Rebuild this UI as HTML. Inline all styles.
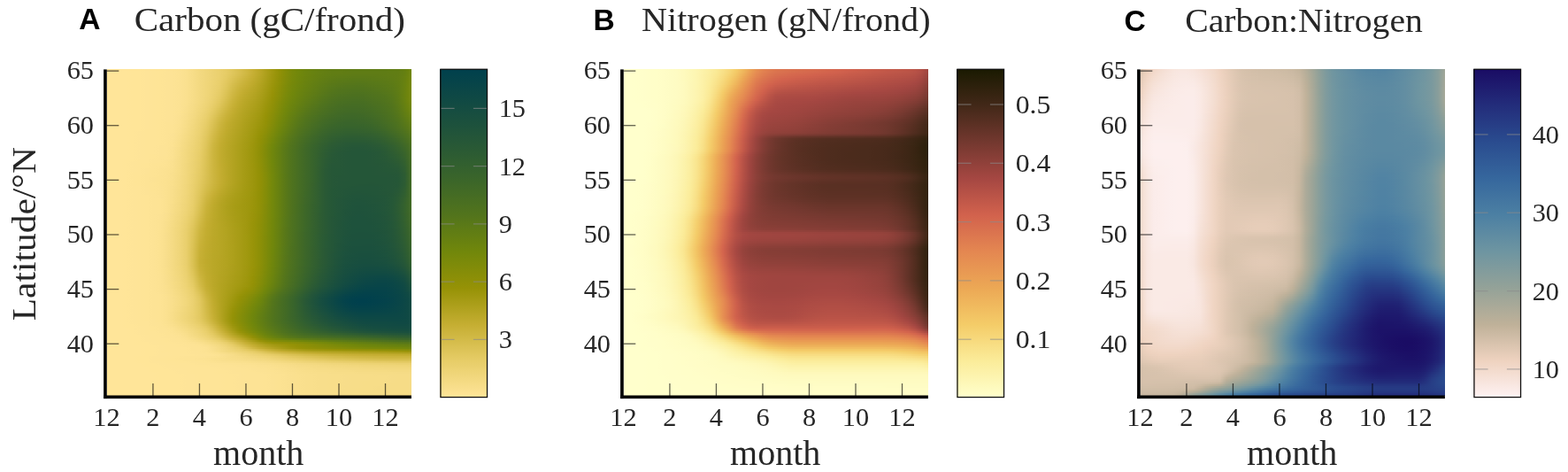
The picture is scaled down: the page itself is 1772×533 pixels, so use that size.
<!DOCTYPE html>
<html><head><meta charset="utf-8"><title>Carbon, Nitrogen and Carbon:Nitrogen by latitude and month</title>
<style>
html,body{margin:0;padding:0;background:#fff}
#fig{position:relative;width:1772px;height:533px;overflow:hidden;background:#fff}
.hm{position:absolute;overflow:hidden}
.hm div{position:absolute;left:0;right:0}
.cb{position:absolute;top:78px;width:53.5px;height:371px}
svg{position:absolute;left:0;top:0}
text.s{font-family:"Liberation Serif",serif;fill:#262626}
text.b{font-family:"Liberation Sans",sans-serif;font-weight:bold;fill:#000}
.tk{fill:#000;fill-opacity:.62}
.ck{fill:#8a8a8a;fill-opacity:.62}
</style></head><body><div id="fig">
<div class="hm" style="left:120.50px;top:78.40px;width:344.40px;height:368.40px"><div style="top:0px;height:2.5px;background:linear-gradient(90deg,#ffe599,#ffe599,#ffe599,#ffe599,#ffe598,#ffe598,#fee498,#fee497,#fee496,#fde396,#fde395,#fce293,#fae08f,#f7dd88,#f3d981,#f0d67b,#edd375,#ead06e,#e6cc66,#dfc65c,#d8bf50,#d0b843,#c7b035,#bca829,#aea01c,#a0980f,#929107,#848d08,#78890a,#71870b,#6c840e,#688210,#658012,#637e13,#617d14,#617d14,#607c14,#5f7c15,#5f7c15,#5f7c15,#5f7c15,#5f7c15,#5f7c15,#607d14,#617d14,#658011,#72870b)"></div><div style="top:2px;height:2.5px;background:linear-gradient(90deg,#ffe599,#ffe599,#ffe599,#ffe599,#ffe598,#ffe598,#fee498,#fee497,#fee496,#fde396,#fde395,#fce293,#fae08f,#f7dd88,#f3d981,#f0d67b,#edd375,#ead06e,#e6cc66,#dfc65c,#d8bf50,#d0b843,#c7b035,#bca829,#aea01c,#a0980f,#929107,#848d08,#78890a,#71870b,#6c840e,#688210,#658012,#637e13,#617d14,#617d14,#607c14,#5f7c15,#5f7c15,#5f7c15,#5f7c15,#5f7c15,#5f7c15,#607d14,#617d14,#658011,#72870b)"></div><div style="top:4px;height:2.5px;background:linear-gradient(90deg,#ffe599,#ffe599,#ffe599,#ffe599,#ffe598,#ffe598,#fee498,#fee497,#fee496,#fde396,#fde395,#fce293,#fae08f,#f7dd88,#f3d981,#f0d67b,#edd375,#ead06e,#e6cc66,#dfc65c,#d8bf50,#d0b843,#c7b035,#bca829,#aea01c,#a0980f,#929107,#848d08,#78890a,#71870b,#6c840e,#688210,#658012,#637e13,#617d14,#617d14,#607c14,#5f7c15,#5f7c15,#5f7c15,#5f7c15,#5f7c15,#5f7c15,#607d14,#617d14,#658011,#72870b)"></div><div style="top:6px;height:2.5px;background:linear-gradient(90deg,#ffe599,#ffe599,#ffe599,#ffe599,#ffe598,#ffe598,#fee498,#fee497,#fee496,#fde396,#fde395,#fce293,#fae08f,#f7dd88,#f3d981,#f0d67b,#edd375,#ead06e,#e5cb65,#dec55a,#d6be4e,#ceb741,#c6af34,#bba828,#ada01c,#9f970e,#919107,#848d08,#78890a,#70870b,#6c840e,#688110,#647f12,#627e13,#607d14,#5f7c15,#5e7c15,#5e7b16,#5d7b16,#5d7b16,#5e7b16,#5e7b15,#5f7c15,#607c15,#617d14,#668011,#73880b)"></div><div style="top:8px;height:2.5px;background:linear-gradient(90deg,#ffe599,#ffe599,#ffe599,#ffe599,#ffe598,#ffe598,#fee498,#fee497,#fee496,#fde396,#fde395,#fce293,#fae08f,#f7dd88,#f3d981,#f0d67b,#edd375,#ead06e,#e4cb64,#ddc457,#d5bc4b,#cdb53e,#c5ae32,#b9a727,#ac9f1b,#9e970e,#919007,#838c09,#77890a,#70860c,#6b830e,#678110,#647f12,#617d14,#5f7c15,#5e7b16,#5d7b16,#5c7a17,#5c7a17,#5c7a17,#5c7a16,#5d7b16,#5e7b16,#5f7c15,#617d14,#678111,#74880b)"></div><div style="top:10px;height:2.5px;background:linear-gradient(90deg,#ffe599,#ffe599,#ffe599,#ffe599,#ffe598,#ffe598,#fee498,#fee497,#fee496,#fde396,#fde395,#fce293,#fae08f,#f7dd88,#f3d981,#f0d67b,#edd374,#ead06d,#e4ca63,#dbc255,#d3bb48,#cbb43c,#c3ad30,#b8a626,#ab9f1a,#9e970d,#909007,#838c09,#77890a,#70860c,#6b830e,#678111,#637e13,#607c14,#5e7b16,#5c7a17,#5b7a17,#5a7917,#5a7918,#5a7918,#5b7a17,#5c7a17,#5d7b16,#5e7c15,#617d14,#678110,#75880a)"></div><div style="top:12px;height:2.5px;background:linear-gradient(90deg,#ffe599,#ffe599,#ffe599,#ffe599,#ffe598,#ffe598,#fee498,#fee497,#fee496,#fde396,#fde395,#fce293,#fae08f,#f7dd88,#f3d981,#f0d67b,#edd374,#e9cf6d,#e3c961,#dac153,#d1b945,#cab23a,#c2ac2f,#b7a625,#aa9e19,#9d960c,#8f9007,#828c09,#76890a,#6f860c,#6a830f,#668011,#627e13,#5f7c15,#5c7a16,#5a7917,#597918,#587818,#587819,#597818,#5a7918,#5b7917,#5c7a17,#5e7b16,#617d14,#688110,#76880a)"></div><div style="top:14px;height:2.5px;background:linear-gradient(90deg,#ffe599,#ffe599,#ffe599,#ffe599,#ffe598,#ffe598,#fee498,#fee497,#fee496,#fde396,#fde395,#fce293,#fae08f,#f7dd88,#f3d981,#f0d67a,#edd374,#e9cf6c,#e2c860,#d8c051,#cfb843,#c8b137,#c0ab2d,#b6a524,#a99e18,#9c960c,#8f9007,#818c09,#76880a,#6f850c,#69820f,#658012,#617d14,#5e7b16,#5b7917,#597818,#587719,#577719,#56771a,#577719,#587819,#597918,#5b7917,#5d7b16,#607d14,#688110,#77890a)"></div><div style="top:16px;height:2.5px;background:linear-gradient(90deg,#ffe599,#ffe599,#ffe599,#ffe599,#ffe598,#ffe598,#fee498,#fee497,#fee496,#fde396,#fde395,#fce293,#fae08f,#f7dd88,#f3d981,#f0d67a,#edd374,#e9cf6b,#e1c75e,#d7be4e,#ceb640,#c7b035,#bfaa2c,#b4a422,#a89d17,#9b950b,#8e9007,#808c09,#75880a,#6e850d,#698210,#647f12,#607d14,#5c7a16,#597818,#577719,#56761a,#55761a,#54761b,#55761a,#577719,#587819,#5a7918,#5c7a16,#607d14,#688210,#77890a)"></div><div style="top:18px;height:2.5px;background:linear-gradient(90deg,#ffe599,#ffe599,#ffe599,#ffe599,#ffe598,#ffe598,#fee498,#fee497,#fee496,#fde396,#fde395,#fce293,#fae08f,#f7dd88,#f3d981,#f0d67a,#ecd273,#e8ce6b,#e0c75d,#d5bd4c,#ccb53e,#c6ae33,#bda92a,#b3a321,#a79c16,#9a950a,#8d8f07,#7f8b09,#74880b,#6d850d,#688210,#637f12,#5f7c15,#5b7a17,#587819,#56761a,#54751b,#53751b,#53741c,#54751b,#56761a,#577719,#597818,#5b7a17,#607c14,#688210,#78890a)"></div><div style="top:20px;height:2.5px;background:linear-gradient(90deg,#ffe599,#ffe599,#ffe599,#ffe599,#ffe598,#ffe598,#fee498,#fee497,#fee496,#fde396,#fde395,#fce293,#fae08f,#f7dd88,#f3d981,#f0d67a,#ecd273,#e8ce6a,#dfc65b,#d4bc4a,#cbb33b,#c4ad31,#bba829,#b2a320,#a69c15,#999409,#8c8f07,#7e8b09,#74880b,#6d840d,#678110,#637e13,#5e7b15,#5a7918,#56771a,#54751b,#53741c,#52741c,#51741c,#52741c,#54751b,#56761a,#587819,#5a7917,#5f7c15,#698210,#78890a)"></div><div style="top:22px;height:2.5px;background:linear-gradient(90deg,#ffe599,#ffe599,#ffe599,#ffe599,#ffe598,#ffe598,#fee498,#fee497,#fee496,#fde396,#fde395,#fce293,#fae08f,#f7dd88,#f3d981,#f0d67a,#ecd272,#e7cd69,#dec55a,#d3bb48,#c9b239,#c2ac2f,#baa728,#b1a21f,#a59b14,#999408,#8b8f07,#7e8b09,#73880b,#6c840e,#668111,#627e13,#5d7b16,#597818,#55761a,#52741c,#51731d,#50731d,#50731d,#51731d,#53741c,#55761b,#577719,#5a7918,#5f7c15,#698210,#78890a)"></div><div style="top:24px;height:2.5px;background:linear-gradient(90deg,#ffe599,#ffe599,#ffe599,#ffe599,#ffe598,#ffe598,#fee498,#fee497,#fee496,#fde396,#fde395,#fce293,#fae08f,#f7dd88,#f3d981,#f0d67a,#ecd272,#e7cd68,#ddc458,#d1b946,#c8b137,#c0ab2e,#b9a726,#b0a11e,#a49b14,#989307,#8a8f08,#7d8a09,#72870b,#6b830e,#668011,#617d14,#5c7a17,#577719,#53751b,#51731d,#50731d,#4f721e,#4f721e,#50731d,#51741c,#53751b,#56761a,#597818,#5f7c15,#698210,#78890a)"></div><div style="top:26px;height:2.5px;background:linear-gradient(90deg,#ffe599,#ffe599,#ffe599,#ffe599,#ffe598,#ffe598,#fee498,#fee497,#fee496,#fde396,#fde395,#fce293,#fae08f,#f7dd88,#f3d981,#f0d67a,#ecd271,#e6cc67,#dcc356,#d0b844,#c7b035,#bfaa2c,#b7a625,#aea11d,#a39a13,#979207,#898e08,#7c8a0a,#71870b,#6a830f,#657f12,#607c14,#5b7917,#56761a,#52741c,#50731d,#4f721e,#4e711f,#4d711f,#4e721e,#50731d,#52741c,#55761b,#587819,#5e7c15,#698210,#78890a)"></div><div style="top:28px;height:2.5px;background:linear-gradient(90deg,#ffe599,#ffe599,#ffe599,#ffe599,#ffe598,#ffe598,#fee498,#fee497,#fee496,#fde396,#fde395,#fce293,#fae08f,#f7dd88,#f3d981,#f0d67a,#ebd171,#e5cc66,#dbc255,#cfb742,#c6af33,#bda92b,#b6a524,#ada01c,#a29912,#969206,#898e08,#7b8a0a,#70870b,#6a820f,#647f12,#5f7c15,#5a7918,#55761b,#51731d,#4e721e,#4d711f,#4c701f,#4c701f,#4d711f,#4f721e,#51731d,#53751b,#577719,#5e7b15,#69820f,#78890a)"></div><div style="top:30px;height:2.5px;background:linear-gradient(90deg,#ffe599,#ffe599,#ffe599,#ffe599,#ffe598,#ffe598,#fee498,#fee497,#fee496,#fde396,#fde395,#fce293,#fae08f,#f7dd88,#f3d981,#f0d679,#ebd170,#e5cb64,#dac153,#ceb640,#c4ae31,#bca92a,#b5a423,#ac9f1b,#a19911,#959206,#888e08,#7a8a0a,#70860c,#69820f,#637e13,#5e7b16,#587818,#53751b,#50721d,#4d711f,#4c7020,#4b7020,#4b6f20,#4c7020,#4e721e,#50731d,#52741c,#56771a,#5d7b16,#69820f,#78890a)"></div><div style="top:32px;height:2.5px;background:linear-gradient(90deg,#ffe599,#ffe599,#ffe599,#ffe599,#ffe598,#ffe598,#fee498,#fee497,#fee496,#fde396,#fde395,#fce293,#fae08f,#f7dd88,#f3d981,#efd579,#ebd16f,#e4ca63,#d9c051,#cdb53e,#c3ad30,#bba828,#b4a422,#ab9f1a,#a09810,#949106,#878d08,#79890a,#6f860c,#688110,#627e13,#5d7a16,#577719,#52741c,#4e721e,#4c7020,#4b6f20,#4a6f21,#4a6f21,#4b6f20,#4d711f,#4f721e,#51741c,#55761a,#5d7b16,#698210,#78890a)"></div><div style="top:34px;height:2.5px;background:linear-gradient(90deg,#ffe599,#ffe599,#ffe599,#ffe599,#ffe598,#ffe598,#fee498,#fee497,#fee496,#fde396,#fde395,#fce293,#fae08f,#f7dd88,#f3d981,#efd579,#ead06f,#e3c961,#d7bf4f,#cbb43c,#c2ac2f,#b9a727,#b2a321,#aa9e19,#9f980f,#939106,#868d08,#78890a,#6e850d,#678110,#617d14,#5b7a17,#56761a,#51731d,#4d711f,#4b6f20,#496f21,#496e22,#486e22,#4a6f21,#4c7020,#4e721e,#51731d,#54761b,#5c7a16,#688210,#78890a)"></div><div style="top:36px;height:2.5px;background:linear-gradient(90deg,#ffe599,#ffe599,#ffe599,#ffe599,#ffe598,#ffe598,#fee498,#fee497,#fee496,#fde396,#fde395,#fce293,#fae08f,#f7dd88,#f3d980,#efd578,#ead06d,#e2c85f,#d6bd4d,#cab33a,#c0ab2e,#b8a626,#b1a21f,#a99d18,#9e970e,#929107,#848d08,#77890a,#6d850d,#668011,#607c15,#5a7918,#54751b,#50731d,#4c7020,#496f21,#486e22,#476d22,#476d22,#486e22,#4b6f20,#4d711f,#50731d,#54751b,#5c7a17,#688110,#77890a)"></div><div style="top:38px;height:2.5px;background:linear-gradient(90deg,#ffe599,#ffe599,#ffe599,#ffe599,#ffe598,#ffe598,#fee498,#fee497,#fee496,#fde396,#fde395,#fce293,#fae08e,#f6dc88,#f3d980,#eed477,#e9cf6c,#e0c75d,#d4bc4a,#c9b238,#bfaa2c,#b7a625,#b0a11e,#a89d17,#9d960d,#919107,#838c09,#76880a,#6c840e,#658012,#5e7c15,#597818,#53751c,#4e721e,#4b6f20,#486e22,#476d22,#466d23,#466d23,#476d22,#4a6f21,#4c701f,#4f721e,#53741c,#5b7a17,#678110,#76880a)"></div><div style="top:40px;height:2.5px;background:linear-gradient(90deg,#ffe599,#ffe599,#ffe599,#ffe599,#ffe598,#ffe598,#fee498,#fee497,#fee496,#fde396,#fde395,#fce293,#fae08e,#f6dc87,#f2d87f,#eed476,#e8ce6a,#dfc55b,#d3bb48,#c8b136,#beaa2b,#b6a524,#afa11d,#a79c16,#9c960c,#909007,#828c09,#75880b,#6b830e,#647f12,#5d7b16,#577719,#51741c,#4d711f,#4a6f21,#476d22,#466c23,#456c24,#456c24,#466d23,#496e21,#4b7020,#4e721e,#52741c,#5a7918,#668011,#74880b)"></div><div style="top:42px;height:2.5px;background:linear-gradient(90deg,#ffe599,#ffe599,#ffe599,#ffe599,#ffe598,#ffe598,#fee498,#fee497,#fee496,#fde396,#fde395,#fce293,#f9df8e,#f6dc86,#f2d87e,#edd375,#e7cd68,#ddc458,#d1b945,#c7af35,#bda92a,#b5a423,#aea01c,#a69c15,#9b950b,#8f9007,#818c09,#73880b,#6a830f,#627e13,#5c7a17,#56761a,#50731d,#4c7020,#486e22,#466c23,#446b24,#446b24,#446b24,#456c23,#476d22,#4a6f21,#4d711f,#51731c,#597818,#658011,#73880b)"></div><div style="top:44px;height:2.5px;background:linear-gradient(90deg,#ffe599,#ffe599,#ffe599,#ffe599,#ffe598,#ffe598,#fee498,#fee497,#fee496,#fde396,#fde395,#fce293,#f9df8d,#f6dc86,#f1d77d,#edd373,#e6cc66,#dbc255,#d0b843,#c5ae33,#bba829,#b4a422,#ad9f1b,#a59b14,#9a950a,#8e9007,#808b09,#72870b,#69820f,#617d14,#5a7917,#54751b,#4f721e,#4b6f20,#476d22,#456c24,#436b25,#436a25,#436a25,#446b24,#466d23,#496f21,#4c711f,#50731d,#587819,#647f12,#71870b)"></div><div style="top:46px;height:2.5px;background:linear-gradient(90deg,#ffe599,#ffe599,#ffe599,#ffe599,#ffe598,#ffe598,#fee498,#fee497,#fee496,#fde396,#fde395,#fce292,#f9df8d,#f5db85,#f1d77c,#ecd272,#e5cb64,#d9c152,#ceb640,#c4ad31,#baa828,#b2a321,#ac9f1a,#a49a13,#999409,#8d8f07,#7e8b09,#71870b,#688110,#607c14,#597818,#52741c,#4e711f,#496f21,#466c23,#436b25,#426a25,#416a26,#426a26,#436b25,#456c23,#486e22,#4c7020,#50731d,#577719,#637e13,#6f860c)"></div><div style="top:48px;height:2.5px;background:linear-gradient(90deg,#ffe599,#ffe599,#ffe599,#ffe599,#ffe598,#ffe598,#fee498,#fee497,#fee496,#fde396,#fde395,#fce292,#f9df8c,#f5db84,#f0d67b,#ebd171,#e3ca62,#d8bf50,#ccb53e,#c3ad30,#b9a727,#b1a220,#aa9e19,#a39a12,#989308,#8b8f07,#7d8b09,#70860c,#668111,#5e7c15,#577719,#51731d,#4c701f,#486e22,#456c24,#426a25,#416926,#406926,#416926,#426a25,#446b24,#476d22,#4b6f20,#4f721e,#56771a,#617d14,#6e850d)"></div><div style="top:50px;height:2.5px;background:linear-gradient(90deg,#ffe599,#ffe599,#ffe599,#ffe599,#ffe598,#ffe598,#fee498,#fee497,#fee496,#fde396,#fde395,#fce292,#f8de8c,#f4da84,#f0d67a,#ead06f,#e2c860,#d6bd4d,#cbb33b,#c1ac2e,#b8a626,#b0a21f,#a99e18,#a29911,#979307,#8a8e08,#7c8a0a,#6f860c,#658011,#5d7b16,#56761a,#50731d,#4b7020,#476d23,#436b25,#416926,#3f6827,#3f6827,#3f6827,#416926,#436b25,#466d23,#4a6f21,#4e721e,#55761a,#607d14,#6c840e)"></div><div style="top:52px;height:2.5px;background:linear-gradient(90deg,#ffe599,#ffe599,#ffe599,#ffe599,#ffe598,#ffe598,#fee498,#fee497,#fee496,#fde396,#fde395,#fbe192,#f8de8b,#f4da83,#efd579,#ead06e,#e0c75d,#d4bc4a,#c9b239,#c0ab2d,#b7a625,#b0a11e,#a99d17,#a19910,#969206,#898e08,#7a8a0a,#6e850d,#647f12,#5c7a17,#54751b,#4e721e,#496f21,#456c23,#426a25,#406927,#3e6828,#3e6728,#3e6827,#406827,#426a25,#456c24,#496e21,#4d711f,#54751b,#5f7c15,#6a830f)"></div><div style="top:54px;height:2.5px;background:linear-gradient(90deg,#ffe599,#ffe599,#ffe599,#ffe599,#ffe598,#ffe598,#fee498,#fee497,#fee496,#fde396,#fde395,#fbe191,#f8de8b,#f4da82,#efd578,#e9cf6c,#dfc65b,#d2ba47,#c8b137,#bfaa2c,#b6a524,#afa11d,#a89c16,#a09810,#959206,#888e08,#79890a,#6d840d,#637e13,#5a7918,#53741c,#4d711f,#486e22,#446b24,#416926,#3e6827,#3d6728,#3d6728,#3d6728,#3e6827,#416926,#446b24,#486e22,#4c711f,#53741c,#5d7b16,#688210)"></div><div style="top:56px;height:2.5px;background:linear-gradient(90deg,#ffe599,#ffe599,#ffe599,#ffe599,#ffe598,#ffe598,#fee498,#fee497,#fee496,#fde396,#fde395,#fbe191,#f8de8a,#f3d981,#eed477,#e8ce6b,#dec459,#d1b945,#c7b035,#bda92b,#b6a524,#aea01c,#a79c16,#9f970f,#949206,#878d08,#78890a,#6c840e,#627e13,#597818,#51741c,#4c7020,#476d23,#426a25,#3f6827,#3d6728,#3c6629,#3b6629,#3c6629,#3d6728,#3f6827,#436a25,#476d23,#4b7020,#51741c,#5b7a17,#668111)"></div><div style="top:58px;height:2.5px;background:linear-gradient(90deg,#ffe599,#ffe599,#ffe599,#ffe599,#ffe598,#ffe598,#fee498,#fee497,#fee496,#fde396,#fde395,#fbe191,#f7dd89,#f3d980,#eed476,#e8ce69,#dcc357,#cfb843,#c6af33,#bca92a,#b5a423,#ada01c,#a69b15,#9e970e,#939106,#858d08,#76890a,#6b830e,#607d14,#577719,#50731d,#4b6f20,#456c23,#416926,#3e6828,#3c6629,#3a652a,#3a652a,#3b652a,#3c6629,#3e6828,#416a26,#466c23,#4b6f20,#50731d,#5a7918,#657f12)"></div><div style="top:60px;height:2.5px;background:linear-gradient(90deg,#ffe599,#ffe599,#ffe599,#ffe599,#ffe598,#ffe598,#fee498,#fee497,#fee496,#fde395,#fde395,#fbe191,#f7dd89,#f3d980,#edd375,#e7cd68,#dbc255,#ceb641,#c4ae31,#bba829,#b4a422,#ac9f1b,#a59b14,#9d960d,#939106,#848d08,#75880a,#6a820f,#5f7c15,#56771a,#4f721e,#496f21,#446b24,#406927,#3d6728,#3a652a,#39642b,#39642b,#3a652a,#3b652a,#3d6728,#406926,#456c24,#496f21,#4f721e,#587819,#637e13)"></div><div style="top:62px;height:2.5px;background:linear-gradient(90deg,#ffe599,#ffe599,#ffe599,#ffe599,#ffe598,#ffe598,#fee498,#fee497,#fee496,#fde395,#fde394,#fbe190,#f7dd88,#f2d87f,#edd374,#e6cc67,#dac153,#cdb53f,#c3ad30,#bba828,#b3a321,#ac9f1a,#a49b13,#9c960c,#929107,#838c09,#74880b,#698210,#5e7b15,#55761a,#4e721e,#486e22,#436b25,#3e6827,#3b6629,#39652a,#38642b,#38642b,#38642b,#39652a,#3b6629,#3f6827,#436b25,#486e22,#4e721e,#577719,#617d14)"></div><div style="top:64px;height:2.5px;background:linear-gradient(90deg,#ffe599,#ffe599,#ffe599,#ffe599,#ffe598,#ffe598,#fee498,#fee497,#fee496,#fde395,#fde394,#fbe190,#f7dd88,#f2d87e,#edd373,#e5cc65,#d9c052,#ccb53e,#c2ac30,#baa728,#b3a321,#ab9e1a,#a49a13,#9b950b,#919007,#828c09,#73870b,#678110,#5d7b16,#54751b,#4d711f,#476d22,#426a26,#3d6728,#3a652a,#38642b,#37632c,#37632c,#37632c,#38642b,#3a652a,#3d6728,#426a25,#476d22,#4d711f,#55761a,#607c15)"></div><div style="top:66px;height:2.5px;background:linear-gradient(90deg,#ffe599,#ffe599,#ffe599,#ffe599,#ffe598,#ffe598,#fee498,#fee497,#fee496,#fde395,#fde394,#fae090,#f6dc87,#f2d87e,#ecd273,#e5cb64,#d8bf50,#cbb43c,#c2ac2f,#b9a727,#b2a320,#aa9e19,#a39a12,#9a950a,#8f9007,#808c09,#71870b,#668011,#5c7a17,#52741c,#4c7020,#466c23,#406926,#3c6629,#39642b,#37632c,#35622d,#35622d,#36622d,#37632c,#38642b,#3c6629,#406926,#466c23,#4c7020,#53751b,#5e7b16)"></div><div style="top:68px;height:2.5px;background:linear-gradient(90deg,#ffe599,#ffe599,#ffe599,#ffe599,#ffe598,#ffe598,#fee497,#fee497,#fee496,#fde395,#fde394,#fae08f,#f6dc87,#f1d77d,#ecd272,#e4ca63,#d7be4f,#cbb33b,#c1ab2e,#b8a626,#b1a21f,#aa9e18,#a29911,#999409,#8e9007,#7f8b09,#70860c,#658012,#5a7917,#51731d,#4b6f20,#446c24,#3f6827,#3a652a,#37632c,#35622d,#34612e,#34612e,#34612e,#35622d,#37632c,#3a652a,#3e6827,#446b24,#4a6f21,#51731d,#5c7a17)"></div><div style="top:70px;height:2.5px;background:linear-gradient(90deg,#ffe599,#ffe599,#ffe599,#ffe599,#ffe598,#fee498,#fee497,#fee497,#fee496,#fde395,#fde394,#fae08f,#f6dc86,#f1d77c,#ecd271,#e3c962,#d6bd4d,#cab239,#c0ab2d,#b8a626,#b0a21f,#a99d18,#a19911,#989308,#8d8f07,#7d8b09,#6f850c,#647f12,#597818,#50731d,#496f21,#436b25,#3d6728,#39642b,#36622d,#34612e,#32602f,#32602f,#33602f,#34612e,#35622d,#38642b,#3c6629,#426a25,#486e22,#4f721e,#5a7918)"></div><div style="top:72px;height:2.5px;background:linear-gradient(90deg,#ffe599,#ffe599,#ffe599,#ffe599,#ffe598,#fee498,#fee497,#fee497,#fee496,#fde395,#fce294,#fae08e,#f5db85,#f1d77c,#ebd171,#e2c961,#d5bc4b,#c9b138,#bfaa2c,#b7a625,#b0a11e,#a89d17,#a19810,#979307,#8b8f07,#7b8a0a,#6d850d,#627e13,#587719,#4f721e,#486e22,#426a25,#3c6629,#38632c,#34612e,#32602f,#315f30,#315e30,#315f30,#325f2f,#33602e,#36622d,#3a652a,#406927,#466c23,#4d711f,#587719)"></div><div style="top:74px;height:2.5px;background:linear-gradient(90deg,#ffe599,#ffe599,#ffe599,#ffe599,#ffe598,#fee498,#fee497,#fee497,#fee496,#fde395,#fce294,#f9df8d,#f5db84,#f0d67b,#ebd170,#e2c85f,#d4bb49,#c8b137,#beaa2c,#b6a524,#afa11d,#a89d17,#a0980f,#969206,#898e08,#7a8a0a,#6c840e,#617d14,#56771a,#4e711f,#476d23,#406926,#3b652a,#36622c,#33602f,#315f30,#2f5e31,#2f5d31,#2f5d31,#305e30,#325f30,#34612e,#38642b,#3d6728,#446b24,#4b7020,#55761a)"></div><div style="top:76px;height:2.5px;background:linear-gradient(90deg,#ffe599,#ffe599,#ffe599,#ffe599,#ffe598,#fee498,#fee497,#fee497,#fee496,#fde395,#fce293,#f9df8d,#f5db84,#f0d67a,#ead06f,#e1c75e,#d3ba48,#c7b035,#bdaa2b,#b6a524,#aea11d,#a79c16,#9f980f,#959206,#888e08,#78890a,#6a830f,#5f7c15,#55761b,#4c701f,#456c23,#3f6827,#39642a,#35612d,#315f30,#2f5e31,#2e5c32,#2d5c32,#2d5c32,#2e5d32,#305e31,#32602f,#36622d,#3b6629,#426a26,#496f21,#53751b)"></div><div style="top:78px;height:2.5px;background:linear-gradient(90deg,#ffe599,#ffe599,#ffe599,#ffe599,#ffe598,#fee498,#fee497,#fee497,#fee496,#fde395,#fce293,#f9df8c,#f4da83,#f0d67a,#ead06e,#e0c75d,#d2ba46,#c6af34,#bda92a,#b5a523,#aea01c,#a79c15,#9f970e,#949106,#868d08,#76890a,#69820f,#5e7b15,#53751b,#4b7020,#446b24,#3e6728,#38642b,#34602e,#305e30,#2e5c32,#2c5b33,#2b5b33,#2c5b33,#2c5c33,#2e5d32,#305e30,#34612e,#39642b,#3f6827,#476d22,#51731d)"></div><div style="top:80px;height:2.5px;background:linear-gradient(90deg,#ffe599,#ffe599,#ffe599,#ffe599,#ffe598,#fee498,#fee497,#fee497,#fee496,#fde395,#fce293,#f8de8c,#f4da82,#efd579,#ead06e,#dfc65c,#d1b945,#c6af33,#bca92a,#b5a423,#ada01c,#a69c15,#9e970e,#939106,#858d08,#75880a,#688110,#5d7b16,#52741c,#4a6f21,#436b25,#3c6729,#37632c,#32602f,#2f5d31,#2c5b33,#2b5a34,#2a5a34,#2a5a34,#2b5a34,#2c5b33,#2e5d32,#325f2f,#37632c,#3d6728,#456c24,#4f721d)"></div><div style="top:82px;height:2.5px;background:linear-gradient(90deg,#ffe599,#ffe599,#ffe599,#ffe599,#ffe598,#fee498,#fee497,#fee497,#fee496,#fde395,#fce292,#f8de8b,#f3d981,#efd578,#e9cf6d,#dfc55b,#d0b843,#c5ae32,#bca829,#b4a422,#ada01b,#a59b15,#9e960d,#939106,#848d08,#74880b,#678111,#5b7a17,#51731d,#496e21,#426a25,#3b6629,#36622d,#315f30,#2d5c32,#2b5a34,#295935,#285935,#285935,#295935,#2a5a34,#2d5c33,#305e30,#35612d,#3b652a,#436b25,#4e711e)"></div><div style="top:84px;height:2.5px;background:linear-gradient(90deg,#ffe599,#ffe599,#ffe599,#ffe599,#ffe598,#fee498,#fee497,#fee497,#fee496,#fde395,#fce292,#f8de8a,#f3d981,#efd578,#e9cf6c,#dec55a,#cfb742,#c4ae31,#bba829,#b4a422,#ac9f1b,#a59b14,#9d960d,#929107,#828c09,#72870b,#668011,#5a7917,#50731d,#486e22,#416926,#3a652a,#35612d,#305e30,#2c5b33,#2a5a35,#285836,#275836,#275836,#285836,#295935,#2b5a34,#2e5d31,#33602e,#39642b,#416926,#4c701f)"></div><div style="top:86px;height:2.5px;background:linear-gradient(90deg,#ffe599,#ffe599,#ffe599,#ffe599,#ffe598,#fee498,#fee497,#fee497,#fde396,#fde395,#fce292,#f8de8a,#f3d980,#eed477,#e9cf6c,#dec459,#ceb741,#c4ad31,#bba828,#b3a321,#ac9f1a,#a59b14,#9d960c,#919107,#818c09,#71870b,#658012,#597918,#4f721d,#486d22,#406926,#39652a,#34612e,#2f5d31,#2b5a34,#295935,#275836,#265737,#265737,#265737,#285836,#2a5935,#2d5c33,#315f30,#37632c,#3f6827,#4b7020)"></div><div style="top:88px;height:2.5px;background:linear-gradient(90deg,#ffe599,#ffe599,#ffe599,#ffe599,#ffe598,#fee498,#fee497,#fee497,#fde396,#fde395,#fbe192,#f7dd89,#f3d980,#eed476,#e9cf6b,#ddc458,#ceb640,#c3ad30,#baa828,#b3a321,#ac9f1a,#a49b14,#9c960c,#919007,#808c09,#70870b,#647f12,#597818,#4f721e,#476d22,#3f6827,#39642b,#33602e,#2e5d32,#2a5a34,#285836,#265737,#255637,#255638,#265737,#275737,#285935,#2b5b33,#305e31,#35622d,#3d6728,#4a6f21)"></div><div style="top:90px;height:2.5px;background:linear-gradient(90deg,#ffe599,#ffe599,#ffe599,#ffe599,#ffe598,#fee498,#fee497,#fee497,#fde396,#fde395,#fbe191,#f7dd89,#f2d87f,#eed476,#e8ce6b,#ddc357,#ceb640,#c3ad30,#baa828,#b3a321,#ab9f1a,#a49a13,#9c960c,#919007,#808b09,#70860c,#647f12,#587819,#4e721e,#466d23,#3f6827,#38642b,#33602f,#2d5c32,#295935,#275836,#265737,#255638,#245638,#255638,#265737,#275836,#2a5a34,#2f5d31,#34612e,#3c6629,#496e21)"></div><div style="top:92px;height:2.5px;background:linear-gradient(90deg,#ffe599,#ffe599,#ffe599,#ffe599,#ffe598,#fee498,#fee497,#fee497,#fde396,#fde395,#fbe191,#f7dd88,#f2d87f,#eed475,#e8ce6a,#dcc357,#cdb63f,#c3ad30,#baa728,#b3a321,#ab9f1a,#a49a13,#9c960c,#909007,#808b09,#70860c,#647f12,#587819,#4e721e,#466d23,#3f6827,#38642b,#32602f,#2d5c33,#295935,#275737,#255637,#245638,#245638,#245638,#255737,#275737,#295935,#2e5c32,#33602f,#3a652a,#486e22)"></div><div style="top:94px;height:2.5px;background:linear-gradient(90deg,#ffe599,#ffe599,#ffe599,#ffe599,#ffe598,#fee498,#fee497,#fee497,#fde396,#fde395,#fbe191,#f7dd88,#f2d87e,#edd375,#e8ce69,#dcc356,#cdb63f,#c3ad30,#baa728,#b3a321,#ab9f1a,#a49a13,#9c960c,#909007,#808b09,#70860c,#637f12,#587819,#4e721e,#466d23,#3f6827,#38642b,#325f2f,#2c5b33,#285936,#265737,#255638,#245638,#245638,#245638,#255638,#265737,#295935,#2d5c33,#325f2f,#39642b,#486d22)"></div><div style="top:96px;height:2.5px;background:linear-gradient(90deg,#ffe599,#ffe599,#ffe599,#ffe599,#ffe598,#fee498,#fee497,#fee496,#fde396,#fde395,#fbe191,#f7dd88,#f2d87e,#edd375,#e7cd69,#dcc356,#cdb63f,#c3ad30,#baa728,#b3a321,#ab9f1a,#a49a13,#9c960c,#909007,#808b09,#70860c,#647f12,#587819,#4e721e,#466d23,#3f6827,#38642b,#325f2f,#2c5b33,#285836,#265737,#255638,#245638,#245638,#245638,#255638,#265737,#285935,#2c5b33,#305e30,#38632b,#476d22)"></div><div style="top:98px;height:2.5px;background:linear-gradient(90deg,#ffe599,#ffe599,#ffe599,#ffe599,#ffe598,#fee498,#fee497,#fee496,#fde395,#fde394,#fbe190,#f6dc88,#f2d87e,#edd374,#e7cd68,#dbc255,#cdb63f,#c3ad30,#baa728,#b3a321,#ab9f1a,#a49a13,#9c960c,#919007,#808b09,#70860c,#647f12,#587819,#4e721e,#466d23,#3f6827,#38642b,#325f2f,#2c5b33,#285836,#265737,#255638,#245638,#245638,#245638,#255638,#265737,#285836,#2b5b34,#2f5e31,#37632c,#466d23)"></div><div style="top:100px;height:2.5px;background:linear-gradient(90deg,#ffe599,#ffe599,#ffe599,#ffe599,#ffe598,#fee498,#fee497,#fee496,#fde395,#fde394,#fbe190,#f6dc87,#f2d87e,#edd374,#e7cd68,#dbc255,#cdb63f,#c3ad30,#baa828,#b3a321,#ab9f1a,#a49a13,#9c960c,#919007,#808c09,#70860c,#647f12,#587819,#4e721e,#466d23,#3f6827,#38642b,#315f30,#2b5b34,#275836,#265737,#255638,#245638,#245638,#245638,#255638,#265737,#275836,#2a5a34,#2e5d32,#36622d,#466d23)"></div><div style="top:102px;height:2.5px;background:linear-gradient(90deg,#ffe599,#ffe599,#ffe599,#ffe598,#ffe598,#fee497,#fee497,#fde396,#fde395,#fce294,#fae090,#f6dc87,#f2d87e,#edd373,#e7cd67,#dbc255,#ceb640,#c3ad30,#baa828,#b3a321,#ab9f1a,#a49a13,#9c960c,#919107,#818c09,#70870b,#647f12,#587819,#4e721e,#466d23,#3f6827,#38642b,#315f30,#2b5a34,#275836,#265737,#255638,#245638,#245638,#245638,#255638,#255737,#275836,#2a5935,#2d5c32,#34612e,#466c23)"></div><div style="top:104px;height:2.5px;background:linear-gradient(90deg,#ffe599,#ffe599,#ffe599,#ffe598,#fee498,#fee497,#fee497,#fde396,#fde395,#fce293,#fae08f,#f6dc87,#f2d87e,#ecd273,#e6cc67,#dbc255,#ceb640,#c3ad31,#baa828,#b3a321,#ab9f1a,#a49a13,#9c960c,#919107,#818c09,#70870b,#647f12,#587819,#4e721e,#466d23,#3f6827,#38642b,#315f30,#2b5a34,#275836,#265737,#255638,#245638,#245638,#245638,#255638,#255737,#275737,#295935,#2c5b33,#33602e,#456c24)"></div><div style="top:106px;height:2.5px;background:linear-gradient(90deg,#ffe599,#ffe599,#ffe599,#ffe598,#fee498,#fee497,#fee496,#fde395,#fde394,#fce293,#fae08f,#f6dc87,#f1d77d,#ecd273,#e6cc67,#dbc254,#ceb640,#c4ad31,#bba828,#b3a321,#ab9f1a,#a49a13,#9d960c,#929107,#818c09,#71870b,#647f12,#587819,#4e721e,#466d23,#3f6827,#38642b,#315f30,#2a5a34,#275737,#265737,#255638,#245638,#245638,#245638,#255638,#255637,#265737,#285836,#2b5a34,#32602f,#456c24)"></div><div style="top:108px;height:2.5px;background:linear-gradient(90deg,#ffe599,#ffe599,#ffe599,#ffe598,#fee498,#fee497,#fee496,#fde395,#fde394,#fce293,#fae08f,#f6dc87,#f1d77d,#ecd272,#e6cc66,#dac254,#ceb640,#c4ad31,#bba828,#b3a321,#ab9f1a,#a49a13,#9d960c,#929107,#828c09,#71870b,#647f12,#587819,#4e721e,#466d23,#3f6827,#38642b,#315f30,#2a5a34,#265737,#265737,#255638,#245638,#245638,#245638,#255638,#255638,#265737,#275836,#2a5a35,#315f30,#446b24)"></div><div style="top:110px;height:2.5px;background:linear-gradient(90deg,#ffe599,#ffe599,#ffe599,#ffe598,#fee498,#fee497,#fee496,#fde395,#fce294,#fce292,#fae08f,#f6dc86,#f1d77d,#ecd272,#e6cc66,#dac154,#ceb640,#c4ae31,#bba829,#b3a321,#ab9f1a,#a49a13,#9d960c,#929106,#828c09,#71870b,#657f12,#587819,#4e721e,#466d23,#3f6827,#38642b,#315e30,#2a5a35,#265737,#265737,#255638,#245638,#245638,#245638,#245638,#255638,#265737,#275836,#295935,#305e30,#446b24)"></div><div style="top:112px;height:2.5px;background:linear-gradient(90deg,#ffe599,#ffe599,#ffe599,#ffe598,#fee498,#fee497,#fde396,#fde395,#fce293,#fbe192,#fae08e,#f6dc86,#f1d77d,#ecd272,#e5cb65,#dac154,#ceb640,#c5ae32,#bba829,#b3a321,#ab9f1a,#a49a13,#9d960d,#939106,#838c09,#72870b,#657f12,#587819,#4e721e,#466d23,#3f6827,#38642b,#315e30,#295935,#265737,#255737,#255638,#245638,#245638,#245638,#245638,#255638,#255737,#265737,#285836,#2f5e31,#446b24)"></div><div style="top:114px;height:2.5px;background:linear-gradient(90deg,#ffe599,#ffe599,#ffe599,#ffe598,#fee498,#fee497,#fde396,#fde394,#fce293,#fbe191,#fae08e,#f6dc86,#f1d77d,#ecd272,#e5cb65,#dac153,#ceb640,#c5ae32,#bba829,#b3a321,#ab9f1a,#a49a13,#9d960d,#939106,#838c09,#72870b,#658012,#587819,#4e721e,#466d23,#3f6827,#38642b,#305e30,#295935,#265737,#255737,#255638,#245638,#245638,#245638,#245638,#255638,#255737,#265737,#275836,#2f5d31,#436b25)"></div><div style="top:116px;height:2.5px;background:linear-gradient(90deg,#ffe599,#ffe599,#ffe599,#ffe598,#fee497,#fee497,#fde396,#fde394,#fce293,#fbe191,#f9df8e,#f6dc86,#f1d77d,#ecd271,#e5cb64,#dac153,#ceb640,#c5ae32,#bba829,#b3a321,#ab9f1a,#a49a13,#9d960d,#939106,#848d08,#73870b,#658012,#587819,#4e721e,#466d23,#3f6827,#38642b,#305e30,#295935,#265737,#255737,#255638,#245638,#245638,#245638,#245638,#255638,#255638,#255737,#275737,#2e5c32,#436b25)"></div><div style="top:118px;height:2.5px;background:linear-gradient(90deg,#ffe599,#ffe599,#ffe599,#ffe598,#fee497,#fee497,#fde395,#fde394,#fce293,#fbe191,#f9df8d,#f6dc86,#f1d77d,#ebd171,#e4cb64,#dac153,#ceb641,#c5ae32,#bba829,#b3a321,#ab9f1a,#a49a13,#9d960d,#949106,#848d08,#73880b,#658011,#587818,#4e721e,#466d23,#3f6827,#38642b,#305e30,#295935,#265737,#255737,#255638,#245638,#245638,#245638,#245638,#255638,#255638,#255637,#265737,#2d5c32,#436b25)"></div><div style="top:120px;height:2.5px;background:linear-gradient(90deg,#ffe599,#ffe599,#ffe599,#ffe598,#fee497,#fee496,#fde395,#fde394,#fce292,#fbe191,#f9df8d,#f5db85,#f1d77c,#ebd171,#e4ca63,#d9c152,#ceb641,#c5ae32,#bca829,#b3a321,#ab9f1a,#a49a13,#9d960d,#949106,#848d08,#73880b,#658011,#587818,#4e721e,#466d23,#3f6827,#38642b,#305e30,#295935,#265737,#255637,#255638,#245638,#245638,#245638,#245638,#245638,#255638,#255638,#265737,#2d5c33,#436b25)"></div><div style="top:122px;height:2.5px;background:linear-gradient(90deg,#ffe599,#ffe599,#ffe599,#ffe598,#fee497,#fee496,#fde395,#fce294,#fce292,#fbe191,#f9df8d,#f5db85,#f1d77c,#ebd170,#e4ca63,#d9c052,#ceb641,#c5ae33,#bca829,#b3a321,#ab9f1a,#a49a13,#9d960d,#949106,#858d08,#73880b,#658011,#587818,#4e721e,#466d23,#3f6827,#38642b,#305e30,#295935,#265737,#255638,#255638,#245638,#245638,#245638,#245638,#245638,#245638,#255638,#255737,#2d5c33,#436b25)"></div><div style="top:124px;height:2.5px;background:linear-gradient(90deg,#ffe599,#ffe599,#ffe599,#ffe598,#fee497,#fee496,#fde395,#fce294,#fce292,#fbe190,#f9df8d,#f5db85,#f1d77c,#ebd170,#e3ca62,#d9c051,#ceb641,#c5ae33,#bca829,#b3a321,#ab9f1a,#a49a13,#9d960d,#949106,#858d08,#73880b,#668011,#597818,#4e721e,#466d23,#3f6827,#38642b,#305e30,#295935,#265737,#255638,#255638,#245638,#245638,#245638,#245638,#245638,#245638,#255638,#255737,#2d5c33,#436a25)"></div><div style="top:126px;height:2.5px;background:linear-gradient(90deg,#ffe599,#ffe599,#ffe599,#ffe598,#fee497,#fee496,#fde395,#fce294,#fce292,#fbe190,#f9df8c,#f5db85,#f1d77c,#ebd170,#e3c961,#d8c051,#ceb640,#c5ae32,#bba829,#b3a321,#ab9e1a,#a49a13,#9d960d,#949106,#858d08,#73880b,#668011,#597818,#4e721e,#466d23,#3f6827,#38642b,#305e30,#295935,#265737,#255638,#245638,#245638,#245638,#245638,#245638,#245638,#245638,#255638,#255737,#2d5c33,#436a25)"></div><div style="top:128px;height:2.5px;background:linear-gradient(90deg,#ffe599,#ffe599,#ffe599,#ffe598,#fee497,#fee496,#fde395,#fde394,#fce292,#fbe190,#f9df8c,#f5db85,#f1d77c,#ebd16f,#e2c961,#d8bf50,#ceb640,#c5ae32,#bba829,#b3a321,#ab9e19,#a49a13,#9d960d,#949106,#858d08,#73880b,#668011,#597818,#4e721e,#466d23,#3f6827,#38632b,#305e31,#295935,#265737,#255638,#245638,#245638,#245638,#245638,#245538,#245638,#245638,#255638,#265737,#2d5c32,#436b25)"></div><div style="top:130px;height:2.5px;background:linear-gradient(90deg,#ffe599,#ffe599,#ffe599,#ffe598,#fee497,#fee496,#fde395,#fde394,#fce292,#fbe190,#f9df8c,#f5db84,#f0d67b,#ead06f,#e2c860,#d7be4e,#cdb53f,#c4ad31,#baa828,#b2a320,#aa9e19,#a39a13,#9d960d,#949106,#858d08,#73880b,#668011,#597818,#4e721e,#466d23,#3f6827,#38632b,#305e31,#295935,#265737,#255638,#245638,#245638,#245538,#235538,#235538,#245538,#245638,#255638,#265737,#2d5c32,#436b25)"></div><div style="top:132px;height:2.5px;background:linear-gradient(90deg,#ffe599,#ffe599,#ffe599,#ffe598,#fee497,#fee497,#fde395,#fde394,#fce293,#fbe190,#f8de8c,#f5db84,#f0d67b,#ead06e,#e1c85f,#d6bd4d,#ccb53d,#c3ad30,#b9a727,#b1a220,#aa9e19,#a39a12,#9d960d,#949106,#848d08,#73880b,#668011,#597818,#4e721e,#466d23,#3f6827,#38632c,#305e31,#295935,#265737,#245638,#245638,#235538,#235539,#235539,#235539,#235539,#245638,#255638,#265737,#2e5d32,#436b25)"></div><div style="top:134px;height:2.5px;background:linear-gradient(90deg,#ffe599,#ffe599,#ffe599,#ffe598,#fee497,#fee497,#fde396,#fde394,#fce293,#fbe190,#f8de8b,#f5db84,#f0d67b,#ead06e,#e1c75e,#d5bd4b,#cbb43c,#c2ac2f,#b8a626,#b0a21f,#a99e18,#a39a12,#9d960c,#949106,#848d08,#73880b,#668011,#597818,#4e721e,#466d23,#3f6827,#38632c,#305e31,#295935,#255737,#245638,#245538,#235539,#235539,#235539,#235539,#235539,#245638,#255638,#275836,#2f5d31,#436b25)"></div><div style="top:136px;height:2.5px;background:linear-gradient(90deg,#ffe599,#ffe599,#ffe599,#ffe598,#fee498,#fee497,#fde396,#fde394,#fce293,#fbe190,#f8de8b,#f4da83,#f0d67a,#ead06e,#e0c75d,#d4bc4a,#cab33a,#c0ab2d,#b7a625,#afa11e,#a99d18,#a39912,#9d960c,#949106,#848d08,#73880b,#668011,#597818,#4e721e,#466d23,#3f6827,#37632c,#305e31,#295935,#255737,#245638,#235539,#235539,#225539,#225539,#235539,#235539,#245638,#255638,#275836,#305e31,#436b25)"></div><div style="top:138px;height:2.5px;background:linear-gradient(90deg,#ffe599,#ffe599,#ffe599,#ffe598,#fee498,#fee497,#fde396,#fde395,#fce293,#fbe190,#f8de8b,#f4da83,#f0d67a,#ead06d,#dfc65c,#d3bb48,#c9b138,#bfaa2c,#b6a524,#aea11d,#a89d17,#a29911,#9c960c,#939106,#848d08,#73880b,#668011,#597818,#4e721e,#466d23,#3e6827,#37632c,#305e31,#295935,#255737,#245638,#235539,#225539,#225439,#225539,#225539,#235539,#245538,#255638,#285836,#305e30,#436b25)"></div><div style="top:140px;height:2.5px;background:linear-gradient(90deg,#ffe599,#ffe599,#ffe599,#ffe598,#fee498,#fee497,#fde396,#fde395,#fce293,#fbe190,#f8de8b,#f4da83,#f0d67a,#e9cf6d,#dfc65b,#d2b946,#c8b036,#bda92b,#b5a423,#ada01c,#a79c16,#a29911,#9c960c,#939106,#848d08,#73880b,#668011,#597818,#4e721e,#466c23,#3e6827,#37632c,#305e31,#295935,#255737,#245638,#235539,#225439,#22543a,#225439,#225539,#235539,#245538,#255637,#295935,#315f30,#436b25)"></div><div style="top:142px;height:2.5px;background:linear-gradient(90deg,#ffe599,#ffe599,#ffe599,#ffe598,#fee498,#fee497,#fee496,#fde395,#fce294,#fbe190,#f8de8b,#f4da83,#efd579,#e9cf6c,#dec55a,#d0b844,#c6af34,#bca829,#b3a321,#ac9f1b,#a79c16,#a19911,#9c960c,#939106,#848d08,#73880b,#668011,#597818,#4e721e,#466c23,#3e6828,#37632c,#305e31,#295935,#255737,#245638,#225539,#21543a,#21543a,#21543a,#225439,#225539,#235538,#255637,#295935,#325f2f,#436b25)"></div><div style="top:144px;height:2.5px;background:linear-gradient(90deg,#ffe599,#ffe599,#ffe599,#ffe598,#fee498,#fee497,#fee496,#fde395,#fce294,#fbe190,#f8de8a,#f4da82,#efd579,#e9cf6c,#ddc459,#cfb742,#c5ae32,#baa828,#b2a320,#ab9f1a,#a69c15,#a19910,#9c950b,#939106,#848d08,#73880b,#668011,#597818,#4e721e,#466c23,#3e6728,#37632c,#305e31,#295935,#255737,#245538,#225539,#21543a,#21543a,#21543a,#21543a,#225539,#235539,#255737,#2a5a34,#33602f,#436b25)"></div><div style="top:146px;height:2.5px;background:linear-gradient(90deg,#ffe599,#ffe599,#ffe599,#ffe598,#fee498,#fee497,#fee496,#fde395,#fde394,#fbe190,#f8de8a,#f4da82,#efd578,#e9cf6c,#ddc458,#ceb640,#c3ad31,#b9a727,#b1a21f,#ab9e19,#a69b15,#a19810,#9c950b,#939106,#848d08,#73880b,#668011,#597818,#4e721e,#466c23,#3e6728,#37632c,#305e31,#295935,#255737,#235539,#225439,#21543a,#20533a,#21543a,#21543a,#225439,#235539,#255737,#2a5a34,#34612e,#436b25)"></div><div style="top:148px;height:2.5px;background:linear-gradient(90deg,#ffe599,#ffe599,#ffe599,#ffe598,#fee498,#fee497,#fee496,#fde395,#fde394,#fbe190,#f8de8a,#f4da82,#efd578,#e8ce6b,#dcc357,#cdb53f,#c2ac2f,#b8a626,#b0a11e,#aa9e18,#a59b14,#a19810,#9b950b,#929106,#848d08,#73880b,#668011,#597818,#4e711e,#466c23,#3e6728,#37632c,#305e31,#295935,#255737,#235539,#21543a,#20533a,#20533b,#20533a,#21543a,#225439,#235539,#255737,#2b5a34,#34612e,#436b25)"></div><div style="top:150px;height:2.5px;background:linear-gradient(90deg,#ffe599,#ffe599,#ffe599,#ffe598,#fee498,#fee497,#fee496,#fde395,#fde394,#fbe190,#f8de8a,#f3d981,#efd578,#e8ce6b,#dbc256,#ccb43d,#c1ab2e,#b7a525,#afa11e,#a99d18,#a59b14,#a09810,#9b950b,#929107,#848d08,#73880b,#668011,#597818,#4e711e,#466c23,#3e6728,#36632c,#305e31,#295935,#255737,#235539,#21543a,#20533b,#1f533b,#20533b,#21543a,#22543a,#235539,#255737,#2b5b34,#35612d,#436b25)"></div><div style="top:152px;height:2.5px;background:linear-gradient(90deg,#ffe599,#ffe599,#ffe599,#ffe598,#fee498,#fee497,#fee496,#fde395,#fde394,#fbe190,#f7dd89,#f3d981,#eed477,#e8ce6a,#dbc254,#cbb33c,#c0ab2d,#b6a524,#afa11d,#a99d17,#a49b13,#a09810,#9b950b,#929107,#838c09,#73880b,#668011,#597818,#4e711e,#456c23,#3d6728,#36622c,#305e31,#295935,#255737,#235539,#21543a,#20533b,#1f533b,#20533b,#20533a,#21543a,#235539,#255737,#2c5b33,#35622d,#436b25)"></div><div style="top:154px;height:2.5px;background:linear-gradient(90deg,#ffe599,#ffe599,#ffe599,#ffe598,#fee498,#fee497,#fee496,#fde395,#fde394,#fbe190,#f7dd89,#f3d981,#eed477,#e8ce69,#dac153,#cab33a,#bfab2d,#b6a524,#aea01d,#a89d17,#a49a13,#a09810,#9b950a,#929107,#838c09,#73880b,#668011,#597818,#4e711e,#456c23,#3d6728,#36622c,#2f5e31,#295935,#255737,#235539,#21543a,#1f533b,#1f523b,#1f533b,#20533a,#21543a,#235539,#255737,#2c5b33,#35622d,#436b25)"></div><div style="top:156px;height:2.5px;background:linear-gradient(90deg,#ffe599,#ffe599,#ffe599,#ffe598,#fee498,#fee497,#fee496,#fde395,#fde394,#fbe190,#f7dd89,#f3d980,#eed476,#e7cd69,#d9c052,#cab239,#bfaa2c,#b6a524,#aea01d,#a89d17,#a49a13,#a09810,#9b950a,#929107,#838c09,#73880b,#668011,#597818,#4e711e,#456c23,#3d6728,#36622c,#2f5e31,#295935,#255737,#235539,#21543a,#1f533b,#1f523b,#1f533b,#20533b,#21543a,#235539,#255737,#2c5b33,#35622d,#436b25)"></div><div style="top:158px;height:2.5px;background:linear-gradient(90deg,#ffe599,#ffe599,#ffe599,#ffe598,#fee498,#fee497,#fee496,#fde395,#fde394,#fbe190,#f7dd88,#f3d980,#eed476,#e7cd68,#d8c051,#c9b238,#beaa2c,#b6a524,#aea11d,#a99d17,#a49b13,#a09810,#9a950a,#929107,#838c09,#73880b,#668011,#597818,#4e711e,#456c23,#3d6728,#36622d,#2f5e31,#295935,#255737,#235539,#20533a,#1f533b,#1f523b,#1f533b,#20533b,#21543a,#235539,#255737,#2c5b33,#35622d,#436b25)"></div><div style="top:160px;height:2.5px;background:linear-gradient(90deg,#ffe599,#ffe599,#ffe599,#ffe598,#fee498,#fee497,#fee496,#fde395,#fde394,#fbe190,#f7dd88,#f2d87f,#edd375,#e6cc67,#d8bf4f,#c9b138,#beaa2c,#b6a524,#afa11d,#a99d18,#a49b13,#a09810,#9a950a,#919107,#838c09,#73880b,#668011,#597818,#4e711e,#456c23,#3d6728,#36622d,#2f5e31,#295935,#255737,#235539,#20533a,#1f523b,#1e523b,#1f523b,#20533b,#21543a,#225539,#255737,#2c5b33,#35622d,#436b25)"></div><div style="top:162px;height:2.5px;background:linear-gradient(90deg,#ffe599,#ffe599,#ffe599,#ffe598,#fee498,#fee497,#fee496,#fde395,#fde394,#fae090,#f6dc88,#f2d87f,#edd374,#e6cc66,#d7be4e,#c8b137,#beaa2b,#b6a524,#afa11d,#a99d18,#a59b14,#a09810,#9a940a,#919107,#838c09,#73880b,#668011,#597818,#4e711e,#456c24,#3d6728,#36622d,#2f5d31,#295935,#255737,#225539,#20533a,#1f523b,#1e523b,#1f523b,#1f533b,#20543a,#225539,#255737,#2b5b33,#35612d,#436a25)"></div><div style="top:164px;height:2.5px;background:linear-gradient(90deg,#ffe599,#ffe599,#ffe599,#ffe598,#fee498,#fee497,#fee496,#fde395,#fce294,#fae08f,#f6dc87,#f2d87e,#edd373,#e5cb65,#d6bd4d,#c7b036,#beaa2b,#b6a524,#afa11e,#a99d18,#a59b14,#a09810,#9a940a,#919007,#828c09,#73880b,#668011,#597818,#4e711f,#456c24,#3d6728,#36622d,#2f5d31,#295935,#255737,#225539,#20533a,#1f523b,#1e523c,#1f523b,#1f533b,#20533a,#225539,#255637,#2b5b34,#35612d,#426a25)"></div><div style="top:166px;height:2.5px;background:linear-gradient(90deg,#ffe599,#ffe599,#ffe599,#ffe598,#fee498,#fee497,#fee496,#fde395,#fce294,#fae08f,#f6dc86,#f1d77d,#ecd272,#e4ca63,#d5bc4b,#c7b035,#beaa2b,#b6a524,#b0a11e,#aa9e18,#a59b14,#a09810,#9a940a,#919007,#828c09,#73880b,#668011,#587818,#4e711f,#456c24,#3d6728,#36622d,#2f5d31,#295935,#255637,#225539,#20533b,#1e523b,#1e523c,#1e523b,#1f533b,#20533a,#225439,#255638,#2b5b34,#34612e,#426a25)"></div><div style="top:168px;height:2.5px;background:linear-gradient(90deg,#ffe599,#ffe599,#ffe599,#ffe598,#fee498,#fee497,#fee496,#fde395,#fce294,#fae08e,#f6dc86,#f1d77d,#ecd271,#e3c962,#d4bb49,#c6af34,#bda92b,#b6a524,#b0a11e,#aa9e19,#a59b14,#a09810,#9a9409,#909007,#828c09,#73870b,#658011,#587819,#4e711f,#456c24,#3d6728,#36622d,#2f5d31,#295935,#255638,#225539,#20533b,#1e523b,#1e523c,#1e523b,#1f523b,#20533b,#225439,#255638,#2b5a34,#34612e,#426a26)"></div><div style="top:170px;height:2.5px;background:linear-gradient(90deg,#ffe599,#ffe599,#ffe599,#ffe598,#fee498,#fee497,#fee496,#fde395,#fce293,#fae08e,#f5db85,#f1d77c,#ebd171,#e2c960,#d3bb48,#c6af34,#bda92b,#b6a524,#b0a21f,#aa9e19,#a69b15,#a19810,#9a9409,#909007,#828c09,#72870b,#658011,#587819,#4d711f,#456c24,#3d6728,#36622d,#2f5d31,#295935,#255638,#225439,#20533b,#1e523c,#1e523c,#1e523c,#1f523b,#20533b,#22543a,#255638,#2b5a34,#34612e,#416926)"></div><div style="top:172px;height:2.5px;background:linear-gradient(90deg,#ffe599,#ffe599,#ffe599,#ffe598,#fee498,#fee497,#fee496,#fde395,#fce293,#f9df8d,#f5db85,#f0d67b,#ebd170,#e1c85f,#d2ba46,#c6ae33,#bda92b,#b7a525,#b1a21f,#ab9e19,#a69b15,#a19810,#999409,#909007,#828c09,#72870b,#658011,#587819,#4d711f,#456c24,#3d6728,#36622d,#2f5d31,#295935,#255638,#225439,#1f533b,#1e523c,#1e523c,#1e523c,#1e523b,#20533b,#21543a,#245638,#2a5a34,#33602e,#416926)"></div><div style="top:174px;height:2.5px;background:linear-gradient(90deg,#ffe599,#ffe599,#ffe599,#ffe598,#fee498,#fee497,#fee496,#fde395,#fce293,#f9df8d,#f5db84,#f0d67b,#ead06f,#e1c75e,#d1b945,#c5ae32,#bda92a,#b7a625,#b1a21f,#ab9f1a,#a69c15,#a19810,#999409,#8f9007,#818c09,#72870b,#658012,#587819,#4d711f,#456c24,#3d6728,#36622d,#2f5d31,#295935,#255638,#225439,#1f533b,#1e523c,#1e523c,#1e523c,#1e523b,#1f533b,#21543a,#245638,#2a5a34,#33602f,#406926)"></div><div style="top:176px;height:2.5px;background:linear-gradient(90deg,#ffe599,#ffe599,#ffe599,#ffe598,#fee498,#fee497,#fee496,#fde395,#fce293,#f9df8d,#f5db84,#f0d67a,#ead06e,#e0c65c,#d0b843,#c5ae32,#bda92a,#b7a625,#b1a220,#ac9f1a,#a69c15,#a19810,#999409,#8f9007,#818c09,#72870b,#658012,#587819,#4d711f,#456c24,#3d6728,#36622d,#2f5d31,#295935,#255638,#225439,#1f533b,#1e523c,#1e523c,#1e523c,#1e523c,#1f533b,#21543a,#245638,#2a5a34,#32602f,#406827)"></div><div style="top:178px;height:2.5px;background:linear-gradient(90deg,#ffe599,#ffe599,#ffe599,#ffe598,#fee498,#fee497,#fee496,#fde395,#fce293,#f9df8c,#f4da83,#f0d67a,#ead06e,#dfc65b,#cfb742,#c4ad31,#bda92a,#b7a625,#b2a320,#ac9f1a,#a79c15,#a19810,#999409,#8f9007,#818c09,#72870b,#658012,#587719,#4d711f,#456c24,#3d6729,#36622d,#2f5d31,#295935,#255638,#22543a,#1f533b,#1e523c,#1e523c,#1e523c,#1e523c,#1f533b,#21543a,#245638,#2a5a35,#325f2f,#3f6827)"></div><div style="top:180px;height:2.5px;background:linear-gradient(90deg,#ffe599,#ffe599,#ffe599,#ffe598,#fee498,#fee497,#fee496,#fde395,#fce293,#f9df8c,#f4da83,#f0d679,#e9cf6d,#dec55a,#ceb641,#c4ad31,#bca92a,#b7a625,#b2a320,#ac9f1b,#a79c16,#a19810,#999409,#8f9007,#818c09,#72870b,#657f12,#577719,#4d711f,#456c24,#3d6729,#35622d,#2f5d31,#295935,#255638,#22543a,#1f533b,#1e523c,#1d523c,#1e523c,#1e523c,#1f523b,#21543a,#245538,#295935,#315f30,#3e6827)"></div><div style="top:182px;height:2.5px;background:linear-gradient(90deg,#ffe599,#ffe599,#ffe599,#ffe598,#fee498,#fee497,#fee496,#fde395,#fce292,#f9df8c,#f4da83,#efd579,#e9cf6d,#dec559,#cdb63f,#c3ad30,#bca92a,#b7a625,#b2a320,#ac9f1b,#a79c16,#a19810,#999409,#8f9007,#818c09,#71870b,#657f12,#577719,#4d711f,#446c24,#3c6729,#35622d,#2f5d31,#295935,#255638,#21543a,#1f523b,#1d523c,#1d523c,#1d523c,#1e523c,#1f523b,#20533a,#235539,#295935,#315f30,#3e6728)"></div><div style="top:184px;height:2.5px;background:linear-gradient(90deg,#ffe599,#ffe599,#ffe599,#ffe598,#fee498,#fee497,#fee496,#fde395,#fce292,#f8de8c,#f4da83,#efd579,#e9cf6c,#ddc458,#cdb53e,#c3ad30,#bca92a,#b7a625,#b2a320,#ac9f1b,#a79c16,#a19810,#999409,#8f9007,#808c09,#71870b,#647f12,#577719,#4d711f,#446b24,#3c6629,#35622d,#2e5d31,#295935,#255638,#21543a,#1f523b,#1d523c,#1d513c,#1d513c,#1d523c,#1e523b,#20533a,#235539,#295935,#315e30,#3d6728)"></div><div style="top:186px;height:2.5px;background:linear-gradient(90deg,#ffe599,#ffe599,#ffe599,#ffe598,#fee498,#fee497,#fee496,#fde395,#fce292,#f8de8c,#f4da83,#efd579,#e9cf6c,#ddc458,#ccb53d,#c3ad30,#bca92a,#b7a625,#b2a321,#ad9f1b,#a79c16,#a19910,#999409,#8f9007,#808c09,#71870b,#647f12,#577719,#4d711f,#446b24,#3c6629,#35622d,#2e5d32,#285935,#245638,#21543a,#1f523b,#1d513c,#1d513c,#1d513c,#1d513c,#1e523c,#20533b,#235539,#285935,#305e30,#3d6728)"></div><div style="top:188px;height:2.5px;background:linear-gradient(90deg,#ffe599,#ffe599,#ffe599,#ffe598,#fee498,#fee497,#fee496,#fde395,#fce292,#f8de8c,#f4da83,#efd579,#e9cf6c,#dcc357,#ccb43d,#c2ac2f,#bca929,#b7a625,#b2a321,#ad9f1b,#a79c16,#a19910,#999409,#8e9007,#808b09,#71870b,#647f12,#577719,#4d711f,#446b24,#3c6629,#35622d,#2e5d32,#285935,#245638,#21543a,#1e523b,#1d513c,#1d513c,#1d513c,#1d513c,#1e523c,#20533b,#235539,#285836,#305e31,#3c6629)"></div><div style="top:190px;height:2.5px;background:linear-gradient(90deg,#ffe599,#ffe599,#ffe599,#ffe598,#fee498,#fee497,#fee496,#fde395,#fce292,#f8de8c,#f4da83,#efd579,#e9cf6c,#dcc357,#cbb43c,#c2ac2f,#bca829,#b7a625,#b2a321,#ad9f1b,#a79c16,#a19910,#999409,#8e9007,#808b09,#71870b,#647f12,#577719,#4d711f,#446b24,#3c6629,#35622d,#2e5d32,#285935,#245638,#21543a,#1e523c,#1d513c,#1d513c,#1d513c,#1d513c,#1e523c,#1f533b,#225539,#285836,#2f5e31,#3c6629)"></div><div style="top:192px;height:2.5px;background:linear-gradient(90deg,#ffe599,#ffe599,#ffe599,#ffe598,#fee498,#fee497,#fee496,#fde395,#fce292,#f8de8c,#f4da83,#efd579,#e9cf6c,#dcc356,#cbb33b,#c2ac2f,#bca829,#b7a625,#b2a321,#ad9f1b,#a79c16,#a19910,#999409,#8e9007,#808b09,#71870b,#647f12,#577719,#4d711f,#446b24,#3c6629,#35622d,#2e5d32,#285935,#245638,#21543a,#1e523c,#1d513c,#1c513d,#1c513d,#1c513d,#1d523c,#1f533b,#225439,#275836,#2f5d31,#3b6629)"></div><div style="top:194px;height:2.5px;background:linear-gradient(90deg,#ffe599,#ffe599,#ffe599,#ffe598,#fee498,#fee497,#fee496,#fde395,#fce292,#f8de8c,#f4da83,#efd579,#e9cf6c,#dbc356,#cab33a,#c1ac2e,#bba829,#b7a625,#b2a320,#ad9f1b,#a79c16,#a19910,#999409,#8e9007,#808b09,#71870b,#647f12,#577719,#4d711f,#446b24,#3c6629,#35622d,#2e5d32,#285936,#245638,#21543a,#1e523c,#1c513d,#1c513d,#1c513d,#1c513d,#1d513c,#1f523b,#225439,#275836,#2e5d32,#3b652a)"></div><div style="top:196px;height:2.5px;background:linear-gradient(90deg,#ffe599,#ffe599,#ffe599,#ffe598,#fee498,#fee497,#fee496,#fde395,#fce292,#f8de8c,#f4da83,#efd579,#e9cf6c,#dbc255,#cab239,#c1ac2e,#bba829,#b7a625,#b2a320,#ad9f1b,#a79c16,#a19910,#999409,#8e9007,#808b09,#71870b,#647f12,#577719,#4c711f,#446b24,#3c6629,#35622d,#2e5d32,#285936,#245638,#20533a,#1e523c,#1c513d,#1c513d,#1c513d,#1c513d,#1d513c,#1f523b,#21543a,#275737,#2e5d32,#3a652a)"></div><div style="top:198px;height:2.5px;background:linear-gradient(90deg,#ffe599,#ffe599,#ffe599,#ffe598,#fee498,#fee497,#fee496,#fde395,#fce292,#f8de8c,#f4da83,#efd579,#e9cf6c,#dbc255,#c9b238,#c1ab2e,#bba829,#b7a625,#b2a320,#ada01b,#a79c16,#a19910,#999409,#8e9007,#808b09,#71870b,#647f12,#577719,#4c711f,#446b24,#3c6629,#35622d,#2e5d32,#285936,#245638,#20533a,#1d523c,#1c513d,#1c513d,#1c503d,#1c503d,#1d513c,#1e523c,#21543a,#265737,#2d5c32,#3a652a)"></div><div style="top:200px;height:2.5px;background:linear-gradient(90deg,#ffe599,#ffe599,#ffe599,#ffe598,#fee498,#fee497,#fee496,#fde395,#fce292,#f8de8c,#f4da83,#efd579,#e9cf6c,#dbc254,#c9b138,#c0ab2e,#bba829,#b7a625,#b2a320,#ada01b,#a79c16,#a19910,#999409,#8e9007,#808b09,#71870b,#647f12,#56771a,#4c701f,#446b24,#3c6629,#35612d,#2e5d32,#285936,#245638,#20533a,#1d513c,#1c503d,#1b503d,#1b503d,#1b503d,#1c513d,#1e523c,#21543a,#265737,#2d5c33,#39642b)"></div><div style="top:202px;height:2.5px;background:linear-gradient(90deg,#ffe599,#ffe599,#ffe599,#ffe598,#fee498,#fee497,#fee496,#fde395,#fce292,#f8de8c,#f4da83,#efd579,#e9cf6c,#dac154,#c8b137,#c0ab2d,#bba828,#b7a625,#b2a320,#ada01b,#a79c16,#a19910,#999409,#8e9007,#808b09,#70870b,#637f12,#56771a,#4c701f,#446b24,#3c6629,#35612d,#2e5d32,#285836,#245638,#20533b,#1d513c,#1b503d,#1b503d,#1b503d,#1b503d,#1c513d,#1d523c,#20533a,#255638,#2c5b33,#38642b)"></div><div style="top:204px;height:2.5px;background:linear-gradient(90deg,#ffe599,#ffe599,#ffe599,#ffe598,#fee498,#fee497,#fee496,#fde395,#fce292,#f8de8c,#f4da83,#efd579,#e9cf6c,#dac154,#c8b036,#c0ab2d,#bba828,#b7a625,#b2a320,#ada01b,#a79c16,#a19910,#999409,#8e9007,#7f8b09,#70870b,#637f12,#56771a,#4c701f,#446b24,#3c6629,#35612d,#2e5d32,#285836,#245638,#20533b,#1d513c,#1b503d,#1b503d,#1b503e,#1b503e,#1c503d,#1d513c,#20533b,#255638,#2c5b33,#38642b)"></div><div style="top:206px;height:2.5px;background:linear-gradient(90deg,#ffe599,#ffe599,#ffe599,#ffe598,#fee498,#fee497,#fee496,#fde395,#fce292,#f8de8c,#f4da83,#efd579,#e9cf6c,#dac153,#c7b036,#c0ab2d,#bba828,#b7a625,#b2a320,#ada01b,#a79c16,#a19910,#999409,#8e9007,#7f8b09,#70870b,#637f13,#56771a,#4c701f,#446b24,#3c6629,#35612d,#2e5d32,#285836,#245538,#1f533b,#1c513d,#1b503d,#1a503e,#1a503e,#1a503e,#1b503d,#1d513c,#1f533b,#245638,#2b5b34,#37632c)"></div><div style="top:208px;height:2.5px;background:linear-gradient(90deg,#ffe599,#ffe599,#ffe599,#ffe598,#fee498,#fee497,#fee496,#fde395,#fce292,#f8de8c,#f4da83,#efd579,#e9cf6c,#dac153,#c7b035,#bfab2d,#baa828,#b7a625,#b2a320,#ada01b,#a79c16,#a19910,#999409,#8e9007,#7f8b09,#70860b,#637f13,#56771a,#4c701f,#446b24,#3c6629,#35612d,#2e5d32,#285836,#235539,#1f533b,#1c513d,#1b503e,#1a4f3e,#1a4f3e,#1a4f3e,#1b503d,#1c513d,#1f533b,#235539,#2a5a34,#37632c)"></div><div style="top:210px;height:2.5px;background:linear-gradient(90deg,#ffe599,#ffe599,#ffe599,#ffe598,#fee498,#fee497,#fee496,#fde395,#fce292,#f8de8c,#f4da83,#efd579,#e9cf6c,#dac153,#c7b035,#bfab2d,#baa828,#b7a525,#b2a320,#ada01b,#a79c16,#a19910,#999409,#8e9007,#7f8b09,#70860c,#637e13,#56761a,#4c701f,#446b24,#3c6629,#35612d,#2e5d32,#285836,#235539,#1f533b,#1c503d,#1a503e,#1a4f3e,#194f3e,#1a4f3e,#1a503e,#1c513d,#1e523b,#235539,#2a5a35,#36622d)"></div><div style="top:212px;height:2.5px;background:linear-gradient(90deg,#ffe599,#ffe599,#ffe599,#ffe598,#fee498,#fee497,#fee496,#fde395,#fce292,#f8de8c,#f4da83,#efd579,#e9cf6d,#dac153,#c7af34,#bfab2d,#baa828,#b7a525,#b2a320,#ada01b,#a79c16,#a19910,#999409,#8e9007,#7f8b09,#70860c,#637e13,#56761a,#4c7020,#446b24,#3c6629,#35612d,#2e5d32,#285836,#235539,#1f523b,#1b503d,#1a4f3e,#194f3e,#194f3f,#194f3e,#1a4f3e,#1b503d,#1e523c,#225539,#295935,#35622d)"></div><div style="top:214px;height:2.5px;background:linear-gradient(90deg,#ffe599,#ffe599,#ffe599,#ffe598,#fee498,#fee497,#fee496,#fde395,#fce292,#f8de8c,#f4da83,#efd579,#e9cf6d,#d9c153,#c6af34,#bfaa2c,#baa828,#b7a524,#b2a320,#ada01b,#a79c16,#a19910,#999409,#8e9007,#7f8b09,#70860c,#637e13,#56761a,#4c7020,#436b24,#3b6629,#35612e,#2e5c32,#285836,#235539,#1e523b,#1b503d,#1a4f3e,#194f3f,#194e3f,#194f3f,#1a4f3e,#1b503e,#1d513c,#21543a,#285936,#34612e)"></div><div style="top:216px;height:2.5px;background:linear-gradient(90deg,#ffe599,#ffe599,#ffe599,#ffe598,#fee498,#fee497,#fee496,#fde395,#fce292,#f8de8c,#f4da83,#efd579,#e9cf6d,#d9c152,#c6af34,#bfaa2c,#baa828,#b6a524,#b2a320,#ada01b,#a79c16,#a19910,#999409,#8e9007,#7f8b09,#70860c,#627e13,#56761a,#4c7020,#436b25,#3b6629,#34612e,#2e5c32,#285836,#235539,#1e523c,#1b503e,#194f3e,#184e3f,#184e3f,#184e3f,#194f3f,#1a4f3e,#1d513c,#21543a,#275836,#34612e)"></div><div style="top:218px;height:2.5px;background:linear-gradient(90deg,#ffe599,#ffe599,#ffe599,#ffe598,#fee498,#fee497,#fee496,#fde395,#fce292,#f8de8c,#f4da83,#efd579,#e9cf6d,#dac153,#c6af34,#bfaa2c,#baa828,#b6a524,#b2a320,#ada01b,#a79c16,#a19910,#999409,#8e9007,#7f8b09,#6f860c,#627e13,#55761a,#4c7020,#436b25,#3b6629,#34612e,#2e5c32,#285836,#235539,#1e523c,#1a503e,#194f3f,#184e3f,#174e3f,#184e3f,#184e3f,#194f3e,#1c513d,#20533b,#265737,#33602f)"></div><div style="top:220px;height:2.5px;background:linear-gradient(90deg,#ffe599,#ffe599,#ffe599,#ffe598,#fee498,#fee497,#fee496,#fde395,#fce292,#f8de8c,#f4da83,#efd579,#e9cf6d,#dac153,#c7b035,#bfab2d,#baa828,#b6a524,#b2a320,#ad9f1b,#a79c16,#a19910,#999409,#8e9007,#7e8b09,#6f860c,#627e13,#55761a,#4b7020,#436b25,#3b6629,#34612e,#2d5c32,#275836,#225539,#1d523c,#1a4f3e,#184e3f,#174e40,#174d40,#174d40,#184e3f,#184e3f,#1b503e,#1f523b,#255638,#315f30)"></div><div style="top:222px;height:2.5px;background:linear-gradient(90deg,#ffe599,#ffe599,#ffe599,#ffe598,#fee498,#fee497,#fee496,#fde395,#fce292,#f8de8c,#f4da83,#f0d679,#ead06d,#dac154,#c7b036,#bfab2d,#baa828,#b6a524,#b2a320,#ac9f1b,#a79c16,#a19810,#999409,#8e8f07,#7e8b09,#6f860c,#627e13,#55761a,#4b7020,#436a25,#3b652a,#34612e,#2d5c32,#275836,#225439,#1d513c,#194f3e,#184e3f,#174d40,#164d40,#164d40,#164d40,#174e40,#194f3e,#1d513c,#245538,#305e30)"></div><div style="top:224px;height:2.5px;background:linear-gradient(90deg,#ffe599,#ffe599,#ffe599,#ffe598,#fee498,#fee497,#fee496,#fde395,#fce292,#f9df8c,#f4da83,#f0d67a,#ead06e,#dbc255,#c8b137,#c0ab2d,#baa828,#b6a524,#b2a220,#ac9f1b,#a79c16,#a19810,#999408,#8d8f07,#7e8b09,#6e850c,#617d14,#54761b,#4b7020,#426a25,#3a652a,#33602e,#2d5c33,#275737,#21543a,#1d513c,#194f3f,#174e40,#164d40,#154c41,#154c41,#154c41,#164d40,#184e3f,#1b503d,#225439,#2e5d31)"></div><div style="top:226px;height:2.5px;background:linear-gradient(90deg,#ffe599,#ffe599,#ffe599,#ffe598,#fee498,#fee497,#fee496,#fde395,#fce292,#f9df8c,#f4da83,#f0d67a,#ead06e,#dcc356,#c9b138,#c0ab2d,#baa828,#b6a524,#b1a220,#ac9f1b,#a79c16,#a09810,#989308,#8d8f07,#7d8b09,#6e850d,#617d14,#54751b,#4b6f20,#426a25,#3a652a,#33602f,#2c5b33,#265737,#21543a,#1c513d,#184e3f,#174d40,#154c41,#144c41,#144b42,#144c42,#144c41,#164d40,#1a4f3e,#20533b,#2d5c33)"></div><div style="top:228px;height:2.5px;background:linear-gradient(90deg,#ffe599,#ffe599,#ffe599,#ffe598,#fee498,#fee497,#fee496,#fde395,#fce292,#f9df8c,#f5db84,#f0d67b,#ead06f,#ddc458,#cab23a,#c0ab2e,#baa828,#b5a523,#b1a21f,#ac9f1a,#a69c15,#a09810,#989308,#8c8f07,#7c8a09,#6e850d,#617d14,#54751b,#4a6f21,#426a25,#3a652a,#32602f,#2c5b33,#265737,#20533a,#1c503d,#184e3f,#164d40,#144c41,#134b42,#124b42,#124b42,#134b42,#154c41,#184e3f,#1e523c,#2b5a34)"></div><div style="top:230px;height:2.5px;background:linear-gradient(90deg,#ffe599,#ffe599,#ffe599,#ffe598,#fee498,#fee497,#fee496,#fde395,#fce293,#f9df8c,#f5db84,#f0d67b,#ebd16f,#dec55a,#cbb33b,#c1ab2e,#baa828,#b5a523,#b1a21f,#ab9f1a,#a69c15,#a0980f,#979307,#8c8f07,#7c8a0a,#6d850d,#607d14,#53751b,#4a6f21,#416a26,#39642b,#325f2f,#2b5a34,#255638,#20533b,#1b503d,#174e3f,#154c41,#134b42,#124a43,#114a43,#114a43,#114a43,#134b42,#164d40,#1c513d,#295935)"></div><div style="top:232px;height:2.5px;background:linear-gradient(90deg,#ffe599,#ffe599,#ffe599,#ffe598,#fee498,#fee497,#fee496,#fde395,#fce293,#f9df8d,#f5db84,#f1d77b,#ebd170,#dfc65b,#ccb43d,#c1ac2f,#bba828,#b5a423,#b0a21f,#ab9e19,#a69b15,#9f980f,#979307,#8b8f08,#7b8a0a,#6d840d,#5f7c15,#53741c,#496f21,#416926,#39642b,#315f30,#2a5a34,#245638,#1f533b,#1a503e,#174d40,#144c41,#124a43,#104a43,#104944,#0f4944,#0f4944,#114a43,#144c41,#1a4f3e,#275836)"></div><div style="top:234px;height:2.5px;background:linear-gradient(90deg,#ffe599,#ffe599,#ffe599,#ffe598,#fee498,#fee497,#fee496,#fde395,#fce293,#f9df8d,#f5db85,#f1d77c,#ebd171,#e0c75d,#cdb63f,#c2ac2f,#bba828,#b5a423,#b0a11e,#aa9e19,#a59b14,#9f970e,#969206,#8a8e08,#7a8a0a,#6c840e,#5f7c15,#52741c,#496e21,#406926,#38642b,#315e30,#2a5935,#245638,#1f523b,#1a4f3e,#164d40,#134b42,#114a43,#0f4944,#0e4845,#0e4845,#0e4845,#0f4944,#124b42,#184e3f,#255737)"></div><div style="top:236px;height:2.5px;background:linear-gradient(90deg,#ffe599,#ffe599,#ffe599,#ffe598,#fee498,#fee497,#fee496,#fde395,#fce293,#f9df8d,#f5db85,#f1d77d,#ecd271,#e1c85f,#cfb741,#c2ac30,#bba828,#b5a423,#b0a11e,#aa9e19,#a59b14,#9f970e,#969206,#898e08,#798a0a,#6b840e,#5e7b15,#52741c,#486e22,#406927,#37632c,#305e31,#295935,#235539,#1e523c,#194f3e,#154c41,#124b42,#104944,#0e4845,#0d4845,#0c4746,#0c4746,#0e4845,#114a43,#164d40,#235539)"></div><div style="top:238px;height:2.5px;background:linear-gradient(90deg,#ffe599,#ffe599,#ffe599,#ffe598,#fee498,#fee497,#fee496,#fde395,#fce293,#f9df8d,#f5db86,#f1d77d,#ecd272,#e2c961,#d0b843,#c3ad30,#bba829,#b5a423,#afa11e,#a99d18,#a49a13,#9e970e,#959206,#888e08,#79890a,#6b830f,#5e7b16,#51731d,#486e22,#3f6827,#37632c,#2f5d31,#285836,#225539,#1d513c,#184e3f,#154c41,#124a43,#0f4944,#0d4746,#0c4746,#0b4647,#0b4647,#0c4746,#0f4944,#154c41,#22543a)"></div><div style="top:240px;height:2.5px;background:linear-gradient(90deg,#ffe599,#ffe599,#ffe599,#ffe598,#fee498,#fee497,#fee496,#fde395,#fce293,#f9df8d,#f6dc86,#f2d87e,#ecd273,#e3ca62,#d1b945,#c4ad31,#bba829,#b4a423,#afa11d,#a99d18,#a49a13,#9d960d,#959206,#888e08,#78890a,#6a830f,#5d7b16,#50731d,#476d22,#3e6827,#36622d,#2e5d32,#275836,#21543a,#1c513d,#184e3f,#144c42,#114a43,#0e4845,#0c4746,#0b4647,#0a4647,#0a4647,#0b4647,#0e4845,#134b42,#20533b)"></div><div style="top:242px;height:2.5px;background:linear-gradient(90deg,#ffe599,#ffe599,#ffe599,#ffe598,#fee498,#fee497,#fee496,#fde395,#fce293,#f9df8e,#f6dc86,#f2d87e,#edd374,#e4cb64,#d2ba47,#c4ae31,#bba829,#b4a422,#aea01d,#a89d17,#a39a12,#9d960c,#949106,#878d08,#77890a,#69820f,#5c7a17,#50731d,#476d23,#3e6728,#35622d,#2d5c32,#265737,#21543a,#1b503d,#174d40,#134b42,#104944,#0d4746,#0b4647,#0a4647,#094548,#094548,#0a4647,#0d4845,#124a43,#1e523b)"></div><div style="top:244px;height:2.5px;background:linear-gradient(90deg,#ffe599,#ffe599,#ffe599,#ffe598,#fee498,#fee497,#fee496,#fde395,#fce293,#fae08e,#f6dc87,#f2d87f,#edd374,#e5cc65,#d4bb49,#c5ae32,#bba829,#b4a422,#aea01c,#a89c16,#a29911,#9c960c,#939106,#858d08,#75880a,#688110,#5b7917,#4f721e,#466c23,#3d6728,#34612e,#2c5b33,#255737,#20533b,#1a503e,#164d40,#124a43,#0e4845,#0b4746,#094548,#094548,#084548,#084548,#0a4647,#0c4746,#114a43,#1d513c)"></div><div style="top:246px;height:2.5px;background:linear-gradient(90deg,#ffe599,#ffe599,#ffe599,#ffe598,#fee498,#fee497,#fee496,#fde395,#fce293,#fae08e,#f6dc87,#f2d87f,#eed475,#e7cd67,#d5bd4c,#c6af34,#bca929,#b4a422,#ada01c,#a79c16,#a19810,#9a940a,#919107,#838c09,#73880b,#668011,#597818,#4e711f,#446c24,#3b6629,#33602f,#2b5a34,#245638,#1e523c,#194f3f,#144c41,#104944,#0d4746,#0a4647,#084548,#074449,#074449,#074449,#094548,#0c4746,#104944,#1b503d)"></div><div style="top:248px;height:2.5px;background:linear-gradient(90deg,#ffe599,#ffe599,#ffe599,#ffe598,#fee498,#fee497,#fee496,#fde395,#fce293,#fae08f,#f7dd88,#f3d980,#eed477,#e8ce69,#d7bf4f,#c7b036,#bca92a,#b4a422,#ada01b,#a69b15,#9f970f,#989307,#8f9007,#818c09,#71870b,#637f12,#56771a,#4c7020,#436a25,#39652a,#315f30,#295935,#225439,#1c513d,#174e40,#124b42,#0e4845,#0b4647,#084548,#074449,#064449,#064449,#074449,#084548,#0b4647,#104944,#194f3e)"></div><div style="top:250px;height:2.5px;background:linear-gradient(90deg,#ffe599,#ffe599,#ffe599,#ffe598,#fee498,#fee497,#fee496,#fde395,#fce293,#fae08f,#f7dd89,#f3d981,#efd578,#e8ce6b,#dac153,#c9b238,#bda92b,#b4a422,#ac9f1b,#a59b14,#9d960d,#959206,#8c8f07,#7e8b09,#6e850d,#617d14,#54751b,#4a6f21,#416926,#38632c,#2f5d31,#275836,#20533a,#1a503e,#154c41,#104944,#0c4746,#094548,#064449,#05434a,#05434a,#05434a,#06434a,#084449,#0a4647,#0f4944,#174e40)"></div><div style="top:252px;height:2.5px;background:linear-gradient(90deg,#ffe599,#ffe599,#ffe599,#ffe598,#fee498,#fee497,#fee496,#fde395,#fce294,#fae090,#f7dd8a,#f4da82,#efd579,#e9cf6d,#dcc356,#cab33b,#beaa2b,#b4a422,#ac9f1a,#a49a13,#9b950b,#929107,#898e08,#7b8a0a,#6c840e,#5e7b16,#51731d,#486e22,#3f6827,#36622d,#2d5c32,#255638,#1e523c,#184e3f,#134b42,#0e4845,#0a4647,#064449,#04434a,#04424b,#04424b,#04434a,#05434a,#074449,#0a4647,#0e4845,#154c41)"></div><div style="top:254px;height:2.5px;background:linear-gradient(90deg,#ffe599,#ffe599,#ffe599,#ffe598,#fee498,#fee497,#fee496,#fde395,#fde394,#fbe190,#f8de8a,#f4da83,#f0d67a,#ead06e,#dec459,#ccb43d,#bfaa2c,#b4a422,#ab9f1a,#a29912,#999408,#909007,#858d08,#78890a,#69820f,#5b7917,#4f721e,#466c23,#3d6728,#34612e,#2b5b34,#235539,#1c513d,#164d40,#114a43,#0c4746,#084449,#05434a,#03424b,#03414c,#03424b,#04424b,#05434a,#074449,#094548,#0d4845,#144b42)"></div><div style="top:256px;height:2.5px;background:linear-gradient(90deg,#ffe599,#ffe599,#ffe599,#ffe598,#fee498,#fee497,#fee496,#fde395,#fde394,#fbe191,#f8de8b,#f5db84,#f0d67b,#ebd16f,#dfc65c,#cdb63f,#c0ab2d,#b4a422,#ab9e19,#a19910,#969206,#8d8f07,#828c09,#75880a,#678111,#587819,#4d711f,#446b24,#3b6629,#32602f,#2a5a35,#225439,#1b503e,#154c41,#0f4944,#0a4647,#06434a,#03424b,#02414c,#02414c,#02414c,#03424b,#04434a,#064449,#094548,#0d4845,#124b42)"></div><div style="top:258px;height:2.5px;background:linear-gradient(90deg,#ffe599,#ffe599,#ffe599,#ffe598,#fee498,#fee497,#fee496,#fde395,#fde394,#fbe191,#f8de8b,#f5db84,#f1d77c,#ebd170,#e1c75e,#cfb742,#c0ab2e,#b4a422,#aa9e19,#a0980f,#959206,#8b8f08,#7f8b09,#72870b,#657f12,#56771a,#4c7020,#436b25,#3a652a,#315f30,#285935,#21543a,#194f3e,#134b42,#0e4845,#094548,#05434a,#02414c,#01404d,#01404d,#02414c,#03424b,#04424b,#06434a,#094548,#0d4746,#114a43)"></div><div style="top:260px;height:2.5px;background:linear-gradient(90deg,#ffe599,#ffe599,#ffe599,#ffe598,#fee498,#fee497,#fee496,#fde395,#fde394,#fbe191,#f8de8c,#f5db84,#f1d77c,#ebd171,#e1c85f,#d0b843,#c1ac2e,#b4a422,#aa9e18,#9f970e,#939106,#898e08,#7d8b09,#70870b,#637e13,#55761a,#4b7020,#426a25,#39652a,#315e30,#285836,#20533a,#194f3f,#134b42,#0e4845,#084548,#04424b,#01414c,#00404d,#00404d,#01414c,#03414c,#04424b,#06434a,#094548,#0c4746,#114a43)"></div><div style="top:262px;height:2.5px;background:linear-gradient(90deg,#ffe599,#ffe599,#ffe599,#ffe598,#fee498,#fee497,#fee496,#fde395,#fde394,#fbe191,#f8de8c,#f5db84,#f1d77c,#ebd171,#e2c860,#d1b945,#c2ac2f,#b4a422,#a99d18,#9e970d,#929107,#878d08,#7b8a0a,#6f860c,#627e13,#54751b,#4b6f20,#426a25,#39652a,#315e30,#285836,#20533a,#194f3f,#134b42,#0e4845,#084548,#04424b,#01414c,#00404d,#00404d,#01414c,#03414c,#04424b,#06434a,#094548,#0c4746,#114a43)"></div><div style="top:264px;height:2.5px;background:linear-gradient(90deg,#ffe599,#ffe599,#ffe599,#ffe598,#fee498,#fee497,#fee496,#fde395,#fde394,#fbe191,#f8de8b,#f5db84,#f1d77c,#ebd171,#e2c860,#d1b946,#c2ad30,#b5a423,#a99d17,#9c960c,#909007,#858d08,#79890a,#6d850d,#617d14,#54751b,#4a6f20,#426a25,#39652a,#315f30,#285836,#20533a,#194f3e,#134b42,#0e4845,#094548,#05434a,#02414c,#01404d,#01414c,#02414c,#03424b,#04434a,#064449,#094548,#0d4746,#114a43)"></div><div style="top:266px;height:2.5px;background:linear-gradient(90deg,#ffe599,#ffe599,#ffe599,#ffe598,#fee498,#fee497,#fee496,#fde395,#fde394,#fbe191,#f8de8b,#f5db84,#f1d77c,#ebd170,#e2c860,#d2ba46,#c3ad30,#b5a423,#a89d17,#9b950b,#8f9007,#838c09,#77890a,#6c840e,#607c15,#53751b,#4a6f20,#426a25,#39652a,#315f30,#285936,#21543a,#1a4f3e,#144c41,#0f4944,#0a4647,#06434a,#03424b,#02414c,#02414c,#03424b,#04424b,#05434a,#074449,#094548,#0d4746,#114a43)"></div><div style="top:268px;height:2.5px;background:linear-gradient(90deg,#ffe599,#ffe599,#ffe599,#ffe598,#fee498,#fee497,#fee496,#fde395,#fde394,#fbe191,#f8de8b,#f4da83,#f0d67b,#ebd170,#e2c960,#d2ba47,#c4ad31,#b5a423,#a79c16,#9a9409,#8d8f07,#818c09,#75880a,#6a830f,#5f7c15,#53741c,#4a6f21,#426a25,#39652a,#315f30,#295935,#21543a,#1b503e,#154c41,#104944,#0b4647,#074449,#04424b,#03424b,#03424b,#04424b,#05434a,#06434a,#074449,#0a4647,#0d4746,#114a43)"></div><div style="top:270px;height:2.5px;background:linear-gradient(90deg,#ffe599,#ffe599,#ffe599,#ffe598,#fee498,#fee497,#fee496,#fde395,#fde394,#fbe191,#f8de8a,#f4da83,#f0d67a,#ebd170,#e2c960,#d3bb48,#c4ae31,#b5a423,#a79c16,#989308,#8c8f07,#808b09,#74880b,#698210,#5e7b16,#52741c,#4a6f21,#426a25,#3a652a,#315f30,#295935,#225439,#1c503d,#164d40,#114a43,#0c4746,#094548,#06434a,#05434a,#04434a,#05434a,#06434a,#074449,#084548,#0a4647,#0d4746,#114a43)"></div><div style="top:272px;height:2.5px;background:linear-gradient(90deg,#ffe599,#ffe599,#ffe599,#ffe598,#fee498,#fee497,#fee496,#fde395,#fde394,#fbe190,#f8de8a,#f4da82,#f0d67a,#ebd170,#e2c961,#d3bb49,#c5ae32,#b5a523,#a69c15,#979307,#8a8f08,#7e8b09,#72870b,#688110,#5d7b16,#52741c,#4a6f21,#426a25,#3a652a,#325f2f,#2a5a34,#235539,#1d513c,#174e40,#124b42,#0e4845,#0a4647,#084449,#064449,#064449,#074449,#074449,#084548,#094548,#0b4647,#0d4845,#114a43)"></div><div style="top:274px;height:2.5px;background:linear-gradient(90deg,#ffe599,#ffe599,#ffe599,#ffe598,#fee498,#fee497,#fee496,#fde395,#fde394,#fbe190,#f7dd89,#f3d981,#efd579,#ebd16f,#e2c961,#d4bb49,#c5ae33,#b6a524,#a69b15,#969206,#898e08,#7d8a09,#71870b,#668111,#5c7a16,#52741c,#4a6f21,#426a25,#3a652a,#32602f,#2b5a34,#245638,#1e523c,#194f3f,#144c41,#104944,#0c4746,#0a4647,#084548,#084548,#084548,#094548,#094548,#0a4647,#0b4746,#0d4845,#114a43)"></div><div style="top:276px;height:2.5px;background:linear-gradient(90deg,#ffe599,#ffe599,#ffe599,#ffe598,#fee498,#fee497,#fee496,#fde395,#fde394,#fbe190,#f7dd89,#f3d981,#efd579,#ebd16f,#e3c961,#d4bc4a,#c6af34,#b6a524,#a59b14,#959206,#888e08,#7c8a0a,#70860c,#668011,#5b7a17,#52741c,#4a6f21,#426a25,#3a652a,#33602f,#2b5b33,#255638,#1f533b,#1a503e,#164d41,#114a43,#0e4845,#0c4746,#0a4647,#0a4647,#0a4647,#0a4647,#0b4647,#0b4746,#0c4746,#0e4845,#114a43)"></div><div style="top:278px;height:2.5px;background:linear-gradient(90deg,#ffe599,#ffe599,#ffe599,#ffe598,#fee498,#fee497,#fee496,#fde395,#fde394,#fbe190,#f7dd89,#f3d980,#efd578,#ead06f,#e3c961,#d5bd4b,#c7b035,#b6a524,#a59b14,#949206,#878e08,#7b8a0a,#6f860c,#658012,#5b7a17,#51741c,#4a6f21,#426a25,#3a652a,#33602e,#2c5b33,#265737,#21543a,#1c503d,#174e40,#134b42,#104944,#0e4845,#0c4746,#0c4746,#0c4746,#0c4746,#0c4746,#0c4746,#0d4746,#0e4845,#114a43)"></div><div style="top:280px;height:2.5px;background:linear-gradient(90deg,#ffe599,#ffe599,#ffe599,#ffe598,#fee498,#fee497,#fee496,#fde395,#fde394,#fbe190,#f7dd89,#f3d980,#efd578,#ead06f,#e3c962,#d6bd4d,#c8b036,#b7a625,#a59b14,#949106,#878e08,#7b8a0a,#6f860c,#657f12,#5b7917,#51741c,#4a6f21,#426a25,#3b652a,#34612e,#2d5c32,#275836,#225439,#1d513c,#194f3f,#154c41,#124b42,#104944,#0e4845,#0d4845,#0d4845,#0d4845,#0d4845,#0d4845,#0d4845,#0e4845,#114a43)"></div><div style="top:282px;height:2.5px;background:linear-gradient(90deg,#ffe599,#ffe599,#ffe599,#ffe598,#fee498,#fee497,#fee496,#fde396,#fde394,#fbe190,#f7dd89,#f3d981,#efd579,#ebd16f,#e4ca63,#d7bf4f,#c9b238,#b8a626,#a59b14,#949206,#878e08,#7b8a0a,#6f860c,#658012,#5b7a17,#51741c,#4a6f21,#426a25,#3b6629,#35612e,#2e5d32,#285936,#235539,#1f523b,#1b503e,#174d40,#144c41,#124a43,#104944,#0f4944,#0f4944,#0f4845,#0f4845,#0e4845,#0e4845,#0f4944,#114a43)"></div><div style="top:284px;height:2.5px;background:linear-gradient(90deg,#ffe599,#ffe599,#ffe599,#ffe598,#fee498,#fee497,#fee497,#fde396,#fde394,#fbe191,#f8de8a,#f4da82,#f0d67a,#ebd171,#e5cb65,#d9c152,#cbb43c,#baa828,#a79c16,#969206,#888e08,#7b8a0a,#6f860c,#658011,#5c7a17,#52741c,#4a6f20,#436b25,#3c6629,#35622d,#2f5e31,#2a5a35,#255638,#20533a,#1c513d,#194f3f,#164d40,#144b42,#124a43,#104a43,#104944,#104944,#104944,#0f4944,#0f4944,#0f4944,#114a43)"></div><div style="top:286px;height:2.5px;background:linear-gradient(90deg,#ffe599,#ffe599,#ffe599,#ffe598,#fee498,#fee497,#fee497,#fde396,#fde395,#fbe191,#f8de8c,#f5db84,#f1d77c,#ecd273,#e7cd68,#dcc357,#ceb641,#bda92b,#aa9e19,#989308,#8a8e08,#7d8a09,#70870b,#668011,#5d7a16,#53751b,#4b7020,#446b24,#3d6728,#37632c,#315f30,#2b5b34,#275737,#225539,#1e523b,#1b503d,#184e3f,#164d40,#134b42,#124a43,#124a43,#114a43,#114a43,#114a43,#104944,#104944,#124a43)"></div><div style="top:288px;height:2.5px;background:linear-gradient(90deg,#ffe599,#ffe599,#ffe599,#ffe598,#ffe598,#fee497,#fee497,#fde396,#fde395,#fce292,#f9df8d,#f6dc86,#f2d87f,#eed476,#e9cf6c,#dfc65c,#d2ba46,#c1ac2f,#aea01c,#9b950b,#8c8f07,#7e8b09,#72870b,#678110,#5e7b16,#54751b,#4d711f,#466c23,#3f6827,#38642b,#33602f,#2d5c32,#295935,#245638,#20533a,#1d513c,#1a503e,#184e3f,#154d41,#144c41,#134b42,#134b42,#124b42,#124a43,#114a43,#114a43,#134b42)"></div><div style="top:290px;height:2.5px;background:linear-gradient(90deg,#ffe599,#ffe599,#ffe599,#ffe598,#ffe598,#fee498,#fee497,#fee496,#fde395,#fce293,#fae08f,#f7dd89,#f3d981,#efd579,#ebd16f,#e3c961,#d5bd4c,#c6af33,#b2a320,#9f970e,#8f9007,#818c09,#73880b,#69820f,#5f7c15,#56771a,#4e721e,#476d22,#406926,#3a652a,#35612e,#305e31,#2b5b34,#275836,#235539,#20533b,#1d513c,#1a503e,#184e3f,#164d40,#154c41,#144c41,#144b42,#134b42,#134b42,#134b42,#144b42)"></div><div style="top:292px;height:2.5px;background:linear-gradient(90deg,#ffe599,#ffe599,#ffe599,#ffe599,#ffe598,#fee498,#fee497,#fee496,#fde395,#fde394,#fbe191,#f8de8b,#f5db84,#f1d77c,#ecd273,#e6cc66,#d9c052,#c9b239,#b7a625,#a39a12,#919107,#838c09,#76880a,#6b830f,#617d14,#587819,#50731d,#496e21,#436a25,#3c6629,#37632c,#32602f,#2e5c32,#2a5a35,#265737,#235539,#20533b,#1d513c,#1b503e,#194f3f,#174e40,#164d40,#164d40,#154c41,#154c41,#144c41,#154c41)"></div><div style="top:294px;height:2.5px;background:linear-gradient(90deg,#ffe599,#ffe599,#ffe599,#ffe599,#ffe598,#fee498,#fee497,#fee496,#fde396,#fde395,#fce292,#f9df8d,#f6dc86,#f2d87f,#eed476,#e8ce6a,#dcc357,#cdb53e,#bba829,#a79c16,#949206,#868d08,#78890a,#6c840d,#637e13,#5a7918,#52741c,#4b7020,#456c24,#3f6827,#39652a,#35622d,#315f30,#2d5c32,#295935,#265737,#235539,#21543a,#1e523c,#1c513d,#1a4f3e,#194f3e,#184e3f,#174e3f,#174d40,#164d40,#164d40)"></div><div style="top:296px;height:2.5px;background:linear-gradient(90deg,#ffe599,#ffe599,#ffe599,#ffe599,#ffe598,#fee498,#fee497,#fee497,#fde396,#fde395,#fce293,#fae08f,#f7dd89,#f3d981,#efd578,#ead06d,#e0c65c,#d1b945,#c1ab2e,#ada01b,#9a940a,#8a8f08,#7c8a09,#70860c,#668011,#5d7b16,#54751b,#4d711f,#476d22,#426a25,#3d6728,#39642b,#35622d,#325f2f,#2e5d32,#2b5b33,#295935,#265737,#235539,#21543a,#1f533b,#1e523c,#1d513c,#1c513d,#1b503d,#1a503e,#1a4f3e)"></div><div style="top:298px;height:2.5px;background:linear-gradient(90deg,#ffe599,#ffe599,#ffe599,#ffe599,#ffe598,#fee498,#fee497,#fee497,#fee496,#fde395,#fde394,#fbe191,#f8de8b,#f4da83,#f0d67b,#ebd170,#e3c961,#d5bd4c,#c7b035,#b4a422,#a29911,#929107,#848d08,#75880a,#69820f,#607d14,#587819,#51731d,#4b7020,#466d23,#426a25,#3e6827,#3b652a,#38632b,#35622d,#33602f,#305e30,#2e5d32,#2c5b33,#295935,#285836,#265737,#255638,#235539,#225539,#21543a,#20533a)"></div><div style="top:300px;height:2.5px;background:linear-gradient(90deg,#ffe599,#ffe599,#ffe599,#ffe599,#ffe598,#ffe598,#fee498,#fee497,#fee496,#fde396,#fde395,#fce293,#f9df8d,#f5db85,#f1d77d,#edd374,#e6cc67,#dac154,#ccb43d,#bca92a,#ac9f1a,#9b950b,#8c8f07,#7c8a0a,#6e850c,#658011,#5d7b16,#56761a,#50731d,#4c7020,#486e22,#456c24,#426a25,#406927,#3d6728,#3b662a,#39642b,#37632c,#35612d,#33602e,#315f30,#305e31,#2e5c32,#2c5b33,#2b5a34,#2a5a35,#295935)"></div><div style="top:302px;height:2.5px;background:linear-gradient(90deg,#ffe599,#ffe599,#ffe599,#ffe599,#ffe598,#ffe598,#fee498,#fee497,#fee497,#fde396,#fde395,#fce294,#fae08f,#f7dd88,#f3d980,#efd578,#e9cf6c,#dfc65c,#d2ba46,#c5ae32,#b5a523,#a59b14,#949106,#838c09,#75880b,#6b830e,#637f13,#5c7a16,#577719,#52741c,#4f721e,#4d711f,#4b6f20,#496e21,#476d23,#446c24,#426a25,#406926,#3f6827,#3d6729,#3a652a,#38642b,#37632c,#35612d,#33602e,#325f2f,#315f30)"></div><div style="top:304px;height:2.5px;background:linear-gradient(90deg,#ffe599,#ffe599,#ffe599,#ffe599,#ffe598,#ffe598,#fee498,#fee497,#fee497,#fee496,#fde396,#fde394,#fbe191,#f8de8c,#f5db85,#f1d77d,#ecd273,#e6cc66,#d9c052,#cdb53e,#c0ab2d,#afa11e,#9f970e,#8d8f07,#808b09,#76880a,#6f850c,#69820f,#647f12,#607d14,#5d7b16,#5a7918,#577719,#55761b,#52741c,#50731d,#4e711f,#4c7020,#4a6f21,#486e22,#466c23,#446b24,#416a26,#3f6827,#3e6728,#3c6629,#3b6629)"></div><div style="top:306px;height:2.5px;background:linear-gradient(90deg,#ffe599,#ffe599,#ffe599,#ffe599,#ffe599,#ffe598,#fee498,#fee498,#fee497,#fee496,#fde396,#fde395,#fce293,#fae08f,#f8de8a,#f4da83,#f0d67a,#ebd16f,#e1c85f,#d5bd4c,#c9b239,#baa728,#aa9e19,#9a9409,#8d8f07,#858d08,#808b09,#7b8a0a,#77890a,#72870b,#6e850c,#6b830e,#688110,#657f12,#617d14,#5e7c15,#5b7a17,#597818,#56771a,#54751b,#51741c,#4f721e,#4d711f,#4c7020,#4a6f21,#496e21,#486e22)"></div><div style="top:308px;height:2.5px;background:linear-gradient(90deg,#ffe599,#ffe599,#ffe599,#ffe599,#ffe599,#ffe598,#ffe598,#fee498,#fee497,#fee497,#fee496,#fde396,#fde394,#fce293,#fae08f,#f7dd88,#f3d980,#efd578,#e8ce6b,#dec55a,#d1b946,#c5ae32,#b6a524,#a89d17,#9c960c,#949206,#909007,#8d8f07,#898e08,#858d08,#818c09,#7c8a09,#78890a,#74880b,#70860c,#6c840e,#69820f,#678111,#647f12,#627e13,#5f7c15,#5d7b16,#5b7917,#597818,#577719,#56761a,#55761a)"></div><div style="top:310px;height:2.5px;background:linear-gradient(90deg,#ffe599,#ffe599,#ffe599,#ffe599,#ffe599,#ffe598,#ffe598,#fee498,#fee497,#fee497,#fee497,#fee496,#fde395,#fde395,#fce292,#f9df8d,#f6dc86,#f2d87e,#ecd273,#e5cb65,#d9c052,#ccb53e,#c1ac2e,#b5a423,#aa9e19,#a29912,#9d960d,#999409,#949206,#909007,#8c8f07,#888e08,#838c09,#7f8b09,#7b8a0a,#77890a,#74880b,#71870b,#6e850c,#6c840e,#6a830f,#688210,#668011,#658012,#637f12,#627e13,#617d14)"></div><div style="top:312px;height:2.5px;background:linear-gradient(90deg,#ffe599,#ffe599,#ffe599,#ffe599,#ffe599,#ffe599,#ffe598,#ffe598,#fee498,#fee497,#fee497,#fee496,#fde396,#fde395,#fde394,#fbe191,#f8de8b,#f4da82,#efd579,#e9cf6d,#e0c75d,#d4bc4a,#c9b138,#bda92b,#b3a321,#ab9e19,#a49a13,#9e970d,#989308,#939106,#8f9007,#8b8f07,#888e08,#848d08,#818c09,#7e8b09,#7a8a0a,#77890a,#75880a,#72870b,#70870b,#6f860c,#6e850d,#6d840d,#6b840e,#6a830f,#698210)"></div><div style="top:314px;height:2.5px;background:linear-gradient(90deg,#ffe599,#ffe599,#ffe599,#ffe599,#ffe599,#ffe599,#ffe598,#ffe598,#fee498,#fee497,#fee497,#fee497,#fee496,#fde395,#fde395,#fce293,#f9df8d,#f5db85,#f1d77d,#ecd273,#e6cd67,#dcc356,#d0b844,#c6af34,#bda92a,#b3a321,#ab9e19,#a39a12,#9c960c,#979207,#939106,#909007,#8d8f07,#8a8e08,#878e08,#858d08,#828c09,#7f8b09,#7d8b09,#7b8a0a,#79890a,#78890a,#77890a,#76880a,#75880a,#73880b,#71870b)"></div><div style="top:316px;height:2.5px;background:linear-gradient(90deg,#ffe599,#ffe599,#ffe599,#ffe599,#ffe599,#ffe599,#ffe598,#ffe598,#fee498,#fee497,#fee497,#fee497,#fee496,#fde395,#fde395,#fce293,#f9df8e,#f6dc86,#f2d87f,#eed477,#ead06e,#e4ca63,#dcc356,#d3bb48,#cbb33b,#c2ad30,#baa727,#b2a321,#ac9f1b,#a79c16,#a29911,#9f970e,#9c960c,#9a9409,#989307,#969206,#949106,#929107,#919007,#8f9007,#8e9007,#8d8f07,#8b8f07,#8a8e08,#898e08,#878e08,#858d08)"></div><div style="top:318px;height:2.5px;background:linear-gradient(90deg,#ffe599,#ffe599,#ffe599,#ffe599,#ffe599,#ffe599,#ffe598,#ffe598,#fee498,#fee497,#fee497,#fee497,#fee496,#fde396,#fde395,#fce293,#fae08f,#f7dd88,#f3d981,#f1d77b,#edd375,#ead06e,#e6cc66,#dfc55b,#d7be4e,#d0b843,#cab239,#c5ae32,#bfab2d,#baa828,#b6a524,#b3a321,#b0a21f,#aea11d,#ada01c,#ac9f1a,#aa9e19,#a99d18,#a79c16,#a69b15,#a59b14,#a39a12,#a29911,#a0980f,#9e970e,#9c960c,#9a940a)"></div><div style="top:320px;height:2.5px;background:linear-gradient(90deg,#ffe599,#ffe599,#ffe599,#ffe599,#ffe599,#ffe599,#ffe598,#ffe598,#fee498,#fee498,#fee497,#fee497,#fee496,#fde396,#fde395,#fde394,#fce292,#fae08e,#f7dd89,#f5db84,#f2d87e,#efd578,#ecd271,#e8ce6a,#e2c961,#ddc458,#d8bf50,#d4bb49,#d0b843,#ccb53d,#c9b239,#c7b035,#c4ae31,#c2ac2f,#c0ab2d,#beaa2c,#bda92a,#bba829,#baa728,#b9a727,#b8a626,#b7a525,#b6a524,#b5a423,#b4a422,#b3a321,#b2a220)"></div><div style="top:322px;height:2.5px;background:linear-gradient(90deg,#ffe599,#ffe599,#ffe599,#ffe599,#ffe599,#ffe599,#ffe598,#ffe598,#fee498,#fee498,#fee497,#fee497,#fee497,#fee496,#fde396,#fde395,#fde394,#fbe192,#f9df8e,#f7dd89,#f4da83,#f2d87e,#efd579,#edd374,#ead06e,#e7cd69,#e3ca62,#dfc65c,#dbc256,#d8c051,#d5bd4c,#d3bb48,#d1b944,#ceb741,#cdb53e,#cbb43c,#cab23a,#c9b138,#c8b036,#c7b035,#c6af34,#c6ae33,#c5ae32,#c4ae31,#c4ad31,#c3ad30,#c3ad30)"></div><div style="top:324px;height:2.5px;background:linear-gradient(90deg,#ffe599,#ffe599,#ffe599,#ffe599,#ffe599,#ffe598,#ffe598,#fee498,#fee498,#fee497,#fee497,#fee496,#fde396,#fde395,#fde395,#fce294,#fce292,#fbe190,#f9df8d,#f7dd89,#f6dc86,#f4da82,#f2d87e,#f0d67a,#eed476,#ecd271,#e9cf6c,#e6cc67,#e3c961,#e0c75d,#ddc459,#dbc255,#d9c051,#d6be4e,#d5bc4b,#d3bb48,#d1b946,#d0b844,#cfb742,#ceb641,#cdb63f,#cdb53e,#ccb43d,#cbb43c,#cbb43c,#cbb43c,#cbb43c)"></div><div style="top:326px;height:2.5px;background:linear-gradient(90deg,#ffe599,#ffe599,#ffe599,#ffe599,#ffe599,#ffe598,#ffe598,#fee498,#fee497,#fee497,#fee496,#fde396,#fde395,#fde395,#fce294,#fce292,#fbe190,#fae08e,#f9df8c,#f8de8a,#f7dd88,#f5db85,#f4da83,#f3d980,#f1d77d,#efd578,#edd374,#ead06f,#e8ce6b,#e6cc67,#e4ca63,#e2c860,#dfc65c,#ddc459,#dbc256,#dac153,#d8c051,#d7bf4f,#d6be4d,#d5bd4b,#d4bc4a,#d3bb48,#d2ba47,#d2ba46,#d2ba46,#d2ba46,#d2ba46)"></div><div style="top:328px;height:2.5px;background:linear-gradient(90deg,#ffe599,#ffe599,#ffe599,#ffe599,#ffe599,#ffe598,#ffe598,#fee498,#fee497,#fee497,#fee496,#fee496,#fde395,#fde395,#fde394,#fce293,#fbe191,#fae08f,#f9df8e,#f9df8c,#f8de8b,#f7dd89,#f6dc88,#f5db85,#f4da83,#f3d980,#f1d77c,#efd578,#edd374,#ecd271,#ead06e,#e9cf6b,#e7cd69,#e6cc66,#e4ca63,#e2c961,#e1c85f,#e0c75d,#dfc65b,#dec559,#ddc458,#dcc357,#dbc255,#dbc255,#dbc254,#dac254,#dac254)"></div><div style="top:330px;height:2.5px;background:linear-gradient(90deg,#ffe599,#ffe599,#ffe599,#ffe599,#ffe599,#ffe598,#ffe598,#fee498,#fee498,#fee497,#fee497,#fee496,#fee496,#fde396,#fde395,#fde394,#fce293,#fbe192,#fbe191,#fbe190,#fae08f,#fae08e,#f9df8c,#f8de8b,#f7dd89,#f6dc87,#f5db84,#f3d981,#f2d87e,#f1d77b,#efd579,#eed477,#edd375,#ecd272,#ebd170,#ead06f,#e9cf6d,#e9cf6c,#e8ce6a,#e8ce69,#e7cd68,#e6cc67,#e6cc66,#e5cb65,#e5cb64,#e4cb64,#e4ca64)"></div><div style="top:332px;height:2.5px;background:linear-gradient(90deg,#ffe599,#ffe599,#ffe599,#ffe599,#ffe599,#ffe599,#ffe598,#ffe598,#fee498,#fee498,#fee497,#fee497,#fee497,#fee496,#fde396,#fde395,#fde395,#fde394,#fce294,#fce293,#fce292,#fbe191,#fbe190,#fae08f,#f9df8e,#f9df8c,#f8de8a,#f7dd88,#f6dc86,#f4da84,#f4da82,#f3d980,#f2d87e,#f1d77d,#f0d67b,#f0d67a,#efd578,#eed477,#eed476,#edd375,#edd374,#edd373,#ecd272,#ecd272,#ebd171,#ebd171,#ebd170)"></div><div style="top:334px;height:2.5px;background:linear-gradient(90deg,#ffe599,#ffe599,#ffe599,#ffe599,#ffe599,#ffe599,#ffe598,#ffe598,#ffe598,#fee498,#fee498,#fee497,#fee497,#fee497,#fee496,#fee496,#fde396,#fde395,#fde395,#fde394,#fce294,#fce293,#fce292,#fbe191,#fbe190,#fae08f,#f9df8d,#f8de8b,#f7dd89,#f6dc87,#f5db86,#f5db84,#f4da83,#f3d981,#f3d980,#f2d87f,#f2d87e,#f1d77d,#f1d77c,#f0d67b,#f0d67b,#f0d67a,#efd579,#efd579,#efd578,#efd577,#eed477)"></div><div style="top:336px;height:2.5px;background:linear-gradient(90deg,#ffe599,#ffe599,#ffe599,#ffe599,#ffe599,#ffe599,#ffe599,#ffe598,#ffe598,#fee498,#fee498,#fee497,#fee497,#fee497,#fee497,#fee496,#fee496,#fde396,#fde395,#fde395,#fde394,#fce294,#fce293,#fce292,#fbe191,#fbe190,#fae08e,#f9df8d,#f8de8b,#f7dd89,#f7dd88,#f6dc86,#f5db85,#f5db84,#f4da83,#f4da82,#f3d981,#f3d981,#f3d980,#f2d87f,#f2d87e,#f2d87e,#f1d77d,#f1d77d,#f1d77c,#f1d77c,#f1d77c)"></div><div style="top:338px;height:2.5px;background:linear-gradient(90deg,#ffe599,#ffe599,#ffe599,#ffe599,#ffe599,#ffe599,#ffe599,#ffe598,#ffe598,#ffe598,#fee498,#fee498,#fee497,#fee497,#fee497,#fee497,#fee496,#fee496,#fde396,#fde395,#fde395,#fde394,#fce294,#fce293,#fce292,#fbe191,#fae090,#fae08e,#f9df8d,#f8de8b,#f7dd89,#f7dd88,#f6dc87,#f6dc87,#f6dc86,#f5db85,#f5db84,#f4da84,#f4da83,#f4da82,#f4da82,#f3d981,#f3d981,#f3d980,#f3d980,#f3d980,#f3d980)"></div><div style="top:340px;height:2.5px;background:linear-gradient(90deg,#ffe599,#ffe599,#ffe599,#ffe599,#ffe599,#ffe599,#ffe599,#ffe598,#ffe598,#ffe598,#ffe598,#fee498,#fee498,#fee497,#fee497,#fee497,#fee497,#fee496,#fee496,#fde396,#fde395,#fde395,#fde394,#fce294,#fce293,#fce292,#fbe191,#fae08f,#f9df8e,#f9df8c,#f8de8b,#f8de8a,#f7dd89,#f7dd88,#f7dd88,#f6dc87,#f6dc87,#f6dc86,#f5db85,#f5db85,#f5db85,#f5db84,#f5db84,#f4da83,#f4da83,#f4da83,#f4da83)"></div><div style="top:342px;height:2.5px;background:linear-gradient(90deg,#ffe599,#ffe599,#ffe599,#ffe599,#ffe599,#ffe599,#ffe599,#ffe599,#ffe598,#ffe598,#ffe598,#fee498,#fee498,#fee497,#fee497,#fee497,#fee497,#fee496,#fee496,#fde396,#fde396,#fde395,#fde395,#fde394,#fce294,#fce293,#fbe192,#fbe190,#fae08f,#f9df8d,#f9df8c,#f8de8b,#f8de8a,#f8de8a,#f7dd89,#f7dd89,#f7dd88,#f7dd88,#f6dc87,#f6dc87,#f6dc87,#f6dc86,#f6dc86,#f6dc86,#f5db86,#f5db85,#f5db85)"></div><div style="top:344px;height:2.5px;background:linear-gradient(90deg,#ffe599,#ffe599,#ffe599,#ffe599,#ffe599,#ffe599,#ffe599,#ffe599,#ffe598,#ffe598,#ffe598,#ffe598,#fee498,#fee498,#fee497,#fee497,#fee497,#fee497,#fee496,#fee496,#fde396,#fde395,#fde395,#fde395,#fde394,#fce293,#fce292,#fbe191,#fae08f,#fae08e,#f9df8d,#f9df8c,#f8de8b,#f8de8b,#f8de8a,#f8de8a,#f7dd89,#f7dd89,#f7dd89,#f7dd88,#f7dd88,#f6dc88,#f6dc87,#f6dc87,#f6dc87,#f6dc87,#f6dc87)"></div><div style="top:346px;height:2.5px;background:linear-gradient(90deg,#ffe599,#ffe599,#ffe599,#ffe599,#ffe599,#ffe599,#ffe599,#ffe599,#ffe598,#ffe598,#ffe598,#ffe598,#fee498,#fee498,#fee497,#fee497,#fee497,#fee497,#fee496,#fee496,#fde396,#fde395,#fde395,#fde395,#fde394,#fce293,#fce292,#fbe191,#fae08f,#fae08e,#f9df8d,#f9df8c,#f8de8b,#f8de8b,#f8de8a,#f8de8a,#f7dd8a,#f7dd89,#f7dd89,#f7dd89,#f7dd88,#f7dd88,#f7dd88,#f6dc88,#f6dc87,#f6dc87,#f6dc87)"></div><div style="top:348px;height:2.5px;background:linear-gradient(90deg,#ffe599,#ffe599,#ffe599,#ffe599,#ffe599,#ffe599,#ffe599,#ffe599,#ffe598,#ffe598,#ffe598,#ffe598,#fee498,#fee498,#fee497,#fee497,#fee497,#fee497,#fee496,#fee496,#fde396,#fde395,#fde395,#fde395,#fde394,#fce293,#fce292,#fbe191,#fae08f,#fae08e,#f9df8d,#f9df8c,#f8de8b,#f8de8b,#f8de8a,#f8de8a,#f7dd8a,#f7dd89,#f7dd89,#f7dd89,#f7dd88,#f7dd88,#f7dd88,#f6dc88,#f6dc87,#f6dc87,#f6dc87)"></div><div style="top:350px;height:2.5px;background:linear-gradient(90deg,#ffe599,#ffe599,#ffe599,#ffe599,#ffe599,#ffe599,#ffe599,#ffe599,#ffe598,#ffe598,#ffe598,#ffe598,#fee498,#fee498,#fee497,#fee497,#fee497,#fee497,#fee496,#fee496,#fde396,#fde395,#fde395,#fde395,#fde394,#fce294,#fce292,#fbe191,#fae090,#fae08e,#f9df8d,#f9df8c,#f8de8b,#f8de8b,#f8de8a,#f8de8a,#f7dd8a,#f7dd89,#f7dd89,#f7dd89,#f7dd88,#f7dd88,#f7dd88,#f6dc88,#f6dc87,#f6dc87,#f6dc87)"></div><div style="top:352px;height:2.5px;background:linear-gradient(90deg,#ffe599,#ffe599,#ffe599,#ffe599,#ffe599,#ffe599,#ffe599,#ffe599,#ffe598,#ffe598,#ffe598,#ffe598,#fee498,#fee498,#fee497,#fee497,#fee497,#fee497,#fee496,#fee496,#fde396,#fde395,#fde395,#fde395,#fde394,#fce294,#fce292,#fbe191,#fae090,#fae08e,#f9df8d,#f9df8c,#f8de8b,#f8de8b,#f8de8a,#f8de8a,#f7dd8a,#f7dd89,#f7dd89,#f7dd88,#f7dd88,#f7dd88,#f7dd88,#f6dc88,#f6dc87,#f6dc87,#f6dc87)"></div><div style="top:354px;height:2.5px;background:linear-gradient(90deg,#ffe599,#ffe599,#ffe599,#ffe599,#ffe599,#ffe599,#ffe599,#ffe599,#ffe598,#ffe598,#ffe598,#ffe598,#fee498,#fee498,#fee497,#fee497,#fee497,#fee497,#fee496,#fee496,#fde396,#fde395,#fde395,#fde395,#fde394,#fce294,#fce292,#fbe191,#fae090,#fae08e,#f9df8d,#f9df8c,#f8de8b,#f8de8b,#f8de8a,#f8de8a,#f7dd8a,#f7dd89,#f7dd89,#f7dd88,#f7dd88,#f7dd88,#f7dd88,#f6dc87,#f6dc87,#f6dc87,#f6dc87)"></div><div style="top:356px;height:2.5px;background:linear-gradient(90deg,#ffe599,#ffe599,#ffe599,#ffe599,#ffe599,#ffe599,#ffe599,#ffe599,#ffe598,#ffe598,#ffe598,#ffe598,#fee498,#fee498,#fee497,#fee497,#fee497,#fee497,#fee496,#fee496,#fde396,#fde395,#fde395,#fde395,#fde394,#fce294,#fce292,#fbe191,#fae090,#fae08e,#f9df8d,#f9df8c,#f8de8b,#f8de8b,#f8de8a,#f8de8a,#f7dd8a,#f7dd89,#f7dd89,#f7dd88,#f7dd88,#f7dd88,#f6dc88,#f6dc87,#f6dc87,#f6dc87,#f6dc87)"></div><div style="top:358px;height:2.5px;background:linear-gradient(90deg,#ffe599,#ffe599,#ffe599,#ffe599,#ffe599,#ffe599,#ffe599,#ffe599,#ffe598,#ffe598,#ffe598,#ffe598,#fee498,#fee498,#fee497,#fee497,#fee497,#fee497,#fee496,#fee496,#fde396,#fde395,#fde395,#fde395,#fde394,#fce294,#fce292,#fbe191,#fae090,#fae08e,#f9df8d,#f9df8c,#f8de8b,#f8de8b,#f8de8a,#f8de8a,#f7dd89,#f7dd89,#f7dd89,#f7dd88,#f7dd88,#f6dc88,#f6dc87,#f6dc87,#f6dc87,#f6dc87,#f6dc87)"></div><div style="top:360px;height:2.5px;background:linear-gradient(90deg,#ffe599,#ffe599,#ffe599,#ffe599,#ffe599,#ffe599,#ffe599,#ffe599,#ffe598,#ffe598,#ffe598,#ffe598,#fee498,#fee498,#fee497,#fee497,#fee497,#fee497,#fee496,#fee496,#fde396,#fde395,#fde395,#fde395,#fde394,#fce294,#fce292,#fbe191,#fae090,#fae08e,#f9df8d,#f9df8c,#f8de8b,#f8de8b,#f8de8a,#f8de8a,#f7dd89,#f7dd89,#f7dd88,#f7dd88,#f7dd88,#f6dc87,#f6dc87,#f6dc87,#f6dc87,#f6dc87,#f6dc87)"></div><div style="top:362px;height:2.5px;background:linear-gradient(90deg,#ffe599,#ffe599,#ffe599,#ffe599,#ffe599,#ffe599,#ffe599,#ffe599,#ffe598,#ffe598,#ffe598,#ffe598,#fee498,#fee498,#fee497,#fee497,#fee497,#fee497,#fee496,#fee496,#fde396,#fde395,#fde395,#fde395,#fde394,#fce294,#fce292,#fbe191,#fae090,#fae08e,#f9df8d,#f9df8c,#f8de8b,#f8de8b,#f8de8a,#f8de8a,#f7dd89,#f7dd89,#f7dd88,#f7dd88,#f6dc87,#f6dc87,#f6dc87,#f6dc87,#f6dc86,#f6dc86,#f6dc86)"></div><div style="top:364px;height:2.5px;background:linear-gradient(90deg,#ffe599,#ffe599,#ffe599,#ffe599,#ffe599,#ffe599,#ffe599,#ffe599,#ffe598,#ffe598,#ffe598,#ffe598,#fee498,#fee498,#fee497,#fee497,#fee497,#fee497,#fee496,#fee496,#fde396,#fde395,#fde395,#fde395,#fde394,#fce294,#fce292,#fbe191,#fae090,#fae08e,#f9df8d,#f9df8c,#f8de8b,#f8de8b,#f8de8a,#f7dd8a,#f7dd89,#f7dd89,#f7dd88,#f6dc88,#f6dc87,#f6dc87,#f6dc86,#f6dc86,#f6dc86,#f6dc86,#f5db86)"></div><div style="top:366px;height:2.5px;background:linear-gradient(90deg,#ffe599,#ffe599,#ffe599,#ffe599,#ffe599,#ffe599,#ffe599,#ffe599,#ffe598,#ffe598,#ffe598,#ffe598,#fee498,#fee498,#fee497,#fee497,#fee497,#fee497,#fee496,#fee496,#fde396,#fde395,#fde395,#fde395,#fde394,#fce294,#fce292,#fbe191,#fae090,#fae08e,#f9df8d,#f9df8c,#f8de8b,#f8de8b,#f8de8a,#f7dd89,#f7dd89,#f7dd88,#f7dd88,#f6dc87,#f6dc87,#f6dc86,#f6dc86,#f6dc86,#f5db85,#f5db85,#f5db85)"></div><div style="top:368px;height:0.9px;background:linear-gradient(90deg,#ffe599,#ffe599,#ffe599,#ffe599,#ffe599,#ffe599,#ffe599,#ffe599,#ffe598,#ffe598,#ffe598,#ffe598,#fee498,#fee498,#fee497,#fee497,#fee497,#fee497,#fee496,#fee496,#fde396,#fde395,#fde395,#fde395,#fde394,#fce294,#fce292,#fbe191,#fae090,#fae08e,#f9df8d,#f9df8c,#f8de8b,#f8de8b,#f8de8a,#f7dd89,#f7dd89,#f7dd88,#f6dc87,#f6dc87,#f6dc86,#f6dc86,#f5db85,#f5db85,#f5db85,#f5db84,#f5db84)"></div></div>
<div class="hm" style="left:704.50px;top:78.40px;width:344.40px;height:368.40px"><div style="top:0px;height:2.5px;background:linear-gradient(90deg,#ffffcc,#ffffcc,#ffffcb,#fffecb,#fffec9,#fffec8,#fffdc7,#fefcc5,#fefbc3,#fefabe,#fdf8b8,#fdf5b2,#fcf2aa,#fceea0,#fae996,#f9e189,#f7d87a,#f4cc68,#f0b95e,#eba555,#e69152,#e38451,#df7c50,#dc764f,#da734f,#d9714f,#d86f4e,#d76d4e,#d76c4e,#d66a4e,#d5684e,#d4664d,#d3644d,#d2624d,#d0614d,#ce5f4c,#cb5e4b,#c95d4b,#c75b4a,#c45a4a,#c25949,#c15849,#bf5748,#bd5548,#b95347,#b14e45,#a04540)"></div><div style="top:2px;height:2.5px;background:linear-gradient(90deg,#ffffcc,#ffffcc,#ffffcb,#fffecb,#fffec9,#fffec8,#fffdc7,#fefcc5,#fefbc3,#fefabe,#fdf8b8,#fdf5b2,#fcf2a9,#fbeea0,#fae995,#f8e088,#f6d678,#f4ca67,#efb75d,#eba254,#e68f52,#e28251,#de7a50,#db744f,#d9714f,#d86f4e,#d76d4e,#d66b4e,#d6694e,#d5684e,#d4664d,#d3644d,#d2624d,#d0614d,#ce5f4c,#cc5e4b,#c95d4b,#c75b4a,#c55a4a,#c35949,#c05749,#bf5748,#bd5648,#bb5447,#b85247,#b04d45,#9e453f)"></div><div style="top:4px;height:2.5px;background:linear-gradient(90deg,#ffffcc,#ffffcc,#ffffcb,#fffecb,#fffec9,#fffec8,#fffdc7,#fefcc5,#fefbc3,#fefabe,#fdf8b8,#fdf5b1,#fcf2a9,#fbee9f,#fae893,#f8df86,#f6d575,#f3c765,#eeb35b,#ea9e54,#e58b52,#e07f50,#dc774f,#d9714f,#d86e4e,#d76b4e,#d6694e,#d5684e,#d4664d,#d3644d,#d2634d,#d1614d,#cf604c,#cd5f4c,#ca5d4b,#c85c4b,#c65b4a,#c45a4a,#c25849,#c05749,#be5648,#bc5548,#ba5447,#b85347,#b55146,#ad4c44,#9b443e)"></div><div style="top:6px;height:2.5px;background:linear-gradient(90deg,#ffffcc,#ffffcc,#ffffcb,#fffecb,#fffec9,#fffec8,#fffdc7,#fefcc5,#fefbc3,#fefabe,#fdf8b8,#fdf5b1,#fcf1a8,#fbed9e,#fae792,#f8de83,#f5d372,#f2c464,#eeaf59,#e99b53,#e48851,#df7c50,#db744f,#d86e4e,#d66b4e,#d5684e,#d4664d,#d3644d,#d2634d,#d1614d,#cf604c,#cd5f4c,#cb5e4b,#c95d4b,#c75b4a,#c55a4a,#c35949,#c15849,#bf5748,#bd5548,#bb5447,#b95347,#b85247,#b65146,#b24f45,#aa4a43,#98433d)"></div><div style="top:8px;height:2.5px;background:linear-gradient(90deg,#ffffcc,#ffffcc,#ffffcb,#fffecb,#fffec9,#fffec8,#fffdc7,#fefcc5,#fefbc3,#fefabe,#fdf8b8,#fdf5b1,#fcf1a8,#fbed9d,#fae690,#f8dc81,#f5d06f,#f1c162,#edab57,#e89753,#e38551,#dd794f,#d9714f,#d66b4e,#d5674e,#d3654d,#d2634d,#d1614d,#cf604c,#cd5f4c,#cb5e4b,#c95d4b,#c75c4a,#c65b4a,#c4594a,#c25849,#c05749,#be5648,#bc5548,#ba5447,#b85347,#b75246,#b55146,#b34f45,#b04d45,#a84943,#95423c)"></div><div style="top:10px;height:2.5px;background:linear-gradient(90deg,#ffffcc,#ffffcc,#ffffcb,#fffecb,#fffec9,#fffec8,#fffdc7,#fefcc5,#fefbc3,#fefabe,#fdf8b8,#fdf5b1,#fcf1a8,#fbed9c,#f9e58f,#f7db7f,#f5ce6c,#f1be60,#eca855,#e79453,#e18150,#dc764f,#d86e4e,#d5684e,#d3644d,#d2624d,#cf604c,#cd5f4c,#cb5e4b,#c95d4b,#c75c4a,#c65b4a,#c45a4a,#c25949,#c15849,#bf5648,#bd5548,#bb5447,#b95347,#b75246,#b65146,#b45046,#b24f45,#b04e45,#ad4c44,#a54742,#92413b)"></div><div style="top:12px;height:2.5px;background:linear-gradient(90deg,#ffffcc,#ffffcc,#ffffcb,#fffecb,#fffec9,#fffec8,#fffdc7,#fefcc5,#fefbc3,#fefabe,#fdf8b8,#fdf5b1,#fcf1a7,#fbec9b,#f9e48d,#f7d97c,#f4cc68,#f0ba5f,#eba555,#e69152,#e07e50,#da734f,#d66b4e,#d3654d,#d1614d,#ce604c,#cb5e4b,#c95d4b,#c75c4a,#c65b4a,#c4594a,#c25849,#c15849,#bf5748,#bd5648,#bc5548,#ba5447,#b85347,#b75246,#b55046,#b34f45,#b14e45,#b04d45,#ad4c44,#aa4a43,#a24641,#8f4039)"></div><div style="top:14px;height:2.5px;background:linear-gradient(90deg,#ffffcc,#ffffcc,#ffffcb,#fffecb,#fffec9,#fffec8,#fffdc7,#fefcc5,#fefbc3,#fefabf,#fdf7b8,#fdf5b1,#fcf1a7,#fbec9a,#f9e38b,#f6d77a,#f3c967,#efb75d,#eaa154,#e68e52,#de7b50,#d9704f,#d5684e,#d1624d,#cd5f4c,#ca5d4b,#c85c4a,#c65b4a,#c45a4a,#c25849,#c05749,#bf5648,#bd5648,#bc5548,#ba5447,#b95347,#b75246,#b55146,#b45046,#b24f45,#b04e45,#af4d44,#ad4c44,#ab4a43,#a74843,#9f4540,#8c3f38)"></div><div style="top:16px;height:2.5px;background:linear-gradient(90deg,#ffffcc,#ffffcc,#ffffcb,#fffecb,#fffec9,#fffec8,#fffdc7,#fefcc5,#fefbc3,#fefabf,#fdf7b8,#fdf5b1,#fcf1a7,#fbec99,#f9e28a,#f6d677,#f3c765,#efb45b,#ea9e54,#e58b51,#dd784f,#d76d4e,#d3644d,#cd5f4c,#c95d4b,#c65b4a,#c45a4a,#c25849,#c05749,#bf5648,#bd5548,#bb5447,#ba5447,#b85347,#b75246,#b55146,#b45046,#b34f45,#b14e45,#af4d45,#ae4c44,#ac4b44,#aa4a43,#a84943,#a44742,#9b443e,#893e37)"></div><div style="top:18px;height:2.5px;background:linear-gradient(90deg,#ffffcc,#ffffcc,#ffffcb,#fffecb,#fffec9,#fffec8,#fffdc7,#fefcc5,#fefbc3,#fefabf,#fdf7b8,#fdf5b0,#fcf1a6,#fbeb98,#f8e088,#f6d474,#f2c363,#eeb059,#e99c53,#e48851,#dc764f,#d66a4e,#d1614d,#c95d4b,#c55a4a,#c25949,#c05749,#be5648,#bd5548,#bb5447,#ba5347,#b85247,#b75246,#b55146,#b45046,#b24f45,#b14e45,#b04d45,#ae4d44,#ad4c44,#ab4b43,#a94a43,#a84943,#a54742,#a14641,#98433d,#863e36)"></div><div style="top:20px;height:2.5px;background:linear-gradient(90deg,#ffffcc,#ffffcc,#ffffcb,#fffecb,#fffec9,#fffec8,#fffdc7,#fefcc5,#fefbc3,#fefabf,#fdf7b8,#fdf5b0,#fcf1a6,#fbea98,#f8df86,#f5d271,#f1c062,#edad57,#e89953,#e38651,#da734f,#d5684e,#cd5f4c,#c45a4a,#c15849,#be5648,#bc5548,#bb5447,#b95347,#b85247,#b65146,#b55046,#b35045,#b24f45,#b04e45,#af4d44,#ae4c44,#ad4c44,#ac4b44,#aa4a43,#a94943,#a74842,#a54742,#a24641,#9e453f,#95423c,#833d35)"></div><div style="top:22px;height:2.5px;background:linear-gradient(90deg,#ffffcc,#ffffcc,#ffffcb,#fffecb,#fffec9,#fffec8,#fffdc7,#fefcc5,#fefbc3,#fefabf,#fdf7b8,#fdf4b0,#fcf1a6,#fbea97,#f8de84,#f5d06e,#f1bc60,#eca955,#e89653,#e28351,#d9714f,#d3654d,#c95c4b,#c05749,#bc5548,#ba5347,#b85347,#b75246,#b65146,#b55046,#b34f45,#b24f45,#b04e45,#ae4d44,#ad4c44,#ac4b44,#ab4b43,#aa4a43,#a94943,#a84943,#a64842,#a44742,#a24641,#9f4540,#9b443e,#92413b,#803c34)"></div><div style="top:24px;height:2.5px;background:linear-gradient(90deg,#ffffcc,#ffffcc,#ffffcb,#fffecb,#fffec9,#fffec8,#fffdc7,#fefcc5,#fefbc3,#fefabf,#fdf7b8,#fdf4b0,#fcf0a6,#faea96,#f8dd82,#f4cd6a,#f0b95e,#eba555,#e79353,#e18150,#d86e4e,#d2624d,#c55a4a,#bb5447,#b75247,#b65146,#b45046,#b45046,#b34f45,#b14e45,#b04e45,#ae4d44,#ad4c44,#ab4b44,#aa4a43,#a94943,#a84943,#a74843,#a64842,#a54742,#a34741,#a14641,#9f4540,#9c443f,#97433d,#8f403a,#7e3b33)"></div><div style="top:26px;height:2.5px;background:linear-gradient(90deg,#ffffcc,#ffffcc,#ffffcb,#fffecb,#fffec9,#fffec8,#fffdc7,#fefcc5,#fefbc3,#fefabf,#fdf7b8,#fdf4b0,#fcf0a6,#fae995,#f7dc80,#f4cb68,#efb55c,#eba254,#e69152,#e07e50,#d76c4e,#cf604c,#c15849,#b75246,#b35045,#b24f45,#b14e45,#b04e45,#af4d45,#ae4d44,#ad4c44,#ab4b44,#aa4a43,#a84943,#a74842,#a64742,#a54742,#a44742,#a34641,#a24641,#a14640,#9f4540,#9c443f,#99433d,#94423c,#8c3f38,#7b3a32)"></div><div style="top:28px;height:2.5px;background:linear-gradient(90deg,#ffffcc,#ffffcc,#ffffcb,#fffecb,#fffec9,#fffec8,#fffdc7,#fefcc5,#fefbc3,#fefabf,#fdf7b8,#fdf4b0,#fcf0a5,#fae895,#f7da7e,#f3c966,#eeb25a,#ea9f54,#e68e52,#df7c50,#d66a4e,#cc5e4b,#bd5548,#b34f45,#b04d45,#ae4d44,#ae4c44,#ad4c44,#ad4c44,#ac4b44,#aa4a43,#a94943,#a74842,#a54742,#a44742,#a34641,#a24641,#a14641,#a04640,#9f4540,#9e453f,#9c443f,#99433d,#95423c,#91413a,#883e37,#783a31)"></div><div style="top:30px;height:2.5px;background:linear-gradient(90deg,#ffffcc,#ffffcc,#ffffcb,#fffecb,#fffec9,#fffec8,#fffdc7,#fefcc5,#fefbc3,#fefabf,#fdf7b8,#fdf4b0,#fcf0a5,#fae894,#f7d97c,#f3c765,#edaf59,#e99c54,#e58c52,#dd7950,#d5674e,#c85c4b,#ba5347,#af4d45,#ad4c44,#ac4b44,#ab4b43,#ab4a43,#aa4a43,#a94943,#a84943,#a64842,#a44742,#a24641,#a14640,#a04540,#9f4540,#9f4540,#9e453f,#9d443f,#9b443e,#99433d,#96433c,#92413b,#8d4039,#853d36,#753930)"></div><div style="top:32px;height:2.5px;background:linear-gradient(90deg,#ffffcc,#ffffcc,#ffffcb,#fffecb,#fffec9,#fffec8,#fffdc7,#fefcc5,#fefbc3,#fefabf,#fdf7b8,#fdf4af,#fcf0a5,#fae792,#f7d87a,#f2c564,#edac57,#e99a53,#e48951,#dc764f,#d3654d,#c55a4a,#b75246,#ad4c44,#ab4a43,#aa4a43,#a94943,#a84943,#a84943,#a74842,#a54742,#a44741,#a24641,#a04540,#9e453f,#9d453f,#9d443f,#9c443f,#9b443e,#9a443e,#98433d,#96433c,#93423b,#8f403a,#8a3f38,#813c34,#72382e)"></div><div style="top:34px;height:2.5px;background:linear-gradient(90deg,#ffffcc,#ffffcc,#ffffcb,#fffecb,#fffeca,#fffec8,#fffdc7,#fefcc5,#fefbc2,#fefabe,#fdf7b8,#fdf4af,#fcf0a4,#fae691,#f6d678,#f2c363,#ecaa56,#e89753,#e38651,#da734f,#d2624d,#c25849,#b45046,#ab4b44,#a94943,#a84943,#a74843,#a74842,#a64842,#a54742,#a34641,#a14641,#9f4540,#9d453f,#9c443f,#9b443e,#9a443e,#9a443e,#99433d,#98433d,#96423c,#93423b,#90413a,#8b3f38,#863e36,#7d3b33,#6e372d)"></div><div style="top:36px;height:2.5px;background:linear-gradient(90deg,#ffffcc,#ffffcc,#ffffcb,#ffffcb,#fffeca,#fffec8,#fffdc7,#fefcc5,#fefbc2,#fefabe,#fdf7b7,#fdf4ae,#fcefa3,#fae590,#f6d576,#f2c162,#eca855,#e79553,#e28351,#d96f4e,#cd5f4c,#be5648,#b24f45,#aa4a43,#a84943,#a74842,#a64842,#a54742,#a44742,#a34641,#a14641,#9f4540,#9d453f,#9b443e,#9a443e,#99433d,#98433d,#97433d,#96433c,#95423c,#93423b,#90413a,#8c4039,#883e37,#823c35,#793a31,#6b352b)"></div><div style="top:38px;height:2.5px;background:linear-gradient(90deg,#ffffcc,#ffffcc,#ffffcc,#ffffcb,#fffeca,#fffec9,#fffdc7,#fefcc4,#fefbc2,#fefabe,#fdf7b7,#fdf3ad,#fcefa1,#f9e48e,#f6d474,#f1bf61,#eca755,#e79352,#e07f50,#d76c4e,#c95d4b,#ba5447,#af4d44,#a84943,#a64842,#a54742,#a54742,#a44741,#a24641,#a14640,#9f4540,#9d453f,#9b443e,#9a443e,#98433d,#97433d,#96433c,#95423c,#94423c,#93423b,#91413a,#8d4039,#893f37,#843d35,#7e3b33,#743830,#673429)"></div><div style="top:40px;height:2.5px;background:linear-gradient(90deg,#ffffcc,#ffffcc,#ffffcc,#ffffcb,#fffeca,#fffec9,#fffdc7,#fefcc4,#fefbc1,#fef9bd,#fdf7b6,#fcf3ac,#fbeea0,#f9e38c,#f5d372,#f1be60,#eba555,#e69152,#df7c50,#d5684e,#c55a4a,#b75246,#ad4c44,#a74843,#a54742,#a44742,#a34641,#a24641,#a14640,#9f4540,#9d453f,#9b443e,#9a443e,#98433d,#97433d,#95423c,#94423c,#93423b,#92413b,#90413a,#8e4039,#8a3f38,#863e36,#803c34,#793a31,#70372e,#633327)"></div><div style="top:42px;height:2.5px;background:linear-gradient(90deg,#ffffcc,#ffffcc,#ffffcc,#ffffcb,#fffeca,#fffec9,#fffdc7,#fefcc4,#fefbc1,#fef9bc,#fdf6b5,#fcf2ab,#fbee9e,#f9e28b,#f5d170,#f0bc60,#eba454,#e68f52,#dd784f,#d3644d,#c05749,#b34f45,#ab4a43,#a64842,#a44742,#a34641,#a24641,#a14640,#9f4540,#9d453f,#9c443e,#9a443e,#98433d,#96433c,#95423c,#94423b,#93413b,#91413b,#90413a,#8e4039,#8b3f38,#873e37,#823d35,#7c3b33,#753930,#6b362b,#5f3126)"></div><div style="top:44px;height:2.5px;background:linear-gradient(90deg,#ffffcc,#ffffcc,#ffffcc,#ffffcc,#fffecb,#fffec9,#fffdc7,#fefcc4,#fefbc1,#fef9bc,#fdf6b4,#fcf2aa,#fbed9c,#f9e189,#f5d06e,#f0ba5f,#eba354,#e58d52,#db754f,#d0614c,#bc5548,#b04d45,#a94943,#a54742,#a34641,#a24641,#a14640,#9f4540,#9e453f,#9c443e,#9a443e,#98433d,#96433c,#95423c,#93423b,#92413b,#91413a,#8f413a,#8e4039,#8c3f38,#893f37,#843d36,#7f3c34,#793a31,#71372e,#673429,#5b3024)"></div><div style="top:46px;height:2.5px;background:linear-gradient(90deg,#ffffcc,#ffffcc,#ffffcc,#ffffcc,#ffffcb,#fffec9,#fffdc7,#fefcc4,#fefac0,#fef9bb,#fdf6b3,#fcf1a8,#fbec9a,#f8e087,#f5cf6c,#f0b95e,#eaa154,#e58b51,#da724f,#cc5e4b,#b85347,#ad4c44,#a74842,#a44742,#a24641,#a14640,#a04540,#9e453f,#9c443f,#9a443e,#98433d,#96433c,#94423c,#93423b,#91413b,#90413a,#8f403a,#8d4039,#8c3f38,#8a3f38,#863e36,#813c34,#7c3b32,#753930,#6d362c,#633327,#572f22)"></div><div style="top:48px;height:2.5px;background:linear-gradient(90deg,#ffffcc,#ffffcc,#ffffcc,#ffffcc,#ffffcb,#fffec9,#fffdc7,#fefcc4,#fefac0,#fef8bb,#fdf5b2,#fcf1a7,#fbeb99,#f8df85,#f4cd6a,#efb75d,#eaa054,#e58951,#d9704e,#c85c4b,#b55146,#aa4a43,#a54742,#a34641,#a14641,#a04540,#9e4540,#9d443f,#9a443e,#98433d,#96433c,#94423c,#92413b,#91413a,#90413a,#8e4039,#8d4039,#8b3f38,#893f38,#873e37,#833d35,#7e3b33,#793a31,#71372e,#69352a,#5f3126,#532e20)"></div><div style="top:50px;height:2.5px;background:linear-gradient(90deg,#ffffcc,#ffffcc,#ffffcc,#ffffcc,#ffffcb,#fffec9,#fffdc7,#fefcc3,#fefabf,#fef8ba,#fdf5b1,#fcf1a6,#fbea98,#f8dd83,#f4cc68,#efb65c,#ea9e54,#e48751,#d86d4e,#c65b4a,#b34f45,#a84943,#a34641,#a14641,#a04540,#9f4540,#9d453f,#9b443e,#99433d,#97433d,#94423c,#92413b,#91413a,#8f403a,#8e4039,#8c4039,#8b3f38,#893f37,#873e37,#843d36,#813c34,#7b3b32,#753930,#6e362d,#663429,#5c3024,#502d1f)"></div><div style="top:52px;height:2.5px;background:linear-gradient(90deg,#ffffcc,#ffffcc,#ffffcc,#ffffcc,#ffffcb,#fffec9,#fffdc7,#fefcc3,#fefabf,#fef8ba,#fdf5b1,#fcf0a5,#faea96,#f8dc82,#f4cb67,#efb45b,#e99d54,#e38651,#d76c4e,#c45949,#b14e45,#a64842,#a24641,#a04540,#9e4540,#9d453f,#9c443e,#9a443e,#97433d,#95423c,#92413b,#90413a,#8e4039,#8d4039,#8b3f38,#8a3f38,#883e37,#863e36,#843d35,#813c34,#7d3b33,#783a31,#72382f,#6b352b,#623327,#582f22,#4d2c1d)"></div><div style="top:54px;height:2.5px;background:linear-gradient(90deg,#ffffcc,#ffffcc,#ffffcc,#ffffcc,#ffffcb,#fffec9,#fffdc7,#fefcc3,#fefabf,#fdf8b9,#fdf4b0,#fcf0a4,#fae995,#f7db80,#f3c967,#eeb25b,#e99b53,#e28451,#d66a4e,#c25849,#b04d45,#a54742,#a04640,#9e4540,#9d453f,#9c443e,#9a443e,#98433d,#95423c,#93413b,#90413a,#8e4039,#8c3f38,#8a3f38,#883e37,#873e37,#853d36,#833d35,#813c34,#7e3b33,#7a3a32,#753830,#6f372d,#68342a,#5f3226,#552e21,#4a2b1c)"></div><div style="top:56px;height:2.5px;background:linear-gradient(90deg,#ffffcc,#ffffcc,#ffffcc,#ffffcc,#ffffcb,#fffec9,#fffdc6,#fefbc3,#fefabe,#fdf8b9,#fdf4af,#fcf0a4,#fae894,#f7da7e,#f3c866,#eeb15a,#e99a53,#e28250,#d5684e,#c05749,#ae4d44,#a44742,#9f4540,#9d453f,#9c443e,#9a443e,#99433d,#96433c,#93423b,#91413a,#8e4039,#8b3f38,#893f37,#873e37,#863e36,#843d35,#823c35,#7f3c34,#7d3b33,#7a3a32,#763930,#71372e,#6b352b,#643328,#5c3124,#522d20,#472a1a)"></div><div style="top:58px;height:2.5px;background:linear-gradient(90deg,#ffffcc,#ffffcc,#ffffcc,#ffffcc,#ffffcb,#fffec9,#fffdc6,#fefbc3,#fefabe,#fdf7b8,#fdf4af,#fcefa3,#fae893,#f7d97c,#f3c665,#eeaf59,#e89853,#e18150,#d4674e,#bf5648,#ad4c44,#a34641,#9e453f,#9c443f,#9a443e,#99433d,#97433d,#95423c,#92413b,#8f403a,#8c3f38,#893f37,#873e37,#853d36,#833d35,#813c34,#7f3c33,#7c3b33,#7a3a32,#763930,#72382f,#6e362d,#68342a,#623227,#593023,#4f2c1e,#442919)"></div><div style="top:60px;height:2.5px;background:linear-gradient(90deg,#ffffcc,#ffffcc,#ffffcc,#ffffcc,#fffecb,#fffec9,#fffdc6,#fefbc2,#fefabe,#fdf7b8,#fdf4ae,#fcefa2,#fae792,#f7d87b,#f2c564,#edae58,#e89753,#e07f50,#d4664d,#bd5648,#ac4b44,#a14641,#9c443f,#9a443e,#99433d,#97433d,#95423c,#93423b,#90413a,#8d4039,#8a3f38,#873e37,#853d36,#833d35,#803c34,#7e3b33,#7c3b33,#7a3a32,#773931,#74382f,#70372e,#6b352b,#663429,#5f3126,#572f22,#4d2c1d,#422818)"></div><div style="top:62px;height:2.5px;background:linear-gradient(90deg,#ffffcc,#ffffcc,#ffffcc,#ffffcc,#fffecb,#fffec9,#fefdc6,#fefbc2,#fefabe,#fdf7b7,#fdf3ad,#fcefa1,#fae691,#f6d779,#f2c464,#edad57,#e89653,#df7e50,#d3644d,#bc5548,#ab4a43,#a04540,#9b443e,#99433d,#97433d,#96423c,#94423b,#91413a,#8e4039,#8b3f38,#883e37,#853d36,#833d35,#813c34,#7f3c34,#7d3b33,#7b3a32,#783a31,#763930,#73382f,#6f372d,#6a352b,#643328,#5d3125,#552e21,#4b2b1c,#402717)"></div><div style="top:64px;height:2.5px;background:linear-gradient(90deg,#ffffcc,#ffffcc,#ffffcc,#ffffcc,#fffecb,#fffec8,#fefdc6,#fefbc2,#fef9bd,#fdf7b7,#fdf3ad,#fceea1,#fae690,#f6d678,#f2c263,#edab57,#e79453,#df7c50,#d3634d,#bb5447,#a94a43,#9e4540,#99443e,#97433d,#96423c,#94423c,#92413b,#90413a,#8d4039,#8a3f38,#873e37,#843d35,#823c35,#803c34,#7e3b33,#7c3b32,#7a3a32,#783a31,#763930,#73382f,#6f372d,#69352a,#633328,#5c3024,#542e20,#4a2b1c,#3f2717)"></div><div style="top:66px;height:2.5px;background:linear-gradient(90deg,#ffffcc,#ffffcc,#ffffcc,#ffffcc,#fffeca,#fffec8,#fefcc5,#fefbc2,#fef9bd,#fdf7b6,#fcf3ac,#fbeea0,#fae58f,#f6d576,#f2c162,#ecaa56,#e79352,#de7b50,#d2624d,#ba5347,#a84943,#9d453f,#98433d,#96423c,#94423c,#93413b,#91413a,#8e4039,#8b3f38,#893e37,#863e36,#833d35,#813c34,#7f3c34,#7e3b33,#7c3b32,#7a3a32,#783931,#763930,#73382f,#6f372d,#69352a,#633327,#5b3024,#532d20,#492a1b,#3f2716)"></div><div style="top:68px;height:2.5px;background:linear-gradient(90deg,#ffffcc,#ffffcc,#ffffcc,#ffffcc,#fffeca,#fffec8,#fefcc5,#fefbc1,#fef9bd,#fdf7b6,#fcf3ac,#fbee9f,#f9e58e,#f6d475,#f1c062,#eca956,#e79252,#de7a50,#d1614d,#b85347,#a74842,#9c443e,#96433c,#94423c,#92413b,#91413a,#8f403a,#8d4039,#8a3f38,#883e37,#853d36,#823d35,#803c34,#7f3c33,#7d3b33,#7b3b32,#7a3a32,#783931,#763930,#73382f,#6e372d,#69352a,#623227,#5a3023,#522d1f,#482a1b,#3e2716)"></div><div style="top:70px;height:2.5px;background:linear-gradient(90deg,#ffffcc,#ffffcc,#ffffcc,#ffffcc,#fffeca,#fffdc8,#fefcc5,#fefbc1,#fef9bd,#fdf6b5,#fcf3ab,#fbee9e,#f9e48e,#f6d374,#f1bf61,#eca855,#e69152,#dd794f,#cf604c,#b75246,#a64742,#9a443e,#94423c,#92413b,#90413a,#8f4039,#8d4039,#8b3f38,#883e37,#863e36,#833d35,#813c34,#7f3c34,#7e3b33,#7c3b33,#7b3a32,#793a31,#783931,#753930,#73382f,#6e372d,#68342a,#613227,#593023,#512d1f,#472a1a,#3e2615)"></div><div style="top:72px;height:2.5px;background:linear-gradient(90deg,#ffffcc,#ffffcc,#ffffcc,#ffffcc,#fffeca,#fffdc8,#fefcc5,#fefbc1,#fef9bc,#fdf6b5,#fcf2ab,#fbed9e,#f9e38d,#f5d372,#f1be61,#eca755,#e69052,#dc774f,#ce604c,#b55146,#a34741,#97433d,#90413a,#8d4039,#8b3f38,#893f38,#883e37,#863e36,#833d35,#813c34,#7f3c34,#7d3b33,#7c3b32,#7a3a32,#793a31,#783931,#763930,#753930,#73382f,#71372e,#6c362c,#663429,#5f3126,#572f22,#4e2c1e,#452919,#3c2614)"></div><div style="top:74px;height:2.5px;background:linear-gradient(90deg,#ffffcc,#ffffcc,#ffffcc,#ffffcc,#fffeca,#fffdc8,#fefcc5,#fefbc1,#fef9bc,#fdf6b4,#fcf2aa,#fbed9d,#f9e38b,#f5d271,#f1bd60,#eba555,#e68f52,#dc764f,#cc5f4c,#b45046,#a04540,#91413a,#883e37,#823d35,#7e3b33,#7b3a32,#783a31,#763930,#74382f,#72382f,#70372e,#6f372d,#6d362c,#6c362c,#6b352b,#6a352b,#69352a,#68342a,#673429,#653328,#613227,#5c3124,#562f21,#4f2c1e,#472a1a,#3f2716,#382412)"></div><div style="top:76px;height:2.5px;background:linear-gradient(90deg,#ffffcc,#ffffcc,#ffffcc,#ffffcc,#fffeca,#fffdc8,#fefcc4,#fefbc1,#fef9bc,#fdf6b4,#fcf2a9,#fbed9c,#f9e28a,#f5d16f,#f0bc5f,#eba455,#e68d52,#db744f,#cb5e4b,#b24f45,#9c443f,#8a3f38,#7e3b33,#753930,#6f372d,#6b352b,#673429,#643328,#623327,#603226,#5f3125,#5d3125,#5c3124,#5b3024,#5b3024,#5a3023,#593023,#582f22,#572f22,#562f21,#542e20,#502d1e,#4b2b1c,#46291a,#402717,#392513,#32230f)"></div><div style="top:78px;height:2.5px;background:linear-gradient(90deg,#ffffcc,#ffffcc,#ffffcc,#ffffcc,#fffeca,#fffdc7,#fefcc4,#fefbc0,#fef9bc,#fdf6b4,#fcf2a9,#fbed9b,#f9e189,#f5d06e,#f0bb5f,#eba354,#e58c52,#da734f,#c95d4b,#b04e45,#99443e,#863e36,#783a31,#6e362d,#673429,#613226,#5d3124,#5a3023,#572f22,#552e21,#542e20,#522d20,#522d1f,#512d1f,#502d1f,#502c1e,#4f2c1e,#4e2c1e,#4e2c1d,#4d2b1d,#4b2b1c,#482a1b,#452919,#402717,#3c2614,#362411,#2f210d)"></div><div style="top:80px;height:2.5px;background:linear-gradient(90deg,#ffffcc,#ffffcc,#ffffcc,#ffffcc,#fffeca,#fffdc7,#fefcc4,#fefbc0,#fef9bb,#fdf6b3,#fcf1a8,#fbec9b,#f9e189,#f5cf6d,#f0ba5e,#eba354,#e58c52,#da724f,#c85c4b,#af4d45,#99433d,#853d36,#773931,#6d362c,#663429,#603226,#5b3024,#582f22,#562e21,#542e20,#522d20,#512d1f,#502d1f,#4f2c1e,#4f2c1e,#4e2c1e,#4d2c1d,#4d2c1d,#4c2b1d,#4b2b1c,#492a1b,#46291a,#432819,#3f2716,#3a2514,#342310,#2d210c)"></div><div style="top:82px;height:2.5px;background:linear-gradient(90deg,#ffffcc,#ffffcc,#ffffcc,#ffffcc,#fffeca,#fffdc7,#fefcc4,#fefbc0,#fef9bb,#fdf6b3,#fcf1a8,#fbec9b,#f9e188,#f5cf6d,#f0b95e,#eba254,#e58b52,#da724f,#c85c4b,#af4d44,#98433d,#853d36,#773930,#6c362c,#653328,#5f3126,#5a3023,#572f22,#552e21,#532e20,#512d1f,#502d1f,#4f2c1e,#4e2c1e,#4e2c1d,#4d2c1d,#4c2b1d,#4c2b1d,#4b2b1c,#4a2b1c,#482a1b,#45291a,#422818,#3e2716,#392513,#33230f,#2c200b)"></div><div style="top:84px;height:2.5px;background:linear-gradient(90deg,#ffffcc,#ffffcc,#ffffcc,#ffffcc,#fffeca,#fffdc7,#fefcc4,#fefac0,#fef9bb,#fdf5b3,#fcf1a8,#fbec9a,#f8e088,#f5cf6c,#f0b95e,#eaa254,#e58b51,#d9714f,#c75c4a,#ae4d44,#98433d,#843d36,#773930,#6c362c,#653328,#5e3125,#5a3023,#572f22,#542e21,#522d20,#502d1f,#4f2c1e,#4e2c1e,#4d2c1d,#4d2c1d,#4c2b1d,#4c2b1c,#4b2b1c,#4a2b1c,#492a1b,#472a1a,#452919,#412818,#3e2716,#392513,#32220f,#2b200b)"></div><div style="top:86px;height:2.5px;background:linear-gradient(90deg,#ffffcc,#ffffcc,#ffffcc,#ffffcc,#fffeca,#fffdc7,#fefcc4,#fefac0,#fef9bb,#fdf5b3,#fcf1a8,#fbec9a,#f8e087,#f5ce6c,#f0b95e,#eaa154,#e58a51,#d9714f,#c75b4a,#ae4c44,#97433d,#843d36,#763930,#6c362c,#643328,#5e3125,#593023,#562f21,#542e20,#522d1f,#502d1f,#4f2c1e,#4e2c1d,#4d2c1d,#4c2b1d,#4c2b1c,#4b2b1c,#4a2b1c,#4a2a1c,#482a1b,#472a1a,#442919,#412817,#3d2615,#382512,#31220f,#2a200a)"></div><div style="top:88px;height:2.5px;background:linear-gradient(90deg,#ffffcc,#ffffcc,#ffffcc,#ffffcc,#fffeca,#fffdc7,#fefcc4,#fefac0,#fef8bb,#fdf5b3,#fcf1a7,#fbec9a,#f8e087,#f4ce6b,#f0b85d,#eaa154,#e58a51,#d9704f,#c65b4a,#ad4c44,#97433d,#843d35,#763930,#6c362b,#643328,#5e3125,#593023,#562e21,#532e20,#512d1f,#502c1e,#4e2c1e,#4d2c1d,#4d2b1d,#4c2b1d,#4b2b1c,#4b2b1c,#4a2b1c,#492a1b,#482a1b,#46291a,#442919,#412817,#3d2615,#382412,#31220e,#2a200a)"></div><div style="top:90px;height:2.5px;background:linear-gradient(90deg,#ffffcc,#ffffcc,#ffffcc,#ffffcc,#fffeca,#fffdc7,#fefcc4,#fefac0,#fef8bb,#fdf5b2,#fcf1a7,#fbeb99,#f8df86,#f4cd6a,#efb75d,#eaa054,#e48951,#d86f4e,#c55a4a,#ac4b44,#96433c,#833d35,#753930,#6b352b,#643328,#5e3125,#593023,#562e21,#532e20,#512d1f,#502c1e,#4e2c1e,#4d2c1d,#4c2b1d,#4c2b1d,#4b2b1c,#4a2b1c,#4a2b1c,#492a1b,#482a1b,#46291a,#442919,#412817,#3d2615,#382412,#31220e,#2a200a)"></div><div style="top:92px;height:2.5px;background:linear-gradient(90deg,#ffffcc,#ffffcc,#ffffcc,#ffffcb,#fffeca,#fffdc7,#fefcc3,#fefabf,#fef8ba,#fdf5b1,#fcf0a6,#fbea97,#f8dd83,#f4cb68,#efb55c,#ea9e54,#e48751,#d76d4e,#c35949,#aa4a43,#94423c,#823c35,#743830,#6a352b,#633328,#5e3125,#593023,#562e21,#532e20,#512d1f,#502c1e,#4e2c1e,#4d2c1d,#4c2b1d,#4c2b1c,#4b2b1c,#4a2b1c,#4a2b1c,#492a1b,#482a1b,#46291a,#442819,#412717,#3d2615,#382412,#31220e,#2a200a)"></div><div style="top:94px;height:2.5px;background:linear-gradient(90deg,#ffffcc,#ffffcc,#ffffcc,#ffffcb,#fffec9,#fffdc6,#fefcc3,#fefabf,#fdf8b9,#fdf4b0,#fcf0a4,#fae995,#f7db80,#f3c866,#eeb25a,#e99b53,#e28351,#d6694e,#bf5748,#a74843,#91413b,#803c34,#73382f,#6a352b,#633327,#5e3125,#593023,#562f21,#532e20,#512d1f,#502c1e,#4e2c1e,#4d2c1d,#4c2b1d,#4b2b1c,#4b2b1c,#4a2b1c,#4a2b1c,#492a1b,#482a1b,#46291a,#432819,#412717,#3d2615,#382412,#31220e,#2b200b)"></div><div style="top:96px;height:2.5px;background:linear-gradient(90deg,#ffffcc,#ffffcc,#ffffcc,#ffffcb,#fffec9,#fffdc6,#fefbc2,#fefabe,#fdf7b8,#fdf4ae,#fcefa2,#fae792,#f7d97c,#f3c565,#edae58,#e89753,#e07f50,#d4664d,#bc5548,#a44742,#8f4039,#7e3b33,#72382e,#69352a,#633327,#5e3125,#593023,#562f21,#542e20,#512d1f,#502c1e,#4e2c1e,#4d2c1d,#4c2b1d,#4b2b1c,#4b2b1c,#4a2b1c,#4a2b1c,#492a1b,#482a1b,#46291a,#432819,#402717,#3d2615,#382512,#32220f,#2b200b)"></div><div style="top:98px;height:2.5px;background:linear-gradient(90deg,#ffffcc,#ffffcc,#ffffcc,#ffffcb,#fffec9,#fefdc5,#fefbc2,#fef9bd,#fdf7b7,#fdf3ad,#fcefa1,#fae690,#f6d779,#f2c363,#edac57,#e79553,#df7d50,#d3634d,#b95347,#a24641,#8d4039,#7d3b33,#71372e,#68352a,#623327,#5e3125,#5a3023,#562f22,#542e20,#522d1f,#502c1e,#4e2c1e,#4d2c1d,#4c2b1d,#4b2b1c,#4b2b1c,#4a2b1c,#4a2b1c,#492a1b,#482a1b,#46291a,#432819,#402717,#3d2615,#382512,#32220f,#2c200b)"></div><div style="top:100px;height:2.5px;background:linear-gradient(90deg,#ffffcc,#ffffcc,#ffffcc,#ffffcb,#fffec9,#fefcc5,#fefbc2,#fef9bd,#fdf7b7,#fcf3ad,#fceea0,#fae58f,#f6d678,#f2c263,#edab57,#e79453,#df7c50,#d2624d,#b85247,#a14640,#8c4039,#7c3b33,#71372e,#68352a,#623327,#5e3125,#5a3023,#572f22,#542e20,#522d1f,#502c1e,#4e2c1e,#4d2c1d,#4c2b1d,#4b2b1c,#4b2b1c,#4a2b1c,#4a2b1c,#492a1b,#482a1b,#46291a,#432819,#402717,#3d2615,#382512,#32230f,#2c200b)"></div><div style="top:102px;height:2.5px;background:linear-gradient(90deg,#ffffcc,#ffffcc,#ffffcc,#ffffcb,#fffec9,#fefcc5,#fefbc2,#fef9bd,#fdf7b7,#fcf3ad,#fbeea0,#f9e58f,#f6d678,#f2c263,#edab56,#e79453,#de7c50,#d2624d,#b85247,#a04640,#8c3f38,#7c3b33,#71372e,#68352a,#623327,#5e3125,#5a3023,#572f22,#542e21,#522d1f,#502c1e,#4e2c1e,#4d2c1d,#4c2b1d,#4c2b1d,#4b2b1c,#4b2b1c,#4a2b1c,#492a1b,#482a1b,#46291a,#442919,#412817,#3d2615,#392513,#33230f,#2d200c)"></div><div style="top:104px;height:2.5px;background:linear-gradient(90deg,#ffffcc,#ffffcc,#ffffcc,#ffffcb,#fffec9,#fefcc5,#fefbc2,#fef9bd,#fdf7b7,#fcf3ac,#fbeea0,#f9e58f,#f6d678,#f2c263,#edab56,#e79453,#de7b50,#d2624d,#b85247,#a04640,#8c3f38,#7c3b33,#71372e,#69352a,#633327,#5e3125,#5a3023,#572f22,#552e21,#522d20,#502d1f,#4f2c1e,#4d2c1d,#4d2b1d,#4c2b1d,#4b2b1c,#4b2b1c,#4a2b1c,#4a2a1c,#492a1b,#472a1a,#442919,#412817,#3d2615,#392513,#33230f,#2d210c)"></div><div style="top:106px;height:2.5px;background:linear-gradient(90deg,#ffffcc,#ffffcc,#ffffcc,#ffffcb,#fffec9,#fefcc5,#fefbc2,#fef9bd,#fdf7b7,#fcf3ac,#fbeea0,#f9e58f,#f6d677,#f2c263,#edaa56,#e79453,#de7b50,#d2624d,#b75247,#a04640,#8c3f38,#7c3b33,#71372e,#69352a,#633327,#5e3125,#5b3024,#582f22,#552e21,#532e20,#512d1f,#4f2c1e,#4e2c1e,#4d2c1d,#4d2b1d,#4c2b1d,#4c2b1d,#4b2b1c,#4a2b1c,#492a1b,#482a1b,#452919,#422818,#3e2716,#392513,#342310,#2d210c)"></div><div style="top:108px;height:2.5px;background:linear-gradient(90deg,#ffffcc,#ffffcc,#ffffcc,#ffffcb,#fffec9,#fefcc5,#fefbc2,#fef9bd,#fdf7b6,#fcf3ac,#fbeea0,#f9e58f,#f6d677,#f2c263,#edaa56,#e79453,#de7b50,#d2624d,#b75246,#a04540,#8b3f38,#7c3b33,#71372e,#69352a,#633328,#5f3126,#5b3024,#582f22,#562e21,#542e20,#522d1f,#502d1f,#4f2c1e,#4e2c1e,#4e2c1d,#4d2c1d,#4c2b1d,#4c2b1d,#4b2b1c,#4a2b1c,#482a1b,#46291a,#422818,#3f2716,#3a2513,#342310,#2e210c)"></div><div style="top:110px;height:2.5px;background:linear-gradient(90deg,#ffffcc,#ffffcc,#ffffcc,#ffffcb,#fffec8,#fefcc5,#fefbc2,#fef9bd,#fdf7b6,#fcf3ac,#fbeea0,#f9e58f,#f6d677,#f2c262,#ecaa56,#e79353,#de7b50,#d1624d,#b75246,#a04540,#8b3f38,#7c3b33,#71372e,#69352a,#643328,#5f3226,#5c3024,#593023,#572f22,#542e21,#522d20,#512d1f,#502d1e,#4f2c1e,#4e2c1e,#4e2c1e,#4d2c1d,#4d2c1d,#4c2b1d,#4b2b1c,#492a1b,#47291a,#432819,#3f2717,#3b2514,#352310,#2e210d)"></div><div style="top:112px;height:2.5px;background:linear-gradient(90deg,#ffffcc,#ffffcc,#ffffcc,#ffffcb,#fffec8,#fefcc5,#fefbc2,#fef9bd,#fdf7b6,#fcf3ac,#fbeea0,#f9e58e,#f6d577,#f2c162,#ecaa56,#e79352,#de7b50,#d1614d,#b75246,#a04540,#8b3f38,#7c3b33,#71372e,#6a352b,#643328,#603226,#5d3125,#5a3023,#582f22,#552e21,#532e20,#522d1f,#512d1f,#502d1f,#502c1e,#4f2c1e,#4f2c1e,#4e2c1e,#4d2c1d,#4c2b1d,#4b2b1c,#482a1b,#442919,#402717,#3b2614,#352411,#2f210d)"></div><div style="top:114px;height:2.5px;background:linear-gradient(90deg,#ffffcc,#ffffcc,#ffffcc,#ffffcb,#fffec8,#fefcc5,#fefbc2,#fef9bd,#fdf7b6,#fcf3ac,#fbeea0,#f9e48e,#f6d576,#f2c162,#ecaa56,#e79352,#de7a50,#d1614d,#b75246,#9f4540,#8c3f38,#7d3b33,#72382f,#6b352b,#663429,#623327,#5f3226,#5c3124,#5a3023,#582f22,#562f22,#552e21,#542e20,#532e20,#522d20,#522d1f,#512d1f,#512d1f,#502d1f,#4f2c1e,#4d2c1d,#4b2b1c,#472a1a,#432818,#3e2615,#372412,#30220d)"></div><div style="top:116px;height:2.5px;background:linear-gradient(90deg,#ffffcc,#ffffcc,#ffffcc,#ffffcb,#fffec8,#fefcc5,#fefbc2,#fef9bd,#fdf7b6,#fcf3ac,#fbee9f,#f9e48e,#f6d576,#f1c162,#eca956,#e79352,#de7a50,#d0614d,#b65146,#9f4540,#8c3f38,#7e3b33,#74382f,#6e362c,#69352a,#663429,#633327,#603226,#5e3125,#5c3124,#5b3024,#593023,#582f22,#572f22,#572f22,#562f22,#562f21,#552e21,#552e21,#542e20,#522d20,#4f2c1e,#4c2b1d,#472a1a,#412817,#392513,#31220e)"></div><div style="top:118px;height:2.5px;background:linear-gradient(90deg,#ffffcc,#ffffcc,#ffffcb,#ffffcb,#fffec8,#fefcc5,#fefbc1,#fef9bd,#fdf7b6,#fcf3ac,#fbee9f,#f9e48e,#f6d575,#f1c062,#eca955,#e79252,#dd7a50,#d0614d,#b65146,#9f4540,#8c4039,#7f3c33,#763930,#70372e,#6c362c,#69352a,#673429,#653328,#623327,#613226,#5f3126,#5e3125,#5d3125,#5c3124,#5c3024,#5b3024,#5b3024,#5a3023,#593023,#582f23,#572f22,#542e20,#502d1f,#4c2b1d,#452919,#3c2614,#33230f)"></div><div style="top:120px;height:2.5px;background:linear-gradient(90deg,#ffffcc,#ffffcc,#ffffcb,#ffffcb,#fffec8,#fefcc5,#fefbc1,#fef9bd,#fdf7b6,#fcf3ab,#fbee9f,#f9e48d,#f6d475,#f1c062,#eca855,#e79252,#dd7950,#cf604c,#b65146,#9f4540,#8c4039,#7f3c34,#773931,#72382f,#6f372d,#6c362c,#6a352b,#68342a,#663429,#643328,#623327,#613226,#603226,#5f3226,#5f3126,#5e3125,#5e3125,#5d3125,#5d3125,#5c3024,#5a3023,#572f22,#542e20,#4f2c1e,#472a1b,#3e2616,#342310)"></div><div style="top:122px;height:2.5px;background:linear-gradient(90deg,#ffffcc,#ffffcc,#ffffcb,#ffffcb,#fffec8,#fefcc5,#fefbc1,#fef9bd,#fdf6b6,#fcf3ab,#fbee9f,#f9e48d,#f6d474,#f1bf61,#eca855,#e69152,#dd794f,#cf604c,#b55146,#9f4540,#8c4039,#803c34,#783931,#72382f,#6f372d,#6d362c,#6a352b,#68342a,#663429,#653328,#633327,#623227,#613226,#603226,#603226,#5f3226,#5f3126,#5e3125,#5e3125,#5d3125,#5b3024,#582f22,#552e21,#502d1f,#482a1b,#3e2716,#342310)"></div><div style="top:124px;height:2.5px;background:linear-gradient(90deg,#ffffcc,#ffffcc,#ffffcb,#fffecb,#fffec8,#fefcc5,#fefbc1,#fef9bc,#fdf6b5,#fcf2ab,#fbee9e,#f9e38c,#f6d374,#f1bf61,#eca755,#e69152,#dd784f,#ce604c,#b55046,#9e453f,#8c3f38,#7f3c34,#773930,#71372e,#6e362d,#6b352b,#69352a,#673429,#653328,#633327,#613227,#603226,#5f3226,#5f3126,#5e3125,#5e3125,#5e3125,#5d3125,#5d3124,#5c3024,#5a3023,#572f22,#532e20,#4e2c1e,#472a1a,#3d2615,#332310)"></div><div style="top:126px;height:2.5px;background:linear-gradient(90deg,#ffffcc,#ffffcc,#ffffcb,#fffecb,#fffec8,#fefcc5,#fefbc1,#fef9bc,#fdf6b5,#fcf2ab,#fbed9e,#f9e38c,#f5d373,#f1be61,#eca755,#e69052,#dc774f,#cd5f4c,#b45046,#9d453f,#8b3f38,#7e3b33,#753930,#6f372d,#6c362c,#69352a,#663429,#643328,#623227,#603226,#5e3125,#5d3125,#5d3125,#5c3124,#5c3124,#5c3024,#5c3024,#5b3024,#5b3024,#5a3023,#592f23,#552e21,#512d1f,#4c2b1d,#442919,#3c2614,#32230f)"></div><div style="top:128px;height:2.5px;background:linear-gradient(90deg,#ffffcc,#ffffcc,#ffffcb,#fffecb,#fffdc8,#fefcc5,#fefbc1,#fef9bc,#fdf6b5,#fcf2aa,#fbed9d,#f9e28b,#f5d272,#f1bd60,#eca655,#e68f52,#dc764f,#cc5f4c,#b34f45,#9c443f,#8a3f38,#7c3b33,#73382f,#6e362c,#6a352b,#663429,#643328,#613227,#5f3126,#5d3125,#5c3024,#5b3024,#5a3023,#5a3023,#5a3023,#5a3023,#5a3023,#593023,#593023,#593023,#572f22,#542e20,#4f2c1e,#492a1b,#422818,#3a2513,#32220f)"></div><div style="top:130px;height:2.5px;background:linear-gradient(90deg,#ffffcc,#ffffcc,#ffffcb,#fffeca,#fffdc8,#fefcc4,#fefbc1,#fef9bc,#fdf6b5,#fcf2aa,#fbed9d,#f9e28a,#f5d271,#f1bd60,#eba555,#e68e52,#db754f,#cc5e4b,#b24f45,#9b443e,#893f37,#7c3b32,#73382f,#6d362c,#69352a,#653429,#633327,#603226,#5e3125,#5c3024,#5a3023,#593023,#593023,#592f23,#592f23,#592f23,#592f23,#592f23,#582f23,#582f23,#572f22,#532d20,#4e2c1e,#482a1b,#412817,#392513,#31220e)"></div><div style="top:132px;height:2.5px;background:linear-gradient(90deg,#ffffcc,#ffffcc,#ffffcb,#fffeca,#fffdc8,#fefcc4,#fefbc1,#fef9bc,#fdf6b4,#fcf2a9,#fbed9c,#f9e28a,#f5d170,#f0bc60,#eba455,#e68e52,#db754f,#cb5e4b,#b14e45,#9b443e,#883e37,#7b3b32,#73382f,#6d362c,#69352a,#653429,#633327,#603226,#5e3125,#5c3124,#5a3023,#593023,#593023,#593023,#592f23,#592f23,#592f23,#592f23,#592f23,#592f23,#572f22,#532e20,#4e2c1e,#482a1b,#412817,#392513,#31220e)"></div><div style="top:134px;height:2.5px;background:linear-gradient(90deg,#ffffcc,#ffffcc,#ffffcb,#fffeca,#fffdc8,#fefcc4,#fefbc1,#fef9bb,#fdf6b4,#fcf2a9,#fbed9c,#f9e189,#f5d06f,#f0bb5f,#eba454,#e58d52,#db744f,#ca5d4b,#b14e45,#9a443e,#883e37,#7b3a32,#73382f,#6d362c,#69352a,#663429,#633328,#613226,#5e3125,#5c3124,#5b3024,#5a3023,#5a3023,#593023,#593023,#593023,#593023,#593023,#593023,#592f23,#572f22,#532e20,#4f2c1e,#482a1b,#412817,#392513,#31220e)"></div><div style="top:136px;height:2.5px;background:linear-gradient(90deg,#ffffcc,#ffffcc,#ffffcb,#fffeca,#fffdc8,#fefcc4,#fefbc0,#fef9bb,#fdf6b4,#fcf2a9,#fbed9b,#f9e188,#f5d06e,#f0ba5f,#eba354,#e58c52,#da734f,#c95c4b,#b04d45,#99433e,#873e37,#7b3a32,#73382f,#6d362c,#69352a,#663429,#643328,#613227,#5f3126,#5d3125,#5b3024,#5a3023,#5a3023,#5a3023,#5a3023,#5a3023,#5a3023,#5a3023,#5a3023,#5a3023,#582f22,#542e20,#4f2c1e,#492a1b,#412818,#3a2513,#31220e)"></div><div style="top:138px;height:2.5px;background:linear-gradient(90deg,#ffffcc,#ffffcc,#ffffcb,#fffeca,#fffdc8,#fefcc4,#fefbc0,#fef9bb,#fdf6b3,#fcf1a8,#fbec9b,#f8e087,#f5cf6d,#f0b95e,#eba254,#e58b52,#da724f,#c85c4b,#af4d44,#99433d,#873e37,#7b3a32,#73382f,#6d362c,#6a352b,#673429,#643328,#623227,#5f3226,#5e3125,#5c3124,#5b3024,#5b3024,#5b3024,#5b3024,#5b3024,#5b3024,#5b3024,#5a3023,#5a3023,#592f23,#552e21,#502d1f,#4a2b1c,#422818,#3a2513,#31220e)"></div><div style="top:140px;height:2.5px;background:linear-gradient(90deg,#ffffcc,#ffffcc,#ffffcb,#fffeca,#fffdc7,#fefcc4,#fefbc0,#fef8bb,#fdf5b3,#fcf1a8,#fbec9a,#f8e087,#f5ce6c,#f0b95e,#eaa154,#e58a51,#d9714f,#c75b4a,#ae4d44,#98433d,#863e36,#7b3a32,#73382f,#6e362d,#6a352b,#67342a,#653328,#633327,#603226,#5f3125,#5d3125,#5c3124,#5c3024,#5c3024,#5c3024,#5c3024,#5c3024,#5b3024,#5b3024,#5b3024,#5a3023,#562e21,#512d1f,#4b2b1c,#432818,#3a2514,#31220e)"></div><div style="top:142px;height:2.5px;background:linear-gradient(90deg,#ffffcc,#ffffcc,#ffffcb,#fffeca,#fffdc7,#fefcc4,#fefac0,#fef8bb,#fdf5b3,#fcf1a7,#fbec9a,#f8df86,#f4ce6b,#f0b85d,#eaa154,#e58a51,#d9704f,#c65b4a,#ae4c44,#97433d,#863e36,#7b3a32,#73382f,#6e362d,#6b352b,#68342a,#663429,#633328,#613227,#603226,#5e3125,#5d3125,#5d3125,#5d3125,#5d3125,#5d3124,#5d3124,#5c3124,#5c3124,#5c3124,#5b3024,#572f22,#522d20,#4c2b1d,#432819,#3b2514,#31220e)"></div><div style="top:144px;height:2.5px;background:linear-gradient(90deg,#ffffcc,#ffffcc,#ffffcb,#fffeca,#fffdc7,#fefcc4,#fefac0,#fef8ba,#fdf5b2,#fcf1a7,#fbec99,#f8df85,#f4cd6a,#efb75d,#eaa054,#e48951,#d96f4e,#c55a4a,#ad4c44,#97433d,#863e36,#7b3a32,#74382f,#6f372d,#6c362c,#69352a,#673429,#653328,#623327,#613226,#5f3226,#5e3125,#5e3125,#5e3125,#5e3125,#5e3125,#5e3125,#5e3125,#5e3125,#5e3125,#5c3124,#582f22,#532e20,#4d2b1d,#442919,#3b2614,#31220e)"></div><div style="top:146px;height:2.5px;background:linear-gradient(90deg,#ffffcc,#ffffcc,#ffffcb,#fffeca,#fffdc7,#fefcc4,#fefac0,#fef8ba,#fdf5b2,#fcf1a7,#fbeb99,#f8de85,#f4cd69,#efb75d,#ea9f54,#e48851,#d86f4e,#c55a4a,#ac4b44,#97433d,#873e36,#7c3b32,#743830,#70372e,#6d362c,#6b352b,#68352a,#663429,#643328,#623327,#613227,#603226,#603226,#603226,#603226,#603226,#603226,#603226,#603226,#5f3226,#5e3125,#5a3023,#552e21,#4e2c1e,#452919,#3b2614,#31220e)"></div><div style="top:148px;height:2.5px;background:linear-gradient(90deg,#ffffcc,#ffffcc,#ffffcb,#fffeca,#fffdc7,#fefcc3,#fefac0,#fef8ba,#fdf5b2,#fcf1a6,#fbeb98,#f8de84,#f4cc68,#efb65c,#ea9f54,#e48851,#d86e4e,#c45a4a,#ac4b44,#97433d,#873e37,#7c3b33,#763930,#72382e,#6f372d,#6d362c,#6a352b,#68342a,#663429,#643328,#633328,#623227,#623227,#623227,#623227,#623227,#623227,#623227,#623227,#623227,#603226,#5c3024,#562f22,#4f2c1e,#46291a,#3c2614,#31220e)"></div><div style="top:150px;height:2.5px;background:linear-gradient(90deg,#ffffcc,#ffffcc,#ffffcb,#fffeca,#fffdc7,#fefcc3,#fefac0,#fef8ba,#fdf5b1,#fcf1a6,#fbeb98,#f8de83,#f4cc68,#efb55c,#ea9e54,#e48751,#d86e4e,#c35949,#ab4b44,#96433c,#873e37,#7d3b33,#773931,#73382f,#71372e,#6f372d,#6d362c,#6a352b,#68352a,#673429,#653429,#643328,#643328,#643328,#643328,#643328,#643328,#643328,#643328,#643328,#633327,#5e3125,#582f22,#512d1f,#472a1a,#3c2615,#31220e)"></div><div style="top:152px;height:2.5px;background:linear-gradient(90deg,#ffffcc,#ffffcc,#ffffcb,#fffeca,#fffdc7,#fefcc3,#fefabf,#fef8ba,#fdf5b1,#fcf0a6,#fbea97,#f8dd83,#f4cb67,#efb55c,#e99d54,#e48651,#d76d4e,#c35949,#ab4b43,#96433c,#873e37,#7e3b33,#783a31,#753930,#73382f,#71372e,#6f372d,#6d362c,#6b352b,#69352a,#68342a,#673429,#673429,#673429,#673429,#673429,#673429,#673429,#673429,#673429,#653328,#603226,#5a3023,#522d20,#482a1b,#3d2615,#31220e)"></div><div style="top:154px;height:2.5px;background:linear-gradient(90deg,#ffffcc,#ffffcc,#ffffcb,#fffeca,#fffdc7,#fefcc3,#fefabf,#fef8ba,#fdf5b1,#fcf0a5,#fbea97,#f8dd82,#f4ca67,#efb45b,#e99d54,#e38551,#d76c4e,#c25849,#aa4a43,#96423c,#883e37,#7f3c34,#7a3a32,#773930,#743830,#73382f,#71372e,#6f372d,#6d362c,#6b352b,#6a352b,#69352a,#69352a,#69352a,#69352a,#69352a,#69352a,#69352a,#69352a,#69352a,#673429,#623227,#5c3024,#542e20,#492a1b,#3d2615,#31220e)"></div><div style="top:156px;height:2.5px;background:linear-gradient(90deg,#ffffcc,#ffffcc,#ffffcb,#fffeca,#fffdc7,#fefcc3,#fefabf,#fdf8b9,#fdf4b0,#fcf0a4,#fae996,#f7dc81,#f3c967,#eeb35b,#e99c53,#e38451,#d66b4e,#c05749,#a94a43,#95423c,#883e37,#803c34,#7b3a32,#783a31,#763930,#743830,#73382f,#71372e,#6f372d,#6d362c,#6c362c,#6b352b,#6b352b,#6b352b,#6b352b,#6b352b,#6b352b,#6b352b,#6b352b,#6b352b,#69352a,#643328,#5e3125,#552e21,#4b2b1c,#3e2616,#31220e)"></div><div style="top:158px;height:2.5px;background:linear-gradient(90deg,#ffffcc,#ffffcc,#ffffcb,#fffec9,#fffdc6,#fefbc3,#fefabf,#fdf8b9,#fdf4b0,#fcf0a3,#fae995,#f7db7f,#f3c866,#eeb15a,#e99a53,#e28250,#d5694e,#bf5648,#a84943,#95423c,#883e37,#803c34,#7c3b32,#793a31,#773931,#763930,#743830,#73382f,#71372e,#6f372d,#6e362d,#6d362c,#6d362c,#6d362c,#6d362c,#6d362c,#6d362c,#6d362c,#6d362c,#6c362c,#6a352b,#653429,#5f3226,#572f22,#4c2b1d,#3f2716,#32220f)"></div><div style="top:160px;height:2.5px;background:linear-gradient(90deg,#ffffcc,#ffffcc,#fffecb,#fffec9,#fffdc6,#fefbc2,#fefabe,#fdf7b8,#fdf4af,#fcefa2,#fae793,#f7d97d,#f3c665,#eeaf59,#e89853,#e18050,#d4674e,#bd5548,#a64842,#94423c,#883e37,#813c34,#7d3b33,#7b3a32,#793a31,#773931,#763930,#743830,#73382f,#71382e,#70372e,#70372d,#6f372d,#6f372d,#6f372d,#6f372d,#6f372d,#6f372d,#6e362d,#6e362d,#6c362c,#673429,#613226,#592f23,#4e2c1d,#402717,#32230f)"></div><div style="top:162px;height:2.5px;background:linear-gradient(90deg,#ffffcc,#ffffcc,#fffeca,#fffec9,#fffdc6,#fefbc2,#fefabe,#fdf7b7,#fdf3ad,#fcefa1,#fae691,#f7d77a,#f2c464,#edad57,#e89653,#df7d50,#d3644d,#ba5447,#a44742,#93423b,#883e37,#823c35,#7e3b33,#7c3b32,#7a3a32,#793a31,#783931,#763930,#753930,#74382f,#73382f,#72382e,#71372e,#71372e,#71372e,#71372e,#71372e,#70372e,#70372e,#70372d,#6d362c,#68352a,#623327,#5a3023,#4f2c1e,#412817,#33230f)"></div><div style="top:164px;height:2.5px;background:linear-gradient(90deg,#ffffcc,#ffffcb,#fffeca,#fffec9,#fefdc6,#fefbc2,#fef9bd,#fdf7b6,#fcf3ac,#fbeea0,#f9e58f,#f6d677,#f2c262,#ecaa56,#e79353,#de7b50,#d2624d,#b85247,#a24641,#92413b,#883e37,#823d35,#7f3c34,#7d3b33,#7c3b32,#7b3a32,#793a31,#783a31,#773930,#763930,#753930,#74382f,#74382f,#73382f,#73382f,#73382f,#72382f,#72382f,#72382e,#71372e,#6f372d,#6a352b,#643328,#5c3124,#512d1f,#422818,#342310)"></div><div style="top:166px;height:2.5px;background:linear-gradient(90deg,#ffffcc,#ffffcb,#fffeca,#fffec8,#fefcc5,#fefbc1,#fef9bd,#fdf6b6,#fcf3ab,#fbee9e,#f9e38d,#f6d475,#f1bf61,#eca855,#e69152,#dd784f,#cf604c,#b65146,#a04640,#92413b,#883e37,#833d35,#803c34,#7e3b33,#7d3b33,#7c3b32,#7b3a32,#7a3a32,#793a31,#783931,#773931,#763930,#763930,#753930,#753930,#753930,#743830,#74382f,#73382f,#73382f,#70372e,#6c362b,#663429,#5e3125,#522d20,#432819,#352311)"></div><div style="top:168px;height:2.5px;background:linear-gradient(90deg,#ffffcc,#ffffcb,#fffeca,#fffec8,#fefcc5,#fefbc1,#fef9bc,#fdf6b5,#fcf2aa,#fbed9d,#f9e28b,#f5d372,#f1be60,#eca655,#e68f52,#dc764f,#cd5f4c,#b45046,#9f4540,#91413a,#893f37,#843d35,#813c34,#803c34,#7f3b33,#7e3b33,#7d3b33,#7c3b32,#7b3a32,#7a3a32,#793a31,#783a31,#783931,#783931,#773931,#773930,#763930,#763930,#753930,#743830,#72382e,#6d362c,#673429,#5f3226,#542e20,#452919,#362411)"></div><div style="top:170px;height:2.5px;background:linear-gradient(90deg,#ffffcc,#ffffcb,#fffeca,#fffdc8,#fefcc5,#fefbc1,#fef9bc,#fdf6b4,#fcf2aa,#fbed9c,#f9e189,#f5d170,#f0bc60,#eba555,#e68e52,#db744f,#cb5e4b,#b34f45,#9e453f,#91413a,#893f37,#853d36,#823d35,#813c34,#803c34,#7f3c34,#7f3c33,#7e3b33,#7d3b33,#7c3b32,#7b3a32,#7b3a32,#7a3a32,#7a3a32,#793a31,#793a31,#783a31,#783931,#773931,#763930,#74382f,#6f372d,#69352a,#613226,#552e21,#46291a,#372412)"></div><div style="top:172px;height:2.5px;background:linear-gradient(90deg,#ffffcc,#ffffcb,#fffeca,#fffdc8,#fefcc5,#fefbc0,#fef9bb,#fdf6b4,#fcf2a9,#fbed9c,#f9e188,#f5d16f,#f0bb5f,#eba454,#e58d52,#da734f,#ca5d4b,#b24f45,#9e453f,#91413a,#893f38,#863e36,#843d35,#833d35,#823c35,#813c34,#803c34,#803c34,#7f3c34,#7e3b33,#7d3b33,#7d3b33,#7c3b32,#7c3b32,#7b3a32,#7b3a32,#7a3a32,#7a3a32,#793a31,#783931,#753930,#70372e,#6a352b,#623227,#562f21,#472a1a,#372412)"></div><div style="top:174px;height:2.5px;background:linear-gradient(90deg,#ffffcc,#ffffcb,#fffeca,#fffdc8,#fefcc5,#fefbc0,#fef9bb,#fdf6b4,#fcf2a9,#fbec9b,#f8e088,#f5d06e,#f0ba5f,#eba354,#e58c52,#da734f,#c95d4b,#b14e45,#9e453f,#91413a,#8a3f38,#873e37,#853d36,#843d35,#833d35,#833d35,#823d35,#813c34,#813c34,#803c34,#7f3c34,#7e3b33,#7e3b33,#7d3b33,#7d3b33,#7c3b33,#7c3b32,#7b3b32,#7b3a32,#7a3a32,#773930,#71382e,#6b352b,#633327,#572f22,#472a1b,#382512)"></div><div style="top:176px;height:2.5px;background:linear-gradient(90deg,#ffffcc,#ffffcb,#fffeca,#fffdc8,#fefcc4,#fefbc0,#fef9bb,#fdf6b3,#fcf1a8,#fbec9b,#f8e087,#f5cf6d,#f0ba5e,#eba254,#e58c52,#da724f,#c85c4b,#b14e45,#9e453f,#92413b,#8c3f38,#883e37,#873e36,#863e36,#853d36,#843d36,#843d35,#833d35,#823d35,#823c35,#813c34,#803c34,#803c34,#7f3c34,#7f3b33,#7e3b33,#7e3b33,#7d3b33,#7c3b33,#7b3b32,#783a31,#73382f,#6c362c,#633328,#582f22,#482a1b,#392513)"></div><div style="top:178px;height:2.5px;background:linear-gradient(90deg,#ffffcc,#ffffcb,#fffeca,#fffdc8,#fefcc4,#fefac0,#fef8bb,#fdf6b3,#fcf1a8,#fbec9a,#f8e086,#f5cf6d,#f0b95e,#eaa254,#e58b51,#d9714f,#c85c4b,#b04e45,#9f4540,#93423b,#8d4039,#8a3f38,#893f37,#883e37,#873e37,#873e36,#863e36,#853e36,#853d36,#843d35,#833d35,#823d35,#823c35,#813c34,#813c34,#803c34,#803c34,#7f3c34,#7f3c33,#7e3b33,#7b3a32,#753930,#6e362d,#643328,#582f23,#492a1b,#392513)"></div><div style="top:180px;height:2.5px;background:linear-gradient(90deg,#ffffcc,#ffffcb,#fffeca,#fffdc7,#fefcc4,#fefac0,#fef8bb,#fdf5b3,#fcf1a8,#fbec9a,#f8df86,#f4ce6c,#f0b85e,#eaa154,#e58a51,#d9714f,#c75c4a,#b04e45,#9f4540,#95423c,#90413a,#8d4039,#8c3f38,#8b3f38,#8b3f38,#8a3f38,#8a3f38,#893f37,#883e37,#873e37,#863e36,#863e36,#853d36,#853d36,#843d36,#843d35,#833d35,#833d35,#823d35,#813c34,#7e3b33,#783931,#70372e,#663429,#5a3023,#4a2b1c,#3a2514)"></div><div style="top:182px;height:2.5px;background:linear-gradient(90deg,#ffffcc,#ffffcb,#fffec9,#fffdc7,#fefcc4,#fefac0,#fef8ba,#fdf5b2,#fcf1a7,#fbec99,#f8de85,#f4cd6a,#efb85d,#eaa054,#e58951,#d9704e,#c75b4a,#b14e45,#a24641,#9a443e,#97433d,#95423c,#94423b,#93423b,#93423b,#93413b,#92413b,#91413b,#91413a,#90413a,#8f403a,#8e4039,#8e4039,#8d4039,#8d4039,#8d4039,#8c4039,#8c3f38,#8b3f38,#8a3f38,#863e36,#803c34,#783931,#6d362c,#603226,#4e2c1e,#3c2614)"></div><div style="top:184px;height:2.5px;background:linear-gradient(90deg,#ffffcc,#ffffcb,#fffec9,#fffdc7,#fefcc4,#fefac0,#fef8ba,#fdf5b2,#fcf1a6,#fbeb99,#f8de84,#f4cd69,#efb65d,#ea9f54,#e48851,#d86f4e,#c65b4a,#b24f45,#a64842,#a14640,#9e4540,#9d453f,#9d453f,#9c443f,#9c443f,#9c443e,#9b443e,#9b443e,#9a443e,#99433d,#98433d,#98433d,#97433d,#97433d,#96433c,#96423c,#95423c,#95423c,#94423c,#93423b,#90413a,#893e37,#803c34,#753830,#663429,#522d20,#3d2615)"></div><div style="top:186px;height:2.5px;background:linear-gradient(90deg,#ffffcc,#ffffcb,#fffec9,#fffdc7,#fefcc4,#fefabf,#fef8ba,#fdf5b1,#fcf1a6,#fbeb98,#f8dd83,#f4cc68,#efb55c,#ea9e54,#e48751,#d86e4e,#c65b4a,#b34f45,#a84943,#a34641,#a14641,#a04640,#a04540,#9f4540,#9f4540,#9f4540,#9e453f,#9e453f,#9d453f,#9c443f,#9b443e,#9b443e,#9a443e,#9a443e,#99433e,#99433d,#98433d,#98433d,#97433d,#96433c,#93423b,#8b3f38,#833d35,#773931,#68342a,#532e20,#3d2615)"></div><div style="top:188px;height:2.5px;background:linear-gradient(90deg,#ffffcc,#ffffcb,#fffec9,#fffdc7,#fefcc4,#fefabf,#fef8ba,#fdf5b1,#fcf0a5,#fbea97,#f8dc82,#f4cb67,#efb45c,#e99d54,#e48651,#d76d4e,#c55a4a,#b24f45,#a74843,#a24641,#a04640,#9f4540,#9f4540,#9e4540,#9e453f,#9e453f,#9d453f,#9d453f,#9c443f,#9b443e,#9a443e,#9a443e,#99433e,#99433d,#98433d,#98433d,#98433d,#97433d,#96433c,#95423c,#92413b,#8b3f38,#823c35,#763930,#673429,#532d20,#3d2615)"></div><div style="top:190px;height:2.5px;background:linear-gradient(90deg,#ffffcc,#ffffcb,#fffec9,#fffdc7,#fefcc3,#fefabf,#fdf8b9,#fdf5b1,#fcf0a5,#fbea97,#f7dc81,#f4ca67,#efb35b,#e99c54,#e38551,#d76c4e,#c35949,#b14e45,#a64742,#a14640,#9f4540,#9d453f,#9d453f,#9d453f,#9c443f,#9c443f,#9c443e,#9b443e,#9a443e,#99443e,#99433d,#98433d,#97433d,#97433d,#97433d,#96433c,#96423c,#95423c,#95423c,#93423b,#90413a,#893f37,#803c34,#753830,#653328,#512d1f,#3b2614)"></div><div style="top:192px;height:2.5px;background:linear-gradient(90deg,#ffffcc,#ffffcb,#fffec9,#fffdc7,#fefcc3,#fefabf,#fdf8b9,#fdf4b0,#fcf0a4,#fae996,#f7db80,#f3c966,#eeb25a,#e99b53,#e28451,#d66a4e,#c25949,#af4d45,#a44742,#9f4540,#9d443f,#9c443e,#9b443e,#9b443e,#9a443e,#9a443e,#9a443e,#99433d,#98433d,#97433d,#97433d,#96423c,#95423c,#95423c,#95423c,#94423c,#94423b,#93423b,#93413b,#91413b,#8e4039,#873e37,#7e3b33,#72382f,#633328,#4f2c1e,#3a2513)"></div><div style="top:194px;height:2.5px;background:linear-gradient(90deg,#ffffcc,#ffffcb,#fffec9,#fffdc6,#fefcc3,#fefabf,#fdf8b9,#fdf4b0,#fcf0a4,#fae995,#f7da7e,#f3c866,#eeb15a,#e99a53,#e28251,#d6694e,#c15849,#ae4c44,#a24641,#9c443f,#9a443e,#99433d,#98433d,#98433d,#97433d,#97433d,#96433c,#96423c,#95423c,#94423c,#93423b,#93423b,#92413b,#92413b,#91413b,#91413a,#91413a,#90413a,#8f403a,#8e4039,#8b3f38,#843d35,#7b3a32,#6f372d,#603226,#4c2b1d,#382512)"></div><div style="top:196px;height:2.5px;background:linear-gradient(90deg,#ffffcc,#ffffcb,#fffec9,#fffdc6,#fefcc3,#fefabe,#fdf7b8,#fdf4af,#fcefa3,#fae894,#f7d97d,#f3c765,#eeb059,#e89953,#e18150,#d5684e,#bf5748,#ac4b44,#9f4540,#99433d,#96423c,#94423c,#94423b,#93423b,#93423b,#92413b,#92413b,#91413b,#90413a,#90413a,#8f403a,#8e4039,#8e4039,#8d4039,#8d4039,#8c4039,#8c4039,#8b3f38,#8b3f38,#8a3f38,#863e36,#7f3c34,#763930,#6b352b,#5c3024,#492a1b,#362411)"></div><div style="top:198px;height:2.5px;background:linear-gradient(90deg,#ffffcc,#fffecb,#fffec9,#fffdc6,#fefbc3,#fefabe,#fdf7b8,#fdf4ae,#fcefa2,#fae893,#f7d97c,#f3c565,#edaf58,#e89853,#e08050,#d4664d,#bd5648,#aa4a43,#9c443f,#95423c,#92413b,#90413a,#8f403a,#8e4039,#8e4039,#8e4039,#8d4039,#8c4039,#8c3f38,#8b3f38,#8a3f38,#893f37,#893f37,#883e37,#883e37,#873e37,#873e37,#873e36,#863e36,#853d36,#813c34,#7a3a32,#71372e,#663429,#572f22,#452919,#332310)"></div><div style="top:200px;height:2.5px;background:linear-gradient(90deg,#ffffcc,#fffecb,#fffec9,#fffdc6,#fefbc2,#fefabe,#fdf7b7,#fdf4ae,#fcefa1,#fae792,#f7d87a,#f2c464,#edad58,#e89653,#e07e50,#d4654d,#bc5548,#a84943,#99433d,#91413b,#8e4039,#8c3f38,#8b3f38,#8a3f38,#893f38,#893f37,#883e37,#883e37,#873e37,#863e36,#853e36,#853d36,#843d36,#843d35,#833d35,#833d35,#823d35,#823c35,#813c34,#803c34,#7d3b33,#753930,#6d362c,#623227,#532e20,#412817,#31220e)"></div><div style="top:202px;height:2.5px;background:linear-gradient(90deg,#ffffcc,#fffecb,#fffec8,#fffdc6,#fefbc2,#fefabe,#fdf7b7,#fdf3ae,#fcefa1,#fae792,#f6d779,#f2c464,#edad57,#e89653,#df7d50,#d3644d,#bb5447,#a74842,#97433d,#8f403a,#8b3f38,#893e37,#873e37,#873e36,#863e36,#863e36,#853d36,#843d36,#843d35,#833d35,#823c35,#813c34,#813c34,#803c34,#803c34,#7f3c34,#7f3c34,#7e3b33,#7e3b33,#7d3b33,#793a31,#72382f,#6a352b,#5e3125,#502d1f,#3f2716,#2f210d)"></div><div style="top:204px;height:2.5px;background:linear-gradient(90deg,#ffffcc,#fffecb,#fffec8,#fffdc6,#fefbc2,#fefabe,#fdf7b7,#fdf3ad,#fcefa1,#fae691,#f6d779,#f2c363,#edac57,#e79553,#df7d50,#d3644d,#ba5447,#a64842,#96433c,#8e4039,#8a3f38,#873e37,#863e36,#853d36,#853d36,#843d36,#843d35,#833d35,#823d35,#813c34,#813c34,#803c34,#7f3c34,#7f3c34,#7e3b33,#7e3b33,#7e3b33,#7d3b33,#7c3b33,#7b3a32,#783931,#71372e,#68342a,#5d3125,#4f2c1e,#3e2716,#2f210d)"></div><div style="top:206px;height:2.5px;background:linear-gradient(90deg,#ffffcc,#fffecb,#fffec8,#fffdc6,#fefbc2,#fefabe,#fdf7b7,#fdf3ae,#fcefa1,#fae792,#f6d779,#f2c464,#edad57,#e89653,#df7d50,#d3644d,#bb5447,#a64842,#96433c,#8e4039,#8a3f38,#883e37,#863e36,#863e36,#853d36,#853d36,#843d35,#833d35,#833d35,#823c35,#813c34,#803c34,#803c34,#7f3c34,#7f3c34,#7e3b33,#7e3b33,#7d3b33,#7d3b33,#7c3b32,#783a31,#71372e,#69352a,#5d3125,#4f2c1e,#3e2716,#2f210d)"></div><div style="top:208px;height:2.5px;background:linear-gradient(90deg,#ffffcc,#fffecb,#fffec8,#fffdc6,#fefbc2,#fefabe,#fdf7b7,#fdf4ae,#fcefa1,#fae792,#f7d87a,#f2c464,#edad58,#e89653,#e07e50,#d4654d,#bb5447,#a74842,#97433d,#8f403a,#8b3f38,#893e37,#873e37,#873e36,#863e36,#863e36,#853d36,#843d36,#843d35,#833d35,#823c35,#813c34,#813c34,#803c34,#803c34,#7f3c34,#7f3c34,#7f3b33,#7e3b33,#7d3b33,#793a31,#72382f,#69352a,#5e3125,#4f2c1e,#3e2716,#2f210d)"></div><div style="top:210px;height:2.5px;background:linear-gradient(90deg,#ffffcc,#fffecb,#fffec9,#fffdc6,#fefbc3,#fefabe,#fdf7b8,#fdf4ae,#fcefa2,#fae893,#f7d87b,#f2c564,#edae58,#e89753,#e07f50,#d4664d,#bd5548,#a84943,#98433d,#90413a,#8c4039,#8a3f38,#893f37,#883e37,#883e37,#873e37,#873e36,#863e36,#853d36,#843d36,#833d35,#833d35,#823d35,#823c35,#813c34,#813c34,#813c34,#803c34,#7f3c34,#7e3b33,#7b3a32,#73382f,#6b352b,#5f3126,#502d1f,#3e2716,#2f210d)"></div><div style="top:212px;height:2.5px;background:linear-gradient(90deg,#ffffcc,#ffffcb,#fffec9,#fffdc6,#fefcc3,#fefabe,#fdf7b8,#fdf4af,#fcefa3,#fae894,#f7d97d,#f3c665,#eeb059,#e89953,#e18150,#d5684e,#be5648,#a94a43,#9a443e,#92413b,#8e4039,#8c3f38,#8b3f38,#8a3f38,#893f38,#893f37,#883e37,#883e37,#873e37,#863e36,#853d36,#853d36,#843d35,#843d35,#833d35,#833d35,#823d35,#823c35,#813c34,#803c34,#7d3b33,#753930,#6c362c,#603226,#512d1f,#3f2716,#2f210d)"></div><div style="top:214px;height:2.5px;background:linear-gradient(90deg,#ffffcc,#ffffcb,#fffec9,#fffdc6,#fefcc3,#fefabf,#fdf8b9,#fdf4b0,#fcf0a4,#fae995,#f7da7e,#f3c866,#eeb15a,#e99a53,#e28250,#d5694e,#c05748,#ab4a43,#9b443e,#93423b,#8f413a,#8d4039,#8c4039,#8c3f38,#8b3f38,#8b3f38,#8a3f38,#8a3f38,#893f37,#883e37,#873e37,#873e36,#863e36,#863e36,#853d36,#853d36,#843d36,#843d35,#833d35,#823d35,#7f3b33,#763930,#6d362c,#613227,#512d1f,#3f2716,#2f210d)"></div><div style="top:216px;height:2.5px;background:linear-gradient(90deg,#ffffcc,#ffffcb,#fffec9,#fffdc7,#fefcc3,#fefabf,#fdf8b9,#fdf4b0,#fcf0a4,#fae996,#f7db7f,#f3c966,#eeb25a,#e99b53,#e28451,#d66a4e,#c15849,#ac4b44,#9d453f,#95423c,#91413a,#8f403a,#8e4039,#8e4039,#8d4039,#8d4039,#8c4039,#8c3f38,#8b3f38,#8a3f38,#893f37,#883e37,#883e37,#883e37,#873e37,#873e36,#863e36,#863e36,#853d36,#843d35,#803c34,#783931,#6e362d,#613227,#522d1f,#3f2716,#2f210d)"></div><div style="top:218px;height:2.5px;background:linear-gradient(90deg,#ffffcc,#ffffcb,#fffec9,#fffdc7,#fefcc3,#fefabf,#fef8b9,#fdf5b1,#fcf0a5,#fbea97,#f7dc81,#f4ca67,#efb45b,#e99c54,#e38551,#d76b4e,#c25949,#ad4c44,#9e453f,#96433c,#93423b,#91413a,#90413a,#8f413a,#8f403a,#8f4039,#8e4039,#8d4039,#8d4039,#8c3f38,#8b3f38,#8a3f38,#8a3f38,#893f38,#893f37,#893e37,#883e37,#873e37,#873e36,#863e36,#813c34,#793a31,#6f372d,#613227,#522d1f,#3f2716,#2f210d)"></div><div style="top:220px;height:2.5px;background:linear-gradient(90deg,#ffffcc,#ffffcb,#fffec9,#fffdc7,#fefcc4,#fefabf,#fef8ba,#fdf5b1,#fcf0a6,#fbeb98,#f8dd82,#f4cb68,#efb55c,#e99d54,#e48651,#d76d4e,#c45949,#af4d44,#a04540,#98433d,#95423c,#93423b,#92413b,#92413b,#91413a,#91413a,#90413a,#90413a,#8f403a,#8e4039,#8d4039,#8d4039,#8c4039,#8c3f38,#8b3f38,#8b3f38,#8a3f38,#893f38,#893e37,#873e37,#833d35,#793a31,#6f372d,#613227,#522d1f,#3f2716,#2f210d)"></div><div style="top:222px;height:2.5px;background:linear-gradient(90deg,#ffffcc,#ffffcb,#fffec9,#fffdc7,#fefcc4,#fefac0,#fef8ba,#fdf5b2,#fcf1a6,#fbeb99,#f8de83,#f4cc69,#efb65c,#ea9f54,#e48851,#d86e4e,#c55a4a,#b04e45,#a24641,#9a443e,#97433d,#95423c,#94423c,#94423c,#94423b,#93423b,#93423b,#92413b,#91413b,#91413a,#90413a,#8f413a,#8f403a,#8f4039,#8e4039,#8d4039,#8d4039,#8c3f38,#8a3f38,#893f37,#843d35,#7a3a32,#6f372d,#613227,#522d1f,#3f2716,#2f210d)"></div><div style="top:224px;height:2.5px;background:linear-gradient(90deg,#ffffcc,#ffffcb,#fffec9,#fffdc7,#fefcc4,#fefac0,#fef8ba,#fdf5b2,#fcf1a7,#fbec99,#f8de85,#f4ce6a,#efb85d,#eaa054,#e58951,#d9704e,#c75b4a,#b24f45,#a44741,#9c443f,#99433e,#98433d,#97433d,#97433c,#96433c,#96423c,#95423c,#95423c,#94423c,#93423b,#93423b,#92413b,#92413b,#91413b,#91413a,#90413a,#8f403a,#8e4039,#8c4039,#8a3f38,#853d36,#7b3a32,#70372d,#613227,#522d1f,#3f2716,#2f210d)"></div><div style="top:226px;height:2.5px;background:linear-gradient(90deg,#ffffcc,#ffffcb,#fffeca,#fffdc8,#fefcc4,#fefac0,#fef8bb,#fdf5b3,#fcf1a8,#fbec9a,#f8df86,#f5cf6c,#f0b95e,#eaa254,#e58b51,#d9714f,#c95c4b,#b35045,#a54742,#9e4540,#9b443e,#9a443e,#99443e,#99433d,#99433d,#98433d,#98433d,#97433d,#97433d,#96433c,#96423c,#95423c,#95423c,#94423c,#94423b,#93423b,#92413b,#90413a,#8e4039,#8c4039,#863e36,#7c3b32,#70372d,#613227,#512d1f,#3f2717,#30220d)"></div><div style="top:228px;height:2.5px;background:linear-gradient(90deg,#ffffcc,#ffffcb,#fffeca,#fffdc8,#fefcc5,#fefbc0,#fef9bb,#fdf6b4,#fcf2a9,#fbec9b,#f8e088,#f5d06e,#f0ba5f,#eba354,#e58c52,#da734f,#ca5d4b,#b55046,#a74842,#a04640,#9e453f,#9c443f,#9c443e,#9b443e,#9b443e,#9b443e,#9a443e,#9a443e,#99433e,#99433d,#98433d,#98433d,#98433d,#97433d,#97433c,#95423c,#94423c,#92413b,#90413a,#8e4039,#873e37,#7c3b33,#70372e,#613227,#512d1f,#3f2717,#30220e)"></div><div style="top:230px;height:2.5px;background:linear-gradient(90deg,#ffffcc,#ffffcb,#fffeca,#fffdc8,#fefcc5,#fefbc1,#fef9bc,#fdf6b4,#fcf2a9,#fbed9c,#f9e189,#f5d170,#f0bc5f,#eba455,#e68d52,#db744f,#cc5e4b,#b65146,#a94943,#a24641,#9f4540,#9e453f,#9e453f,#9d453f,#9d453f,#9d443f,#9c443f,#9c443f,#9c443e,#9b443e,#9b443e,#9b443e,#9a443e,#9a443e,#99433d,#98433d,#96433c,#94423c,#92413b,#8f403a,#883e37,#7d3b33,#70372e,#613227,#512d1f,#402717,#30220e)"></div><div style="top:232px;height:2.5px;background:linear-gradient(90deg,#ffffcc,#ffffcb,#fffeca,#fffdc8,#fefcc5,#fefbc1,#fef9bc,#fdf6b5,#fcf2aa,#fbed9d,#f9e28a,#f5d271,#f1bd60,#eba555,#e68f52,#dc764f,#cd5f4c,#b85247,#aa4a43,#a44741,#a14640,#a04540,#9f4540,#9f4540,#9e453f,#9e453f,#9e453f,#9e453f,#9d453f,#9d453f,#9d453f,#9d453f,#9d443f,#9c443f,#9b443e,#9a443e,#98433d,#96423c,#94423b,#91413a,#8a3f38,#7e3b33,#71372e,#613227,#512d1f,#402717,#31220e)"></div><div style="top:234px;height:2.5px;background:linear-gradient(90deg,#ffffcc,#ffffcb,#fffeca,#fffec8,#fefcc5,#fefbc1,#fef9bc,#fdf6b5,#fcf2ab,#fbed9e,#f9e38b,#f6d373,#f1be61,#eca755,#e69052,#dc774f,#cf604c,#b95347,#ab4a43,#a44742,#a24641,#a04640,#a04540,#9f4540,#9f4540,#9f4540,#9f4540,#9f4540,#9f4540,#9f4540,#9f4540,#9f4540,#9e453f,#9e453f,#9d453f,#9b443e,#99443e,#97433d,#95423c,#92413b,#8b3f38,#7f3b33,#71372e,#613227,#512d1f,#402717,#31220e)"></div><div style="top:236px;height:2.5px;background:linear-gradient(90deg,#ffffcc,#ffffcb,#fffeca,#fffec8,#fefcc5,#fefbc1,#fef9bd,#fdf6b6,#fcf3ab,#fbee9e,#f9e38c,#f6d474,#f1bf61,#eca855,#e69152,#dd784f,#d0614d,#ba5347,#ab4b44,#a54742,#a24641,#a04640,#a04540,#9f4540,#9f4540,#9f4540,#9f4540,#9f4540,#9f4540,#a04540,#a04540,#a04540,#9f4540,#9f4540,#9e453f,#9d443f,#9b443e,#98433d,#96433c,#93413b,#8b3f38,#7f3c34,#72382e,#623227,#512d1f,#402717,#32220f)"></div><div style="top:238px;height:2.5px;background:linear-gradient(90deg,#ffffcc,#ffffcb,#fffeca,#fffec8,#fefcc5,#fefbc1,#fef9bd,#fdf7b6,#fcf3ac,#fbee9f,#f9e48d,#f6d576,#f1c062,#eca955,#e79252,#dd7950,#d1624d,#bb5447,#ac4b44,#a54742,#a24641,#a14640,#a04540,#9f4540,#9f4540,#9f4540,#a04540,#a04540,#a04540,#a04640,#a04640,#a04640,#a04640,#a04540,#9f4540,#9d453f,#9b443e,#99433e,#97433d,#93423b,#8c4039,#803c34,#73382f,#623327,#522d1f,#402717,#32220f)"></div><div style="top:240px;height:2.5px;background:linear-gradient(90deg,#ffffcc,#ffffcb,#fffeca,#fffec9,#fefdc5,#fefbc1,#fef9bd,#fdf7b6,#fcf3ac,#fbee9f,#f9e58e,#f6d577,#f2c162,#ecaa56,#e79352,#de7a50,#d2624d,#bb5447,#ac4b44,#a54742,#a24641,#a14640,#a04540,#a04540,#9f4540,#9f4540,#a04540,#a04540,#a04640,#a14640,#a14640,#a14641,#a14640,#a04640,#9f4540,#9e453f,#9c443f,#9a443e,#97433d,#94423c,#8d4039,#813c34,#74382f,#643328,#532e20,#412818,#32230f)"></div><div style="top:242px;height:2.5px;background:linear-gradient(90deg,#ffffcc,#ffffcc,#fffeca,#fffec9,#fefdc6,#fefbc2,#fef9bd,#fdf7b7,#fcf3ad,#fbeea0,#f9e58f,#f6d678,#f2c263,#edab56,#e79453,#de7b50,#d3634d,#bc5548,#ad4c44,#a54742,#a24641,#a14640,#a04540,#a04540,#9f4540,#a04540,#a04540,#a04640,#a14640,#a14641,#a14641,#a24641,#a24641,#a14640,#a04540,#9f4540,#9d443f,#9a443e,#98433d,#95423c,#8e4039,#823d35,#753930,#653429,#552e21,#422818,#33230f)"></div><div style="top:244px;height:2.5px;background:linear-gradient(90deg,#ffffcc,#ffffcc,#fffeca,#fffec9,#fefdc6,#fefbc2,#fef9bd,#fdf7b7,#fdf3ad,#fceea0,#fae690,#f6d779,#f2c363,#edab57,#e79553,#df7c50,#d3644d,#bd5548,#ad4c44,#a64742,#a24641,#a14640,#a04540,#a04540,#9f4540,#a04540,#a04540,#a04640,#a14641,#a24641,#a24641,#a24641,#a24641,#a14641,#a14640,#9f4540,#9d453f,#9b443e,#99433d,#95423c,#8f4039,#833d35,#773930,#673429,#562f22,#432819,#332310)"></div><div style="top:246px;height:2.5px;background:linear-gradient(90deg,#ffffcc,#ffffcc,#fffeca,#fffec9,#fffdc6,#fefbc2,#fefabe,#fdf7b7,#fdf3ae,#fcefa1,#fae691,#f7d87a,#f2c464,#edad57,#e89653,#df7d50,#d3654d,#be5648,#ae4c44,#a64742,#a24641,#a14640,#a04540,#a04540,#9f4540,#a04540,#a04640,#a14640,#a24641,#a24641,#a34641,#a34641,#a34641,#a24641,#a14641,#a04540,#9e453f,#9c443e,#99443e,#96433c,#8f413a,#853d36,#783a31,#69352a,#582f22,#452919,#342310)"></div><div style="top:248px;height:2.5px;background:linear-gradient(90deg,#ffffcc,#ffffcc,#fffecb,#fffec9,#fffdc6,#fefbc2,#fefabe,#fdf7b8,#fdf4ae,#fcefa2,#fae792,#f7d87b,#f2c564,#edae58,#e89753,#e07f50,#d4664d,#bf5648,#ae4d44,#a64842,#a24641,#a14640,#a04540,#a04540,#a04540,#a04540,#a04640,#a14641,#a24641,#a34641,#a44741,#a44742,#a44742,#a34641,#a24641,#a14640,#9f4540,#9d453f,#9a443e,#97433d,#91413a,#863e36,#7a3a32,#6b352b,#5a3023,#46291a,#342310)"></div><div style="top:250px;height:2.5px;background:linear-gradient(90deg,#ffffcc,#ffffcc,#fffecb,#fffec9,#fffdc6,#fefbc2,#fefabe,#fdf7b8,#fdf4af,#fcefa2,#fae893,#f7d97d,#f3c665,#eeaf59,#e89853,#e18150,#d5684e,#c05749,#af4d44,#a74842,#a34641,#a14641,#a04640,#a04540,#a04540,#a04640,#a14640,#a24641,#a34641,#a44742,#a54742,#a54742,#a54742,#a44742,#a34741,#a24641,#a04640,#9e453f,#9c443e,#98433d,#92413b,#883e37,#7c3b32,#6d362c,#5c3024,#482a1b,#352411)"></div><div style="top:252px;height:2.5px;background:linear-gradient(90deg,#ffffcc,#ffffcc,#ffffcb,#fffec9,#fffdc7,#fefbc3,#fefabf,#fdf8b9,#fdf4b0,#fcf0a3,#fae894,#f7da7e,#f3c766,#eeb15a,#e99a53,#e28351,#d66a4e,#c25849,#b04e45,#a84943,#a44741,#a24641,#a14641,#a14640,#a14640,#a14641,#a24641,#a34641,#a44742,#a54742,#a64742,#a64842,#a64842,#a64742,#a54742,#a34741,#a14641,#9f4540,#9d453f,#9a443e,#94423b,#8a3f38,#7e3b33,#70372d,#5e3125,#492a1b,#362411)"></div><div style="top:254px;height:2.5px;background:linear-gradient(90deg,#ffffcc,#ffffcc,#ffffcb,#fffeca,#fffdc7,#fefcc3,#fefabf,#fef8b9,#fdf5b1,#fcf0a4,#fae995,#f7db80,#f3c966,#eeb25a,#e99b53,#e38551,#d76c4e,#c45a4a,#b24f45,#a94943,#a54742,#a34641,#a24641,#a24641,#a24641,#a24641,#a34641,#a44742,#a54742,#a64842,#a74842,#a74843,#a74843,#a74842,#a64842,#a54742,#a34641,#a14641,#9f4540,#9c443f,#96423c,#8c4039,#813c34,#72382f,#613226,#4b2b1c,#372411)"></div><div style="top:256px;height:2.5px;background:linear-gradient(90deg,#ffffcc,#ffffcc,#ffffcb,#fffeca,#fffdc7,#fefcc3,#fefac0,#fef8ba,#fdf5b2,#fcf0a5,#fbea97,#f8dc82,#f4ca67,#efb45b,#e99d54,#e48851,#d86f4e,#c65b4a,#b35045,#aa4a43,#a64742,#a44742,#a34641,#a34641,#a34641,#a34741,#a44742,#a54742,#a74842,#a84943,#a84943,#a94943,#a94943,#a84943,#a84943,#a64842,#a54742,#a34641,#a14640,#9e453f,#98433d,#8f403a,#843d35,#753930,#643328,#4d2c1d,#382412)"></div><div style="top:258px;height:2.5px;background:linear-gradient(90deg,#ffffcc,#ffffcc,#ffffcb,#fffeca,#fffdc7,#fefcc4,#fefac0,#fef8bb,#fdf5b2,#fcf1a6,#fbeb98,#f8de83,#f4cc68,#efb55c,#ea9f54,#e58a51,#d9714f,#c95c4b,#b55046,#ab4b43,#a74842,#a54742,#a44742,#a44742,#a44742,#a54742,#a64742,#a74842,#a84943,#a94943,#aa4a43,#aa4a43,#aa4a43,#aa4a43,#a94943,#a84943,#a64842,#a54742,#a34641,#a04640,#9a443e,#91413b,#873e37,#793a31,#663429,#4f2c1e,#392513)"></div><div style="top:260px;height:2.5px;background:linear-gradient(90deg,#ffffcc,#ffffcc,#ffffcb,#fffeca,#fffdc8,#fefcc4,#fefbc0,#fef9bb,#fdf6b3,#fcf1a7,#fbec99,#f8df85,#f4cd6a,#efb75d,#eaa154,#e58c52,#da734f,#cb5e4b,#b65146,#ac4b44,#a84943,#a64842,#a64742,#a54742,#a54742,#a64842,#a74842,#a84943,#a94a43,#aa4a43,#ab4b44,#ac4b44,#ac4b44,#ab4b44,#ab4a43,#aa4a43,#a84943,#a74842,#a54742,#a24641,#9d453f,#94423c,#8a3f38,#7c3b32,#69352a,#522d1f,#3a2513)"></div><div style="top:262px;height:2.5px;background:linear-gradient(90deg,#ffffcc,#ffffcc,#ffffcb,#fffeca,#fffdc8,#fefcc4,#fefbc1,#fef9bc,#fdf6b4,#fcf1a8,#fbec9b,#f8e087,#f5cf6c,#f0b95e,#eba254,#e58d52,#db744f,#cc5f4c,#b85247,#ad4c44,#a94943,#a74843,#a74842,#a64842,#a74842,#a74843,#a84943,#a94943,#ab4a43,#ac4b44,#ad4c44,#ad4c44,#ad4c44,#ad4c44,#ac4b44,#ab4b44,#aa4a43,#a84943,#a74842,#a44742,#9f4540,#97433d,#8d4039,#7f3c34,#6c362c,#542e21,#3b2614)"></div><div style="top:264px;height:2.5px;background:linear-gradient(90deg,#ffffcc,#ffffcc,#ffffcb,#fffeca,#fffdc8,#fefcc4,#fefbc1,#fef9bc,#fdf6b4,#fcf2a9,#fbed9c,#f9e189,#f5d06f,#f0bb5f,#eba455,#e68e52,#db754f,#cd5f4c,#b95347,#af4d44,#aa4a43,#a84943,#a84943,#a74843,#a74843,#a84943,#a94943,#aa4a43,#ac4b44,#ad4c44,#ae4c44,#af4d44,#af4d44,#ae4d44,#ae4c44,#ad4c44,#ab4b44,#aa4a43,#a94943,#a64842,#a24641,#9a443e,#90413a,#823d35,#6f372d,#572f22,#3c2615)"></div><div style="top:266px;height:2.5px;background:linear-gradient(90deg,#ffffcc,#ffffcc,#ffffcb,#fffeca,#fffdc8,#fefcc4,#fefbc1,#fef9bc,#fdf6b4,#fcf2aa,#fbed9d,#f9e28b,#f5d271,#f1bd60,#eba555,#e68e52,#dc764f,#ce604c,#ba5447,#b04d45,#ab4b43,#a94a43,#a94943,#a84943,#a84943,#a94943,#aa4a43,#ab4b44,#ad4c44,#ae4d44,#af4d45,#b04e45,#b04e45,#b04d45,#af4d44,#ae4d44,#ad4c44,#ac4b44,#aa4a43,#a84943,#a44742,#9c443f,#92413b,#853d36,#72382f,#5a3023,#3e2716)"></div><div style="top:268px;height:2.5px;background:linear-gradient(90deg,#ffffcc,#ffffcc,#ffffcb,#fffeca,#fffdc8,#fefcc4,#fefbc1,#fef9bc,#fdf6b5,#fcf2ab,#fbee9e,#f9e38c,#f6d373,#f1bf61,#eca755,#e68e52,#dc764f,#ce604c,#bb5447,#b14e45,#ac4b44,#aa4a43,#a94a43,#a94943,#a94943,#aa4a43,#ab4a43,#ac4b44,#ae4c44,#af4d45,#b14e45,#b14e45,#b14e45,#b14e45,#b04e45,#b04d45,#ae4d44,#ad4c44,#ac4b44,#aa4a43,#a64842,#9e4540,#95423c,#883e37,#763930,#5d3125,#402717)"></div><div style="top:270px;height:2.5px;background:linear-gradient(90deg,#ffffcc,#ffffcc,#ffffcb,#fffeca,#fffdc7,#fefcc4,#fefac0,#fef9bb,#fdf6b5,#fcf3ab,#fbee9f,#f9e58e,#f6d576,#f2c162,#eca755,#e68e52,#dc764f,#ce604c,#bc5548,#b14e45,#ac4b44,#ab4a43,#aa4a43,#a94a43,#a94a43,#aa4a43,#ab4b44,#ad4c44,#af4d44,#b04e45,#b24f45,#b24f45,#b24f45,#b24f45,#b24f45,#b14e45,#b04e45,#af4d44,#ae4c44,#ac4b44,#a84943,#a14640,#97433d,#8a3f38,#793a31,#603226,#442919)"></div><div style="top:272px;height:2.5px;background:linear-gradient(90deg,#ffffcc,#ffffcc,#ffffcb,#fffec9,#fffdc6,#fefcc3,#fefabf,#fef8bb,#fdf6b5,#fcf3ac,#fceea1,#fae690,#f6d779,#f2c363,#eca855,#e68f52,#dc764f,#cf604c,#bd5548,#b24f45,#ad4c44,#ab4b44,#aa4a43,#aa4a43,#aa4a43,#ab4a43,#ac4b44,#ae4c44,#b04d45,#b14e45,#b34f45,#b45046,#b35046,#b35045,#b34f45,#b24f45,#b14e45,#b04e45,#af4d44,#ae4c44,#aa4a43,#a34641,#99443e,#8d4039,#7c3b32,#643328,#492a1b)"></div><div style="top:274px;height:2.5px;background:linear-gradient(90deg,#ffffcc,#ffffcc,#fffeca,#fffec9,#fffdc6,#fefbc2,#fefabe,#fef8ba,#fdf6b5,#fcf3ac,#fcefa2,#fae793,#f7d87b,#f3c564,#ecaa56,#e68f52,#dc764f,#cf604c,#bd5648,#b34f45,#ae4c44,#ac4b44,#ab4a43,#aa4a43,#aa4a43,#ab4b44,#ad4c44,#af4d44,#b14e45,#b24f45,#b45046,#b55046,#b55046,#b55046,#b45046,#b45046,#b34f45,#b24f45,#b14e45,#af4d45,#ac4b44,#a64742,#9c443f,#90413a,#7f3c34,#69352a,#4f2c1e)"></div><div style="top:276px;height:2.5px;background:linear-gradient(90deg,#ffffcc,#ffffcc,#fffeca,#fffec8,#fefcc5,#fefbc2,#fefabe,#fef8b9,#fdf6b5,#fdf3ad,#fcefa3,#fae895,#f7da7e,#f3c866,#edab57,#e68f52,#dc764f,#cf604c,#be5648,#b45046,#af4d44,#ad4c44,#ac4b44,#ab4b43,#ab4b43,#ac4b44,#ae4c44,#b04d45,#b24f45,#b45046,#b55146,#b65146,#b65146,#b65146,#b65146,#b55146,#b45046,#b45046,#b34f45,#b24f45,#af4d44,#a84943,#9f4540,#93423b,#833d35,#6d362c,#542e20)"></div><div style="top:278px;height:2.5px;background:linear-gradient(90deg,#ffffcc,#ffffcc,#fffeca,#fffdc8,#fefcc5,#fefbc2,#fefabe,#fef8b9,#fdf6b5,#fdf4ae,#fcf0a4,#fbea96,#f7dc81,#f4ca67,#edad57,#e68f52,#dc764f,#cf604c,#c05748,#b55146,#b04e45,#ae4c44,#ad4c44,#ac4b44,#ac4b44,#ad4c44,#af4d44,#b14e45,#b35045,#b55146,#b75246,#b85247,#b85247,#b85247,#b75247,#b75246,#b65146,#b65146,#b55146,#b45046,#b14e45,#ab4b43,#a24641,#96433c,#873e37,#72382e,#592f23)"></div><div style="top:280px;height:2.5px;background:linear-gradient(90deg,#ffffcc,#ffffcc,#fffeca,#fffdc8,#fefcc5,#fefbc2,#fefabe,#fef8ba,#fdf6b5,#fdf4af,#fcf0a5,#fbeb98,#f8de84,#f4cd69,#eeaf59,#e69052,#dc774f,#d1614d,#c25849,#b75246,#b24f45,#b04d45,#ae4d44,#ae4c44,#ae4c44,#af4d44,#b14e45,#b34f45,#b55146,#b75246,#b95347,#ba5347,#ba5347,#ba5347,#ba5347,#b95347,#b95347,#b85347,#b85247,#b75246,#b45046,#ae4d44,#a64742,#9b443e,#8c3f38,#763930,#5d3125)"></div><div style="top:282px;height:2.5px;background:linear-gradient(90deg,#ffffcc,#ffffcc,#fffeca,#fffec8,#fefdc6,#fefbc2,#fefabf,#fef8bb,#fdf7b6,#fdf4b0,#fcf1a7,#fbec9a,#f8e087,#f5d06e,#eeb35b,#e79453,#de7b50,#d3644d,#c55a4a,#ba5447,#b45046,#b34f45,#b24f45,#b14e45,#b14e45,#b24f45,#b45046,#b65146,#b85247,#ba5347,#bb5447,#bc5548,#bc5548,#bc5548,#bc5548,#bc5548,#bb5447,#bb5447,#ba5447,#ba5447,#b85247,#b24f45,#aa4a43,#9f4540,#90413a,#7a3a32,#603226)"></div><div style="top:284px;height:2.5px;background:linear-gradient(90deg,#ffffcc,#ffffcc,#fffeca,#fffec9,#fffdc6,#fefcc3,#fefac0,#fef9bc,#fdf7b8,#fdf5b2,#fcf1a8,#fbed9b,#f9e189,#f5d272,#f0b85d,#e89953,#e18150,#d5684e,#c85c4b,#bd5648,#b85247,#b75246,#b65146,#b55146,#b55146,#b65146,#b85247,#b95347,#bb5447,#bd5548,#be5648,#bf5648,#bf5648,#bf5648,#bf5648,#bf5648,#bf5648,#be5648,#be5648,#bd5648,#bb5447,#b65146,#ae4c44,#a54742,#95423c,#7f3c34,#643328)"></div><div style="top:286px;height:2.5px;background:linear-gradient(90deg,#ffffcc,#ffffcc,#fffecb,#fffec9,#fffdc7,#fefcc4,#fefbc1,#fefabe,#fef8ba,#fdf6b3,#fcf2a9,#fbed9d,#f9e38c,#f6d577,#f1bd60,#eaa054,#e48751,#d76d4e,#cd5f4c,#c25849,#bc5548,#bb5447,#bb5447,#bb5447,#bb5447,#bb5447,#bc5548,#be5648,#bf5648,#c05749,#c15849,#c25849,#c25849,#c25849,#c25849,#c25849,#c25849,#c25849,#c25849,#c15849,#c05749,#bb5447,#b35045,#aa4a43,#9b443e,#843d36,#68342a)"></div><div style="top:288px;height:2.5px;background:linear-gradient(90deg,#ffffcc,#ffffcc,#ffffcb,#fffec9,#fffdc8,#fefcc5,#fefbc3,#fefabf,#fef9bc,#fdf6b5,#fcf2ab,#fbee9f,#fae590,#f7d97c,#f2c363,#eca755,#e68e52,#da734f,#d2634d,#c75b4a,#c15849,#c15849,#c15849,#c15849,#c15849,#c15849,#c25849,#c25949,#c35949,#c45a4a,#c55a4a,#c55a4a,#c55a4a,#c65b4a,#c65b4a,#c65b4a,#c65b4a,#c65b4a,#c65b4a,#c65b4a,#c55a4a,#c05749,#b95347,#b04e45,#a24641,#8a3f38,#6c362c)"></div><div style="top:290px;height:2.5px;background:linear-gradient(90deg,#ffffcc,#ffffcc,#ffffcb,#fffeca,#fffec8,#fffdc6,#fefcc4,#fefbc1,#fefabe,#fdf7b7,#fcf3ac,#fcefa1,#fae893,#f7dc81,#f3c966,#edae58,#e79553,#dd794f,#d5684e,#cd5f4c,#c75b4a,#c75b4a,#c75b4a,#c75b4a,#c75b4a,#c75b4a,#c75c4a,#c85c4a,#c85c4b,#c85c4b,#c95d4b,#c95d4b,#ca5d4b,#ca5d4b,#ca5d4b,#cb5e4b,#cb5e4b,#cb5e4b,#cb5e4b,#cb5e4b,#ca5d4b,#c65b4a,#bf5748,#b75246,#a94943,#91413b,#72382f)"></div><div style="top:292px;height:2.5px;background:linear-gradient(90deg,#ffffcc,#ffffcc,#ffffcb,#fffeca,#fffec9,#fffdc7,#fefcc5,#fefbc2,#fefabf,#fdf8b9,#fdf4af,#fcf0a4,#fbea97,#f8df86,#f4ce6b,#efb65c,#e99c54,#e18250,#d9704f,#d4654d,#d0614c,#cf604c,#cf604c,#cf604c,#ce604c,#ce604c,#ce604c,#ce604c,#ce604c,#ce604c,#cf604c,#cf604c,#cf604c,#d0614c,#d0614d,#d1614d,#d1614d,#d1624d,#d1624d,#d2624d,#d1614d,#cd5f4c,#c75b4a,#bf5748,#b14e45,#9b443e,#7c3b32)"></div><div style="top:294px;height:2.5px;background:linear-gradient(90deg,#ffffcc,#ffffcc,#ffffcb,#fffeca,#fffec9,#fffdc7,#fefdc6,#fefcc3,#fefbc1,#fef9bb,#fdf5b3,#fcf1a8,#fbed9c,#f9e38c,#f6d373,#f1bf61,#eca655,#e68e52,#e07e50,#da724f,#d76c4e,#d66a4e,#d5684e,#d5674e,#d4674e,#d4674e,#d4664d,#d4664d,#d4664d,#d4664d,#d4664d,#d4674d,#d4674e,#d5674e,#d5674e,#d5684e,#d5684e,#d5684e,#d5694e,#d5694e,#d5684e,#d3654d,#d0614d,#c95d4b,#bc5548,#a94943,#8c4039)"></div><div style="top:296px;height:2.5px;background:linear-gradient(90deg,#ffffcc,#ffffcc,#ffffcb,#fffecb,#fffeca,#fffec8,#fffdc6,#fefcc4,#fefbc2,#fefabe,#fdf7b7,#fdf3ad,#fcefa1,#fae792,#f7d97c,#f3c866,#eeb25a,#e99d54,#e68e52,#e28251,#de7a50,#db754f,#da724f,#d9714f,#d9704f,#d9704e,#d86f4e,#d86f4e,#d86f4e,#d86f4e,#d86f4e,#d86f4e,#d96f4e,#d9704e,#d9704f,#d9704f,#d9704f,#d9714f,#d9714f,#d9714f,#d9704f,#d86d4e,#d6694e,#d3644d,#c95d4b,#b75246,#a04540)"></div><div style="top:298px;height:2.5px;background:linear-gradient(90deg,#ffffcc,#ffffcc,#ffffcb,#ffffcb,#fffeca,#fffec9,#fffdc7,#fefdc6,#fefcc4,#fefbc1,#fef8bb,#fdf5b1,#fcf1a7,#fbeb98,#f8df85,#f5d06f,#f1be61,#edac57,#e99e54,#e79252,#e58a51,#e28250,#df7d50,#de7b50,#de7a50,#dd794f,#dd794f,#dd794f,#dd794f,#dd794f,#dd794f,#dd794f,#dd794f,#dd794f,#dd794f,#dd7950,#dd7950,#dd7950,#dd7950,#dd7a50,#dd794f,#dc764f,#da734f,#d86e4e,#d4664d,#c75b4a,#b35046)"></div><div style="top:300px;height:2.5px;background:linear-gradient(90deg,#ffffcc,#ffffcc,#ffffcc,#ffffcb,#fffeca,#fffec9,#fffdc8,#fffdc6,#fefcc5,#fefbc2,#fefabe,#fdf6b5,#fcf3ac,#fbee9e,#f9e48d,#f7d87a,#f3ca67,#f0ba5f,#edac57,#eaa054,#e89753,#e68e52,#e48851,#e38651,#e28451,#e28351,#e28250,#e28250,#e28250,#e28250,#e28250,#e28250,#e28250,#e28250,#e28250,#e28250,#e28250,#e28250,#e28250,#e28251,#e18250,#e07f50,#df7c50,#dd784f,#d9714f,#d4664d,#c65b4a)"></div><div style="top:302px;height:2.5px;background:linear-gradient(90deg,#ffffcc,#ffffcc,#ffffcc,#ffffcb,#fffeca,#fffec9,#fffec8,#fffdc7,#fefcc5,#fefcc3,#fefac0,#fdf8b8,#fdf4af,#fcf0a3,#fae894,#f8de84,#f5d271,#f2c564,#f0b85e,#edac57,#eaa254,#e89853,#e79152,#e68f52,#e58d52,#e58b51,#e58b51,#e58a51,#e58a51,#e58a51,#e58a51,#e58a51,#e58a51,#e58a51,#e58a51,#e58a51,#e58a51,#e58a51,#e58a51,#e58a51,#e58a51,#e48851,#e38551,#e18150,#de7b50,#d9714f,#d3644d)"></div><div style="top:304px;height:2.5px;background:linear-gradient(90deg,#ffffcc,#ffffcc,#ffffcc,#ffffcb,#fffeca,#fffeca,#fffec8,#fffdc7,#fefdc6,#fefcc4,#fefbc1,#fef9bb,#fdf5b3,#fcf1a8,#fbec9b,#f9e48d,#f7d97c,#f5ce6c,#f2c363,#efb75d,#edac57,#eaa254,#e99b53,#e89753,#e79553,#e79352,#e79252,#e79252,#e79252,#e79252,#e79252,#e79252,#e79252,#e79252,#e79252,#e79252,#e79252,#e79252,#e79252,#e79252,#e79152,#e69052,#e68d52,#e58a51,#e38551,#de7b50,#d9704e)"></div><div style="top:306px;height:2.5px;background:linear-gradient(90deg,#ffffcc,#ffffcc,#ffffcc,#ffffcb,#fffeca,#fffeca,#fffec9,#fffdc7,#fffdc6,#fefcc4,#fefbc2,#fef9bd,#fdf7b6,#fcf3ac,#fcefa1,#fae995,#f8e087,#f6d678,#f4cc68,#f2c162,#efb75d,#edac57,#eba454,#eaa054,#e99d54,#e99b53,#e99a53,#e99a53,#e99a53,#e99a53,#e99a53,#e99a53,#e99a53,#e99a53,#e99a53,#e99a53,#e99a53,#e99a53,#e99a53,#e99a53,#e89953,#e89853,#e89653,#e79352,#e68e52,#e38551,#de7a50)"></div><div style="top:308px;height:2.5px;background:linear-gradient(90deg,#ffffcc,#ffffcc,#ffffcc,#ffffcb,#fffecb,#fffeca,#fffec9,#fffdc8,#fffdc6,#fefcc5,#fefbc3,#fefabf,#fdf8b9,#fdf5b1,#fcf1a7,#fbed9d,#fae690,#f8dd83,#f6d475,#f4cb67,#f1c162,#efb65c,#edae58,#eca956,#eba555,#eba354,#eaa254,#eaa254,#eaa254,#eaa254,#eaa254,#eaa254,#eaa254,#eaa254,#eaa254,#eaa254,#eaa254,#eaa254,#eaa254,#eaa254,#eaa154,#eaa054,#ea9e54,#e99b53,#e89653,#e68e52,#e38451)"></div><div style="top:310px;height:2.5px;background:linear-gradient(90deg,#ffffcc,#ffffcc,#ffffcc,#ffffcb,#fffecb,#fffeca,#fffec9,#fffdc8,#fffdc6,#fefcc5,#fefcc3,#fefbc1,#fef9bc,#fdf6b4,#fcf3ac,#fcf0a3,#fbeb98,#f9e38c,#f7db7f,#f5d272,#f4ca67,#f1bf61,#efb75d,#eeb25b,#edae58,#edab57,#ecaa56,#ecaa56,#ecaa56,#ecaa56,#ecaa56,#ecaa56,#ecaa56,#ecaa56,#ecaa56,#ecaa56,#ecaa56,#ecaa56,#ecaa56,#ecaa56,#eca956,#eca855,#eca655,#eba454,#ea9f54,#e89853,#e68e52)"></div><div style="top:312px;height:2.5px;background:linear-gradient(90deg,#ffffcc,#ffffcc,#ffffcc,#ffffcb,#fffecb,#fffeca,#fffec9,#fffdc8,#fffdc7,#fefdc5,#fefcc4,#fefbc2,#fefabe,#fdf7b8,#fdf5b1,#fcf2a9,#fbee9e,#fae894,#f9e188,#f7d97c,#f5d170,#f3c966,#f2c162,#f0bc5f,#efb75d,#efb45b,#eeb35b,#eeb35b,#eeb35b,#eeb35b,#eeb35b,#eeb35b,#eeb35b,#eeb35b,#eeb35b,#eeb35b,#eeb35b,#eeb35b,#eeb35b,#eeb35b,#eeb25a,#eeb15a,#eeaf59,#edad57,#eca855,#eaa154,#e89853)"></div><div style="top:314px;height:2.5px;background:linear-gradient(90deg,#ffffcc,#ffffcc,#ffffcc,#ffffcb,#ffffcb,#fffeca,#fffec9,#fffec8,#fffdc7,#fffdc6,#fefcc5,#fefcc3,#fefac0,#fef9bb,#fdf6b5,#fdf3ad,#fcf0a4,#fbec9a,#fae690,#f8df86,#f7d87b,#f5d170,#f4ca67,#f3c665,#f2c162,#f1be61,#f1bd60,#f1bd60,#f1bd60,#f1bd60,#f1bd60,#f1bd60,#f1bd60,#f1bd60,#f1bd60,#f1bd60,#f1bd60,#f1bd60,#f1bd60,#f1bd60,#f0bc60,#f0bb5f,#f0b95e,#efb65c,#eeb25a,#edab57,#eba454)"></div><div style="top:316px;height:2.5px;background:linear-gradient(90deg,#ffffcc,#ffffcc,#ffffcc,#ffffcb,#ffffcb,#fffeca,#fffeca,#fffec9,#fffdc8,#fffdc7,#fefdc5,#fefcc4,#fefbc1,#fefabe,#fdf8b9,#fdf5b2,#fcf2a9,#fbeea0,#fbea97,#f9e48e,#f8df85,#f7d97c,#f6d373,#f5cf6d,#f4cb68,#f3c866,#f3c765,#f3c765,#f3c765,#f3c765,#f3c765,#f3c765,#f3c765,#f3c765,#f3c765,#f3c765,#f3c765,#f3c765,#f3c765,#f3c765,#f3c665,#f2c564,#f2c363,#f1c062,#f0bc60,#efb65d,#eeb059)"></div><div style="top:318px;height:2.5px;background:linear-gradient(90deg,#ffffcc,#ffffcc,#ffffcc,#ffffcb,#ffffcb,#fffecb,#fffeca,#fffec9,#fffec8,#fffdc7,#fffdc6,#fefcc5,#fefcc3,#fefbc1,#fef9bc,#fdf6b5,#fdf3ad,#fcf0a5,#fbed9e,#fae996,#f9e48e,#f8e087,#f7db80,#f6d779,#f6d474,#f5d170,#f5d06e,#f5d06e,#f5d06e,#f5d06e,#f5d06e,#f5d06e,#f5d06e,#f5d06e,#f5d06e,#f5d06e,#f5d06e,#f5d06e,#f5d06e,#f5d06e,#f5d06e,#f4ce6c,#f4cc68,#f3c967,#f3c665,#f2c162,#f1bd60)"></div><div style="top:320px;height:2.5px;background:linear-gradient(90deg,#ffffcc,#ffffcc,#ffffcc,#ffffcc,#ffffcb,#ffffcb,#fffeca,#fffec9,#fffec9,#fffdc8,#fffdc7,#fefdc5,#fefcc4,#fefbc2,#fefabf,#fdf8b8,#fdf5b1,#fcf2aa,#fcf0a3,#fbed9d,#faea96,#fae691,#f9e28b,#f8de85,#f7db7f,#f7d97c,#f7d77a,#f7d77a,#f7d77a,#f7d77a,#f7d77a,#f7d77a,#f7d77a,#f7d77a,#f7d77a,#f7d77a,#f7d77a,#f7d77a,#f7d77a,#f7d77a,#f6d779,#f6d677,#f6d474,#f5d170,#f5ce6c,#f4cb68,#f3c866)"></div><div style="top:322px;height:2.5px;background:linear-gradient(90deg,#ffffcc,#ffffcc,#ffffcc,#ffffcc,#ffffcb,#ffffcb,#fffeca,#fffeca,#fffec9,#fffdc8,#fffdc7,#fffdc6,#fefcc5,#fefcc3,#fefbc0,#fef8bb,#fdf6b4,#fdf4ae,#fcf2a9,#fcefa3,#fbed9e,#fbeb99,#fae893,#f9e48e,#f9e189,#f8de85,#f8dd83,#f8dd83,#f8dd83,#f8dd83,#f8dd83,#f8dd83,#f8dd83,#f8dd83,#f8dd83,#f8dd83,#f8dd83,#f8dd83,#f8dd83,#f8dd83,#f8dd83,#f7dc81,#f7da7e,#f7d87b,#f6d577,#f5d372,#f5d06e)"></div><div style="top:324px;height:2.5px;background:linear-gradient(90deg,#ffffcc,#ffffcc,#ffffcc,#ffffcc,#ffffcb,#ffffcb,#fffeca,#fffeca,#fffec9,#fffec8,#fffdc7,#fffdc6,#fefcc5,#fefcc4,#fefbc1,#fef9bd,#fdf7b7,#fdf5b2,#fdf4ae,#fcf2a9,#fcf0a4,#fbeea0,#fbed9b,#fae996,#fae691,#f9e48d,#f9e38b,#f9e38b,#f9e38b,#f9e38b,#f9e38b,#f9e38b,#f9e38b,#f9e38b,#f9e38b,#f9e38b,#f9e38b,#f9e38b,#f9e38b,#f9e38b,#f9e28b,#f9e189,#f8e087,#f8de84,#f8dc81,#f7da7d,#f6d779)"></div><div style="top:326px;height:2.5px;background:linear-gradient(90deg,#ffffcc,#ffffcc,#ffffcc,#ffffcc,#ffffcb,#ffffcb,#fffeca,#fffeca,#fffec9,#fffec8,#fffdc7,#fffdc6,#fefcc5,#fefcc4,#fefbc2,#fefabf,#fef8bb,#fdf7b7,#fdf5b3,#fdf4af,#fcf2ab,#fcf1a7,#fcefa3,#fbed9d,#fbeb98,#fae894,#fae793,#fae792,#fae792,#fae792,#fae792,#fae792,#fae792,#fae792,#fae792,#fae792,#fae792,#fae792,#fae792,#fae792,#fae792,#fae691,#fae58f,#f9e48d,#f9e28b,#f8e088,#f8dd82)"></div><div style="top:328px;height:2.5px;background:linear-gradient(90deg,#ffffcc,#ffffcc,#ffffcc,#ffffcc,#ffffcb,#ffffcb,#fffeca,#fffeca,#fffec9,#fffec8,#fffdc7,#fffdc7,#fefdc6,#fefcc5,#fefcc3,#fefbc0,#fefabe,#fef8bb,#fdf7b8,#fdf6b4,#fdf5b1,#fdf4ae,#fcf2a9,#fcf0a4,#fbee9f,#fbec9b,#fbeb99,#fbeb99,#fbeb99,#fbeb99,#fbeb99,#fbeb99,#fbeb99,#fbeb99,#fbeb99,#fbeb99,#fbeb99,#fbeb99,#fbeb99,#fbeb99,#fbeb99,#fbeb98,#fbea97,#fae996,#fae894,#fae791,#f9e28b)"></div><div style="top:330px;height:2.5px;background:linear-gradient(90deg,#ffffcc,#ffffcc,#ffffcc,#ffffcc,#ffffcb,#ffffcb,#fffeca,#fffeca,#fffec9,#fffec8,#fffdc8,#fffdc7,#fffdc6,#fefcc5,#fefcc4,#fefbc2,#fefac0,#fefabe,#fef9bc,#fdf8b9,#fdf7b6,#fdf6b3,#fdf4af,#fcf2aa,#fcf0a5,#fcefa1,#fbee9f,#fbee9f,#fbee9f,#fbee9f,#fbee9f,#fbee9f,#fbee9f,#fbee9f,#fbee9f,#fbee9f,#fbee9f,#fbee9f,#fbee9f,#fbee9f,#fbee9f,#fbee9f,#fbee9e,#fbed9d,#fbed9d,#fbec9a,#fae893)"></div><div style="top:332px;height:2.5px;background:linear-gradient(90deg,#ffffcc,#ffffcc,#ffffcc,#ffffcc,#ffffcb,#ffffcb,#fffeca,#fffeca,#fffec9,#fffec8,#fffdc8,#fffdc7,#fffdc6,#fefcc5,#fefcc4,#fefcc3,#fefbc2,#fefbc0,#fefabe,#fef9bc,#fef8ba,#fdf7b7,#fdf6b4,#fdf4af,#fcf2aa,#fcf1a6,#fcf0a4,#fcf0a4,#fcf0a4,#fcf0a4,#fcf0a4,#fcf0a4,#fcf0a4,#fcf0a4,#fcf0a4,#fcf0a4,#fcf0a4,#fcf0a4,#fcf0a4,#fcf0a4,#fcf0a4,#fcf0a4,#fcf0a4,#fcf0a4,#fcf0a4,#fcefa1,#fbec9a)"></div><div style="top:334px;height:2.5px;background:linear-gradient(90deg,#ffffcc,#ffffcc,#ffffcc,#ffffcc,#ffffcb,#ffffcb,#fffeca,#fffeca,#fffec9,#fffec9,#fffdc8,#fffdc7,#fffdc6,#fefdc6,#fefcc5,#fefcc4,#fefcc3,#fefbc2,#fefbc0,#fefabe,#fef9bc,#fef8ba,#fdf7b7,#fdf5b3,#fdf4ae,#fcf2ab,#fcf2a9,#fcf2a9,#fcf2a9,#fcf2a9,#fcf2a9,#fcf2a9,#fcf2a9,#fcf2a9,#fcf2a9,#fcf2a9,#fcf2a9,#fcf2a9,#fcf2a9,#fcf2a9,#fcf2a9,#fcf2a9,#fcf2a9,#fcf2a9,#fcf2a9,#fcf1a7,#fcefa1)"></div><div style="top:336px;height:2.5px;background:linear-gradient(90deg,#ffffcc,#ffffcc,#ffffcc,#ffffcc,#ffffcb,#ffffcb,#fffeca,#fffeca,#fffec9,#fffec9,#fffec8,#fffdc7,#fffdc7,#fffdc6,#fefcc5,#fefcc4,#fefcc4,#fefbc3,#fefbc1,#fefac0,#fefabe,#fef9bc,#fef8ba,#fdf7b6,#fdf5b2,#fdf4af,#fdf4ae,#fdf4ae,#fdf4ae,#fdf4ae,#fdf4ae,#fdf4ae,#fdf4ae,#fdf4ae,#fdf4ae,#fdf4ae,#fdf4ae,#fdf4ae,#fdf4ae,#fdf4ae,#fdf4ae,#fdf4ae,#fdf4ae,#fdf4ae,#fdf4ae,#fcf3ad,#fcf1a7)"></div><div style="top:338px;height:2.5px;background:linear-gradient(90deg,#ffffcc,#ffffcc,#ffffcc,#ffffcc,#ffffcb,#ffffcb,#fffeca,#fffeca,#fffec9,#fffec9,#fffec8,#fffdc8,#fffdc7,#fffdc6,#fefdc6,#fefcc5,#fefcc4,#fefcc3,#fefbc2,#fefbc1,#fefac0,#fefabe,#fef9bc,#fdf8b9,#fdf7b6,#fdf6b3,#fdf5b2,#fdf5b2,#fdf5b2,#fdf5b2,#fdf5b2,#fdf5b2,#fdf5b2,#fdf5b2,#fdf5b2,#fdf5b2,#fdf5b2,#fdf5b2,#fdf5b2,#fdf5b2,#fdf5b2,#fdf5b2,#fdf5b3,#fdf5b3,#fdf5b3,#fdf5b2,#fdf4ae)"></div><div style="top:340px;height:2.5px;background:linear-gradient(90deg,#ffffcc,#ffffcc,#ffffcc,#ffffcc,#ffffcb,#ffffcb,#fffecb,#fffeca,#fffeca,#fffec9,#fffec9,#fffdc8,#fffdc7,#fffdc7,#fffdc6,#fefcc5,#fefcc5,#fefcc4,#fefcc3,#fefbc2,#fefbc1,#fefac0,#fefabe,#fef9bc,#fdf8b9,#fdf7b7,#fdf7b6,#fdf7b6,#fdf7b6,#fdf7b6,#fdf7b6,#fdf7b6,#fdf7b6,#fdf7b6,#fdf7b6,#fdf7b6,#fdf7b6,#fdf7b6,#fdf7b6,#fdf7b7,#fdf7b7,#fdf7b7,#fdf7b7,#fdf7b7,#fdf7b7,#fdf7b6,#fdf6b4)"></div><div style="top:342px;height:2.5px;background:linear-gradient(90deg,#ffffcc,#ffffcc,#ffffcc,#ffffcc,#ffffcb,#ffffcb,#fffecb,#fffeca,#fffeca,#fffec9,#fffec9,#fffec8,#fffdc8,#fffdc7,#fffdc6,#fffdc6,#fefcc5,#fefcc4,#fefcc4,#fefcc3,#fefbc2,#fefbc1,#fefac0,#fefabe,#fef9bc,#fef8bb,#fef8ba,#fef8ba,#fef8ba,#fef8ba,#fef8ba,#fef8ba,#fef8ba,#fef8ba,#fef8ba,#fef8ba,#fef8ba,#fef8ba,#fef8ba,#fef8ba,#fef8ba,#fef8ba,#fef8ba,#fef8ba,#fef8ba,#fef8ba,#fdf8b9)"></div><div style="top:344px;height:2.5px;background:linear-gradient(90deg,#ffffcc,#ffffcc,#ffffcc,#ffffcc,#ffffcb,#ffffcb,#fffecb,#fffeca,#fffeca,#fffec9,#fffec9,#fffec8,#fffdc8,#fffdc7,#fffdc7,#fffdc6,#fefdc6,#fefcc5,#fefcc4,#fefcc4,#fefcc3,#fefbc2,#fefbc1,#fefac0,#fefabe,#fef9bd,#fef9bd,#fef9bd,#fef9bd,#fef9bd,#fef9bd,#fef9bd,#fef9bd,#fef9bd,#fef9bd,#fef9bd,#fef9bd,#fef9bd,#fef9bd,#fef9bd,#fef9bd,#fef9bd,#fef9bd,#fef9bd,#fef9bd,#fef9bd,#fef9bd)"></div><div style="top:346px;height:2.5px;background:linear-gradient(90deg,#ffffcc,#ffffcc,#ffffcc,#ffffcc,#ffffcb,#ffffcb,#ffffcb,#fffeca,#fffeca,#fffeca,#fffec9,#fffec9,#fffec8,#fffdc8,#fffdc7,#fffdc7,#fffdc6,#fefcc5,#fefcc5,#fefcc4,#fefcc4,#fefcc3,#fefbc2,#fefbc1,#fefac0,#fefabf,#fefabf,#fefabf,#fefabf,#fefabf,#fefabf,#fefabf,#fefabf,#fefabf,#fefabf,#fefabf,#fefabf,#fefabf,#fefabf,#fefabf,#fefabf,#fefabf,#fefabf,#fefabf,#fefabf,#fefabf,#fefabf)"></div><div style="top:348px;height:2.5px;background:linear-gradient(90deg,#ffffcc,#ffffcc,#ffffcc,#ffffcc,#ffffcb,#ffffcb,#ffffcb,#fffeca,#fffeca,#fffeca,#fffec9,#fffec9,#fffec8,#fffdc8,#fffdc7,#fffdc7,#fffdc6,#fffdc6,#fefcc5,#fefcc5,#fefcc4,#fefcc4,#fefcc3,#fefbc2,#fefbc1,#fefbc0,#fefac0,#fefac0,#fefac0,#fefac0,#fefac0,#fefac0,#fefac0,#fefac0,#fefac0,#fefac0,#fefac0,#fefac0,#fefac0,#fefac0,#fefac0,#fefac0,#fefac0,#fefac0,#fefac0,#fefac0,#fefac0)"></div><div style="top:350px;height:2.5px;background:linear-gradient(90deg,#ffffcc,#ffffcc,#ffffcc,#ffffcc,#ffffcb,#ffffcb,#ffffcb,#fffecb,#fffeca,#fffeca,#fffec9,#fffec9,#fffec9,#fffec8,#fffdc8,#fffdc7,#fffdc7,#fffdc6,#fffdc6,#fefdc6,#fefcc5,#fefcc5,#fefcc4,#fefcc3,#fefbc2,#fefbc2,#fefbc2,#fefbc2,#fefbc2,#fefbc1,#fefbc1,#fefbc1,#fefbc1,#fefbc1,#fefbc1,#fefbc1,#fefbc1,#fefbc1,#fefbc1,#fefbc1,#fefbc1,#fefbc1,#fefbc1,#fefbc1,#fefbc1,#fefbc1,#fefbc1)"></div><div style="top:352px;height:2.5px;background:linear-gradient(90deg,#ffffcc,#ffffcc,#ffffcc,#ffffcc,#ffffcb,#ffffcb,#ffffcb,#fffecb,#fffeca,#fffeca,#fffeca,#fffec9,#fffec9,#fffec9,#fffec8,#fffdc8,#fffdc7,#fffdc7,#fffdc7,#fffdc6,#fffdc6,#fefdc6,#fefcc5,#fefcc4,#fefcc4,#fefcc3,#fefcc3,#fefcc3,#fefcc3,#fefcc3,#fefbc3,#fefbc3,#fefbc3,#fefbc3,#fefbc3,#fefbc3,#fefbc3,#fefbc3,#fefbc2,#fefbc2,#fefbc2,#fefbc2,#fefbc2,#fefbc2,#fefbc2,#fefbc2,#fefbc2)"></div><div style="top:354px;height:2.5px;background:linear-gradient(90deg,#ffffcc,#ffffcc,#ffffcc,#ffffcc,#ffffcb,#ffffcb,#ffffcb,#fffecb,#fffeca,#fffeca,#fffeca,#fffec9,#fffec9,#fffec9,#fffec8,#fffdc8,#fffdc8,#fffdc7,#fffdc7,#fffdc7,#fffdc7,#fffdc6,#fffdc6,#fefcc5,#fefcc5,#fefcc4,#fefcc4,#fefcc4,#fefcc4,#fefcc4,#fefcc4,#fefcc4,#fefcc4,#fefcc4,#fefcc4,#fefcc4,#fefcc4,#fefcc4,#fefcc4,#fefcc4,#fefcc4,#fefcc3,#fefcc3,#fefcc3,#fefcc3,#fefcc3,#fefcc3)"></div><div style="top:356px;height:2.5px;background:linear-gradient(90deg,#ffffcc,#ffffcc,#ffffcc,#ffffcc,#ffffcb,#ffffcb,#ffffcb,#ffffcb,#fffeca,#fffeca,#fffeca,#fffeca,#fffec9,#fffec9,#fffec9,#fffec8,#fffec8,#fffdc8,#fffdc8,#fffdc7,#fffdc7,#fffdc7,#fffdc7,#fffdc6,#fffdc6,#fefdc5,#fefcc5,#fefcc5,#fefcc5,#fefcc5,#fefcc5,#fefcc5,#fefcc5,#fefcc5,#fefcc5,#fefcc5,#fefcc5,#fefcc5,#fefcc5,#fefcc5,#fefcc4,#fefcc4,#fefcc4,#fefcc4,#fefcc4,#fefcc4,#fefcc4)"></div><div style="top:358px;height:2.5px;background:linear-gradient(90deg,#ffffcc,#ffffcc,#ffffcc,#ffffcc,#ffffcb,#ffffcb,#ffffcb,#ffffcb,#fffecb,#fffeca,#fffeca,#fffeca,#fffeca,#fffec9,#fffec9,#fffec9,#fffec8,#fffec8,#fffdc8,#fffdc8,#fffdc8,#fffdc8,#fffdc7,#fffdc7,#fffdc7,#fffdc6,#fffdc6,#fffdc6,#fffdc6,#fffdc6,#fffdc6,#fffdc6,#fffdc6,#fffdc6,#fffdc6,#fefdc6,#fefdc6,#fefdc6,#fefdc6,#fefdc5,#fefcc5,#fefcc5,#fefcc5,#fefcc5,#fefcc5,#fefcc5,#fefcc5)"></div><div style="top:360px;height:2.5px;background:linear-gradient(90deg,#ffffcc,#ffffcc,#ffffcc,#ffffcc,#ffffcb,#ffffcb,#ffffcb,#ffffcb,#ffffcb,#fffeca,#fffeca,#fffeca,#fffeca,#fffeca,#fffec9,#fffec9,#fffec9,#fffec9,#fffec9,#fffec8,#fffec8,#fffec8,#fffec8,#fffdc8,#fffdc8,#fffdc7,#fffdc7,#fffdc7,#fffdc7,#fffdc7,#fffdc7,#fffdc7,#fffdc7,#fffdc7,#fffdc7,#fffdc7,#fffdc6,#fffdc6,#fffdc6,#fffdc6,#fffdc6,#fffdc6,#fffdc6,#fffdc6,#fffdc6,#fffdc6,#fffdc6)"></div><div style="top:362px;height:2.5px;background:linear-gradient(90deg,#ffffcc,#ffffcc,#ffffcc,#ffffcc,#ffffcb,#ffffcb,#ffffcb,#ffffcb,#ffffcb,#fffecb,#fffeca,#fffeca,#fffeca,#fffeca,#fffeca,#fffec9,#fffec9,#fffec9,#fffec9,#fffec9,#fffec9,#fffec9,#fffec9,#fffec8,#fffec8,#fffec8,#fffdc8,#fffdc8,#fffdc8,#fffdc8,#fffdc8,#fffdc8,#fffdc7,#fffdc7,#fffdc7,#fffdc7,#fffdc7,#fffdc7,#fffdc7,#fffdc7,#fffdc7,#fffdc7,#fffdc7,#fffdc7,#fffdc6,#fffdc6,#fffdc6)"></div><div style="top:364px;height:2.5px;background:linear-gradient(90deg,#ffffcc,#ffffcc,#ffffcc,#ffffcc,#ffffcb,#ffffcb,#ffffcb,#ffffcb,#ffffcb,#ffffcb,#fffecb,#fffeca,#fffeca,#fffeca,#fffeca,#fffeca,#fffeca,#fffec9,#fffec9,#fffec9,#fffec9,#fffec9,#fffec9,#fffec9,#fffec9,#fffec9,#fffec9,#fffec8,#fffec8,#fffec8,#fffec8,#fffec8,#fffdc8,#fffdc8,#fffdc8,#fffdc8,#fffdc8,#fffdc8,#fffdc8,#fffdc7,#fffdc7,#fffdc7,#fffdc7,#fffdc7,#fffdc7,#fffdc7,#fffdc7)"></div><div style="top:366px;height:2.5px;background:linear-gradient(90deg,#ffffcc,#ffffcc,#ffffcc,#ffffcc,#ffffcc,#ffffcb,#ffffcb,#ffffcb,#ffffcb,#ffffcb,#ffffcb,#fffecb,#fffeca,#fffeca,#fffeca,#fffeca,#fffeca,#fffeca,#fffeca,#fffeca,#fffeca,#fffeca,#fffeca,#fffec9,#fffec9,#fffec9,#fffec9,#fffec9,#fffec9,#fffec9,#fffec9,#fffec9,#fffec8,#fffec8,#fffec8,#fffec8,#fffec8,#fffdc8,#fffdc8,#fffdc8,#fffdc8,#fffdc8,#fffdc8,#fffdc7,#fffdc7,#fffdc7,#fffdc7)"></div><div style="top:368px;height:0.9px;background:linear-gradient(90deg,#ffffcc,#ffffcc,#ffffcc,#ffffcc,#ffffcc,#ffffcb,#ffffcb,#ffffcb,#ffffcb,#ffffcb,#ffffcb,#ffffcb,#fffecb,#fffeca,#fffeca,#fffeca,#fffeca,#fffeca,#fffeca,#fffeca,#fffeca,#fffeca,#fffeca,#fffeca,#fffeca,#fffec9,#fffec9,#fffec9,#fffec9,#fffec9,#fffec9,#fffec9,#fffec9,#fffec9,#fffec9,#fffec8,#fffec8,#fffec8,#fffec8,#fffec8,#fffdc8,#fffdc8,#fffdc8,#fffdc8,#fffdc8,#fffdc7,#fffdc7)"></div></div>
<div class="hm" style="left:1288.50px;top:78.40px;width:344.40px;height:368.40px"><div style="top:0px;height:2.5px;background:linear-gradient(90deg,#dec7b2,#ecd1be,#f2d8c9,#f4ddd1,#f6e1d8,#f8e5dd,#f8e7e0,#f8e7e0,#f8e5dd,#f6e1d7,#f4ddd1,#f2d9ca,#efd3c1,#e7cdba,#dfc8b3,#d8c3ae,#d5c0ab,#d3bfa9,#d1bea8,#d0bda7,#cfbda6,#cebca5,#cdbba4,#cab9a2,#c4b59d,#b5ad99,#a3a798,#8ea099,#7d9a9e,#7096a0,#6a92a1,#658fa2,#5f8ca2,#5a89a2,#5787a2,#5586a2,#5485a3,#5485a3,#5887a2,#5c8aa2,#618da2,#6590a2,#6b93a1,#7196a0,#79999e,#889e9b,#a0a698)"></div><div style="top:2px;height:2.5px;background:linear-gradient(90deg,#dfc8b3,#edd2bf,#f2d9ca,#f4ded2,#f6e2d8,#f8e5de,#f9e7e1,#f9e7e1,#f8e5de,#f6e2d8,#f4ded2,#f2dacb,#efd4c1,#e8ceba,#e0c8b4,#d9c3ae,#d5c1ab,#d3bfa9,#d2bea8,#d1bea7,#d0bda7,#cfbca6,#cdbba5,#cbb9a3,#c5b59e,#b6ae99,#a3a798,#8fa099,#7d9a9d,#7096a0,#6a92a1,#658fa2,#608ca2,#5a89a2,#5787a2,#5686a2,#5585a2,#5586a2,#5888a2,#5d8aa2,#618da2,#6690a1,#6b93a1,#7196a0,#79999e,#889e9b,#a1a698)"></div><div style="top:4px;height:2.5px;background:linear-gradient(90deg,#e1c9b4,#efd3c0,#f3dacc,#f5dfd4,#f7e3da,#f8e6df,#f9e7e2,#f9e7e2,#f8e6df,#f7e3da,#f5ded3,#f2dacc,#f0d4c2,#e8ceba,#e0c9b4,#d9c4ae,#d6c1ab,#d4c0aa,#d2bfa9,#d2bea8,#d1bea7,#d0bda7,#cebca5,#ccbaa4,#c6b69f,#b7ae99,#a4a898,#8fa099,#7d9a9d,#7196a0,#6a93a1,#658fa2,#608ca2,#5b89a2,#5888a2,#5787a2,#5686a2,#5686a2,#5988a2,#5d8ba2,#618da2,#6690a1,#6c93a1,#7196a0,#7a999e,#889e9b,#a2a798)"></div><div style="top:6px;height:2.5px;background:linear-gradient(90deg,#e2cab6,#f0d4c2,#f3dcce,#f5e0d5,#f7e3db,#f8e6df,#f9e8e2,#f9e8e3,#f8e7e0,#f7e3db,#f5dfd4,#f3dbcc,#f0d5c3,#e9cebb,#e1c9b4,#dac4af,#d6c1ac,#d4c0aa,#d3bfa9,#d2bfa9,#d2bea8,#d1bea7,#cfbda6,#cdbba5,#c8b7a0,#b8af99,#a5a898,#90a099,#7e9a9d,#7196a0,#6a93a1,#6590a2,#618da2,#5c8aa2,#5988a2,#5787a2,#5686a2,#5787a2,#5a88a2,#5d8ba2,#618da2,#6690a1,#6c94a1,#7296a0,#7a999e,#889e9b,#a3a798)"></div><div style="top:8px;height:2.5px;background:linear-gradient(90deg,#e4cbb7,#f0d5c4,#f4ddd0,#f6e1d7,#f7e4dc,#f9e7e0,#f9e8e3,#f9e9e3,#f9e7e1,#f7e4dc,#f5e0d5,#f3dbcd,#f0d5c3,#e9cfbb,#e1c9b5,#dac4af,#d7c2ac,#d5c1ab,#d4c0aa,#d3bfa9,#d2bfa9,#d2bea8,#d0bda7,#cebca5,#c9b8a1,#b9af99,#a5a898,#90a199,#7e9a9d,#7196a0,#6a93a1,#6690a1,#618da2,#5d8aa2,#5a89a2,#5888a2,#5787a2,#5887a2,#5a89a2,#5e8ba2,#628da2,#6791a1,#6c94a1,#7296a0,#7a999e,#889e9b,#a4a898)"></div><div style="top:10px;height:2.5px;background:linear-gradient(90deg,#e5ccb8,#f1d6c6,#f4ded2,#f6e2d8,#f8e5dd,#f9e7e1,#fae9e4,#fae9e4,#f9e8e3,#f8e5dd,#f5e0d6,#f3dbce,#f0d5c4,#e9cfbb,#e1c9b5,#dac4af,#d7c2ad,#d5c1ab,#d4c0aa,#d4c0aa,#d3bfa9,#d2bfa9,#d1bea8,#cfbda6,#cab9a2,#baaf99,#a6a898,#90a199,#7e9b9d,#7296a0,#6b93a1,#6690a1,#618da2,#5d8ba2,#5b89a2,#5988a2,#5888a2,#5888a2,#5b89a2,#5e8ba2,#628ea2,#6791a1,#6d94a1,#7296a0,#7a999e,#889e9b,#a5a898)"></div><div style="top:12px;height:2.5px;background:linear-gradient(90deg,#e7cdb9,#f1d7c7,#f5dfd3,#f6e2d9,#f8e5de,#f9e8e2,#fae9e5,#faeae5,#f9e9e4,#f8e5de,#f6e1d7,#f3dccf,#f0d6c4,#eacfbc,#e2cab5,#dbc5af,#d7c2ad,#d6c1ac,#d5c1ab,#d4c0aa,#d4c0aa,#d3bfa9,#d2bfa9,#d0bda7,#cbbaa3,#bbb099,#a7a998,#91a199,#7e9b9d,#7296a0,#6b93a1,#6690a1,#628ea2,#5e8ba2,#5c8aa2,#5a89a2,#5988a2,#5988a2,#5b8aa2,#5e8ba2,#628ea2,#6791a1,#6d94a1,#7296a0,#7a999e,#889e9b,#a5a898)"></div><div style="top:14px;height:2.5px;background:linear-gradient(90deg,#e8ceba,#f2d9c9,#f5e0d5,#f7e3db,#f8e6df,#f9e8e3,#faeae5,#faeae6,#fae9e5,#f8e6df,#f6e1d8,#f3dccf,#f0d6c5,#ead0bc,#e2cab5,#dbc5b0,#d8c3ad,#d6c2ac,#d6c1ab,#d5c1ab,#d5c0ab,#d4c0aa,#d3bfa9,#d1bea8,#ccbaa4,#bcb099,#a8a998,#91a199,#7f9b9d,#7296a0,#6b93a1,#6690a1,#628ea2,#5f8ca2,#5c8aa2,#5b89a2,#5a88a2,#5a89a2,#5c8aa2,#5f8ca2,#628ea2,#6891a1,#6d94a1,#7297a0,#7a999e,#889e9b,#a6a898)"></div><div style="top:16px;height:2.5px;background:linear-gradient(90deg,#e9cfbc,#f2dacb,#f6e1d7,#f7e4dc,#f8e7e0,#f9e9e4,#faeae6,#faeae7,#faeae6,#f9e7e0,#f6e2d8,#f4ddd0,#f1d6c5,#ead0bc,#e2cab6,#dbc5b0,#d8c3ad,#d7c2ac,#d6c1ac,#d6c1ab,#d5c1ab,#d5c0ab,#d4c0aa,#d2bfa9,#cdbba5,#bdb099,#a8a998,#91a199,#7f9b9d,#7297a0,#6b93a1,#6690a1,#638ea2,#5f8ca2,#5d8aa2,#5b89a2,#5a89a2,#5b89a2,#5c8aa2,#5f8ca2,#628ea2,#6891a1,#6d95a1,#7397a0,#7a999e,#889e9b,#a6a898)"></div><div style="top:18px;height:2.5px;background:linear-gradient(90deg,#ebd0bd,#f3dbcc,#f6e2d8,#f8e5dd,#f9e7e1,#fae9e4,#faeae6,#fbebe7,#faeae7,#f9e7e1,#f6e2d9,#f4ddd0,#f1d6c5,#ebd0bc,#e2cab6,#dbc5b0,#d9c3ae,#d7c2ad,#d7c2ac,#d6c1ac,#d6c1ac,#d5c1ab,#d5c0aa,#d3bfa9,#cebca5,#beb199,#a9a998,#92a199,#7f9b9d,#7397a0,#6b93a1,#6790a1,#638ea2,#608ca2,#5d8ba2,#5c8aa2,#5b89a2,#5b89a2,#5d8aa2,#5f8ca2,#638ea2,#6891a1,#6d95a1,#7397a0,#7a999e,#889e9b,#a6a898)"></div><div style="top:20px;height:2.5px;background:linear-gradient(90deg,#ecd1be,#f3dbce,#f7e3da,#f8e5de,#f9e8e2,#faeae5,#faebe7,#fbebe8,#fbebe7,#f9e8e2,#f7e3da,#f4ddd1,#f1d7c6,#ebd0bd,#e3cab6,#dcc5b0,#d9c3ae,#d8c2ad,#d7c2ad,#d7c2ac,#d6c2ac,#d6c1ac,#d5c1ab,#d4c0aa,#cfbca6,#beb199,#a9a998,#92a199,#7f9b9d,#7397a0,#6b93a1,#6790a1,#638ea2,#608da2,#5e8ba2,#5c8aa2,#5c8aa2,#5c8aa2,#5d8ba2,#5f8ca2,#638ea2,#6891a1,#6d95a1,#7397a0,#7a999e,#899e9b,#a7a998)"></div><div style="top:22px;height:2.5px;background:linear-gradient(90deg,#eed2bf,#f4dccf,#f7e3db,#f8e6df,#f9e8e3,#faeae6,#fbebe8,#fbece8,#fbebe8,#f9e8e3,#f7e3da,#f4ddd1,#f1d7c6,#ebd0bd,#e3cab6,#dcc5b0,#d9c3ae,#d8c3ad,#d7c2ad,#d7c2ad,#d7c2ac,#d6c2ac,#d6c1ab,#d5c0ab,#d0bda7,#bfb199,#aaaa99,#92a198,#809b9d,#7397a0,#6c94a1,#6791a1,#648fa2,#618da2,#5e8ba2,#5d8aa2,#5c8aa2,#5c8aa2,#5d8ba2,#5f8ca2,#638ea2,#6891a1,#6e95a1,#7397a0,#7a999e,#899e9b,#a7a998)"></div><div style="top:24px;height:2.5px;background:linear-gradient(90deg,#efd3c0,#f4ddd1,#f7e4dc,#f9e7e0,#f9e9e4,#faeae6,#fbebe8,#fbece9,#fbece9,#f9e9e3,#f7e3db,#f4ded1,#f1d7c6,#ebd0bd,#e3cab6,#dcc5b0,#d9c4ae,#d8c3ae,#d8c3ad,#d7c2ad,#d7c2ad,#d7c2ac,#d6c1ac,#d5c1ab,#d1bda7,#c0b19a,#aaaa99,#92a198,#809b9d,#7397a0,#6c94a1,#6791a1,#648fa2,#618da2,#5f8ca2,#5d8ba2,#5c8aa2,#5c8aa2,#5e8ba2,#608ca2,#638ea2,#6891a1,#6e95a1,#7397a0,#7a999e,#899e9b,#a7a998)"></div><div style="top:26px;height:2.5px;background:linear-gradient(90deg,#efd4c1,#f4ded2,#f8e5dd,#f9e7e1,#fae9e4,#faebe7,#fbebe8,#fbece9,#fbece9,#fae9e4,#f7e3db,#f4ded2,#f1d7c6,#ebd0bd,#e3cbb6,#dcc6b1,#d9c4ae,#d8c3ae,#d8c3ad,#d8c2ad,#d7c2ad,#d7c2ad,#d7c2ac,#d6c1ab,#d1bea8,#c0b29a,#aaaa99,#92a198,#809b9d,#7397a0,#6c94a1,#6791a1,#648fa2,#618da2,#5f8ca2,#5e8ba2,#5d8aa2,#5d8aa2,#5e8ba2,#608ca2,#638ea2,#6891a1,#6e95a1,#7397a0,#7a999e,#899e9b,#a7a998)"></div><div style="top:28px;height:2.5px;background:linear-gradient(90deg,#f0d5c3,#f5dfd4,#f8e6df,#f9e8e2,#fae9e5,#faebe7,#fbece9,#fbece9,#fbece9,#fae9e4,#f7e4db,#f4ded2,#f1d7c7,#ebd0bd,#e3cbb6,#dcc6b1,#d9c4ae,#d9c3ae,#d8c3ad,#d8c3ad,#d8c2ad,#d7c2ad,#d7c2ac,#d6c1ac,#d1bea8,#c1b29a,#abaa99,#92a198,#809b9d,#7397a0,#6c94a1,#6791a1,#648fa2,#628da2,#5f8ca2,#5e8ba2,#5d8aa2,#5d8aa2,#5e8ba2,#608ca2,#638ea2,#6891a1,#6e95a1,#7397a0,#7a999e,#899e9b,#a7a998)"></div><div style="top:30px;height:2.5px;background:linear-gradient(90deg,#f0d5c4,#f5e0d5,#f8e6e0,#f9e8e3,#faeae5,#fbebe7,#fbece9,#fbecea,#fbecea,#fae9e4,#f7e4db,#f4ded2,#f1d7c7,#ebd1bd,#e3cbb6,#dcc6b1,#d9c4af,#d9c3ae,#d8c3ad,#d8c3ad,#d8c3ad,#d7c2ad,#d7c2ac,#d6c1ac,#d2bea8,#c1b29a,#abaa99,#93a298,#809b9d,#7497a0,#6c94a1,#6791a1,#648fa2,#628da2,#608ca2,#5e8ba2,#5d8ba2,#5d8ba2,#5e8ba2,#608ca2,#638ea2,#6891a1,#6e95a1,#7397a0,#7a999e,#899e9b,#a7a998)"></div><div style="top:32px;height:2.5px;background:linear-gradient(90deg,#f1d6c5,#f5e0d6,#f9e7e1,#f9e9e4,#faeae6,#fbebe8,#fbece9,#fbecea,#fbecea,#fae9e4,#f7e4db,#f4ded2,#f1d7c7,#ecd1bd,#e3cbb6,#dcc6b1,#d9c4af,#d9c3ae,#d8c3ae,#d8c3ad,#d8c3ad,#d7c2ad,#d7c2ac,#d6c1ac,#d2bea8,#c1b29a,#abaa99,#93a298,#809b9d,#7497a0,#6c94a1,#6791a1,#648fa2,#628da2,#608ca2,#5e8ba2,#5d8ba2,#5d8ba2,#5e8ba2,#608ca2,#638ea2,#6891a1,#6e95a1,#7397a0,#7a999e,#899e9b,#a7a998)"></div><div style="top:34px;height:2.5px;background:linear-gradient(90deg,#f1d7c7,#f6e1d7,#f9e7e1,#fae9e4,#faeae6,#fbebe8,#fbece9,#fbecea,#fbecea,#fae9e4,#f7e4db,#f4ded2,#f1d7c7,#ebd0bd,#e3cbb6,#dcc6b1,#d9c4ae,#d9c3ae,#d8c3ad,#d8c3ad,#d8c3ad,#d7c2ad,#d7c2ac,#d6c1ac,#d2bea8,#c1b29a,#abaa99,#93a298,#809b9d,#7497a0,#6c94a1,#6791a1,#648fa2,#628da2,#608ca2,#5e8ba2,#5d8ba2,#5d8ba2,#5e8ba2,#608ca2,#638ea2,#6891a1,#6d95a1,#7397a0,#7a999e,#889e9b,#a7a998)"></div><div style="top:36px;height:2.5px;background:linear-gradient(90deg,#f1d8c8,#f6e2d8,#f9e8e2,#fae9e5,#faeae7,#fbebe8,#fbece9,#fbecea,#fbecea,#fae9e4,#f7e4db,#f4ded2,#f1d7c6,#ebd0bd,#e3cab6,#dcc5b0,#d9c4ae,#d9c3ae,#d8c3ad,#d8c3ad,#d8c2ad,#d7c2ad,#d7c2ac,#d6c1ac,#d2bea8,#c1b29a,#abaa99,#93a298,#809b9d,#7497a0,#6c94a1,#6791a1,#648fa2,#628da2,#5f8ca2,#5e8ba2,#5d8aa2,#5d8aa2,#5e8ba2,#608ca2,#638ea2,#6891a1,#6d95a1,#7296a0,#79999e,#889e9b,#a6a898)"></div><div style="top:38px;height:2.5px;background:linear-gradient(90deg,#f2d9c9,#f6e2d9,#f9e8e3,#faeae5,#faebe7,#fbebe8,#fbece9,#fbecea,#fbecea,#fae9e4,#f7e3db,#f4ded2,#f1d7c6,#ebd0bd,#e3cab6,#dbc5b0,#d9c3ae,#d8c3ae,#d8c3ad,#d8c2ad,#d8c2ad,#d7c2ad,#d7c2ac,#d6c1ac,#d2bea8,#c1b29a,#abaa99,#93a298,#809b9d,#7497a0,#6c94a1,#6791a1,#648fa2,#628da2,#5f8ca2,#5e8ba2,#5d8aa2,#5d8aa2,#5e8ba2,#608ca2,#638ea2,#6891a1,#6d94a1,#7296a0,#79999e,#879e9b,#a5a898)"></div><div style="top:40px;height:2.5px;background:linear-gradient(90deg,#f2dacb,#f7e3da,#f9e9e4,#faeae6,#fbebe7,#fbece8,#fbece9,#fbecea,#fbecea,#fae9e4,#f7e3db,#f4ded1,#f1d7c6,#ebd0bd,#e2cab6,#dbc5b0,#d9c3ae,#d8c3ad,#d8c3ad,#d8c2ad,#d7c2ad,#d7c2ad,#d7c2ac,#d6c1ac,#d2bea8,#c1b29a,#abaa99,#93a298,#809b9d,#7497a0,#6c94a1,#6791a1,#648fa2,#628da2,#5f8ca2,#5e8ba2,#5d8aa2,#5d8aa2,#5e8ba2,#5f8ca2,#628ea2,#6791a1,#6c94a1,#7196a0,#79999f,#879d9b,#a3a798)"></div><div style="top:42px;height:2.5px;background:linear-gradient(90deg,#f3dacc,#f7e3db,#fae9e4,#faeae6,#fbebe7,#fbece9,#fbece9,#fbecea,#fbecea,#fae9e4,#f7e3db,#f4ddd1,#f1d6c6,#ebd0bd,#e2cab6,#dbc5b0,#d8c3ae,#d8c3ad,#d8c2ad,#d7c2ad,#d7c2ad,#d7c2ad,#d7c2ac,#d6c1ac,#d2bea8,#c1b29a,#abaa99,#93a298,#809b9d,#7497a0,#6c94a1,#6791a1,#648fa2,#618da2,#5f8ca2,#5d8ba2,#5c8aa2,#5c8aa2,#5d8ba2,#5f8ca2,#628ea2,#6790a1,#6c94a1,#7196a0,#78989f,#869d9b,#a1a798)"></div><div style="top:44px;height:2.5px;background:linear-gradient(90deg,#f3dbcd,#f7e4dc,#fae9e5,#faeae6,#fbebe8,#fbece9,#fbece9,#fbecea,#fbecea,#fae9e4,#f7e3da,#f4ddd1,#f1d6c5,#ead0bc,#e2cab5,#dac4af,#d8c3ad,#d8c2ad,#d7c2ad,#d7c2ad,#d7c2ad,#d7c2ac,#d7c2ac,#d6c1ac,#d2bea8,#c1b29a,#abaa99,#93a298,#809b9d,#7497a0,#6c94a1,#6791a1,#648fa2,#618da2,#5f8ca2,#5d8ba2,#5c8aa2,#5c8aa2,#5d8ba2,#5f8ca2,#628da2,#6690a1,#6b93a1,#7096a1,#77989f,#859d9c,#9fa698)"></div><div style="top:46px;height:2.5px;background:linear-gradient(90deg,#f3dccf,#f8e5dd,#faeae6,#faebe7,#fbebe8,#fbece9,#fbece9,#fbecea,#fbecea,#fae9e4,#f7e3da,#f4ddd0,#f0d6c5,#ead0bc,#e2c9b5,#dac4af,#d8c2ad,#d7c2ad,#d7c2ad,#d7c2ac,#d7c2ac,#d7c2ac,#d7c2ac,#d6c1ac,#d2bea8,#c1b29a,#abaa99,#93a298,#809b9d,#7497a0,#6c94a1,#6791a1,#648fa2,#618da2,#5f8ca2,#5d8aa2,#5c8aa2,#5c8aa2,#5d8ba2,#5f8ca2,#618da2,#6690a1,#6a93a1,#6f95a1,#76989f,#849c9c,#9da598)"></div><div style="top:48px;height:2.5px;background:linear-gradient(90deg,#f4ddd0,#f8e5de,#faeae6,#fbebe7,#fbebe8,#fbece9,#fbece9,#fbecea,#fbecea,#fae9e4,#f7e3da,#f4ddd0,#f0d6c5,#eacfbc,#e1c9b5,#d9c4ae,#d7c2ad,#d7c2ac,#d7c2ac,#d7c2ac,#d7c2ac,#d7c2ac,#d6c2ac,#d6c1ac,#d2bea8,#c1b29a,#abaa99,#93a298,#809b9d,#7497a0,#6c94a1,#6791a1,#648fa2,#618da2,#5f8ca2,#5d8aa2,#5b8aa2,#5b8aa2,#5d8aa2,#5f8ba2,#618da2,#658fa2,#6992a1,#6e95a1,#76989f,#839c9c,#9aa498)"></div><div style="top:50px;height:2.5px;background:linear-gradient(90deg,#f4ddd1,#f8e6df,#faebe7,#fbebe8,#fbece8,#fbece9,#fbece9,#fbecea,#fbecea,#fae9e4,#f6e2d9,#f4dcd0,#f0d6c4,#e9cfbb,#e1c9b4,#d9c3ae,#d7c2ac,#d7c2ac,#d7c2ac,#d6c2ac,#d6c2ac,#d6c2ac,#d6c2ac,#d6c1ac,#d2bea8,#c1b29a,#abaa99,#93a298,#809b9d,#7497a0,#6c94a1,#6791a1,#648fa2,#618da2,#5e8ba2,#5c8aa2,#5b89a2,#5b89a2,#5c8aa2,#5e8ba2,#618da2,#648fa2,#6992a1,#6e95a1,#75979f,#829c9c,#98a398)"></div><div style="top:52px;height:2.5px;background:linear-gradient(90deg,#f4ded2,#f8e6df,#fbebe7,#fbebe8,#fbece9,#fbece9,#fbece9,#fbecea,#fbecea,#f9e9e4,#f6e2d9,#f3dccf,#f0d5c4,#e9cfbb,#e0c9b4,#d9c3ae,#d7c2ac,#d6c2ac,#d6c1ac,#d6c1ac,#d6c1ac,#d6c1ac,#d6c1ac,#d6c1ac,#d2bea8,#c1b29a,#abaa99,#93a298,#809b9d,#7497a0,#6c94a1,#6791a1,#648fa2,#618da2,#5e8ba2,#5c8aa2,#5b89a2,#5b89a2,#5c8aa2,#5e8ba2,#608da2,#648fa2,#6891a1,#6d94a1,#7497a0,#809b9d,#95a298)"></div><div style="top:54px;height:2.5px;background:linear-gradient(90deg,#f5dfd3,#f8e7e0,#fbebe8,#fbece8,#fbece9,#fbece9,#fbecea,#fbecea,#fbecea,#f9e9e4,#f6e2d9,#f3dccf,#f0d5c3,#e9cebb,#e0c8b4,#d8c3ad,#d6c1ac,#d6c1ac,#d6c1ac,#d6c1ac,#d6c1ac,#d6c1ac,#d6c1ac,#d6c1ac,#d2bea8,#c1b29a,#abaa99,#93a298,#809b9d,#7497a0,#6c94a1,#6791a1,#648fa2,#618da2,#5e8ba2,#5c8aa2,#5b89a2,#5b89a2,#5c8aa2,#5e8ba2,#608ca2,#638ea2,#6791a1,#6c94a1,#7397a0,#7f9b9d,#92a198)"></div><div style="top:56px;height:2.5px;background:linear-gradient(90deg,#f5dfd4,#f9e7e1,#fbece8,#fbece9,#fbece9,#fbece9,#fbecea,#fbecea,#fbecea,#f9e8e3,#f6e2d8,#f3dcce,#f0d5c3,#e8cebb,#e0c8b3,#d8c3ad,#d6c1ac,#d6c1ac,#d6c1ac,#d6c1ac,#d6c1ac,#d6c1ac,#d6c1ac,#d6c1ab,#d2bea8,#c1b29a,#abaa99,#93a298,#809b9d,#7497a0,#6c94a1,#6791a1,#648fa2,#618da2,#5e8ba2,#5c8aa2,#5a89a2,#5a89a2,#5c8aa2,#5d8ba2,#608ca2,#628ea2,#6690a1,#6b93a1,#7296a0,#7e9a9d,#90a199)"></div><div style="top:58px;height:2.5px;background:linear-gradient(90deg,#f5e0d5,#f9e7e2,#fbece9,#fbece9,#fbece9,#fbece9,#fbecea,#fbecea,#fbecea,#f9e8e3,#f6e2d8,#f3dbce,#f0d5c3,#e8ceba,#dfc8b3,#d8c2ad,#d6c1ac,#d6c1ab,#d6c1ab,#d6c1ab,#d6c1ab,#d6c1ac,#d6c1ac,#d6c1ab,#d2bea8,#c1b29a,#abaa99,#93a298,#809b9d,#7497a0,#6c94a1,#6791a1,#648fa2,#618da2,#5e8ba2,#5c8aa2,#5a89a2,#5a89a2,#5c8aa2,#5d8ba2,#5f8ca2,#628ea2,#6590a2,#6a93a1,#7196a0,#7d9a9e,#8ea099)"></div><div style="top:60px;height:2.5px;background:linear-gradient(90deg,#f6e1d6,#f9e8e2,#fbece9,#fbece9,#fbece9,#fbecea,#fbecea,#fbecea,#fbecea,#f9e8e3,#f6e1d8,#f3dbcd,#f0d4c2,#e8ceba,#dfc8b3,#d7c2ad,#d6c1ab,#d6c1ab,#d6c1ab,#d6c1ab,#d6c1ab,#d6c1ab,#d6c1ab,#d6c1ab,#d2bea8,#c1b29a,#abaa99,#93a298,#809b9d,#7497a0,#6c94a1,#6791a1,#648fa2,#618da2,#5e8ba2,#5b8aa2,#5a89a2,#5a89a2,#5b89a2,#5d8ba2,#5f8ca2,#618da2,#658fa2,#6a92a1,#7196a0,#7c9a9e,#8c9f9a)"></div><div style="top:62px;height:2.5px;background:linear-gradient(90deg,#f6e1d7,#f9e8e3,#fbecea,#fbecea,#fbecea,#fbecea,#fbecea,#fbecea,#fbecea,#f9e8e3,#f6e1d8,#f3dbcd,#f0d4c2,#e7ceba,#dfc7b3,#d7c2ad,#d6c1ab,#d6c1ab,#d6c1ab,#d6c1ab,#d6c1ab,#d6c1ab,#d6c1ab,#d6c1ab,#d2bea8,#c1b29a,#abaa99,#93a298,#809b9d,#7497a0,#6c94a1,#6791a1,#648fa2,#608da2,#5e8ba2,#5b89a2,#5a89a2,#5a89a2,#5b89a2,#5d8aa2,#5f8ba2,#618da2,#648fa2,#6992a1,#7096a1,#7b999e,#8a9f9a)"></div><div style="top:64px;height:2.5px;background:linear-gradient(90deg,#f6e2d8,#f9e9e4,#fbedea,#fbedea,#fbedea,#fbedea,#fbecea,#fbecea,#fbecea,#f9e8e3,#f6e1d7,#f3dbcd,#efd4c2,#e7cdb9,#dec7b2,#d7c2ad,#d6c1ab,#d6c1ab,#d6c1ab,#d6c1ab,#d6c1ab,#d5c1ab,#d5c1ab,#d5c1ab,#d2bea8,#c1b29a,#abaa99,#93a298,#809b9d,#7497a0,#6c94a1,#6791a1,#648fa2,#608da2,#5d8ba2,#5b89a2,#5a89a2,#5a89a2,#5b89a2,#5d8aa2,#5e8ba2,#618da2,#648fa2,#6892a1,#6f95a1,#7a999e,#899e9b)"></div><div style="top:66px;height:2.5px;background:linear-gradient(90deg,#f6e2d9,#fae9e4,#fcedeb,#fcedeb,#fbedea,#fbedea,#fbedea,#fbedea,#fbece9,#f9e8e2,#f6e1d7,#f3dbcc,#efd4c1,#e7cdb9,#dec7b2,#d7c2ad,#d6c1ab,#d6c1ab,#d6c1ab,#d6c1ab,#d6c1ab,#d5c1ab,#d5c1ab,#d5c1ab,#d2bea8,#c1b29a,#abaa99,#93a298,#809b9d,#7497a0,#6c94a1,#6791a1,#648fa2,#608ca2,#5d8ba2,#5b89a2,#5a89a2,#5a89a2,#5b89a2,#5c8aa2,#5e8ba2,#608ca2,#638ea2,#6891a1,#6e95a1,#79999f,#879e9b)"></div><div style="top:68px;height:2.5px;background:linear-gradient(90deg,#f7e3da,#fae9e5,#fcedeb,#fcedeb,#fcedeb,#fcedeb,#fcedeb,#fbedea,#fbece9,#f9e8e2,#f6e1d7,#f3dacc,#efd4c1,#e6cdb9,#dec7b2,#d7c2ad,#d6c1ac,#d6c1ab,#d6c1ab,#d6c1ab,#d5c1ab,#d5c1ab,#d5c1ab,#d5c1ab,#d2bea8,#c1b29a,#abaa99,#93a298,#809b9d,#7497a0,#6c94a1,#6791a1,#638ea2,#608ca2,#5d8ba2,#5b89a2,#5a89a2,#5a89a2,#5b89a2,#5c8aa2,#5e8ba2,#608ca2,#628ea2,#6791a1,#6e95a1,#77989f,#859d9c)"></div><div style="top:70px;height:2.5px;background:linear-gradient(90deg,#f7e3db,#faeae6,#fcedec,#fcedeb,#fcedeb,#fcedeb,#fcedeb,#fbedea,#fbece9,#f9e7e1,#f6e1d6,#f2dacc,#efd3c1,#e6cdb9,#ddc7b2,#d8c2ad,#d6c1ac,#d6c1ac,#d6c1ab,#d6c1ab,#d5c1ab,#d5c1ab,#d5c1ab,#d5c0ab,#d2bea8,#c1b29a,#abaa99,#93a298,#809b9d,#7397a0,#6c94a1,#6791a1,#638ea2,#608ca2,#5d8ba2,#5b89a2,#5a89a2,#5a89a2,#5b89a2,#5c8aa2,#5d8ba2,#5f8ca2,#628da2,#6690a1,#6d94a1,#76989f,#839c9c)"></div><div style="top:72px;height:2.5px;background:linear-gradient(90deg,#f7e4dc,#faeae6,#fceeec,#fceeec,#fceeec,#fcedec,#fcedeb,#fcedeb,#fbece9,#f9e7e1,#f5e0d6,#f2dacb,#efd3c0,#e6ccb8,#ddc6b1,#d8c3ad,#d6c1ac,#d6c1ac,#d6c1ab,#d6c1ab,#d5c1ab,#d5c1ab,#d5c1ab,#d4c0aa,#d1bea8,#c1b29a,#abaa99,#93a298,#809b9d,#7397a0,#6c94a1,#6790a1,#638ea2,#608ca2,#5d8ba2,#5b89a2,#5a89a2,#5a89a2,#5b89a2,#5c8aa2,#5d8ba2,#5f8ca2,#618da2,#6690a1,#6c94a1,#75979f,#819c9c)"></div><div style="top:74px;height:2.5px;background:linear-gradient(90deg,#f7e4dd,#faebe7,#fceeec,#fceeec,#fceeec,#fceeec,#fceeec,#fcedeb,#fbece8,#f8e7e0,#f5e0d6,#f2dacb,#efd3c0,#e5ccb8,#ddc6b1,#d8c3ad,#d6c2ac,#d6c1ac,#d6c1ac,#d6c1ab,#d5c1ab,#d5c1ab,#d5c0ab,#d4c0aa,#d1bea8,#c1b29a,#abaa99,#93a298,#809b9d,#7397a0,#6c94a1,#6690a1,#638ea2,#608ca2,#5d8ba2,#5b89a2,#5a89a2,#5a89a2,#5b89a2,#5c8aa2,#5d8aa2,#5e8ba2,#608da2,#658fa2,#6b93a1,#7397a0,#7f9b9d)"></div><div style="top:76px;height:2.5px;background:linear-gradient(90deg,#f8e5de,#fbebe7,#fceeed,#fceeed,#fceeed,#fceeec,#fceeec,#fcedeb,#fbebe8,#f8e6e0,#f5e0d5,#f2d9cb,#efd3c0,#e5ccb8,#ddc6b1,#d8c3ad,#d7c2ac,#d6c1ac,#d6c1ac,#d6c1ab,#d5c1ab,#d5c1ab,#d5c0ab,#d4c0aa,#d1bda7,#c1b29a,#abaa99,#93a298,#809b9d,#7397a0,#6b93a1,#6690a1,#638ea2,#608ca2,#5d8ba2,#5b89a2,#5a89a2,#5a89a2,#5b89a2,#5c8aa2,#5d8aa2,#5e8ba2,#608ca2,#648fa2,#6a93a1,#7296a0,#7d9a9d)"></div><div style="top:78px;height:2.5px;background:linear-gradient(90deg,#f8e5de,#fbebe8,#fceeed,#fceeed,#fceeed,#fceeed,#fceeed,#fceeec,#fbebe8,#f8e6df,#f5e0d5,#f2d9ca,#efd3c0,#e5ccb8,#dcc6b1,#d8c3ad,#d7c2ac,#d6c1ac,#d6c1ac,#d6c1ab,#d5c1ab,#d5c1ab,#d4c0aa,#d3bfaa,#d0bda7,#c1b29a,#abaa99,#93a298,#809b9d,#7397a0,#6b93a1,#6690a1,#628ea2,#5f8ca2,#5d8aa2,#5b89a2,#5a89a2,#5a89a2,#5b89a2,#5c8aa2,#5c8aa2,#5d8ba2,#5f8ca2,#638ea2,#6a92a1,#7196a0,#7b9a9e)"></div><div style="top:80px;height:2.5px;background:linear-gradient(90deg,#f8e6df,#fbece8,#fcefee,#fcefee,#fcefed,#fcefed,#fceeed,#fceeec,#fbebe7,#f8e6df,#f5e0d5,#f2d9ca,#eed3bf,#e4cbb7,#dcc6b1,#d8c3ae,#d7c2ac,#d6c2ac,#d6c1ac,#d6c1ab,#d5c1ab,#d5c1ab,#d4c0aa,#d3bfa9,#d0bda7,#c1b29a,#abaa99,#93a298,#809b9d,#7397a0,#6b93a1,#6590a2,#628ea2,#5f8ca2,#5d8aa2,#5b89a2,#5a89a2,#5a89a2,#5b89a2,#5b8aa2,#5c8aa2,#5d8ba2,#5f8ca2,#638ea2,#6992a1,#7096a1,#7a999e)"></div><div style="top:82px;height:2.5px;background:linear-gradient(90deg,#f8e6e0,#fbece9,#fcefee,#fcefee,#fcefee,#fcefee,#fcefee,#fceeed,#faebe7,#f8e5de,#f5dfd4,#f2d9c9,#eed2bf,#e4cbb7,#dcc5b0,#d8c3ae,#d7c2ad,#d6c2ac,#d6c1ac,#d6c1ab,#d5c1ab,#d5c1ab,#d4c0aa,#d3bfa9,#cfbda6,#c1b29a,#abaa99,#93a298,#809b9d,#7397a0,#6b93a1,#6590a2,#628ea2,#5f8ca2,#5d8aa2,#5b89a2,#5a89a2,#5a89a2,#5b89a2,#5b89a2,#5c8aa2,#5d8aa2,#5e8ba2,#628ea2,#6891a1,#6f95a1,#78999f)"></div><div style="top:84px;height:2.5px;background:linear-gradient(90deg,#f8e6e0,#fbece9,#fdefee,#fdefee,#fdefee,#fdefee,#fdefee,#fceeed,#faebe7,#f8e5de,#f5dfd4,#f2d9c9,#eed2bf,#e4cbb7,#dcc5b0,#d9c3ae,#d7c2ad,#d7c2ac,#d6c1ac,#d6c1ab,#d5c1ab,#d5c0ab,#d4c0aa,#d3bfa9,#cfbca6,#c1b29a,#abaa99,#93a298,#809b9d,#7397a0,#6b93a1,#658fa2,#628da2,#5f8ca2,#5d8aa2,#5b89a2,#5a89a2,#5a89a2,#5a89a2,#5b89a2,#5c8aa2,#5d8aa2,#5e8ba2,#628ea2,#6891a1,#6e95a1,#77989f)"></div><div style="top:86px;height:2.5px;background:linear-gradient(90deg,#f9e7e0,#fbece9,#fdefee,#fdefee,#fdefee,#fdefee,#fdefee,#fceeed,#faeae7,#f8e5dd,#f5dfd4,#f2d8c9,#eed2bf,#e3cbb7,#dbc5b0,#d9c3ae,#d7c2ad,#d7c2ac,#d6c1ac,#d6c1ab,#d5c1ab,#d5c0ab,#d4c0aa,#d2bfa9,#cfbca6,#c1b29a,#abaa99,#93a298,#809b9d,#7397a0,#6a93a1,#658fa2,#618da2,#5f8ca2,#5d8aa2,#5b89a2,#5a89a2,#5a89a2,#5a89a2,#5b89a2,#5c8aa2,#5c8aa2,#5e8ba2,#628da2,#6791a1,#6e95a1,#77989f)"></div><div style="top:88px;height:2.5px;background:linear-gradient(90deg,#f9e7e1,#fbece9,#fdefee,#fdefee,#fdefee,#fdefee,#fdefee,#fcefed,#faeae6,#f8e5dd,#f5dfd4,#f1d8c8,#edd2bf,#e3cbb6,#dbc5b0,#d9c3ae,#d7c2ad,#d7c2ac,#d6c1ac,#d6c1ab,#d5c1ab,#d5c0ab,#d4c0aa,#d2bfa9,#cebca5,#c1b29a,#abaa99,#93a298,#809b9d,#7397a0,#6a93a1,#648fa2,#618da2,#5f8ca2,#5c8aa2,#5b89a2,#5a89a2,#5a89a2,#5a89a2,#5b89a2,#5b8aa2,#5c8aa2,#5d8ba2,#618da2,#6791a1,#6e95a1,#76989f)"></div><div style="top:90px;height:2.5px;background:linear-gradient(90deg,#f9e7e1,#fbece9,#fdefee,#fdefee,#fdefee,#fdefee,#fdefee,#fcefed,#faeae6,#f8e5dd,#f5dfd3,#f1d8c8,#edd2be,#e3cab6,#dbc5b0,#d9c3ae,#d7c2ad,#d7c2ac,#d6c1ac,#d6c1ab,#d5c1ab,#d5c0ab,#d4c0aa,#d2bfa9,#cebca5,#c1b29a,#abaa99,#93a298,#809b9d,#7397a0,#6a93a1,#648fa2,#618da2,#5e8ba2,#5c8aa2,#5b89a2,#5a89a2,#5a89a2,#5a89a2,#5b89a2,#5b89a2,#5c8aa2,#5d8ba2,#618da2,#6791a1,#6d95a1,#76989f)"></div><div style="top:92px;height:2.5px;background:linear-gradient(90deg,#f9e7e0,#fbece9,#fdefee,#fdefee,#fdefee,#fdefee,#fdefee,#fcefee,#faeae7,#f8e5dd,#f5dfd3,#f1d8c8,#edd1be,#e2cab6,#dbc5b0,#d9c3ae,#d7c2ad,#d7c2ac,#d6c1ac,#d6c1ab,#d5c1ab,#d5c0ab,#d4c0aa,#d2bfa9,#cebba5,#c0b29a,#aaaa99,#92a198,#809b9d,#7397a0,#6a92a1,#648fa2,#618da2,#5e8ba2,#5c8aa2,#5b89a2,#5a89a2,#5a89a2,#5a89a2,#5a89a2,#5b89a2,#5c8aa2,#5e8ba2,#628da2,#6791a1,#6e95a1,#76989f)"></div><div style="top:94px;height:2.5px;background:linear-gradient(90deg,#f8e6e0,#fbece9,#fdefee,#fdefee,#fdefee,#fdefee,#fdefee,#fcefee,#faeae7,#f8e5dd,#f5dfd3,#f1d8c8,#ecd1be,#e2cab6,#dbc5b0,#d9c3ae,#d7c2ad,#d7c2ac,#d6c1ac,#d6c1ab,#d5c1ab,#d5c0aa,#d4c0aa,#d2bfa9,#cdbba5,#c0b199,#aaaa99,#92a198,#809b9d,#7397a0,#6a92a1,#648fa2,#618da2,#5e8ba2,#5c8aa2,#5a89a2,#5a88a2,#5a88a2,#5a88a2,#5a89a2,#5b89a2,#5c8aa2,#5e8ba2,#628da2,#6891a1,#6e95a1,#78989f)"></div><div style="top:96px;height:2.5px;background:linear-gradient(90deg,#f8e6df,#fbece8,#fdefee,#fdefee,#fdefee,#fdefee,#fdefee,#fcefee,#faebe7,#f8e5dd,#f5ded3,#f1d7c7,#ecd1bd,#e2cab5,#dbc5b0,#d9c3ae,#d7c2ad,#d6c2ac,#d6c1ac,#d6c1ab,#d5c1ab,#d4c0aa,#d3bfaa,#d2bfa9,#cdbba4,#bfb199,#a9a998,#92a199,#7f9b9d,#7297a0,#6992a1,#648fa2,#608da2,#5e8ba2,#5c8aa2,#5a89a2,#5988a2,#5988a2,#5988a2,#5a89a2,#5b89a2,#5c8aa2,#5e8ba2,#628ea2,#6891a1,#6f95a1,#79999e)"></div><div style="top:98px;height:2.5px;background:linear-gradient(90deg,#f8e5de,#fbebe8,#fcefee,#fdefee,#fdefee,#fdefee,#fdefee,#fcefee,#faebe7,#f8e5dd,#f5ded3,#f1d7c7,#ebd0bd,#e1c9b5,#dbc5af,#d8c3ae,#d7c2ad,#d6c2ac,#d6c1ac,#d5c1ab,#d5c1ab,#d4c0aa,#d3bfaa,#d2bea8,#ccbba4,#bdb099,#a8a998,#91a199,#7f9b9d,#7296a0,#6992a1,#638ea2,#608ca2,#5d8ba2,#5b8aa2,#5a89a2,#5988a2,#5988a2,#5988a2,#5a88a2,#5b89a2,#5d8aa2,#5f8ba2,#638ea2,#6992a1,#7096a0,#7b999e)"></div><div style="top:100px;height:2.5px;background:linear-gradient(90deg,#f7e4dd,#fbebe7,#fcefed,#fcefee,#fdefee,#fdefee,#fdefee,#fcefee,#fbebe7,#f8e5dd,#f4ded3,#f1d7c7,#ebd0bd,#e1c9b5,#dbc4af,#d8c3ae,#d7c2ac,#d6c1ac,#d6c1ab,#d5c1ab,#d5c0ab,#d4c0aa,#d3bfa9,#d2bea8,#ccbaa4,#bcb099,#a7a998,#90a199,#7e9b9d,#7296a0,#6992a1,#638ea2,#608ca2,#5d8ba2,#5b89a2,#5988a2,#5888a2,#5888a2,#5988a2,#5988a2,#5b89a2,#5d8aa2,#5f8ca2,#638ea2,#6a92a1,#7296a0,#7d9a9d)"></div><div style="top:102px;height:2.5px;background:linear-gradient(90deg,#f7e3db,#faeae6,#fceeed,#fcefed,#fcefee,#fdefee,#fdefee,#fdefee,#fbebe8,#f8e5dd,#f4ded2,#f1d7c6,#ebd0bc,#e1c9b4,#dac4af,#d8c3ad,#d7c2ac,#d6c1ac,#d6c1ab,#d5c1ab,#d5c0ab,#d4c0aa,#d3bfa9,#d2bea8,#ccbaa3,#baaf99,#a6a898,#8fa099,#7e9a9d,#7196a0,#6992a1,#638ea2,#608ca2,#5d8aa2,#5b89a2,#5988a2,#5887a2,#5887a2,#5888a2,#5988a2,#5b89a2,#5d8ba2,#608ca2,#648fa2,#6a93a1,#7397a0,#809b9d)"></div><div style="top:104px;height:2.5px;background:linear-gradient(90deg,#f7e3da,#faeae6,#fceeed,#fceeed,#fcefee,#fdefee,#fdefee,#fdefee,#fbebe8,#f8e5dd,#f4ded2,#f1d7c6,#ead0bc,#e0c9b4,#dac4af,#d8c3ad,#d7c2ac,#d6c1ac,#d5c1ab,#d5c1ab,#d5c0ab,#d4c0aa,#d3bfa9,#d2bea8,#cbbaa3,#b9af99,#a5a898,#8ea099,#7d9a9d,#7196a0,#6992a1,#638ea2,#5f8ca2,#5d8aa2,#5a89a2,#5888a2,#5787a2,#5787a2,#5887a2,#5988a2,#5b89a2,#5d8ba2,#608ca2,#658fa2,#6b93a1,#75979f,#839c9c)"></div><div style="top:106px;height:2.5px;background:linear-gradient(90deg,#f6e2d8,#fae9e5,#fceeec,#fceeed,#fcefee,#fdefee,#fdefee,#fdefee,#fbebe8,#f8e5dd,#f4ded2,#f1d7c6,#eacfbc,#e0c8b4,#dac4af,#d8c3ad,#d6c2ac,#d6c1ab,#d5c1ab,#d5c0ab,#d4c0aa,#d4c0aa,#d3bfa9,#d2bea8,#cbb9a2,#b7ae99,#a3a798,#8da09a,#7c9a9e,#7096a0,#6891a1,#638ea2,#5f8ca2,#5c8aa2,#5a89a2,#5887a2,#5686a2,#5686a2,#5787a2,#5988a2,#5b89a2,#5e8ba2,#618da2,#6690a1,#6c94a1,#76989f,#869d9b)"></div><div style="top:108px;height:2.5px;background:linear-gradient(90deg,#f6e1d6,#fae9e4,#fceeec,#fceeed,#fcefed,#fdefee,#fdefee,#fdefee,#fbece9,#f8e5dd,#f4ded2,#f1d6c6,#e9cfbb,#e0c8b4,#dac4af,#d8c2ad,#d6c1ac,#d5c1ab,#d5c1ab,#d5c0ab,#d4c0aa,#d4c0aa,#d3bfa9,#d2bea8,#cab9a2,#b5ae99,#a2a798,#8c9f9a,#7b9a9e,#7096a1,#6891a1,#638ea2,#5f8ca2,#5c8aa2,#5a88a2,#5787a2,#5686a2,#5686a2,#5787a2,#5888a2,#5b89a2,#5e8ba2,#618da2,#6690a1,#6d95a1,#78989f,#899e9b)"></div><div style="top:110px;height:2.5px;background:linear-gradient(90deg,#f5e0d5,#f9e8e3,#fcedeb,#fceeec,#fcefed,#fcefee,#fdefee,#fdefee,#fbece9,#f8e5dd,#f4ded2,#f1d6c5,#e9cfbb,#e0c8b3,#dac4af,#d7c2ad,#d6c1ac,#d5c1ab,#d5c0ab,#d5c0aa,#d4c0aa,#d4c0aa,#d3bfa9,#d2bea8,#cab9a2,#b3ad99,#a0a698,#8b9f9a,#7b999e,#6f95a1,#6891a1,#638ea2,#5f8ca2,#5c8aa2,#5988a2,#5787a2,#5586a2,#5586a2,#5686a2,#5888a2,#5b89a2,#5e8ba2,#628ea2,#6791a1,#6e95a1,#7a999e,#8b9f9a)"></div><div style="top:112px;height:2.5px;background:linear-gradient(90deg,#f5dfd3,#f9e8e2,#fcedeb,#fceeec,#fceeed,#fcefee,#fdefee,#fdefee,#fbece9,#f8e5dd,#f4ded2,#f1d6c5,#e9cebb,#dfc8b3,#dac4af,#d7c2ad,#d6c1ac,#d5c1ab,#d5c0ab,#d4c0aa,#d4c0aa,#d4c0aa,#d3bfa9,#d2bea8,#c9b8a1,#b2ac99,#9fa698,#8a9f9a,#7a999e,#6f95a1,#6891a1,#628ea2,#5f8ba2,#5b89a2,#5988a2,#5686a2,#5485a3,#5485a3,#5686a2,#5887a2,#5b89a2,#5e8ba2,#638ea2,#6891a1,#6f95a1,#7b9a9e,#8ea099)"></div><div style="top:114px;height:2.5px;background:linear-gradient(90deg,#f4ded2,#f9e7e1,#fcedeb,#fceeec,#fceeed,#fcefee,#fdefee,#fdefee,#fbecea,#f8e5dd,#f4ded2,#f0d6c5,#e8cebb,#dfc8b3,#dac4af,#d7c2ad,#d6c1ab,#d5c1ab,#d4c0aa,#d4c0aa,#d4c0aa,#d4c0aa,#d3bfa9,#d2bea8,#c9b8a1,#b0ac99,#9ea598,#8a9e9a,#79999e,#6e95a1,#6791a1,#628ea2,#5e8ba2,#5b89a2,#5888a2,#5686a2,#5485a3,#5485a3,#5586a2,#5887a2,#5b89a2,#5e8ba2,#638ea2,#6992a1,#7096a1,#7d9a9d,#91a199)"></div><div style="top:116px;height:2.5px;background:linear-gradient(90deg,#f4ddd1,#f9e7e1,#fbedea,#fceeec,#fceeed,#fcefee,#fdefee,#fdefee,#fbecea,#f8e5de,#f4ded2,#f0d6c5,#e8ceba,#dfc8b3,#dac4af,#d7c2ac,#d6c1ab,#d5c0ab,#d4c0aa,#d4c0aa,#d4c0aa,#d3bfaa,#d3bfa9,#d2bea8,#c9b8a1,#afab99,#9da598,#899e9b,#79999e,#6e95a1,#6791a1,#628ea2,#5e8ba2,#5b89a2,#5887a2,#5586a2,#5384a3,#5384a3,#5585a2,#5787a2,#5a89a2,#5f8ca2,#648fa2,#6992a1,#7196a0,#7e9a9d,#93a298)"></div><div style="top:118px;height:2.5px;background:linear-gradient(90deg,#f4ddd0,#f8e6e0,#fbedea,#fceeec,#fceeed,#fcefee,#fdefee,#fdefee,#fbedea,#f8e5de,#f4ded1,#f0d6c5,#e8ceba,#dfc7b3,#dac4af,#d7c2ac,#d5c1ab,#d5c0ab,#d4c0aa,#d4c0aa,#d4c0aa,#d3bfaa,#d3bfa9,#d2bea8,#c8b8a1,#aeab99,#9ca598,#889e9b,#78999f,#6d95a1,#6791a1,#628ea2,#5e8ba2,#5a89a2,#5887a2,#5585a2,#5284a3,#5284a3,#5485a3,#5787a2,#5a89a2,#5f8ca2,#648fa2,#6a92a1,#7296a0,#7f9b9d,#95a298)"></div><div style="top:120px;height:2.5px;background:linear-gradient(90deg,#f3dccf,#f8e6e0,#fbecea,#fcedeb,#fceeed,#fcefee,#fdefee,#fdefee,#fbedea,#f8e5de,#f4ded1,#f0d6c5,#e8ceba,#dfc7b3,#dac4af,#d7c2ac,#d5c1ab,#d5c0ab,#d4c0aa,#d4c0aa,#d4c0aa,#d3bfaa,#d3bfa9,#d2bea8,#c8b7a0,#adab99,#9ba598,#889e9b,#78989f,#6d95a1,#6791a1,#628da2,#5e8ba2,#5a89a2,#5787a2,#5485a3,#5284a3,#5284a3,#5485a3,#5787a2,#5a89a2,#5f8ca2,#648fa2,#6a93a1,#7296a0,#809b9d,#97a398)"></div><div style="top:122px;height:2.5px;background:linear-gradient(90deg,#f3dcce,#f8e6df,#fbecea,#fcedeb,#fceeed,#fcefee,#fdefee,#fdefee,#fbedea,#f8e5de,#f4ded1,#f0d6c5,#e7ceba,#dec7b3,#dac4af,#d7c2ac,#d5c1ab,#d5c0aa,#d4c0aa,#d4c0aa,#d4c0aa,#d3bfaa,#d3bfa9,#d2bea8,#c8b7a0,#acaa99,#9ba498,#879e9b,#78989f,#6d94a1,#6790a1,#628da2,#5d8ba2,#5a89a2,#5787a2,#5485a3,#5183a3,#5183a3,#5485a3,#5787a2,#5a89a2,#5f8ca2,#658fa2,#6a93a1,#7297a0,#809b9d,#98a398)"></div><div style="top:124px;height:2.5px;background:linear-gradient(90deg,#f3dcce,#f8e6df,#fbecea,#fcedeb,#fceeed,#fcefee,#fdefee,#fdefee,#fbedea,#f8e5de,#f4ded1,#f0d6c5,#e7ceba,#dec7b3,#dac4af,#d7c2ac,#d5c1ab,#d4c0aa,#d4c0aa,#d4c0aa,#d4c0aa,#d3bfaa,#d3bfa9,#d2bea8,#c8b7a0,#acaa99,#9ba498,#879e9b,#78989f,#6d94a1,#6690a1,#618da2,#5d8ba2,#5a88a2,#5787a2,#5485a3,#5183a3,#5183a3,#5385a3,#5686a2,#5a89a2,#5f8ca2,#658fa2,#6a93a1,#7397a0,#819b9d,#98a398)"></div><div style="top:126px;height:2.5px;background:linear-gradient(90deg,#f3dcce,#f8e6df,#fbecea,#fcedeb,#fceeed,#fcefee,#fdefee,#fdefee,#fbedea,#f8e5de,#f4ddd1,#f0d6c5,#e7ceba,#dec7b3,#dac4af,#d7c2ac,#d5c1ab,#d5c0ab,#d4c0aa,#d4c0aa,#d4c0aa,#d3bfaa,#d3bfa9,#d2bea8,#c8b7a0,#acaa99,#9ba498,#879e9b,#78989f,#6d94a1,#6690a1,#618da2,#5d8aa2,#5988a2,#5686a2,#5384a3,#5183a3,#5183a3,#5384a3,#5686a2,#5a89a2,#5f8ca2,#658fa2,#6a93a1,#7397a0,#819b9d,#98a398)"></div><div style="top:128px;height:2.5px;background:linear-gradient(90deg,#f3dcce,#f8e6df,#fbecea,#fcedeb,#fceeed,#fcefee,#fdefee,#fdefee,#fbedea,#f8e5de,#f4ddd1,#f0d6c5,#e8ceba,#dfc7b3,#dac4af,#d7c2ac,#d6c1ab,#d5c0ab,#d4c0aa,#d4c0aa,#d4c0aa,#d4c0aa,#d3bfa9,#d2bea8,#c7b7a0,#acaa99,#9ba498,#879e9b,#78989f,#6d94a1,#6690a1,#618da2,#5d8aa2,#5988a2,#5686a2,#5384a3,#5183a3,#5183a3,#5384a3,#5686a2,#5a89a2,#5f8ca2,#658fa2,#6a93a1,#7297a0,#819b9d,#98a398)"></div><div style="top:130px;height:2.5px;background:linear-gradient(90deg,#f3dcce,#f8e6df,#fbecea,#fcedeb,#fceeed,#fcefee,#fdefee,#fdefee,#fbedea,#f8e5de,#f4ddd1,#f0d6c5,#e8ceba,#dfc8b3,#dac4af,#d7c2ad,#d6c1ac,#d5c1ab,#d5c0ab,#d5c0ab,#d4c0aa,#d4c0aa,#d3c0aa,#d2bfa8,#c7b7a0,#acaa99,#9ba498,#879e9b,#78989f,#6d94a1,#6690a1,#618da2,#5d8aa2,#5988a2,#5686a2,#5384a3,#5083a3,#5083a3,#5384a3,#5686a2,#5a89a2,#5f8ca2,#648fa2,#6a93a1,#7296a0,#809b9d,#98a398)"></div><div style="top:132px;height:2.5px;background:linear-gradient(90deg,#f3dcce,#f8e6df,#fbecea,#fcedeb,#fceeed,#fcefee,#fdefee,#fdefee,#fbedea,#f8e5de,#f4ddd1,#f0d6c5,#e8ceba,#dfc8b3,#dbc5af,#d8c2ad,#d6c1ac,#d6c1ab,#d5c1ab,#d5c1ab,#d5c1ab,#d5c0ab,#d4c0aa,#d2bfa9,#c7b7a0,#acaa99,#9ba498,#879e9b,#78989f,#6d94a1,#6690a1,#618da2,#5c8aa2,#5988a2,#5686a2,#5384a3,#5083a3,#5083a3,#5284a3,#5686a2,#5a88a2,#5f8ca2,#648fa2,#6a93a1,#7296a0,#809b9d,#98a398)"></div><div style="top:134px;height:2.5px;background:linear-gradient(90deg,#f3dcce,#f8e6df,#fbecea,#fcedeb,#fceeed,#fcefee,#fdefee,#fdefee,#fbedea,#f8e5de,#f4ddd1,#f0d6c5,#e8ceba,#dfc8b3,#dbc5b0,#d8c3ad,#d7c2ac,#d6c1ac,#d6c1ac,#d6c1ab,#d6c1ab,#d6c1ab,#d5c0ab,#d2bfa9,#c7b79f,#acaa99,#9ba498,#879e9b,#78989f,#6d94a1,#6690a1,#618da2,#5c8aa2,#5988a2,#5686a2,#5384a3,#5083a3,#5082a3,#5284a3,#5686a2,#5a88a2,#5f8ca2,#648fa2,#6a93a1,#7296a0,#809b9d,#97a398)"></div><div style="top:136px;height:2.5px;background:linear-gradient(90deg,#f3dcce,#f8e6df,#fbecea,#fcedeb,#fceeed,#fcefee,#fdefee,#fdefee,#fbedea,#f8e5de,#f4ddd1,#f0d6c5,#e8ceba,#e0c8b4,#dcc5b0,#d9c3ae,#d7c2ad,#d7c2ac,#d7c2ac,#d6c2ac,#d6c2ac,#d6c2ac,#d5c1ab,#d3bfa9,#c7b79f,#acaa99,#9ba498,#879e9b,#78989f,#6d94a1,#6690a1,#608da2,#5c8aa2,#5988a2,#5686a2,#5284a3,#5082a3,#5082a3,#5284a3,#5586a2,#5988a2,#5e8ba2,#648fa2,#6a92a1,#7296a0,#809b9d,#97a398)"></div><div style="top:138px;height:2.5px;background:linear-gradient(90deg,#f3dcce,#f8e6df,#fbecea,#fcedeb,#fceeed,#fcefee,#fdefee,#fdefee,#fbedea,#f8e5de,#f4ddd1,#f0d6c5,#e8cebb,#e0c9b4,#dcc6b1,#d9c4ae,#d8c3ad,#d8c2ad,#d7c2ad,#d7c2ad,#d7c2ad,#d7c2ad,#d6c1ac,#d3bfa9,#c7b69f,#acaa99,#9ba498,#879e9b,#78989f,#6d94a1,#6690a1,#608da2,#5c8aa2,#5888a2,#5586a2,#5284a3,#5082a3,#5082a3,#5284a3,#5586a2,#5988a2,#5e8ba2,#648fa2,#6a92a1,#7296a0,#809b9d,#97a398)"></div><div style="top:140px;height:2.5px;background:linear-gradient(90deg,#f3dcce,#f8e6df,#fbecea,#fcedeb,#fceeed,#fcefee,#fdefee,#fdefee,#fbedea,#f8e5de,#f4ddd1,#f0d6c5,#e8cebb,#e1c9b4,#ddc6b1,#dac4af,#d9c3ae,#d8c3ae,#d8c3ad,#d8c3ad,#d8c3ad,#d8c3ad,#d7c2ac,#d3bfa9,#c7b69f,#acaa99,#9ba498,#879e9b,#78989f,#6d94a1,#6690a1,#608ca2,#5c8aa2,#5888a2,#5586a2,#5284a3,#5082a3,#5082a3,#5284a3,#5586a2,#5988a2,#5e8ba2,#648fa2,#6992a1,#7196a0,#7f9b9d,#97a398)"></div><div style="top:142px;height:2.5px;background:linear-gradient(90deg,#f3dcce,#f8e6df,#fbecea,#fcedeb,#fceeed,#fcefee,#fdefee,#fdefee,#fbedea,#f8e5de,#f4ddd1,#f0d6c5,#e9cebb,#e1c9b5,#ddc6b1,#dbc5af,#dac4af,#d9c4ae,#d9c3ae,#d9c3ae,#d9c3ae,#d9c4ae,#d8c2ad,#d3bfaa,#c7b69f,#acaa99,#9ba498,#879e9b,#78989f,#6d94a1,#6690a1,#608ca2,#5c8aa2,#5887a2,#5586a2,#5284a3,#5082a3,#4f82a3,#5284a3,#5586a2,#5988a2,#5e8ba2,#638ea2,#6992a1,#7196a0,#7f9b9d,#96a398)"></div><div style="top:144px;height:2.5px;background:linear-gradient(90deg,#f3dcce,#f8e6df,#fbecea,#fcedeb,#fceeed,#fcefee,#fdefee,#fdefee,#fbedea,#f8e5de,#f4ddd1,#f0d6c5,#e9cfbb,#e1c9b5,#dec7b2,#dbc5b0,#dac4af,#dac4af,#dac4af,#dac4af,#dac4af,#dac4af,#d8c3ae,#d4c0aa,#c6b69f,#acaa99,#9ba498,#879e9b,#78989f,#6d94a1,#6590a2,#608ca2,#5b89a2,#5887a2,#5585a2,#5284a3,#4f82a3,#4f82a3,#5283a3,#5585a2,#5988a2,#5e8ba2,#638ea2,#6992a1,#7196a0,#7f9b9d,#96a398)"></div><div style="top:146px;height:2.5px;background:linear-gradient(90deg,#f3dcce,#f8e6df,#fbecea,#fcedeb,#fceeed,#fcefee,#fdefee,#fdefee,#fbedea,#f8e5de,#f4ddd1,#f0d6c5,#e9cfbb,#e2cab5,#dec7b2,#dcc5b1,#dbc5b0,#dbc5b0,#dbc5af,#dbc5af,#dbc5b0,#dbc5b0,#d9c3ae,#d4c0aa,#c6b69f,#acaa99,#9ba498,#879e9b,#78989f,#6d94a1,#6590a2,#608ca2,#5b89a2,#5887a2,#5585a2,#5283a3,#4f82a3,#4f82a3,#5183a3,#5585a2,#5888a2,#5d8ba2,#638ea2,#6992a1,#7096a0,#7e9b9d,#96a398)"></div><div style="top:148px;height:2.5px;background:linear-gradient(90deg,#f3dcce,#f8e6df,#fbecea,#fcedeb,#fceeed,#fcefee,#fdefee,#fdefee,#fbedea,#f8e5de,#f4ddd1,#f0d6c5,#e9cfbb,#e2cab6,#dfc7b3,#ddc6b1,#dcc5b0,#dcc5b0,#dcc5b0,#dcc5b0,#dcc5b0,#dcc5b0,#dac4af,#d4c0aa,#c6b69f,#acaa99,#9ba498,#879e9b,#78989f,#6d94a1,#6590a2,#5f8ca2,#5b89a2,#5787a2,#5585a2,#5183a3,#4f82a3,#4f82a3,#5183a3,#5485a3,#5887a2,#5d8ba2,#638ea2,#6892a1,#7096a0,#7e9b9d,#95a298)"></div><div style="top:150px;height:2.5px;background:linear-gradient(90deg,#f3dcce,#f8e6df,#fbecea,#fcedeb,#fceeed,#fcefee,#fdefee,#fdefee,#fbedea,#f8e5de,#f4ddd1,#f0d6c5,#e9cfbb,#e2cab6,#dfc8b3,#ddc6b2,#ddc6b1,#dcc6b1,#dcc6b1,#dcc6b1,#dcc6b1,#ddc6b1,#dac4af,#d5c0ab,#c6b69f,#acaa99,#9ba498,#879e9b,#78989f,#6d94a1,#6590a2,#5f8ca2,#5b89a2,#5787a2,#5485a3,#5183a3,#4f82a3,#4f82a3,#5183a3,#5485a3,#5887a2,#5d8aa2,#628ea2,#6891a1,#7096a1,#7e9a9d,#95a298)"></div><div style="top:152px;height:2.5px;background:linear-gradient(90deg,#f3dcce,#f8e6df,#fbecea,#fcedeb,#fceeed,#fcefee,#fdefee,#fdefee,#fbedea,#f8e5de,#f4ddd1,#f0d6c5,#e9cfbb,#e3cab6,#e0c8b4,#dec7b2,#ddc6b2,#ddc6b2,#ddc6b2,#ddc6b2,#ddc6b2,#ddc7b2,#dbc5b0,#d5c1ab,#c6b69f,#acaa99,#9ba498,#879e9b,#78989f,#6d94a1,#658fa2,#5f8ca2,#5a89a2,#5787a2,#5485a3,#5183a3,#4f82a3,#4e82a3,#5183a3,#5485a3,#5887a2,#5c8aa2,#628ea2,#6891a1,#7096a1,#7e9a9d,#95a298)"></div><div style="top:154px;height:2.5px;background:linear-gradient(90deg,#f3dcce,#f8e6df,#fbecea,#fcedeb,#fceeed,#fcefee,#fdefee,#fdefee,#fbedea,#f8e5de,#f4ddd1,#f0d6c5,#e9cfbb,#e3cab6,#e0c8b4,#dec7b2,#dec7b2,#dec7b2,#dec7b2,#dec7b2,#dec7b2,#dec7b2,#dbc5b0,#d5c1ab,#c6b69f,#acaa99,#9ba498,#879e9b,#78989f,#6d94a1,#658fa2,#5f8ca2,#5a89a2,#5787a2,#5485a3,#5183a3,#4e81a3,#4e81a3,#5083a3,#5485a3,#5787a2,#5c8aa2,#628da2,#6791a1,#6f95a1,#7d9a9d,#94a298)"></div><div style="top:156px;height:2.5px;background:linear-gradient(90deg,#f3dcce,#f8e6df,#fbecea,#fcedeb,#fceeed,#fcefee,#fdefee,#fdefee,#fbedea,#f8e5de,#f4ddd1,#f0d6c5,#e9cfbb,#e3cab6,#e0c9b4,#dfc8b3,#dfc7b3,#dfc7b3,#dfc7b3,#dfc7b3,#dfc7b3,#dec7b3,#dcc5b0,#d5c1ab,#c6b69f,#acaa99,#9ba498,#879e9b,#78989f,#6d94a1,#658fa2,#5e8ba2,#5a89a2,#5686a2,#5385a3,#5083a3,#4e81a3,#4e81a3,#5082a3,#5384a3,#5787a2,#5c8aa2,#618da2,#6791a1,#6f95a1,#7d9a9d,#94a298)"></div><div style="top:158px;height:2.5px;background:linear-gradient(90deg,#f3dcce,#f8e6df,#fbecea,#fcedeb,#fceeed,#fcefee,#fdefee,#fdefee,#fbedea,#f8e5dd,#f4ddd1,#f0d6c5,#e9cfbb,#e3cab6,#e1c9b4,#dfc8b3,#dfc8b3,#dfc8b3,#dfc8b3,#dfc8b3,#dfc8b3,#dfc8b3,#dcc6b1,#d6c1ab,#c6b69f,#acaa99,#9ba498,#879e9b,#78989f,#6c94a1,#648fa2,#5e8ba2,#5988a2,#5686a2,#5384a3,#5082a3,#4d81a3,#4d81a3,#4f82a3,#5384a3,#5686a2,#5b89a2,#618da2,#6791a1,#6f95a1,#7d9a9d,#93a298)"></div><div style="top:160px;height:2.5px;background:linear-gradient(90deg,#f3dcce,#f8e6df,#fbecea,#fcedeb,#fceeed,#fcefee,#fdefee,#fdefee,#fbedea,#f8e5dd,#f4ddd1,#f0d6c5,#e9cfbb,#e3cab6,#e1c9b5,#e0c8b4,#e0c8b4,#e0c8b4,#e0c9b4,#e0c9b4,#e0c8b4,#dfc8b3,#dcc6b1,#d6c1ac,#c7b79f,#adab99,#9ba498,#879e9b,#77989f,#6c94a1,#648fa2,#5e8ba2,#5988a2,#5586a2,#5284a3,#4f82a3,#4c80a3,#4c80a3,#4f82a3,#5284a3,#5586a2,#5a89a2,#608ca2,#6690a1,#6e95a1,#7d9a9e,#93a298)"></div><div style="top:162px;height:2.5px;background:linear-gradient(90deg,#f3dcce,#f8e6df,#fbecea,#fcedeb,#fceeed,#fcefee,#fdefee,#fdefee,#fbedea,#f8e5dd,#f4ddd1,#f0d6c5,#e9cfbb,#e3cab6,#e1c9b5,#e0c9b4,#e1c9b4,#e1c9b5,#e1c9b5,#e1c9b5,#e1c9b4,#e0c8b4,#ddc6b1,#d6c2ac,#c7b7a0,#adab99,#9ba498,#879e9b,#77989f,#6c94a1,#648fa2,#5d8ba2,#5888a2,#5485a3,#5183a3,#4e81a3,#4c80a3,#4c80a3,#4e81a3,#5183a3,#5485a3,#5988a2,#5f8ca2,#6690a1,#6e95a1,#7c9a9e,#92a198)"></div><div style="top:164px;height:2.5px;background:linear-gradient(90deg,#f3dcce,#f8e6df,#fbecea,#fcedeb,#fceeed,#fcefee,#fdefee,#fdefee,#fbedea,#f7e4dd,#f4ddd0,#f0d6c5,#e9cfbb,#e3cab6,#e2c9b5,#e1c9b5,#e1c9b5,#e2cab5,#e2cab6,#e2cab5,#e1c9b5,#e0c9b4,#ddc6b1,#d7c2ac,#c8b7a0,#adab99,#9ba498,#879d9b,#77989f,#6c94a1,#638ea2,#5d8aa2,#5887a2,#5384a3,#5082a3,#4d80a3,#4b7fa3,#4b7fa3,#4c80a3,#5082a3,#5385a3,#5888a2,#5e8ba2,#6590a2,#6e95a1,#7c9a9e,#91a199)"></div><div style="top:166px;height:2.5px;background:linear-gradient(90deg,#f3dcce,#f8e6df,#fbecea,#fcedeb,#fceeed,#fcefee,#fdefee,#fdefee,#fbecea,#f7e4dc,#f4ddd0,#f0d6c5,#e9cfbb,#e3cab6,#e2cab5,#e2cab5,#e2cab6,#e3cab6,#e3cbb6,#e3cab6,#e2cab6,#e1c9b4,#ddc6b2,#d7c2ad,#c8b8a1,#aeab99,#9ba498,#869d9b,#76989f,#6b93a1,#638ea2,#5c8aa2,#5787a2,#5284a3,#4f82a3,#4c80a3,#4a7ea2,#4a7ea2,#4b7fa3,#4e81a3,#5284a3,#5787a2,#5d8ba2,#658fa2,#6e95a1,#7c9a9e,#91a199)"></div><div style="top:168px;height:2.5px;background:linear-gradient(90deg,#f3dcce,#f8e6df,#fbecea,#fcedeb,#fceeed,#fcefee,#fdefee,#fdefee,#fbecea,#f7e4dc,#f4ddd0,#f0d6c5,#e9cfbb,#e3cab6,#e2cab5,#e2cab6,#e3cab6,#e4cbb7,#e4cbb7,#e4cbb7,#e3cab6,#e1c9b5,#ddc7b2,#d8c2ad,#c9b8a1,#aeab99,#9ba498,#869d9b,#76989f,#6b93a1,#638ea2,#5c8aa2,#5686a2,#5183a3,#4d81a3,#4b7fa3,#497da2,#497da2,#4b7fa3,#4d81a3,#5183a3,#5686a2,#5c8aa2,#648fa2,#6d95a1,#7c9a9e,#90a199)"></div><div style="top:170px;height:2.5px;background:linear-gradient(90deg,#f3dcce,#f8e6df,#fbecea,#fcedeb,#fceeed,#fcefee,#fdefee,#fdefee,#fbecea,#f7e4db,#f4ddd0,#f0d6c5,#e9cfbb,#e3cab6,#e2cab6,#e3cab6,#e3cbb7,#e4cbb7,#e5ccb8,#e5ccb8,#e3cbb7,#e1c9b5,#dec7b2,#d8c3ad,#cab8a2,#aeab99,#9ba498,#869d9b,#75989f,#6b93a1,#628ea2,#5b89a2,#5586a2,#5082a3,#4c80a3,#4a7ea2,#497ca2,#487ca2,#4a7ea2,#4c80a3,#5082a3,#5586a2,#5b89a2,#638ea2,#6d94a1,#7b9a9e,#8fa099)"></div><div style="top:172px;height:2.5px;background:linear-gradient(90deg,#f3dcce,#f8e6df,#fbecea,#fcedeb,#fceeed,#fcefee,#fdefee,#fdefee,#fbecea,#f7e3db,#f4dcd0,#f0d6c5,#e9cfbb,#e3cab6,#e3cab6,#e3cbb6,#e4cbb7,#e5ccb8,#e5ccb8,#e5ccb8,#e4cbb7,#e2cab5,#dec7b2,#d8c3ad,#cab9a2,#afab99,#9ba498,#859d9b,#75979f,#6a93a1,#628ea2,#5b89a2,#5585a2,#4f82a3,#4b7fa3,#497da2,#487ba2,#487ba2,#497da2,#4b7fa3,#4f82a3,#5485a3,#5a89a2,#638ea2,#6d94a1,#7b999e,#8fa099)"></div><div style="top:174px;height:2.5px;background:linear-gradient(90deg,#f3dcce,#f8e6df,#fbecea,#fcedeb,#fceeed,#fcefee,#fdefee,#fdefee,#fbece9,#f7e3da,#f3dccf,#f0d6c5,#e9cfbb,#e3cab6,#e3cab6,#e3cbb7,#e5ccb7,#e6ccb8,#e6cdb9,#e6ccb9,#e4ccb7,#e2cab5,#dec7b2,#d8c3ae,#cbb9a2,#afab99,#9ba498,#859d9c,#75979f,#6a92a1,#628da2,#5a89a2,#5485a3,#4e81a3,#4b7ea3,#487ca2,#477aa2,#477aa2,#487ca2,#4a7ea3,#4e81a3,#5384a3,#5a88a2,#628ea2,#6c94a1,#7b999e,#8ea099)"></div><div style="top:176px;height:2.5px;background:linear-gradient(90deg,#f3dcce,#f8e6df,#fbecea,#fcedeb,#fceeed,#fcefee,#fdefee,#fdefee,#fbece9,#f7e3da,#f3dccf,#f0d6c5,#e9cfbb,#e3cab6,#e3cab6,#e4cbb7,#e5ccb8,#e6cdb9,#e6cdb9,#e6cdb9,#e5ccb8,#e2cab6,#dec7b2,#d9c3ae,#cbb9a3,#afac99,#9ba498,#859d9c,#75979f,#6a92a1,#618da2,#5a89a2,#5384a3,#4d81a3,#4a7ea2,#487ba2,#467aa1,#4679a1,#487ba2,#4a7da2,#4d80a3,#5284a3,#5988a2,#628da2,#6c94a1,#7a999e,#8ea099)"></div><div style="top:178px;height:2.5px;background:linear-gradient(90deg,#f3dcce,#f8e6df,#fbecea,#fcedeb,#fceeed,#fcefee,#fdefee,#fdefee,#fbece9,#f6e2d9,#f3dccf,#f0d6c5,#e9cfbb,#e3cab6,#e3cab6,#e4cbb7,#e5ccb8,#e6cdb9,#e7cdb9,#e6cdb9,#e5ccb8,#e2cab6,#dec7b2,#d9c3ae,#cbbaa3,#b0ac99,#9ba498,#859d9c,#74979f,#6992a1,#618da2,#5988a2,#5384a3,#4c80a3,#497da2,#477ba2,#4679a1,#4679a1,#477aa2,#497da2,#4c80a3,#5284a3,#5988a2,#618da2,#6c93a1,#7a999e,#8da09a)"></div><div style="top:180px;height:2.5px;background:linear-gradient(90deg,#f3dcce,#f8e6df,#fbecea,#fcedeb,#fceeed,#fcefee,#fdefee,#fdefee,#fbece9,#f6e2d9,#f3dcce,#f0d6c5,#e9cfbb,#e3cab6,#e3cab6,#e4cbb7,#e5ccb8,#e6cdb9,#e7cdb9,#e6cdb9,#e5ccb8,#e2cab6,#dec7b2,#d9c3ae,#cbbaa3,#b0ac99,#9ba498,#859d9c,#74979f,#6992a1,#618da2,#5988a2,#5284a3,#4c80a3,#497ca2,#477aa2,#4578a1,#4578a1,#477aa2,#497ca2,#4c7fa3,#5283a3,#5988a2,#618da2,#6b93a1,#7a999e,#8da09a)"></div><div style="top:182px;height:2.5px;background:linear-gradient(90deg,#f3dcce,#f8e6df,#fbecea,#fcedeb,#fceeec,#fcefed,#fcefee,#fdefee,#fbebe8,#f6e2d8,#f3dbce,#f0d6c4,#e8cebb,#e2cab6,#e2cab6,#e3cab6,#e4cbb7,#e5ccb8,#e5ccb8,#e5ccb8,#e4cbb7,#e1c9b5,#ddc6b2,#d8c3ad,#cbb9a3,#afab99,#9ba498,#849d9c,#74979f,#6992a1,#608da2,#5888a2,#5183a3,#4b7fa3,#487ca2,#467aa1,#4578a1,#4578a1,#467aa1,#487ca2,#4b7fa3,#5183a3,#5988a2,#618da2,#6b93a1,#79999e,#8da09a)"></div><div style="top:184px;height:2.5px;background:linear-gradient(90deg,#f3dcce,#f8e6df,#fbecea,#fcedeb,#fceeec,#fceeed,#fceeed,#fcefed,#fbebe7,#f6e1d7,#f3dbcd,#f0d5c4,#e8ceba,#e1c9b5,#e1c9b5,#e1c9b5,#e2c9b5,#e2cab5,#e2cab6,#e2cab5,#e1c9b4,#dfc7b3,#dbc5b0,#d7c2ac,#cab9a2,#aeab99,#9aa498,#849d9c,#74979f,#6992a1,#608ca2,#5887a2,#5183a3,#4b7fa3,#487ca2,#4679a1,#4578a1,#4578a1,#4679a1,#487ca2,#4b7fa3,#5183a3,#5988a2,#618da2,#6a93a1,#79999e,#8da09a)"></div><div style="top:186px;height:2.5px;background:linear-gradient(90deg,#f3dcce,#f8e6e0,#fbecea,#fcedeb,#fcedeb,#fceeec,#fceeec,#fceeec,#faeae7,#f6e1d7,#f3dacc,#f0d5c3,#e7cdba,#e1c9b4,#dfc8b3,#dfc7b3,#dfc8b3,#dfc8b3,#dfc8b3,#dfc7b3,#dec7b2,#dcc5b0,#d9c3ae,#d5c1ab,#c9b8a1,#adab99,#99a498,#849d9c,#75979f,#6992a1,#608ca2,#5887a2,#5183a3,#4b7fa3,#487ba2,#4679a1,#4477a1,#4477a1,#4679a1,#487ba2,#4b7fa3,#5183a3,#5988a2,#608da2,#6a92a1,#78989f,#8da09a)"></div><div style="top:188px;height:2.5px;background:linear-gradient(90deg,#f3dcce,#f8e6e0,#fbecea,#fbedea,#fcedeb,#fcedeb,#fcedeb,#fcedeb,#faeae6,#f5e0d6,#f2dacb,#efd4c2,#e6cdb9,#e0c8b4,#dec7b2,#ddc6b1,#dcc6b1,#dcc5b0,#dcc5b0,#dbc5b0,#dac4af,#d9c3ae,#d7c2ac,#d4c0aa,#c8b8a1,#adab99,#98a398,#849d9c,#75979f,#6992a1,#608ca2,#5787a2,#5083a3,#4b7ea3,#487ba2,#4679a1,#4477a1,#4477a1,#4579a1,#487ba2,#4b7ea3,#5183a3,#5988a2,#608da2,#6992a1,#78989f,#8da09a)"></div><div style="top:190px;height:2.5px;background:linear-gradient(90deg,#f3dcce,#f8e6e0,#fbecea,#fbedea,#fbedea,#fbedea,#fbedea,#fbedea,#fae9e5,#f5e0d5,#f2d9ca,#efd3c1,#e6ccb8,#dfc8b3,#ddc6b1,#dbc5b0,#dac4af,#dac4af,#d9c4ae,#d9c3ae,#d8c3ad,#d7c2ad,#d5c1ab,#d3bfa9,#c8b7a0,#acaa99,#97a398,#849d9c,#75979f,#6992a1,#5f8ca2,#5787a2,#4f82a3,#4a7ea3,#477ba2,#4578a1,#4477a1,#4477a1,#4578a1,#477ba2,#4a7ea3,#5183a3,#5988a2,#608ca2,#6992a1,#77989f,#8da09a)"></div><div style="top:192px;height:2.5px;background:linear-gradient(90deg,#f3dcce,#f8e6e0,#fbecea,#fbecea,#fbecea,#fbecea,#fbecea,#fbecea,#fae9e4,#f5dfd4,#f2d9ca,#efd3c0,#e5ccb8,#dec7b2,#dcc6b1,#dbc5af,#dac4af,#d9c3ae,#d9c3ae,#d8c3ad,#d7c2ad,#d6c2ac,#d5c0ab,#d3bfa9,#c8b7a0,#acaa99,#97a398,#849c9c,#75979f,#6992a1,#5f8ca2,#5686a2,#4f82a3,#4a7da2,#477aa2,#4578a1,#4376a1,#4376a1,#4578a1,#477aa2,#4a7ea2,#5183a3,#5988a2,#608ca2,#6992a1,#77989f,#8da09a)"></div><div style="top:194px;height:2.5px;background:linear-gradient(90deg,#f3dcce,#f8e6e0,#fbecea,#fbece9,#fbece9,#fbece9,#fbece9,#fbece9,#f9e9e4,#f5dfd4,#f2d9c9,#efd3c0,#e5ccb8,#dec7b2,#dcc5b0,#dbc5af,#dac4af,#d9c4ae,#d9c3ae,#d8c3ae,#d8c2ad,#d7c2ac,#d5c1ab,#d3bfa9,#c8b7a0,#acaa99,#97a398,#849c9c,#74979f,#6992a1,#5e8ba2,#5586a2,#4e81a3,#497da2,#4679a1,#4477a1,#4375a0,#4375a0,#4477a1,#4679a1,#4a7da2,#5183a3,#5988a2,#608ca2,#6892a1,#77989f,#8da09a)"></div><div style="top:196px;height:2.5px;background:linear-gradient(90deg,#f3dbce,#f8e6e0,#fbece9,#fbece9,#fbece9,#fbece9,#fbece9,#fbece9,#f9e8e3,#f5dfd3,#f2d8c9,#eed2bf,#e4cbb7,#ddc6b2,#dcc5b0,#dbc5b0,#dac4af,#dac4af,#d9c4ae,#d9c3ae,#d8c3ad,#d7c2ac,#d5c1ab,#d3bfa9,#c8b7a0,#acaa99,#97a398,#839c9c,#7497a0,#6891a1,#5d8ba2,#5485a3,#4d80a3,#487ca2,#4578a1,#4376a1,#4275a0,#4275a0,#4376a1,#4679a1,#497da2,#5083a3,#5888a2,#608ca2,#6891a1,#76989f,#8da09a)"></div><div style="top:198px;height:2.5px;background:linear-gradient(90deg,#f3dbce,#f8e6e0,#fbece9,#fbece9,#fbece8,#fbebe8,#fbebe8,#fbebe8,#f9e8e3,#f5ded3,#f1d8c8,#eed2bf,#e4cbb7,#ddc6b1,#dbc5b0,#dbc5b0,#dac4af,#dac4af,#dac4af,#dac4af,#d9c3ae,#d8c2ad,#d6c1ab,#d3bfa9,#c8b7a0,#acaa99,#97a398,#839c9c,#7497a0,#6791a1,#5c8aa2,#5284a3,#4b7fa3,#477aa2,#4477a1,#4275a0,#4173a0,#4173a0,#4275a0,#4578a1,#497ca2,#5082a3,#5887a2,#5f8ca2,#6891a1,#76989f,#8da09a)"></div><div style="top:200px;height:2.5px;background:linear-gradient(90deg,#f3dbcd,#f8e6e0,#fbece9,#fbebe8,#fbebe8,#fbebe8,#fbebe8,#fbebe8,#f9e8e2,#f4ded2,#f1d8c8,#edd2be,#e3cbb6,#dcc6b1,#dbc5b0,#dbc5b0,#dbc5b0,#dbc5b0,#dbc5b0,#dbc5b0,#dac4af,#d8c3ae,#d6c1ac,#d3bfa9,#c8b7a0,#acaa99,#97a398,#839c9c,#7397a0,#6590a2,#5a89a2,#5183a3,#4a7ea3,#4679a1,#4376a1,#4174a0,#4072a0,#4072a0,#4174a0,#4477a1,#487ca2,#4f82a3,#5887a2,#5f8ca2,#6891a1,#76989f,#8da09a)"></div><div style="top:202px;height:2.5px;background:linear-gradient(90deg,#f3dbcd,#f8e6e0,#fbebe8,#fbebe8,#fbebe7,#fbebe7,#fbebe7,#fbebe7,#f9e7e2,#f4ded2,#f1d7c7,#edd1be,#e2cab6,#dcc5b0,#dbc5b0,#dbc5b0,#dcc5b0,#dcc6b1,#dcc6b1,#dcc5b0,#dbc5b0,#d9c4ae,#d7c2ac,#d3bfa9,#c8b7a0,#acaa99,#97a398,#839c9c,#7296a0,#648fa2,#5887a2,#4f82a3,#497da2,#4477a1,#4274a0,#4072a0,#3f719f,#3f719f,#4073a0,#4376a1,#477ba2,#4e81a3,#5787a2,#5f8ca2,#6891a1,#76989f,#8d9f9a)"></div><div style="top:204px;height:2.5px;background:linear-gradient(90deg,#f3dacc,#f8e6e0,#fbebe8,#faebe7,#faebe7,#faebe7,#faebe7,#faebe7,#f9e7e1,#f4ded1,#f1d7c7,#ecd1be,#e2cab5,#dbc5b0,#dbc5b0,#dcc5b0,#dcc6b1,#ddc6b1,#ddc7b2,#ddc6b1,#dcc6b1,#dac4af,#d7c2ad,#d3bfaa,#c8b7a0,#adab99,#96a398,#829c9c,#7196a0,#628da2,#5686a2,#4d80a3,#487ba2,#4376a1,#4072a0,#3e719f,#3d6f9f,#3d6f9f,#3f719f,#4275a0,#477aa2,#4d81a3,#5686a2,#5f8ca2,#6891a1,#76989f,#8c9f9a)"></div><div style="top:206px;height:2.5px;background:linear-gradient(90deg,#f2dacb,#f8e6e0,#faebe7,#faeae7,#faeae6,#faeae6,#faeae6,#faeae6,#f9e7e1,#f4ddd1,#f1d7c6,#ecd1bd,#e2c9b5,#dbc5b0,#dbc5b0,#dcc5b0,#ddc6b1,#dec7b2,#dfc7b3,#dec7b2,#ddc6b1,#dbc5b0,#d8c3ad,#d4c0aa,#c8b8a0,#adab99,#96a398,#829c9c,#7096a1,#608ca2,#5485a3,#4b7fa3,#4679a1,#4174a0,#3e719f,#3d6f9f,#3c6e9f,#3c6e9f,#3e709f,#4173a0,#4679a1,#4c80a3,#5686a2,#5e8ba2,#6891a1,#76989f,#8c9f9a)"></div><div style="top:208px;height:2.5px;background:linear-gradient(90deg,#f2dacb,#f8e6e0,#faeae6,#faeae6,#faeae6,#faeae6,#faeae6,#faeae6,#f9e7e0,#f4ddd1,#f1d7c6,#ebd1bd,#e1c9b5,#dbc5af,#dbc5b0,#dcc6b1,#dec7b2,#dfc8b3,#e0c8b4,#dfc8b3,#dec7b2,#dcc5b0,#d8c3ae,#d4c0aa,#c8b8a1,#adab99,#96a398,#829c9c,#6f95a1,#5e8ba2,#5183a3,#4a7da2,#4578a1,#4072a0,#3d6f9f,#3b6d9e,#3a6c9e,#3a6c9e,#3c6e9f,#4072a0,#4578a1,#4b7fa3,#5585a2,#5e8ba2,#6891a1,#76989f,#8c9f9a)"></div><div style="top:210px;height:2.5px;background:linear-gradient(90deg,#f2d9ca,#f8e6e0,#faeae6,#faeae6,#faeae6,#faeae6,#faeae6,#faeae6,#f8e6e0,#f4ddd0,#f1d6c6,#ebd0bd,#e1c9b4,#dac4af,#dbc5b0,#dcc6b1,#dec7b2,#e0c8b4,#e1c9b4,#e0c9b4,#dfc8b3,#ddc6b1,#d9c3ae,#d4c0aa,#c8b8a1,#adab99,#96a398,#819c9c,#6d95a1,#5b8aa2,#4f82a3,#487ca2,#4376a1,#3e709f,#3b6d9e,#3a6b9e,#396a9e,#396a9e,#3b6c9e,#3f719f,#4477a1,#4a7ea2,#5485a3,#5e8ba2,#6891a1,#76989f,#8b9f9a)"></div><div style="top:212px;height:2.5px;background:linear-gradient(90deg,#f2d9ca,#f8e6e0,#faeae6,#faeae6,#faeae5,#faeae5,#faeae5,#faeae5,#f8e6e0,#f4ddd0,#f1d6c5,#ebd0bd,#e0c9b4,#dac4af,#dbc5af,#dcc6b1,#dfc7b3,#e1c9b4,#e2cab5,#e1c9b5,#e0c8b4,#ddc6b2,#d9c4ae,#d4c0aa,#c8b8a1,#adab99,#96a398,#819c9c,#6c94a1,#5988a2,#4d80a3,#477aa2,#4274a0,#3c6e9f,#396b9e,#38699e,#37689d,#37689d,#396b9e,#3d6f9f,#4376a1,#497da2,#5384a3,#5d8ba2,#6891a1,#76989f,#8b9f9a)"></div><div style="top:214px;height:2.5px;background:linear-gradient(90deg,#f2d9ca,#f8e6e0,#faeae5,#faeae5,#faeae5,#faeae5,#faeae5,#faeae5,#f8e6e0,#f4ddd0,#f1d6c5,#ebd0bd,#e0c9b4,#dac4af,#dbc5af,#ddc6b1,#dfc8b3,#e1c9b5,#e2cab6,#e2cab5,#e0c9b4,#dec7b2,#dac4af,#d4c0aa,#c9b8a1,#adab99,#96a398,#819b9d,#6b93a1,#5787a2,#4b7fa3,#4578a1,#4072a0,#3b6c9e,#37689d,#36679d,#36669d,#36679d,#38699d,#3c6e9f,#4274a0,#487ca2,#5283a3,#5d8ba2,#6891a1,#75989f,#8a9f9a)"></div><div style="top:216px;height:2.5px;background:linear-gradient(90deg,#f2d9ca,#f8e6e0,#faeae5,#faeae5,#faeae5,#faeae5,#faeae5,#faeae5,#f8e6e0,#f4ddd0,#f1d6c5,#ebd0bd,#e0c9b4,#dac4af,#dbc5af,#ddc6b1,#dfc8b3,#e1c9b5,#e2cab6,#e2cab6,#e1c9b4,#dec7b2,#dac4af,#d4c0aa,#c9b8a1,#aeab99,#96a398,#809b9d,#6992a1,#5586a2,#4a7da2,#4477a1,#3f719f,#396a9e,#36669d,#35659c,#35649c,#35659c,#36679d,#3a6c9e,#4173a0,#477ba2,#5083a3,#5d8aa2,#6891a1,#75979f,#8a9f9a)"></div><div style="top:218px;height:2.5px;background:linear-gradient(90deg,#f2d9ca,#f8e6e0,#faeae5,#faeae5,#faeae5,#faeae5,#faeae5,#faeae5,#f8e6e0,#f4ddd0,#f1d6c5,#ebd0bd,#e0c9b4,#dac4af,#dbc5af,#ddc6b1,#dfc8b3,#e1c9b5,#e2cab6,#e2cab6,#e1c9b4,#dec7b2,#dac4af,#d4c0aa,#c8b8a1,#adab99,#95a398,#7f9b9d,#6891a1,#5385a3,#487ca2,#4275a0,#3d6f9f,#37689d,#35649c,#34639b,#34629a,#34639b,#35659c,#396a9e,#3f72a0,#4679a1,#4f82a3,#5c8aa2,#6791a1,#75979f,#899e9b)"></div><div style="top:220px;height:2.5px;background:linear-gradient(90deg,#f2d9ca,#f8e6e0,#faeae5,#faeae5,#faeae5,#faeae5,#faeae5,#faeae5,#f8e6e0,#f4ddd0,#f1d6c5,#ebd0bd,#e1c9b4,#dac4af,#dbc5af,#dcc6b1,#dfc8b3,#e1c9b5,#e2cab5,#e2cab5,#e0c9b4,#dec7b2,#dac4af,#d4c0aa,#c8b7a0,#adab99,#95a298,#7e9a9d,#6690a1,#5183a3,#477aa2,#4173a0,#3b6d9e,#36669d,#34629a,#33609a,#336099,#336099,#34639b,#37689d,#3e709f,#4477a1,#4d81a3,#5a89a2,#6690a1,#7397a0,#889e9b)"></div><div style="top:222px;height:2.5px;background:linear-gradient(90deg,#f2d9ca,#f8e6e0,#faeae5,#faeae5,#faeae5,#faeae5,#faeae5,#faeae5,#f8e7e0,#f4ddd1,#f1d7c6,#ebd0bd,#e1c9b5,#dbc5af,#dbc5b0,#dcc6b1,#dec7b3,#e0c9b4,#e1c9b5,#e1c9b5,#e0c8b4,#ddc6b1,#d9c4ae,#d3bfa9,#c7b69f,#acaa99,#93a298,#7c9a9e,#648fa2,#4f82a3,#4579a1,#3f71a0,#396b9e,#35649b,#335f99,#325e98,#325d98,#325e98,#336099,#35669c,#3c6d9f,#4275a0,#4b7fa3,#5887a2,#648fa2,#7196a0,#859d9b)"></div><div style="top:224px;height:2.5px;background:linear-gradient(90deg,#f2d9ca,#f8e6e0,#faeae5,#faeae5,#faeae5,#faeae5,#faeae5,#faeae5,#f9e7e1,#f4ded1,#f1d7c6,#ecd1be,#e2cab5,#dbc5b0,#dbc5b0,#dcc6b1,#dec7b2,#e0c8b4,#e1c9b4,#e0c9b4,#dfc8b3,#ddc6b1,#d9c3ae,#d2bfa9,#c5b59e,#abaa99,#92a198,#7a999e,#628da2,#4d81a3,#4477a1,#3e709f,#38699d,#34619a,#315d98,#315b97,#305b97,#315b97,#325d98,#34639b,#396b9e,#4073a0,#497ca2,#5585a2,#618da2,#6e95a1,#829c9c)"></div><div style="top:226px;height:2.5px;background:linear-gradient(90deg,#f2d9ca,#f8e6e0,#faeae5,#faeae5,#faeae5,#faeae5,#faeae5,#faeae5,#f9e7e1,#f4ded2,#f1d7c7,#edd1be,#e3cab6,#dcc5b0,#dbc5b0,#dcc5b0,#ddc7b2,#dfc8b3,#e0c8b4,#dfc8b3,#dec7b2,#dcc5b0,#d8c3ad,#d1bea8,#c3b49c,#a9a998,#90a199,#77989f,#5f8ca2,#4b7fa3,#4375a0,#3c6e9f,#36669d,#325f99,#305a96,#2f5895,#2f5895,#2f5895,#305a96,#336099,#37689d,#3e709f,#4679a1,#5183a3,#5e8ba2,#6b93a1,#7f9b9d)"></div><div style="top:228px;height:2.5px;background:linear-gradient(90deg,#f2d9ca,#f8e6e0,#faeae5,#faeae5,#faeae5,#faeae5,#faeae5,#faeae5,#f9e7e2,#f5dfd3,#f1d8c8,#edd2bf,#e3cbb7,#ddc6b1,#dbc5b0,#dcc5b0,#ddc6b1,#dec7b2,#dfc7b3,#dec7b2,#ddc6b2,#dbc5b0,#d7c2ad,#d0bda7,#c1b29a,#a7a998,#8ea099,#7497a0,#5c8aa2,#4a7ea2,#4174a0,#3a6c9e,#35649b,#315c97,#2f5795,#2e5594,#2e5594,#2e5594,#2f5795,#315c98,#35659c,#3b6d9e,#4476a1,#4d81a3,#5a89a2,#6891a1,#7b999e)"></div><div style="top:230px;height:2.5px;background:linear-gradient(90deg,#f2d9ca,#f8e6e0,#faeae5,#faeae5,#faeae5,#faeae5,#faeae5,#faeae5,#f9e8e2,#f5dfd4,#f2d8c9,#eed2bf,#e4cbb7,#ddc6b2,#dbc5b0,#dbc5b0,#dcc6b1,#ddc6b1,#ddc7b2,#ddc6b2,#dcc6b1,#dac4af,#d7c2ac,#cfbca6,#beb199,#a5a898,#8c9f9a,#7196a0,#5988a2,#487ca2,#4072a0,#386a9e,#33619a,#305a96,#2e5493,#2c5292,#2d5292,#2d5292,#2d5393,#305996,#33619a,#38699e,#4173a0,#4a7ea2,#5686a2,#648fa2,#77989f)"></div><div style="top:232px;height:2.5px;background:linear-gradient(90deg,#f2d9ca,#f8e6e0,#faeae5,#faeae5,#faeae5,#faeae5,#faeae5,#faeae5,#f9e8e3,#f5e0d5,#f2d9c9,#efd3c0,#e5ccb8,#dec7b2,#dbc5b0,#dbc5b0,#dbc5b0,#dcc5b0,#dcc6b1,#dcc5b0,#dbc5b0,#d9c3ae,#d6c1ab,#cdbba5,#bcb099,#a3a798,#899e9a,#6d95a1,#5686a2,#477aa2,#3e709f,#37689d,#325f99,#2f5795,#2c5192,#2b4e90,#2b4f90,#2b4f90,#2c5091,#2e5594,#325d98,#35669c,#3e709f,#477aa2,#5283a3,#5f8ca2,#7296a0)"></div><div style="top:234px;height:2.5px;background:linear-gradient(90deg,#f2d9ca,#f8e6e0,#faeae5,#faeae5,#faeae5,#faeae5,#faeae5,#faeae5,#f9e8e3,#f6e1d6,#f2d9ca,#efd3c0,#e6cdb9,#dfc8b3,#dbc5b0,#dac4af,#dac4af,#dbc5b0,#dbc5b0,#dbc4af,#dac4af,#d8c3ad,#d5c0ab,#ccbaa3,#b9af99,#a0a698,#879e9b,#6a93a1,#5385a3,#4579a1,#3d6f9f,#35659c,#315c97,#2e5493,#2b4e90,#2a4b8e,#2a4b8f,#2a4c8f,#2a4d8f,#2d5292,#305a96,#34629a,#3b6c9e,#4477a1,#4d81a3,#5b89a2,#6d95a1)"></div><div style="top:236px;height:2.5px;background:linear-gradient(90deg,#f2d9ca,#f8e6e0,#faeae5,#faeae5,#faeae5,#faeae5,#faeae5,#faeae5,#fae9e4,#f6e1d7,#f2dacb,#efd4c1,#e7cdba,#e0c8b3,#dbc5b0,#dac4af,#dac4af,#dac4af,#dac4af,#d9c4ae,#d8c3ad,#d7c2ac,#d3bfaa,#cab9a2,#b6ae99,#9ea598,#849d9c,#6791a1,#5083a3,#4477a1,#3b6d9e,#34639b,#305a96,#2d5292,#2a4b8f,#29488c,#29488c,#29488d,#29498d,#2b4e90,#2f5694,#325e99,#38699d,#4174a0,#4a7da2,#5787a2,#6992a1)"></div><div style="top:238px;height:2.5px;background:linear-gradient(90deg,#f2d9ca,#f8e6e0,#faeae5,#faeae5,#faeae5,#faeae5,#faeae5,#faeae5,#fae9e4,#f6e2d8,#f2dacc,#efd4c2,#e8ceba,#e0c9b4,#dbc5b0,#dac4af,#d9c3ae,#d8c3ae,#d8c3ad,#d8c3ad,#d7c2ac,#d5c1ab,#d2bfa9,#c8b7a0,#b3ad99,#9ba498,#819c9c,#648fa2,#4d81a3,#4375a0,#3a6c9e,#33619a,#2f5795,#2c5091,#29488d,#28448a,#28458a,#28458a,#29468b,#2a4b8e,#2d5392,#315b97,#35659c,#3e709f,#477aa2,#5284a3,#658fa2)"></div><div style="top:240px;height:2.5px;background:linear-gradient(90deg,#f2d9ca,#f8e6e0,#faeae5,#faeae5,#faeae5,#faeae5,#faeae5,#faeae5,#fae9e5,#f6e2d9,#f3dacc,#f0d4c2,#e8cebb,#e1c9b4,#dbc5b0,#d9c4ae,#d8c3ad,#d7c2ad,#d7c2ac,#d6c2ac,#d5c1ab,#d4c0aa,#d1bea8,#c6b69e,#b0ac99,#98a398,#7f9b9d,#618da2,#4b7fa3,#4174a0,#396a9e,#335f99,#2e5594,#2b4d90,#29458b,#284188,#284188,#284288,#284289,#29478c,#2b4f91,#2f5795,#34629a,#3b6d9e,#4477a1,#4e81a3,#608ca2)"></div><div style="top:242px;height:2.5px;background:linear-gradient(90deg,#f2d9ca,#f8e6e0,#faeae5,#faeae5,#faeae5,#faeae5,#faeae5,#faeae5,#fae9e5,#f7e3da,#f3dbcd,#f0d5c3,#e9cfbb,#e1c9b5,#dbc5b0,#d9c3ae,#d7c2ad,#d6c2ac,#d6c1ac,#d5c1ab,#d4c0aa,#d2bfa9,#d0bda6,#c3b49d,#adab99,#95a298,#7c9a9e,#5e8ba2,#497da2,#4072a0,#37689d,#325d98,#2d5393,#2a4b8e,#284389,#273e86,#273e86,#273e86,#273f86,#28448a,#2a4c8f,#2e5493,#325f99,#386a9e,#4174a0,#4b7ea3,#5c8aa2)"></div><div style="top:244px;height:2.5px;background:linear-gradient(90deg,#f2d9ca,#f8e6e0,#faeae5,#faeae5,#faeae5,#faeae5,#faeae5,#faeae5,#fae9e5,#f7e3da,#f3dbcd,#f0d5c3,#e9cfbb,#e1c9b5,#dbc5b0,#d8c3ae,#d7c2ac,#d6c1ab,#d5c0ab,#d4c0aa,#d3bfa9,#d1bea8,#cebca5,#c1b29b,#aaaa99,#92a198,#79999e,#5b89a2,#487ba2,#3e709f,#36679d,#315c97,#2c5192,#29498d,#274088,#263c84,#263c84,#263c84,#263c85,#274088,#29498d,#2c5192,#315c97,#36679d,#3f719f,#487ba2,#5887a2)"></div><div style="top:246px;height:2.5px;background:linear-gradient(90deg,#f2d9ca,#f8e6e0,#faeae5,#faeae5,#faeae5,#faeae5,#faeae5,#faeae5,#fae9e5,#f7e3db,#f3dbce,#f0d5c3,#e9cfbb,#e1c9b5,#dbc5b0,#d8c3ad,#d6c1ac,#d5c0ab,#d4c0aa,#d3bfa9,#d2bea8,#cfbda6,#ccbaa4,#bfb199,#a7a898,#90a199,#76989f,#5888a2,#4679a1,#3d6f9f,#35659c,#305a96,#2c5091,#29478c,#273e86,#263983,#263983,#263983,#263983,#273d86,#29468b,#2b4e90,#305996,#35649b,#3c6e9f,#4679a1,#5385a3)"></div><div style="top:248px;height:2.5px;background:linear-gradient(90deg,#f2d9c9,#f8e6e0,#faeae5,#faeae5,#faeae5,#faeae5,#faeae5,#faeae5,#fae9e5,#f7e4db,#f3dbce,#f0d5c3,#e9cfbb,#e1c9b5,#dbc5b0,#d7c2ad,#d5c1ab,#d4c0aa,#d3bfa9,#d2bea8,#d0bda7,#cdbba5,#c9b8a2,#bbb099,#a3a798,#8c9f9a,#7397a0,#5686a2,#4578a1,#3c6d9f,#34649b,#305895,#2b4e90,#28458a,#263c85,#253782,#253681,#253681,#253681,#263a84,#284389,#2a4c8f,#2e5694,#33619a,#3a6b9e,#4376a1,#4f82a3)"></div><div style="top:250px;height:2.5px;background:linear-gradient(90deg,#f2d9c9,#f8e6e0,#faeae5,#faeae5,#faeae5,#faeae5,#faeae5,#faeae5,#fae9e5,#f7e4dc,#f3dcce,#f0d5c3,#e9cfbb,#e1c9b5,#dbc5b0,#d7c2ac,#d5c0ab,#d3bfaa,#d2bfa9,#d1bea7,#cfbca6,#cbb9a3,#c6b69e,#b7ae99,#9ea698,#899e9b,#6f95a1,#5385a3,#4376a1,#3a6c9e,#34629a,#2f5795,#2a4c8f,#284389,#263b84,#253580,#25347f,#24347f,#24347f,#253782,#274087,#29498d,#2d5393,#325e99,#38699d,#4173a0,#4b7fa3)"></div><div style="top:252px;height:2.5px;background:linear-gradient(90deg,#f2d8c9,#f8e6e0,#faeae5,#faeae5,#faeae5,#faeae5,#faeae5,#fae9e5,#fae9e5,#f7e4dc,#f3dcce,#f0d5c3,#e9cfbb,#e1c9b5,#dac4af,#d6c2ac,#d4c0aa,#d3bfa9,#d1bea8,#d0bda7,#cebba5,#c8b7a0,#c1b29b,#b2ac99,#99a498,#849d9c,#6c94a1,#5183a3,#4275a0,#396a9e,#33609a,#2e5594,#2a4b8e,#284188,#263983,#24337f,#24317e,#24317e,#24317e,#253480,#273d85,#29468b,#2c5191,#315c97,#36669d,#3e709f,#487ba2)"></div><div style="top:254px;height:2.5px;background:linear-gradient(90deg,#f1d8c8,#f8e6e0,#faeae5,#faeae5,#faeae5,#faeae5,#fae9e5,#fae9e5,#fae9e4,#f7e4dd,#f3dccf,#f0d5c3,#e9cfbb,#e1c9b4,#dac4af,#d6c1ab,#d4c0aa,#d2bea8,#d1bda7,#cfbca6,#ccbaa4,#c5b59e,#bcb099,#acab99,#94a298,#809b9d,#6891a1,#4e82a3,#4173a0,#38699d,#325f99,#2e5493,#29498d,#274087,#253782,#24317e,#232f7c,#232e7c,#232e7c,#24317e,#263a83,#284389,#2b4e90,#305996,#34639b,#3b6d9e,#4578a1)"></div><div style="top:256px;height:2.5px;background:linear-gradient(90deg,#f1d8c8,#f8e6e0,#faeae5,#faeae5,#faeae5,#faeae5,#fae9e5,#fae9e5,#fae9e4,#f8e5dd,#f3dccf,#f0d5c3,#e9cfbb,#e1c9b4,#dac4af,#d5c1ab,#d3bfa9,#d1bea8,#d0bda7,#cebba5,#cbb9a2,#c2b39b,#b7ae99,#a6a898,#8fa099,#7b999e,#648fa2,#4c80a3,#4072a0,#36689d,#325d98,#2d5392,#29488c,#273e86,#253681,#242f7d,#232c7b,#232c7a,#232c7a,#232f7c,#253781,#274087,#2a4c8f,#2f5694,#33609a,#396a9e,#4274a0)"></div><div style="top:258px;height:2.5px;background:linear-gradient(90deg,#f1d7c7,#f8e6e0,#faeae5,#faeae5,#faeae5,#fae9e5,#fae9e5,#fae9e4,#fae9e4,#f8e5dd,#f3dccf,#f0d5c3,#e9cfbb,#e0c9b4,#d9c4ae,#d4c0aa,#d2bfa9,#d1bea7,#cfbca6,#cdbba4,#c9b8a1,#beb199,#b1ac99,#a0a698,#8a9f9a,#76989f,#618da2,#4a7ea3,#3e709f,#36669c,#315c97,#2c5192,#29468b,#263c85,#253480,#232e7b,#222a79,#222978,#222978,#232c7a,#253480,#273e86,#29498d,#2d5493,#325d98,#36679d,#3e719f)"></div><div style="top:260px;height:2.5px;background:linear-gradient(90deg,#f1d7c7,#f8e6df,#faeae5,#faeae5,#faeae5,#fae9e5,#fae9e5,#fae9e4,#f9e9e3,#f8e5de,#f3dccf,#f0d5c3,#e9cfbb,#e0c9b4,#d9c3ae,#d4c0aa,#d2bea8,#d0bda7,#cebca5,#ccbaa3,#c7b7a0,#bbb099,#abaa99,#9aa498,#859d9c,#7196a0,#5d8aa2,#497ca2,#3d6f9f,#35649c,#305a96,#2c5091,#28458a,#263b84,#24337f,#232c7a,#222877,#212777,#212777,#222978,#24317e,#263b84,#29468b,#2c5192,#305b97,#35649b,#3b6d9e)"></div><div style="top:262px;height:2.5px;background:linear-gradient(90deg,#f1d7c6,#f8e6df,#faeae5,#faeae5,#fae9e5,#fae9e5,#fae9e4,#fae9e4,#f9e8e3,#f8e5de,#f4dccf,#f0d5c3,#e9cfbb,#e0c8b4,#d8c3ae,#d3bfaa,#d1bea8,#cfbda6,#cdbba5,#cab9a2,#c6b69e,#b7ae99,#a6a898,#93a298,#809b9d,#6c94a1,#5988a2,#477aa2,#3c6e9f,#34639b,#305996,#2b4f90,#28448a,#263983,#24317e,#222a79,#212576,#212575,#212475,#212676,#232f7c,#263882,#284389,#2b4e90,#2f5895,#33619a,#38699e)"></div><div style="top:264px;height:2.5px;background:linear-gradient(90deg,#f1d6c6,#f8e6df,#faeae5,#faeae5,#fae9e5,#fae9e5,#fae9e4,#f9e9e4,#f9e8e3,#f8e5de,#f4dcd0,#f0d5c3,#e9cfbb,#e0c8b4,#d8c3ad,#d3bfa9,#d1bda7,#cfbca6,#ccbaa4,#c9b8a1,#c4b49d,#b4ad99,#a0a698,#8ea099,#7b999e,#6891a1,#5586a2,#4679a1,#3b6c9e,#33619a,#2f5795,#2b4d90,#284289,#253882,#24307d,#222878,#202374,#202274,#202274,#202475,#232c7b,#253681,#274087,#2a4c8f,#2e5594,#325d98,#35669c)"></div><div style="top:266px;height:2.5px;background:linear-gradient(90deg,#f1d6c5,#f8e6df,#faeae5,#faeae5,#fae9e5,#fae9e5,#fae9e4,#f9e8e3,#f9e8e2,#f8e5de,#f4ddd0,#f0d5c3,#e9cfbb,#e0c8b4,#d8c3ad,#d3bfa9,#d0bda7,#cebba5,#cbbaa3,#c8b7a0,#c2b39b,#b1ac99,#9ba498,#899e9b,#77989f,#648fa2,#5283a3,#4477a1,#396b9e,#336099,#2e5694,#2a4c8f,#274188,#253781,#232e7c,#212777,#202173,#202072,#202072,#202273,#222a79,#24337f,#273d86,#29488d,#2d5292,#305a96,#34629a)"></div><div style="top:268px;height:2.5px;background:linear-gradient(90deg,#f1d6c5,#f8e6df,#faeae5,#faeae5,#fae9e5,#fae9e4,#fae9e4,#f9e8e3,#f9e8e2,#f8e5de,#f4ddd0,#f0d5c3,#e9cfbb,#e0c8b4,#d8c3ad,#d2bfa9,#cfbda6,#cdbba4,#cab9a2,#c6b69f,#c0b29a,#adab99,#96a398,#859d9c,#7296a0,#608ca2,#4e81a3,#4275a0,#38699e,#325e98,#2e5493,#2a4a8e,#273f87,#253580,#232d7b,#212576,#1f2072,#1f1f71,#1f1f71,#1f2072,#222877,#24317d,#263b84,#29458b,#2b4f91,#2f5795,#325e99)"></div><div style="top:270px;height:2.5px;background:linear-gradient(90deg,#f0d6c5,#f8e6df,#faeae5,#faeae5,#fae9e5,#fae9e4,#f9e9e4,#f9e8e3,#f9e7e1,#f8e5de,#f4ddd0,#f0d5c3,#e9cfbb,#e0c8b3,#d8c2ad,#d2bfa9,#cfbca6,#ccbaa4,#c9b8a1,#c5b59e,#beb199,#aaaa99,#93a198,#819b9d,#6e95a1,#5d8aa2,#4b7fa3,#4173a0,#37689d,#315d98,#2d5292,#29498d,#273e86,#25347f,#232c7a,#212475,#1f1e71,#1f1d70,#1f1d70,#1f1e71,#212676,#232e7c,#253882,#284289,#2a4c8f,#2d5493,#315b97)"></div><div style="top:272px;height:2.5px;background:linear-gradient(90deg,#f0d6c5,#f8e5de,#fae9e5,#fae9e5,#fae9e4,#fae9e4,#f9e8e3,#f9e8e2,#f9e7e1,#f8e5de,#f4ddd0,#f0d5c4,#e9cfbb,#dfc8b3,#d8c2ad,#d2bfa9,#cebca5,#cbb9a3,#c7b7a0,#c2b39c,#bbb099,#a7a898,#8fa099,#7d9a9d,#6b93a1,#5988a2,#497da2,#3f719f,#36669c,#315b97,#2c5191,#29478c,#263c85,#24327e,#222a79,#202274,#1f1d70,#1e1c6f,#1e1c6f,#1f1d70,#202474,#232c7a,#253580,#273f87,#29488d,#2c5091,#2f5895)"></div><div style="top:274px;height:2.5px;background:linear-gradient(90deg,#f0d6c5,#f8e5dd,#f9e8e3,#f9e9e3,#f9e9e3,#f9e8e3,#f9e8e3,#f9e7e2,#f8e7e0,#f8e5de,#f4ddd0,#f0d5c4,#e9cfbb,#dfc8b3,#d8c3ad,#d2bfa9,#cebba5,#c9b8a2,#c5b59e,#bfb199,#b8ae99,#a3a798,#8c9f9a,#79999e,#6891a1,#5686a2,#477ba2,#3d6f9f,#35649c,#305996,#2b4f91,#28458a,#263a84,#24317d,#222878,#202173,#1e1c6f,#1e1b6e,#1e1b6e,#1e1c6f,#202273,#222a79,#24327e,#263c84,#28458a,#2a4d90,#2e5493)"></div><div style="top:276px;height:2.5px;background:linear-gradient(90deg,#f0d6c5,#f7e4db,#f9e7e2,#f9e8e2,#f9e8e2,#f9e8e2,#f9e8e2,#f9e7e1,#f8e6e0,#f8e5dd,#f4dcd0,#f0d5c4,#e9cfbb,#dfc8b3,#d8c3ad,#d2bfa9,#cdbba4,#c8b7a0,#c3b49c,#bcb099,#b4ad99,#9fa698,#889e9b,#76989f,#648fa2,#5384a3,#4579a1,#3c6d9f,#34629b,#2f5795,#2b4d90,#284389,#263983,#232f7c,#212777,#1f1f72,#1e1a6e,#1e1a6d,#1e1a6e,#1e1a6e,#1f2072,#212777,#242f7d,#253882,#274188,#29498d,#2c5191)"></div><div style="top:278px;height:2.5px;background:linear-gradient(90deg,#f0d6c5,#f6e2d9,#f8e6df,#f8e7e0,#f9e7e1,#f9e7e1,#f9e7e1,#f8e7e0,#f8e6df,#f7e4dd,#f4dcd0,#f0d5c4,#e9cfbb,#dfc8b3,#d8c3ad,#d2bfa9,#ccbaa4,#c6b69f,#c0b29a,#b8af99,#afac99,#9ba498,#859d9c,#7296a0,#618da2,#5082a3,#4376a1,#3a6b9e,#33609a,#2e5694,#2a4c8f,#274188,#253781,#232d7b,#212575,#1f1e70,#1e196d,#1d186d,#1d196d,#1e196d,#1f1e71,#212575,#232c7b,#253480,#273d85,#28458a,#2b4d90)"></div><div style="top:280px;height:2.5px;background:linear-gradient(90deg,#f0d6c5,#f6e1d7,#f7e5dd,#f8e5de,#f8e6df,#f8e6e0,#f8e6e0,#f8e6df,#f8e5de,#f7e4dc,#f4dccf,#f0d5c4,#e9cfbb,#dfc8b3,#d8c3ad,#d2bfa9,#ccbaa3,#c4b59d,#bdb099,#b5ad99,#abaa99,#96a398,#829c9c,#6f95a1,#5e8ba2,#4d80a3,#4174a0,#38699e,#325e99,#2e5493,#294a8d,#273f86,#253580,#232c7a,#202374,#1e1c6f,#1d186c,#1d176c,#1d186c,#1d186d,#1e1c6f,#202273,#222978,#24317e,#263983,#274188,#29498d)"></div><div style="top:282px;height:2.5px;background:linear-gradient(90deg,#f0d6c5,#f5e0d5,#f7e3da,#f7e4dc,#f8e5dd,#f8e6de,#f8e6df,#f8e5de,#f8e5dd,#f7e3db,#f3dccf,#f0d6c4,#e9cfbb,#dfc8b3,#d8c3ad,#d2bfa9,#cbb9a3,#c3b49c,#baaf99,#b1ac99,#a6a898,#93a198,#7e9b9d,#6c94a1,#5b89a2,#4a7ea3,#4072a0,#36679d,#315d98,#2d5292,#29488c,#273d85,#24337f,#222a79,#202273,#1e1b6e,#1d166b,#1d166b,#1d176c,#1d176c,#1e1b6e,#1f2072,#212676,#232d7b,#253580,#273d85,#29468b)"></div><div style="top:284px;height:2.5px;background:linear-gradient(90deg,#f0d6c5,#f4ded3,#f6e1d7,#f6e2d9,#f7e4db,#f8e5dd,#f8e5de,#f8e5dd,#f7e4dc,#f7e3da,#f3dccf,#f0d6c4,#e9cfbb,#dfc8b3,#d8c3ad,#d2bfa9,#cab9a2,#c1b29b,#b8af99,#adab99,#a2a798,#8fa099,#7b9a9e,#6992a1,#5888a2,#497ca2,#3e709f,#35659c,#315b97,#2c5091,#29468b,#263b84,#24327e,#222978,#202072,#1e1a6e,#1d156b,#1d156b,#1d166b,#1d166b,#1e196d,#1f1e70,#202374,#222a79,#24317e,#263983,#284289)"></div><div style="top:286px;height:2.5px;background:linear-gradient(90deg,#f0d6c5,#f4ddd0,#f5e0d5,#f6e1d7,#f6e2d9,#f7e4db,#f7e4dd,#f7e4dc,#f7e3db,#f6e2d9,#f3dccf,#f0d6c4,#e9cfbb,#dfc7b3,#d8c3ad,#d2bfa9,#cab9a2,#c0b199,#b6ae99,#aaaa99,#9ea598,#8c9f9a,#78999f,#6690a1,#5586a2,#477aa2,#3c6e9f,#34639b,#305996,#2b4f90,#28448a,#263983,#24307d,#212777,#1f1f71,#1d196d,#1c146a,#1c156a,#1c156a,#1d166b,#1d186c,#1e1b6f,#202172,#212676,#232d7b,#253580,#273f86)"></div><div style="top:288px;height:2.5px;background:linear-gradient(90deg,#f0d6c5,#f3dcce,#f4ded2,#f5e0d5,#f6e1d8,#f7e3da,#f7e4db,#f7e4db,#f7e3da,#f6e1d7,#f3dccf,#f0d6c5,#e9cfbb,#dfc7b3,#d8c3ad,#d2bfa9,#c9b8a1,#beb199,#b4ad99,#a7a998,#9aa498,#889e9b,#76989f,#648fa2,#5384a3,#4578a1,#3a6c9e,#33619a,#2f5795,#2b4d90,#284289,#253782,#232f7c,#212676,#1f1e71,#1d186c,#1c1469,#1c1469,#1c146a,#1c156a,#1d166b,#1e196d,#1f1e71,#202374,#222a79,#24327e,#263c84)"></div><div style="top:290px;height:2.5px;background:linear-gradient(90deg,#f0d6c5,#f3dacc,#f4ddd0,#f5ded3,#f5e0d6,#f6e2d8,#f7e3da,#f7e3da,#f6e2d9,#f6e0d6,#f3dcce,#f0d6c5,#e9cfbb,#dfc7b3,#d8c3ad,#d2bfa9,#c9b8a1,#bdb099,#b2ac99,#a5a898,#97a398,#869d9b,#7397a0,#618da2,#5083a3,#4476a1,#396a9e,#336099,#2e5594,#2a4c8f,#274088,#253681,#232e7b,#212576,#1f1d70,#1d176c,#1c1369,#1c1369,#1c1469,#1c146a,#1c156a,#1d186c,#1e1c6f,#1f2072,#212676,#232f7c,#263983)"></div><div style="top:292px;height:2.5px;background:linear-gradient(90deg,#f0d6c5,#f2d9ca,#f3dcce,#f4ddd1,#f5dfd4,#f6e1d7,#f6e2d9,#f6e2d9,#f6e1d7,#f5e0d5,#f3dcce,#f0d6c5,#e9cfbb,#dfc7b3,#d8c3ad,#d2bfa9,#c9b8a1,#bdb099,#b1ac99,#a3a798,#94a298,#839c9c,#7196a0,#5f8ca2,#4e81a3,#4275a0,#38699d,#325e98,#2e5493,#2a4a8e,#273f87,#253580,#232c7b,#212475,#1e1c6f,#1d166b,#1c1369,#1c1369,#1c1369,#1c1369,#1c1469,#1d166b,#1e196d,#1f1e70,#202374,#232c7a,#253781)"></div><div style="top:294px;height:2.5px;background:linear-gradient(90deg,#f0d6c5,#f2d9c9,#f3dbcd,#f4ddd0,#f5dfd3,#f5e0d6,#f6e1d8,#f6e1d8,#f6e0d6,#f5dfd4,#f3dbce,#f0d6c5,#e9cfbb,#dfc7b3,#d8c3ae,#d2bfa9,#c8b8a1,#bcb099,#b0ac99,#a2a798,#93a298,#819c9c,#6f95a1,#5d8aa2,#4c80a3,#4173a0,#36689d,#315d98,#2d5392,#29498d,#273e86,#25347f,#232c7a,#202474,#1e1c6f,#1d166b,#1c1269,#1c1268,#1c1268,#1c1268,#1c1268,#1c146a,#1d176c,#1e1b6f,#202173,#222979,#253580)"></div><div style="top:296px;height:2.5px;background:linear-gradient(90deg,#f0d6c5,#f1d8c8,#f2dacc,#f3dccf,#f4ded2,#f5e0d5,#f6e1d6,#f6e1d6,#f5e0d5,#f4ded2,#f3dbcd,#f0d6c5,#e9cfbb,#dfc7b3,#d8c3ae,#d2bfa9,#c9b8a1,#bdb099,#b0ac99,#a2a798,#92a198,#809b9d,#6d94a1,#5b89a2,#4a7ea2,#3f72a0,#36669d,#315b97,#2c5192,#29478c,#273d85,#24337f,#222b7a,#202374,#1e1c6f,#1d166b,#1c1269,#1c1268,#1b1168,#1b1168,#1b1168,#1c1369,#1d166b,#1e196d,#1f1f71,#212777,#24347f)"></div><div style="top:298px;height:2.5px;background:linear-gradient(90deg,#f0d5c4,#f1d8c8,#f2dacb,#f3dcce,#f4ddd1,#f5dfd4,#f5e0d5,#f5e0d5,#f5dfd3,#f4ddd1,#f3dacc,#f0d5c4,#e9cfbb,#dfc8b3,#d9c4ae,#d3bfa9,#cab9a2,#beb199,#b1ac99,#a3a798,#91a199,#7f9b9d,#6b93a1,#5988a2,#497ca2,#3e709f,#35659c,#305a96,#2c5091,#29468b,#263b84,#24327e,#222a79,#202374,#1e1c6f,#1d166b,#1c1269,#1b1168,#1b1167,#1b1067,#1b1067,#1b1168,#1c1469,#1d176c,#1f1d70,#212576,#24327e)"></div><div style="top:300px;height:2.5px;background:linear-gradient(90deg,#f0d5c3,#f1d7c7,#f2dacb,#f3dbce,#f4ddd0,#f4ded3,#f5dfd4,#f5dfd3,#f4ded1,#f3dcce,#f2d9ca,#f0d5c3,#e9cfbb,#e1c9b4,#dbc5af,#d4c0aa,#cbbaa3,#bfb199,#b3ad99,#a4a798,#91a199,#7d9a9d,#6992a1,#5686a2,#477aa2,#3d6f9f,#35649b,#305996,#2b4e90,#28448a,#263a84,#24317e,#222a79,#202374,#1e1c6f,#1d166b,#1c1369,#1b1167,#1b1067,#1b0f66,#1b0f66,#1b1067,#1c1268,#1d166b,#1e1b6e,#202374,#24317e)"></div><div style="top:302px;height:2.5px;background:linear-gradient(90deg,#efd3c1,#f1d7c7,#f2d9ca,#f3dbcd,#f4dcd0,#f4ded2,#f4ded2,#f4ded2,#f4dccf,#f3dacc,#f1d8c8,#f0d4c2,#e9cfbb,#e2cab5,#dcc6b1,#d5c1ab,#cdbba4,#c1b29b,#b5ad99,#a5a898,#91a199,#7c9a9e,#6791a1,#5485a3,#4679a1,#3c6d9f,#34639b,#2f5895,#2b4d90,#284389,#263983,#24317d,#222978,#202274,#1e1c6f,#1d166b,#1c1369,#1b1167,#1b0f66,#1b0e66,#1a0e65,#1b0e66,#1b1167,#1c146a,#1e196d,#202173,#24307d)"></div><div style="top:304px;height:2.5px;background:linear-gradient(90deg,#eed2bf,#f1d7c6,#f2d9ca,#f3dbcd,#f3dccf,#f4ddd0,#f4ddd1,#f4ddd0,#f3dbce,#f2d9ca,#f1d7c6,#efd3c1,#e9cfbb,#e3cbb6,#ddc6b2,#d7c2ac,#cebca5,#c3b49c,#b6ae99,#a6a898,#90a199,#7b9a9e,#6690a1,#5384a3,#4578a1,#3b6c9e,#34629a,#2f5795,#2a4c8f,#284289,#263983,#24307d,#222978,#202273,#1e1c6f,#1d166b,#1c1369,#1b1067,#1b0f66,#1a0d65,#1a0d65,#1a0d65,#1b0f66,#1c1369,#1d176c,#1f2072,#242f7d)"></div><div style="top:306px;height:2.5px;background:linear-gradient(90deg,#ecd1be,#f1d7c6,#f2d9c9,#f2dacc,#f3dbce,#f3dccf,#f4dcd0,#f3dcce,#f2dacc,#f1d8c8,#f0d5c4,#eed3c0,#e9cfbb,#e4cbb7,#dec7b2,#d7c2ad,#cfbca6,#c4b59d,#b7ae99,#a6a898,#90a199,#7b999e,#6590a2,#5284a3,#4477a1,#3a6c9e,#34629a,#2f5694,#2a4c8f,#284188,#263882,#24307d,#222978,#202273,#1e1c6f,#1d166b,#1c1369,#1b1067,#1b0e66,#1a0d65,#1a0c64,#1a0d64,#1b0f66,#1c1268,#1d176b,#1f1f71,#232f7c)"></div><div style="top:308px;height:2.5px;background:linear-gradient(90deg,#ebd0bd,#f0d6c5,#f1d8c8,#f2dacb,#f3dbcd,#f3dbce,#f3dbce,#f3dbcc,#f2d9ca,#f1d7c6,#f0d4c2,#edd2bf,#e9cfbb,#e4cbb7,#dec7b2,#d8c2ad,#cfbda6,#c5b59e,#b8af99,#a7a998,#90a199,#7b999e,#658fa2,#5283a3,#4477a1,#3a6c9e,#34629a,#2f5694,#2a4b8f,#284188,#253882,#24307d,#222978,#202273,#1e1c6f,#1d176b,#1c1369,#1b1067,#1b0e66,#1a0d65,#1a0c64,#1a0c64,#1b0e66,#1c1268,#1d166b,#1f1f71,#232f7c)"></div><div style="top:310px;height:2.5px;background:linear-gradient(90deg,#eacfbc,#f0d5c4,#f1d7c7,#f2d9ca,#f2dacb,#f3dacc,#f3dacc,#f2d9cb,#f1d8c8,#f0d6c4,#efd3c1,#ecd1be,#e9cfbb,#e4cbb7,#dec7b2,#d7c2ad,#cfbda6,#c5b59e,#b8af99,#a7a998,#90a199,#7b999e,#6590a2,#5284a3,#4477a1,#3a6c9e,#34629a,#2f5795,#2a4c8f,#284288,#263982,#24307d,#222978,#202274,#1e1c6f,#1d176c,#1c1369,#1b1167,#1b0e66,#1a0d65,#1a0c64,#1a0d64,#1b0f66,#1c1268,#1d166b,#1f1f71,#232f7c)"></div><div style="top:312px;height:2.5px;background:linear-gradient(90deg,#e8cebb,#f0d5c3,#f1d7c6,#f1d8c8,#f2d9ca,#f2d9ca,#f2d9ca,#f1d8c8,#f1d7c6,#f0d5c3,#eed2bf,#ebd0bd,#e8ceba,#e3cbb6,#dec7b2,#d7c2ad,#cfbca6,#c5b59e,#b8af99,#a8a998,#91a199,#7b999e,#6690a1,#5384a3,#4578a1,#3b6d9e,#34639b,#2f5895,#2a4d90,#284389,#263a83,#24327e,#222a79,#202474,#1f1d70,#1d186c,#1c1469,#1b1168,#1b0f66,#1a0d65,#1a0c64,#1a0d65,#1b0f66,#1c1268,#1d176b,#1f1f71,#232f7c)"></div><div style="top:314px;height:2.5px;background:linear-gradient(90deg,#e7ceba,#efd4c1,#f0d6c5,#f1d7c7,#f1d8c8,#f1d8c8,#f1d8c8,#f1d7c6,#f0d5c4,#efd4c1,#edd1be,#e9cfbb,#e7cdb9,#e2cab6,#ddc6b2,#d7c2ac,#cfbca6,#c5b59e,#b9af99,#a8a998,#91a199,#7c9a9e,#6790a1,#5485a3,#4579a1,#3c6e9f,#35649b,#305996,#2b4f90,#28458a,#263c84,#24337f,#232c7a,#212575,#1f1e71,#1d196d,#1c146a,#1c1268,#1b0f66,#1a0e65,#1a0d65,#1a0d65,#1b0f66,#1c1268,#1d176c,#1f1f72,#242f7c)"></div><div style="top:316px;height:2.5px;background:linear-gradient(90deg,#e6cdb9,#eed3c0,#f0d5c3,#f1d6c5,#f1d7c6,#f1d7c6,#f1d6c5,#f0d5c4,#f0d4c2,#eed3c0,#ebd0bd,#e8ceba,#e5ccb8,#e1c9b5,#dcc6b1,#d7c2ac,#cfbca6,#c5b69e,#b9af99,#a8a998,#92a199,#7c9a9e,#6791a1,#5585a2,#477aa2,#3d6f9f,#35659c,#315b97,#2c5091,#29478c,#273e86,#253580,#232e7c,#212777,#1f2072,#1e1a6e,#1d156b,#1c1369,#1b1067,#1b0e66,#1a0d65,#1a0e65,#1b0f66,#1c1369,#1d176c,#1f2072,#24307d)"></div><div style="top:318px;height:2.5px;background:linear-gradient(90deg,#e5ccb8,#edd1be,#efd4c1,#f0d5c3,#f0d5c4,#f0d5c4,#f0d5c3,#efd4c2,#efd3c0,#edd2be,#eacfbc,#e6cdb9,#e3cbb6,#dfc8b3,#dcc5b0,#d6c1ac,#cfbca6,#c6b69e,#b9af99,#a9a998,#93a198,#7d9a9d,#6892a1,#5686a2,#487ba2,#3e709f,#36679d,#315c98,#2d5292,#29498d,#274087,#253882,#24307d,#222978,#202173,#1e1b6f,#1d166b,#1c1369,#1b1167,#1b0f66,#1b0e66,#1b0e65,#1b1067,#1c1369,#1d186c,#202072,#24307d)"></div><div style="top:320px;height:2.5px;background:linear-gradient(90deg,#e4cbb7,#ebd0bd,#eed2bf,#efd4c1,#efd4c1,#efd4c1,#efd3c1,#eed3c0,#edd2bf,#ecd1bd,#e9cebb,#e5ccb8,#e1c9b5,#dec7b2,#dbc5af,#d6c1ab,#cfbca6,#c6b69e,#b9af99,#a9a998,#93a298,#7e9a9d,#6992a1,#5787a2,#497ca2,#4072a0,#37689d,#325e98,#2e5593,#2a4c8f,#284289,#263a83,#24327e,#222b79,#202374,#1e1c6f,#1d176c,#1c146a,#1c1268,#1b1067,#1b0f66,#1b0f66,#1b1067,#1c1369,#1d186d,#202173,#24317d)"></div><div style="top:322px;height:2.5px;background:linear-gradient(90deg,#e3cab6,#e9cfbb,#ecd1be,#eed2bf,#eed2bf,#eed2bf,#edd2bf,#ecd1be,#ecd1bd,#ead0bc,#e7ceba,#e4cbb7,#e0c8b4,#ddc6b1,#dac4af,#d5c0ab,#cebca5,#c6b69f,#b9af99,#a9a998,#94a298,#7e9b9d,#6a93a1,#5988a2,#4a7da2,#4173a0,#386a9e,#336099,#2f5694,#2b4e90,#28448a,#263c85,#25347f,#232c7b,#212475,#1f1e70,#1d186d,#1d156a,#1c1369,#1b1167,#1b1067,#1b0f66,#1b1167,#1c146a,#1e196d,#202273,#24317e)"></div><div style="top:324px;height:2.5px;background:linear-gradient(90deg,#e1c9b5,#e7cdb9,#eacfbc,#ecd1bd,#ecd1bd,#ecd1bd,#ebd0bd,#ebd0bc,#eacfbc,#e9cfbb,#e6cdb9,#e2cab6,#dfc7b3,#dbc5b0,#d9c3ae,#d4c0aa,#cebca5,#c6b69f,#b9af99,#aaaa99,#95a298,#7f9b9d,#6b93a1,#5a88a2,#4b7ea3,#4274a0,#396b9e,#33619a,#2f5895,#2b4f91,#29468b,#273d86,#253681,#232e7c,#212676,#1f1f71,#1e196d,#1d166b,#1c1469,#1c1268,#1b1167,#1b1067,#1b1168,#1c146a,#1e1a6e,#202274,#24327e)"></div><div style="top:326px;height:2.5px;background:linear-gradient(90deg,#e0c8b4,#e5ccb7,#e8ceba,#eacfbc,#eacfbc,#e9cfbb,#e9cfbb,#e9cfbb,#e9cebb,#e8ceba,#e5ccb8,#e1c9b5,#dec7b2,#dac4af,#d7c2ad,#d3bfa9,#cebba5,#c6b69f,#b9af99,#aaaa99,#95a298,#7f9b9d,#6c93a1,#5a89a2,#4b7fa3,#4275a0,#3a6c9e,#34629b,#305996,#2c5091,#29488c,#273f86,#253781,#232f7c,#212777,#1f1f71,#1e1a6e,#1d176b,#1c146a,#1c1369,#1b1168,#1b1167,#1c1268,#1c156a,#1e1a6e,#202374,#24337f)"></div><div style="top:328px;height:2.5px;background:linear-gradient(90deg,#dfc7b3,#e2cab6,#e6ccb8,#e7ceba,#e7ceba,#e7ceba,#e7ceba,#e7cdba,#e7cdba,#e6cdb9,#e4cbb7,#e1c9b4,#ddc6b1,#dac4af,#d6c2ac,#d2bfa9,#cdbba5,#c6b69f,#b9af99,#aaaa99,#95a298,#7f9b9d,#6c94a1,#5b89a2,#4c80a3,#4375a0,#3a6c9e,#34639b,#305a96,#2c5192,#29488d,#273f87,#253782,#242f7c,#212777,#1f2072,#1e1a6e,#1d176c,#1c156a,#1c1469,#1c1268,#1c1268,#1c1268,#1d166b,#1e1b6f,#212475,#253480)"></div><div style="top:330px;height:2.5px;background:linear-gradient(90deg,#ddc6b1,#e0c8b4,#e3cab6,#e5ccb8,#e5ccb8,#e5ccb8,#e6ccb8,#e6cdb9,#e6cdb9,#e5ccb8,#e3cbb7,#e0c9b4,#ddc6b1,#d9c4ae,#d5c1ab,#d1bea8,#ccbaa3,#c4b59d,#b8af99,#a8a998,#94a298,#7e9b9d,#6b93a1,#5a89a2,#4b7fa3,#4275a0,#3a6b9e,#34629a,#305996,#2c5091,#29478c,#273e86,#253681,#232f7c,#212676,#1f1f71,#1e1a6e,#1d176c,#1d166b,#1c146a,#1c1369,#1c1369,#1c1369,#1d176b,#1f1d70,#212676,#253681)"></div><div style="top:332px;height:2.5px;background:linear-gradient(90deg,#dac4af,#ddc6b1,#e0c8b4,#e1c9b5,#e2cab6,#e3cbb7,#e4cbb7,#e5ccb8,#e5ccb8,#e5ccb7,#e3cab6,#e0c9b4,#ddc6b2,#d9c3ae,#d4c0aa,#cfbca6,#c8b7a0,#beb199,#b2ac99,#a2a798,#8fa099,#7b999e,#6791a1,#5686a2,#497ca2,#4073a0,#38699d,#325f99,#2e5594,#2a4d8f,#284389,#263b84,#24337f,#232c7a,#212475,#1f1e71,#1e196d,#1d176c,#1d166b,#1c156a,#1c146a,#1c1469,#1c146a,#1d186c,#1f1f71,#222978,#263a84)"></div><div style="top:334px;height:2.5px;background:linear-gradient(90deg,#d8c2ad,#dac4af,#dcc6b1,#dec7b2,#e0c8b4,#e2c9b5,#e3cab6,#e4cbb7,#e4cbb7,#e4cbb7,#e2cab6,#e0c8b4,#ddc7b2,#d9c3ae,#d3bfa9,#ccbaa3,#c2b39c,#b7ae99,#a9a998,#99a498,#889e9b,#75979f,#628ea2,#5183a3,#4679a1,#3d6f9f,#35669c,#315b97,#2c5192,#29488c,#273e86,#253681,#242f7c,#222978,#202273,#1e1c6f,#1d196d,#1d186c,#1d176b,#1d166b,#1d166b,#1d156a,#1d166b,#1e1a6e,#202273,#232d7b,#273f87)"></div><div style="top:336px;height:2.5px;background:linear-gradient(90deg,#d6c1ac,#d8c3ad,#dac4af,#dcc5b0,#dec7b2,#e0c8b4,#e2cab5,#e3cab6,#e3cbb6,#e3cab6,#e2c9b5,#e0c8b4,#ddc7b2,#d8c3ae,#d1bea8,#c8b8a1,#bcb099,#afac99,#a1a698,#91a199,#819c9c,#7096a1,#5d8ba2,#4c80a3,#4376a1,#3b6d9e,#34639b,#2f5895,#2b4e90,#28448a,#263b84,#24337f,#232c7a,#212676,#1f2072,#1e1b6f,#1d186d,#1d186c,#1d176c,#1d176c,#1d176c,#1d176c,#1d176c,#1e1c6f,#212475,#24307d,#28448a)"></div><div style="top:338px;height:2.5px;background:linear-gradient(90deg,#d6c1ab,#d7c2ad,#d9c3ae,#dac4af,#dcc6b1,#dec7b2,#e0c8b4,#e2c9b5,#e2cab5,#e2c9b5,#e1c9b4,#dfc8b3,#ddc7b2,#d8c3ad,#cfbca6,#c5b59e,#b8ae99,#aaaa99,#9ba498,#8c9f9a,#7c9a9e,#6c94a1,#5a89a2,#4a7ea2,#4174a0,#396b9e,#33619a,#2f5794,#2a4d8f,#284389,#263a83,#24327e,#232c7a,#212676,#1f2072,#1e1b6f,#1d186d,#1d186c,#1d186d,#1d186d,#1d196d,#1d196d,#1e196d,#1f1e71,#212777,#24347f,#29468b)"></div><div style="top:340px;height:2.5px;background:linear-gradient(90deg,#d6c1ab,#d7c2ac,#d8c3ad,#d9c4ae,#dbc5b0,#ddc6b1,#dfc7b3,#e0c8b4,#e0c9b4,#e0c8b4,#e0c8b3,#dfc7b3,#ddc6b1,#d6c1ab,#ccbaa3,#c1b29a,#b4ad99,#a5a898,#97a398,#889e9b,#79999f,#6992a1,#5787a2,#497ca2,#4072a0,#38699e,#336099,#2e5694,#2a4c8f,#284389,#263a84,#24327e,#232c7a,#212676,#202072,#1e1c6f,#1e196d,#1e196d,#1e1a6e,#1e1a6e,#1e1a6e,#1e1a6e,#1e1b6e,#202072,#222b7a,#253781,#29478c)"></div><div style="top:342px;height:2.5px;background:linear-gradient(90deg,#d6c1ab,#d7c2ac,#d7c2ad,#d8c3ae,#dac4af,#dbc5b0,#ddc6b1,#dec7b2,#dfc7b3,#dfc7b3,#dec7b2,#dec7b2,#dcc5b0,#d2bfa9,#c7b7a0,#bcb099,#afac99,#a1a798,#93a298,#859d9c,#75979f,#6690a1,#5585a2,#477ba2,#3f719f,#37689d,#325e99,#2e5594,#2a4c8f,#284389,#263b84,#24337f,#232d7b,#212777,#202273,#1f1d70,#1e1b6e,#1e1b6e,#1e1c6f,#1e1c6f,#1e1c6f,#1e1c6f,#1f1d70,#202374,#232f7c,#263a83,#29488c)"></div><div style="top:344px;height:2.5px;background:linear-gradient(90deg,#d6c1ab,#d6c2ac,#d7c2ad,#d8c3ad,#d9c3ae,#dac4af,#dbc5b0,#dcc6b1,#dcc6b1,#ddc6b1,#ddc6b1,#dcc6b1,#dac4af,#cebba5,#c2b39c,#b8ae99,#abaa99,#9ea598,#90a199,#829c9c,#7296a0,#638ea2,#5384a3,#4679a1,#3e709f,#36679d,#325d98,#2e5493,#2a4c8f,#284389,#263b84,#25347f,#232e7c,#222978,#202475,#1f2072,#1f1d70,#1f1d70,#1f1e70,#1f1e71,#1f1e71,#1f1f71,#1f1f71,#212676,#24337f,#273d85,#29498d)"></div><div style="top:346px;height:2.5px;background:linear-gradient(90deg,#d6c1ab,#d6c1ac,#d7c2ac,#d7c2ad,#d8c3ad,#d9c3ae,#dac4af,#dac4af,#dac4af,#dbc5b0,#dbc5b0,#dac4af,#d8c3ad,#c8b7a0,#bcb099,#b3ad99,#a7a998,#9aa498,#8da09a,#7f9b9d,#6f95a1,#608ca2,#5083a3,#4578a1,#3d6f9f,#36669c,#315c97,#2d5393,#2a4b8f,#28438a,#263c84,#253580,#24307d,#222b79,#212676,#202274,#1f2072,#1f2072,#202072,#202172,#202173,#202173,#202173,#222978,#253681,#274087,#2a4a8e)"></div><div style="top:348px;height:2.5px;background:linear-gradient(90deg,#d6c1ab,#d6c1ac,#d7c2ac,#d7c2ac,#d7c2ad,#d8c2ad,#d8c3ad,#d8c3ae,#d8c3ad,#d9c3ae,#d9c3ae,#d8c3ad,#d5c1ab,#c2b39b,#b6ae99,#adab99,#a2a798,#96a398,#8a9e9a,#7c9a9e,#6c93a1,#5d8aa2,#4e81a3,#4477a1,#3c6e9f,#35659c,#315c97,#2d5393,#2a4b8e,#28448a,#263c85,#253681,#24317e,#232d7b,#222978,#212576,#202374,#202374,#202374,#202474,#202474,#202474,#212475,#232d7b,#263a83,#284389,#2a4b8e)"></div><div style="top:350px;height:2.5px;background:linear-gradient(90deg,#d6c1ab,#d6c1ac,#d6c1ac,#d6c1ac,#d6c2ac,#d6c2ac,#d6c2ac,#d6c1ac,#d6c1ac,#d6c1ac,#d6c1ac,#d5c1ab,#d2bfa9,#bbb099,#b0ac99,#a7a898,#9ca598,#91a199,#869d9b,#78989f,#6891a1,#5988a2,#4b7fa3,#4375a0,#3b6c9e,#35649b,#315b97,#2d5393,#2a4b8e,#28448a,#273d85,#253882,#24337f,#232f7c,#232b7a,#222878,#212777,#212676,#212676,#212776,#212777,#212777,#212777,#242f7d,#263c85,#28448a,#2a4b8e)"></div><div style="top:352px;height:2.5px;background:linear-gradient(90deg,#d6c1ab,#d6c1ab,#d5c1ab,#d5c1ab,#d5c1ab,#d5c1ab,#d5c0ab,#d4c0aa,#d4c0aa,#d3bfaa,#d3bfa9,#d2bea8,#cfbca6,#b5ad99,#a9a998,#a0a698,#95a298,#8b9f9a,#809b9d,#7397a0,#638ea2,#5586a2,#497da2,#4173a0,#396b9e,#34639b,#315b97,#2d5392,#2a4b8e,#28448a,#273e86,#263983,#253580,#24327e,#232e7c,#232c7a,#222a79,#222a79,#222a79,#222a79,#222a79,#222a79,#222a79,#24327e,#273d85,#28458a,#2a4b8e)"></div><div style="top:354px;height:2.5px;background:linear-gradient(90deg,#d5c1ab,#d5c0ab,#d5c0ab,#d4c0aa,#d4c0aa,#d4c0aa,#d3bfaa,#d3bfa9,#d2bfa9,#d0bda7,#cdbba4,#cab9a2,#c6b69e,#adab99,#a1a698,#97a398,#8da09a,#839c9c,#78999f,#6b93a1,#5d8ba2,#5082a3,#477aa2,#3f719f,#38699e,#34629a,#305b97,#2d5393,#2a4c8f,#29468b,#274188,#263c85,#263983,#253681,#24337f,#24307d,#232f7c,#232f7c,#232f7c,#232f7c,#232f7c,#232f7c,#232f7c,#253580,#273e86,#28458a,#2a4b8e)"></div><div style="top:356px;height:2.5px;background:linear-gradient(90deg,#d4c0aa,#d4c0aa,#d3bfaa,#d3bfa9,#d3bfa9,#d2bfa9,#d2bea8,#d1bea8,#d1bea7,#ccbaa3,#c4b59d,#beb199,#b7ae99,#a3a798,#97a398,#8ea09a,#849c9c,#79999e,#6d95a1,#628ea2,#5686a2,#4b7fa3,#4476a1,#3d6f9f,#37689d,#33619a,#305b97,#2e5594,#2b4f91,#2a4a8e,#28458b,#284188,#273e86,#263b84,#263882,#253681,#253580,#253580,#253580,#253580,#253580,#253580,#253580,#263983,#273e86,#28448a,#29498d)"></div><div style="top:358px;height:2.5px;background:linear-gradient(90deg,#d2bfa9,#d2bfa9,#d2bfa8,#d2bea8,#d1bea8,#d1bea8,#d0bda7,#d0bda7,#cfbca6,#c6b69f,#baaf99,#afac99,#a5a898,#97a398,#8c9f9a,#829c9c,#78989f,#6c94a1,#628da2,#5787a2,#4d81a3,#4679a1,#4072a0,#3a6b9e,#35659c,#336099,#305a97,#2e5694,#2c5192,#2b4d90,#29498d,#29468b,#284389,#274087,#273d85,#263b84,#263a83,#263983,#263983,#263983,#263983,#263983,#263a83,#263b84,#273e86,#284389,#29478c)"></div><div style="top:360px;height:2.5px;background:linear-gradient(90deg,#d1bea7,#d1bea7,#d0bda7,#d0bda7,#d0bda7,#cfbca6,#cebca5,#cdbba4,#cbb9a3,#bfb199,#afab99,#a1a798,#95a298,#8b9f9a,#809b9d,#76989f,#6b93a1,#608ca2,#5686a2,#4c80a3,#4679a1,#4173a0,#3b6d9e,#36679d,#34629b,#325e98,#305a96,#2e5694,#2d5292,#2b4e90,#2a4a8e,#29478c,#28448a,#274188,#273e86,#263c85,#263b84,#263b84,#263b84,#263b84,#263b84,#263b84,#263b84,#263c85,#273e86,#284188,#28458a)"></div><div style="top:362px;height:2.5px;background:linear-gradient(90deg,#cfbca6,#cfbca6,#cebca6,#cebca5,#cdbba5,#ccbba4,#cab9a2,#c5b69e,#c0b29a,#b3ad99,#a1a798,#92a199,#859d9c,#7b999e,#7096a0,#6690a1,#5c8aa2,#5284a3,#497da2,#4476a1,#3e709f,#396b9e,#35669c,#33619a,#315d98,#305996,#2f5794,#2d5393,#2c4f91,#2a4c8f,#29488d,#28458b,#284389,#274087,#273d85,#263b84,#263983,#263983,#263983,#263983,#263983,#263983,#263983,#263a83,#263c85,#273f86,#284288)"></div><div style="top:364px;height:2.5px;background:linear-gradient(90deg,#ccbaa4,#ccbaa4,#ccbaa4,#cbbaa3,#cbb9a2,#c9b8a2,#c5b59e,#bbaf99,#b1ac99,#a2a798,#91a199,#829c9c,#7497a0,#6992a1,#5f8ba2,#5485a3,#4b7fa3,#4578a1,#4072a0,#3a6c9e,#36669c,#33619a,#315c97,#2f5895,#2e5594,#2d5292,#2c5091,#2b4d90,#2a4b8e,#29488c,#28458a,#284289,#274087,#273d85,#263a83,#253782,#253681,#253580,#253580,#253580,#253580,#253580,#253580,#253681,#263882,#263b84,#273e86)"></div><div style="top:366px;height:2.5px;background:linear-gradient(90deg,#cab9a2,#cab8a2,#c9b8a1,#c8b8a1,#c7b7a0,#c6b69f,#bfb199,#aeab99,#9ea598,#8fa099,#809b9d,#7196a0,#628ea2,#5686a2,#4b7fa3,#4477a1,#3f719f,#3a6b9e,#35669c,#335f99,#305996,#2e5594,#2c5192,#2b4e90,#2a4c8f,#29498d,#29478c,#28458a,#284389,#284188,#273f87,#273e86,#263b84,#253882,#253580,#24327e,#24307d,#242f7d,#242f7d,#242f7d,#242f7d,#242f7d,#24307d,#24317d,#24337f,#253681,#263a83)"></div><div style="top:368px;height:0.9px;background:linear-gradient(90deg,#c9b8a1,#c8b8a1,#c8b7a0,#c7b7a0,#c6b69f,#c5b59e,#bdb099,#a9a998,#96a398,#889e9b,#79999e,#6a93a1,#5c8aa2,#4e81a3,#4679a1,#3f719f,#396b9e,#35669c,#33609a,#305a96,#2e5493,#2c5091,#2a4d8f,#2a4a8e,#29478c,#28458b,#284389,#284188,#274087,#273e86,#273d85,#263b84,#263983,#253681,#24327e,#232f7c,#232d7b,#232d7b,#232d7b,#232d7b,#232d7b,#232d7b,#232d7b,#232e7c,#24317d,#25347f,#253882)"></div></div>
<div class="cb" style="left:497.30px;background:linear-gradient(180deg,#00404D,#134B42,#265737,#3A652A,#52741C,#71870B,#969206,#C5AE32,#E7CD68,#FFE599)"></div>
<div class="cb" style="left:1081.30px;background:linear-gradient(180deg,#1A1A01,#422818,#73382F,#A54742,#D2624D,#E48751,#ECA855,#F4CC68,#FBEC9A,#FFFFCC)"></div>
<div class="cb" style="left:1665.30px;background:linear-gradient(180deg,#1A0C64,#232D7B,#2A4C8F,#36679D,#4C80A3,#6E95A1,#94A298,#BFB199,#EFD3C0,#FEF2F3)"></div>
<svg width="1772" height="533" viewBox="0 0 1772 533">
<text x="120.40" y="480.80" font-size="30.30" text-anchor="middle" class="s">12</text>
<rect x="172.27" y="433" width="1.3" height="14" class="tk"/>
<text x="172.92" y="480.80" font-size="30.30" text-anchor="middle" class="s">2</text>
<rect x="224.79" y="433" width="1.3" height="14" class="tk"/>
<text x="225.44" y="480.80" font-size="30.30" text-anchor="middle" class="s">4</text>
<rect x="277.31" y="433" width="1.3" height="14" class="tk"/>
<text x="277.96" y="480.80" font-size="30.30" text-anchor="middle" class="s">6</text>
<rect x="329.83" y="433" width="1.3" height="14" class="tk"/>
<text x="330.48" y="480.80" font-size="30.30" text-anchor="middle" class="s">8</text>
<rect x="382.35" y="433" width="1.3" height="14" class="tk"/>
<text x="383.00" y="480.80" font-size="30.30" text-anchor="middle" class="s">10</text>
<rect x="434.87" y="433" width="1.3" height="14" class="tk"/>
<text x="435.52" y="480.80" font-size="30.30" text-anchor="middle" class="s">12</text>
<rect x="120.50" y="387.58" width="13.8" height="1.3" class="tk"/>
<text x="106.00" y="397.53" font-size="30.30" text-anchor="end" class="s">40</text>
<rect x="120.50" y="325.95" width="13.8" height="1.3" class="tk"/>
<text x="106.00" y="335.90" font-size="30.30" text-anchor="end" class="s">45</text>
<rect x="120.50" y="264.33" width="13.8" height="1.3" class="tk"/>
<text x="106.00" y="274.28" font-size="30.30" text-anchor="end" class="s">50</text>
<rect x="120.50" y="202.70" width="13.8" height="1.3" class="tk"/>
<text x="106.00" y="212.65" font-size="30.30" text-anchor="end" class="s">55</text>
<rect x="120.50" y="141.07" width="13.8" height="1.3" class="tk"/>
<text x="106.00" y="151.03" font-size="30.30" text-anchor="end" class="s">60</text>
<rect x="120.50" y="79.45" width="13.8" height="1.3" class="tk"/>
<text x="106.00" y="89.40" font-size="30.30" text-anchor="end" class="s">65</text>
<rect x="117.10" y="78.40" width="3.65" height="371.70" fill="#000"/>
<rect x="117.10" y="446.50" width="347.80" height="3.6" fill="#000"/>
<text x="292.20" y="524.70" font-size="40.00" text-anchor="middle" class="s">month</text>
<text x="89.30" y="33.30" font-size="33.60" text-anchor="start" class="b">A</text>
<text x="151.80" y="34.70" font-size="37.00" text-anchor="start" class="s" textLength="306.00" lengthAdjust="spacingAndGlyphs">Carbon (gC/frond)</text>
<rect x="497.95" y="78.25" width="52.6" height="370.3" fill="none" stroke="#111" stroke-width="1.3"/>
<rect x="498.60" y="121.80" width="15" height="1.2" class="ck"/>
<rect x="534.90" y="121.80" width="15" height="1.2" class="ck"/>
<text x="563.70" y="132.40" font-size="30.30" text-anchor="start" class="s">15</text>
<rect x="498.60" y="187.05" width="15" height="1.2" class="ck"/>
<rect x="534.90" y="187.05" width="15" height="1.2" class="ck"/>
<text x="563.70" y="197.65" font-size="30.30" text-anchor="start" class="s">12</text>
<rect x="498.60" y="252.30" width="15" height="1.2" class="ck"/>
<rect x="534.90" y="252.30" width="15" height="1.2" class="ck"/>
<text x="563.70" y="262.90" font-size="30.30" text-anchor="start" class="s">9</text>
<rect x="498.60" y="317.55" width="15" height="1.2" class="ck"/>
<rect x="534.90" y="317.55" width="15" height="1.2" class="ck"/>
<text x="563.70" y="328.15" font-size="30.30" text-anchor="start" class="s">6</text>
<rect x="498.60" y="382.80" width="15" height="1.2" class="ck"/>
<rect x="534.90" y="382.80" width="15" height="1.2" class="ck"/>
<text x="563.70" y="393.40" font-size="30.30" text-anchor="start" class="s">3</text>
<text x="704.40" y="480.80" font-size="30.30" text-anchor="middle" class="s">12</text>
<rect x="756.27" y="433" width="1.3" height="14" class="tk"/>
<text x="756.92" y="480.80" font-size="30.30" text-anchor="middle" class="s">2</text>
<rect x="808.79" y="433" width="1.3" height="14" class="tk"/>
<text x="809.44" y="480.80" font-size="30.30" text-anchor="middle" class="s">4</text>
<rect x="861.31" y="433" width="1.3" height="14" class="tk"/>
<text x="861.96" y="480.80" font-size="30.30" text-anchor="middle" class="s">6</text>
<rect x="913.83" y="433" width="1.3" height="14" class="tk"/>
<text x="914.48" y="480.80" font-size="30.30" text-anchor="middle" class="s">8</text>
<rect x="966.35" y="433" width="1.3" height="14" class="tk"/>
<text x="967.00" y="480.80" font-size="30.30" text-anchor="middle" class="s">10</text>
<rect x="1018.87" y="433" width="1.3" height="14" class="tk"/>
<text x="1019.52" y="480.80" font-size="30.30" text-anchor="middle" class="s">12</text>
<rect x="704.50" y="387.58" width="13.8" height="1.3" class="tk"/>
<text x="690.00" y="397.53" font-size="30.30" text-anchor="end" class="s">40</text>
<rect x="704.50" y="325.95" width="13.8" height="1.3" class="tk"/>
<text x="690.00" y="335.90" font-size="30.30" text-anchor="end" class="s">45</text>
<rect x="704.50" y="264.33" width="13.8" height="1.3" class="tk"/>
<text x="690.00" y="274.28" font-size="30.30" text-anchor="end" class="s">50</text>
<rect x="704.50" y="202.70" width="13.8" height="1.3" class="tk"/>
<text x="690.00" y="212.65" font-size="30.30" text-anchor="end" class="s">55</text>
<rect x="704.50" y="141.07" width="13.8" height="1.3" class="tk"/>
<text x="690.00" y="151.03" font-size="30.30" text-anchor="end" class="s">60</text>
<rect x="704.50" y="79.45" width="13.8" height="1.3" class="tk"/>
<text x="690.00" y="89.40" font-size="30.30" text-anchor="end" class="s">65</text>
<rect x="701.10" y="78.40" width="3.65" height="371.70" fill="#000"/>
<rect x="701.10" y="446.50" width="347.80" height="3.6" fill="#000"/>
<text x="876.20" y="524.70" font-size="40.00" text-anchor="middle" class="s">month</text>
<text x="670.50" y="33.80" font-size="33.60" text-anchor="start" class="b">B</text>
<text x="725.00" y="34.70" font-size="37.00" text-anchor="start" class="s" textLength="326.50" lengthAdjust="spacingAndGlyphs">Nitrogen (gN/frond)</text>
<rect x="1081.95" y="78.25" width="52.6" height="370.3" fill="none" stroke="#111" stroke-width="1.3"/>
<rect x="1082.60" y="117.40" width="15" height="1.2" class="ck"/>
<rect x="1118.90" y="117.40" width="15" height="1.2" class="ck"/>
<text x="1147.70" y="128.00" font-size="30.30" text-anchor="start" class="s" textLength="39.60" lengthAdjust="spacingAndGlyphs">0.5</text>
<rect x="1082.60" y="183.70" width="15" height="1.2" class="ck"/>
<rect x="1118.90" y="183.70" width="15" height="1.2" class="ck"/>
<text x="1147.70" y="194.30" font-size="30.30" text-anchor="start" class="s" textLength="39.60" lengthAdjust="spacingAndGlyphs">0.4</text>
<rect x="1082.60" y="250.00" width="15" height="1.2" class="ck"/>
<rect x="1118.90" y="250.00" width="15" height="1.2" class="ck"/>
<text x="1147.70" y="260.60" font-size="30.30" text-anchor="start" class="s" textLength="39.60" lengthAdjust="spacingAndGlyphs">0.3</text>
<rect x="1082.60" y="316.30" width="15" height="1.2" class="ck"/>
<rect x="1118.90" y="316.30" width="15" height="1.2" class="ck"/>
<text x="1147.70" y="326.90" font-size="30.30" text-anchor="start" class="s" textLength="39.60" lengthAdjust="spacingAndGlyphs">0.2</text>
<rect x="1082.60" y="382.60" width="15" height="1.2" class="ck"/>
<rect x="1118.90" y="382.60" width="15" height="1.2" class="ck"/>
<text x="1147.70" y="393.20" font-size="30.30" text-anchor="start" class="s" textLength="39.60" lengthAdjust="spacingAndGlyphs">0.1</text>
<text x="1288.40" y="480.80" font-size="30.30" text-anchor="middle" class="s">12</text>
<rect x="1340.27" y="433" width="1.3" height="14" class="tk"/>
<text x="1340.92" y="480.80" font-size="30.30" text-anchor="middle" class="s">2</text>
<rect x="1392.79" y="433" width="1.3" height="14" class="tk"/>
<text x="1393.44" y="480.80" font-size="30.30" text-anchor="middle" class="s">4</text>
<rect x="1445.31" y="433" width="1.3" height="14" class="tk"/>
<text x="1445.96" y="480.80" font-size="30.30" text-anchor="middle" class="s">6</text>
<rect x="1497.83" y="433" width="1.3" height="14" class="tk"/>
<text x="1498.48" y="480.80" font-size="30.30" text-anchor="middle" class="s">8</text>
<rect x="1550.35" y="433" width="1.3" height="14" class="tk"/>
<text x="1551.00" y="480.80" font-size="30.30" text-anchor="middle" class="s">10</text>
<rect x="1602.87" y="433" width="1.3" height="14" class="tk"/>
<text x="1603.52" y="480.80" font-size="30.30" text-anchor="middle" class="s">12</text>
<rect x="1288.50" y="387.58" width="13.8" height="1.3" class="tk"/>
<text x="1274.00" y="397.53" font-size="30.30" text-anchor="end" class="s">40</text>
<rect x="1288.50" y="325.95" width="13.8" height="1.3" class="tk"/>
<text x="1274.00" y="335.90" font-size="30.30" text-anchor="end" class="s">45</text>
<rect x="1288.50" y="264.33" width="13.8" height="1.3" class="tk"/>
<text x="1274.00" y="274.28" font-size="30.30" text-anchor="end" class="s">50</text>
<rect x="1288.50" y="202.70" width="13.8" height="1.3" class="tk"/>
<text x="1274.00" y="212.65" font-size="30.30" text-anchor="end" class="s">55</text>
<rect x="1288.50" y="141.07" width="13.8" height="1.3" class="tk"/>
<text x="1274.00" y="151.03" font-size="30.30" text-anchor="end" class="s">60</text>
<rect x="1288.50" y="79.45" width="13.8" height="1.3" class="tk"/>
<text x="1274.00" y="89.40" font-size="30.30" text-anchor="end" class="s">65</text>
<rect x="1285.10" y="78.40" width="3.65" height="371.70" fill="#000"/>
<rect x="1285.10" y="446.50" width="347.80" height="3.6" fill="#000"/>
<text x="1460.20" y="524.70" font-size="40.00" text-anchor="middle" class="s">month</text>
<text x="1270.50" y="35.40" font-size="33.60" text-anchor="start" class="b">C</text>
<text x="1339.30" y="36.10" font-size="37.00" text-anchor="start" class="s" textLength="268.50" lengthAdjust="spacingAndGlyphs">Carbon:Nitrogen</text>
<rect x="1665.95" y="78.25" width="52.6" height="370.3" fill="none" stroke="#111" stroke-width="1.3"/>
<rect x="1666.60" y="151.30" width="15" height="1.2" class="ck"/>
<rect x="1702.90" y="151.30" width="15" height="1.2" class="ck"/>
<text x="1731.70" y="161.90" font-size="30.30" text-anchor="start" class="s">40</text>
<rect x="1666.60" y="239.60" width="15" height="1.2" class="ck"/>
<rect x="1702.90" y="239.60" width="15" height="1.2" class="ck"/>
<text x="1731.70" y="250.20" font-size="30.30" text-anchor="start" class="s">30</text>
<rect x="1666.60" y="328.00" width="15" height="1.2" class="ck"/>
<rect x="1702.90" y="328.00" width="15" height="1.2" class="ck"/>
<text x="1731.70" y="338.60" font-size="30.30" text-anchor="start" class="s">20</text>
<rect x="1666.60" y="416.30" width="15" height="1.2" class="ck"/>
<rect x="1702.90" y="416.30" width="15" height="1.2" class="ck"/>
<text x="1731.70" y="426.90" font-size="30.30" text-anchor="start" class="s">10</text>
<text transform="translate(40.20,264.20) rotate(-90)" font-size="37.0" text-anchor="middle" class="s" textLength="196.0" lengthAdjust="spacingAndGlyphs">Latitude/°N</text>
</svg></div></body></html>
